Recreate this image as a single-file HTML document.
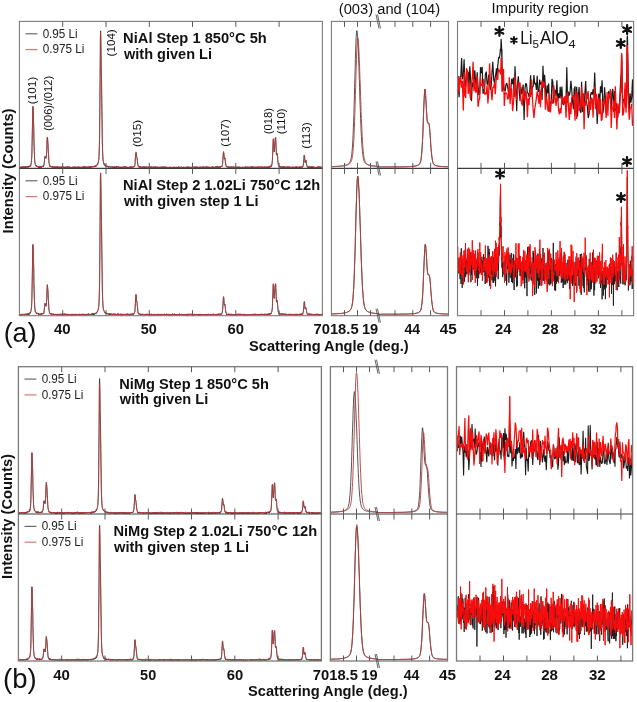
<!DOCTYPE html>
<html><head><meta charset="utf-8"><title>XRD figure</title>
<style>html,body{margin:0;padding:0;background:#fff;width:637px;height:702px;overflow:hidden}body{position:relative}</style>
</head><body>
<svg width="637" height="702" viewBox="0 0 637 702" style="position:absolute;left:0;top:0;will-change:transform"><rect width="637" height="702" fill="#fff"/><path d="M19.4 167.8L19.6 167.1L19.7 167.3L19.9 166.9L20.1 166.9L20.3 167.7L20.4 167.2L20.6 168.2L20.8 167.4L21.0 167.2L21.1 167.7L21.3 168.0L21.5 167.5L21.7 166.9L21.8 167.5L22.0 167.8L22.2 167.2L22.3 167.1L22.5 167.7L22.7 167.4L22.9 167.0L23.0 167.2L23.2 167.1L23.4 167.4L23.6 167.4L23.7 167.7L23.9 167.6L24.1 166.8L24.2 167.4L24.4 167.6L24.6 167.4L24.8 167.6L24.9 167.1L25.1 166.9L25.3 167.6L25.5 166.9L25.6 166.5L25.8 167.6L26.0 166.9L26.2 167.1L26.3 166.7L26.5 166.7L26.7 166.7L26.8 167.0L27.0 167.2L27.2 166.3L27.4 167.3L27.5 166.6L27.7 166.6L27.9 167.2L28.1 166.9L28.2 166.3L28.4 167.5L28.6 166.5L28.7 166.8L28.9 166.7L29.1 167.1L29.3 166.3L29.4 166.7L29.6 166.0L29.8 166.5L30.0 165.7L30.1 165.7L30.3 166.3L30.5 165.5L30.7 165.1L30.8 165.5L31.0 164.3L31.2 163.2L31.3 162.7L31.5 160.3L31.7 158.5L31.9 154.3L32.0 147.5L32.2 139.0L32.4 129.0L32.6 118.2L32.7 109.3L32.9 106.6L33.1 107.7L33.3 112.8L33.4 117.9L33.6 123.5L33.8 130.6L33.9 137.8L34.1 145.7L34.3 151.5L34.5 155.9L34.6 158.9L34.8 161.1L35.0 163.1L35.2 163.5L35.3 164.5L35.5 165.3L35.7 165.6L35.8 166.1L36.0 165.6L36.2 165.5L36.4 166.4L36.5 166.3L36.7 166.7L36.9 166.4L37.1 166.9L37.2 166.8L37.4 166.9L37.6 166.8L37.8 166.9L37.9 166.8L38.1 166.9L38.3 167.2L38.4 166.7L38.6 167.5L38.8 166.9L39.0 167.3L39.1 166.9L39.3 166.9L39.5 167.7L39.7 166.9L39.8 166.5L40.0 166.7L40.2 166.9L40.4 167.7L40.5 167.1L40.7 167.3L40.9 166.6L41.0 167.1L41.2 167.2L41.4 167.6L41.6 166.7L41.7 167.1L41.9 167.0L42.1 166.5L42.3 166.8L42.4 166.7L42.6 165.9L42.8 166.8L42.9 166.7L43.1 166.3L43.3 165.8L43.5 166.6L43.6 165.9L43.8 165.7L44.0 165.1L44.2 163.3L44.3 162.3L44.5 160.2L44.7 158.4L44.9 156.9L45.0 156.3L45.2 156.9L45.4 157.1L45.5 157.5L45.7 157.9L45.9 158.5L46.1 158.2L46.2 157.9L46.4 156.5L46.6 153.5L46.8 149.5L46.9 144.4L47.1 140.6L47.3 137.6L47.4 137.4L47.6 139.2L47.8 142.4L48.0 144.2L48.1 146.8L48.3 150.3L48.5 154.1L48.7 157.8L48.8 160.1L49.0 162.9L49.2 163.3L49.4 164.9L49.5 164.9L49.7 166.3L49.9 165.8L50.0 166.1L50.2 166.6L50.4 166.9L50.6 166.2L50.7 166.5L50.9 166.2L51.1 166.8L51.3 166.8L51.4 166.8L51.6 166.7L51.8 166.9L52.0 166.8L52.1 167.2L52.3 167.6L52.5 166.4L52.6 167.1L52.8 167.0L53.0 167.3L53.2 166.9L53.3 167.1L53.5 166.8L53.7 167.5L53.9 167.3L54.0 167.2L54.2 167.4L54.4 167.2L54.5 166.7L54.7 167.5L54.9 167.4L55.1 167.2L55.2 167.7L55.4 167.7L55.6 166.9L55.8 167.1L55.9 167.9L56.1 167.8L56.3 167.1L56.5 166.9L56.6 167.1L56.8 167.2L57.0 166.8L57.1 167.4L57.3 166.9L57.5 166.9L57.7 167.7L57.8 167.1L58.0 167.4L58.2 167.6L58.4 167.7L58.5 167.3L58.7 167.4L58.9 167.1L59.0 168.0L59.2 167.6L59.4 167.0L59.6 167.4L59.7 167.6L59.9 167.6L60.1 168.0L60.3 167.9L60.4 167.2L60.6 167.4L60.8 167.0L61.0 167.5L61.1 167.5L61.3 168.4L61.5 167.4L61.6 166.7L61.8 167.2L62.0 167.5L62.2 167.0L62.3 167.1L62.5 167.3L62.7 167.5L62.9 167.4L63.0 167.1L63.2 167.7L63.4 167.2L63.6 167.2L63.7 166.9L63.9 167.2L64.1 167.7L64.2 166.9L64.4 167.4L64.6 167.7L64.8 167.3L64.9 167.5L65.1 167.0L65.3 167.9L65.5 167.8L65.6 167.5L65.8 166.8L66.0 167.1L66.1 167.8L66.3 168.0L66.5 167.5L66.7 167.9L66.8 167.2L67.0 167.4L67.2 167.4L67.4 167.6L67.5 166.9L67.7 167.8L67.9 167.9L68.1 167.0L68.2 167.0L68.4 167.6L68.6 167.2L68.7 166.6L68.9 167.7L69.1 167.5L69.3 167.3L69.4 168.2L69.6 167.5L69.8 167.2L70.0 167.5L70.1 167.1L70.3 167.2L70.5 167.6L70.7 167.2L70.8 167.3L71.0 168.0L71.2 167.7L71.3 167.7L71.5 167.6L71.7 167.6L71.9 167.9L72.0 167.4L72.2 168.1L72.4 167.1L72.6 167.3L72.7 166.9L72.9 167.3L73.1 167.6L73.2 167.9L73.4 167.2L73.6 167.4L73.8 167.3L73.9 167.2L74.1 167.0L74.3 167.5L74.5 166.8L74.6 167.5L74.8 167.4L75.0 167.2L75.2 167.1L75.3 166.9L75.5 168.1L75.7 167.0L75.8 168.0L76.0 167.6L76.2 167.3L76.4 167.0L76.5 167.8L76.7 168.0L76.9 167.1L77.1 167.3L77.2 167.8L77.4 167.5L77.6 168.1L77.7 167.2L77.9 167.6L78.1 167.0L78.3 168.1L78.4 167.2L78.6 166.6L78.8 167.4L79.0 167.4L79.1 168.1L79.3 167.3L79.5 167.4L79.7 167.6L79.8 168.0L80.0 167.4L80.2 167.8L80.3 167.6L80.5 167.3L80.7 167.4L80.9 167.4L81.0 167.1L81.2 167.8L81.4 166.9L81.6 167.8L81.7 167.7L81.9 167.4L82.1 167.1L82.3 167.3L82.4 167.5L82.6 167.6L82.8 167.5L82.9 167.7L83.1 167.2L83.3 167.5L83.5 166.8L83.6 167.6L83.8 167.4L84.0 167.2L84.2 167.8L84.3 167.6L84.5 166.4L84.7 167.4L84.8 166.8L85.0 167.7L85.2 168.2L85.4 167.2L85.5 167.4L85.7 167.3L85.9 167.5L86.1 167.6L86.2 167.8L86.4 167.0L86.6 167.9L86.8 167.0L86.9 167.4L87.1 167.7L87.3 167.6L87.4 167.0L87.6 167.0L87.8 167.1L88.0 167.3L88.1 167.7L88.3 166.8L88.5 167.4L88.7 167.5L88.8 167.4L89.0 167.4L89.2 167.8L89.3 167.4L89.5 167.5L89.7 167.4L89.9 167.8L90.0 166.5L90.2 167.6L90.4 167.1L90.6 167.1L90.7 166.8L90.9 166.5L91.1 167.0L91.3 166.9L91.4 167.3L91.6 166.6L91.8 167.6L91.9 167.2L92.1 167.0L92.3 166.8L92.5 166.7L92.6 166.6L92.8 166.8L93.0 166.9L93.2 166.9L93.3 166.4L93.5 166.8L93.7 166.5L93.9 166.8L94.0 167.4L94.2 166.9L94.4 166.6L94.5 166.1L94.7 166.1L94.9 165.9L95.1 166.7L95.2 166.1L95.4 166.4L95.6 166.0L95.8 166.2L95.9 166.6L96.1 165.7L96.3 165.7L96.4 165.4L96.6 165.9L96.8 165.0L97.0 164.8L97.1 164.5L97.3 164.2L97.5 164.6L97.7 165.0L97.8 163.3L98.0 163.5L98.2 162.7L98.4 161.5L98.5 160.9L98.7 159.8L98.9 158.0L99.0 156.4L99.2 151.2L99.4 145.8L99.6 136.0L99.7 121.2L99.9 101.8L100.1 78.4L100.3 53.9L100.4 35.9L100.6 30.9L100.8 37.3L101.0 51.0L101.1 62.3L101.3 69.9L101.5 77.7L101.6 87.8L101.8 102.6L102.0 117.4L102.2 130.7L102.3 141.6L102.5 148.6L102.7 153.9L102.9 156.6L103.0 159.3L103.2 160.8L103.4 161.6L103.5 162.3L103.7 163.8L103.9 163.2L104.1 163.7L104.2 164.2L104.4 165.2L104.6 165.7L104.8 165.3L104.9 165.2L105.1 165.4L105.3 166.1L105.5 165.5L105.6 166.5L105.8 166.6L106.0 166.2L106.1 166.5L106.3 166.6L106.5 167.0L106.7 166.1L106.8 166.9L107.0 166.5L107.2 166.4L107.4 166.7L107.5 166.6L107.7 166.4L107.9 166.2L108.0 166.5L108.2 167.4L108.4 167.6L108.6 167.1L108.7 167.4L108.9 166.8L109.1 167.0L109.3 167.1L109.4 166.6L109.6 166.7L109.8 167.1L110.0 167.0L110.1 166.7L110.3 167.2L110.5 167.0L110.6 167.5L110.8 167.1L111.0 167.1L111.2 167.2L111.3 167.1L111.5 167.0L111.7 167.1L111.9 167.5L112.0 167.4L112.2 167.7L112.4 166.6L112.6 167.1L112.7 167.1L112.9 167.3L113.1 167.1L113.2 167.1L113.4 167.5L113.6 167.3L113.8 166.9L113.9 167.8L114.1 167.6L114.3 167.1L114.5 167.6L114.6 167.1L114.8 167.7L115.0 167.2L115.1 167.0L115.3 167.2L115.5 167.1L115.7 167.4L115.8 167.4L116.0 167.4L116.2 167.1L116.4 166.1L116.5 167.4L116.7 166.7L116.9 167.4L117.1 167.8L117.2 167.5L117.4 167.2L117.6 167.3L117.7 167.3L117.9 167.2L118.1 167.2L118.3 167.0L118.4 167.8L118.6 167.4L118.8 167.7L119.0 167.3L119.1 167.4L119.3 167.3L119.5 167.5L119.6 167.7L119.8 167.5L120.0 167.2L120.2 167.1L120.3 168.0L120.5 167.3L120.7 167.3L120.9 167.9L121.0 167.8L121.2 167.6L121.4 167.3L121.6 168.2L121.7 167.5L121.9 167.6L122.1 167.3L122.2 166.9L122.4 166.9L122.6 167.5L122.8 167.5L122.9 167.3L123.1 167.0L123.3 166.9L123.5 167.3L123.6 166.9L123.8 167.7L124.0 167.8L124.2 168.4L124.3 167.7L124.5 167.2L124.7 167.1L124.8 166.2L125.0 167.2L125.2 167.3L125.4 167.7L125.5 167.6L125.7 167.6L125.9 167.5L126.1 167.6L126.2 167.9L126.4 167.0L126.6 167.2L126.7 166.9L126.9 168.0L127.1 167.9L127.3 167.7L127.4 167.0L127.6 167.5L127.8 167.3L128.0 167.4L128.1 167.3L128.3 167.6L128.5 167.3L128.7 167.7L128.8 167.5L129.0 167.3L129.2 167.3L129.3 167.2L129.5 167.7L129.7 167.3L129.9 167.5L130.0 167.2L130.2 166.8L130.4 167.7L130.6 167.0L130.7 167.6L130.9 167.5L131.1 166.7L131.3 167.0L131.4 167.1L131.6 167.0L131.8 166.9L131.9 167.5L132.1 167.2L132.3 167.4L132.5 167.0L132.6 167.3L132.8 166.9L133.0 167.1L133.2 167.3L133.3 167.0L133.5 166.8L133.7 166.5L133.8 166.9L134.0 166.8L134.2 166.4L134.4 166.0L134.5 166.2L134.7 166.3L134.9 164.5L135.1 163.3L135.2 161.5L135.4 158.0L135.6 156.2L135.8 153.5L135.9 153.0L136.1 152.8L136.3 154.0L136.4 155.7L136.6 156.9L136.8 157.3L137.0 158.0L137.1 158.4L137.3 160.2L137.5 162.2L137.7 164.0L137.8 164.8L138.0 165.5L138.2 166.4L138.3 166.7L138.5 167.2L138.7 167.1L138.9 166.8L139.0 167.0L139.2 167.1L139.4 167.2L139.6 167.2L139.7 166.9L139.9 166.4L140.1 167.0L140.3 166.5L140.4 167.3L140.6 167.3L140.8 166.7L140.9 167.5L141.1 167.6L141.3 167.4L141.5 167.9L141.6 168.0L141.8 166.9L142.0 167.7L142.2 167.5L142.3 167.5L142.5 167.7L142.7 167.1L142.9 167.2L143.0 167.1L143.2 167.1L143.4 167.4L143.5 166.9L143.7 167.0L143.9 167.6L144.1 167.4L144.2 167.6L144.4 166.8L144.6 167.1L144.8 167.2L144.9 167.4L145.1 167.2L145.3 167.8L145.4 167.4L145.6 167.4L145.8 167.4L146.0 167.7L146.1 167.3L146.3 167.8L146.5 167.6L146.7 167.5L146.8 167.5L147.0 167.6L147.2 167.8L147.4 167.8L147.5 167.6L147.7 167.8L147.9 167.5L148.0 167.9L148.2 167.4L148.4 166.7L148.6 167.9L148.7 167.5L148.9 167.0L149.1 167.4L149.3 167.1L149.4 168.2L149.6 167.6L149.8 166.9L149.9 167.7L150.1 167.3L150.3 168.1L150.5 167.1L150.6 166.7L150.8 167.5L151.0 167.3L151.2 167.3L151.3 166.7L151.5 167.6L151.7 168.1L151.9 166.8L152.0 167.9L152.2 167.3L152.4 168.3L152.5 167.6L152.7 167.4L152.9 167.9L153.1 167.7L153.2 167.3L153.4 167.7L153.6 167.3L153.8 166.8L153.9 168.2L154.1 167.3L154.3 167.3L154.5 167.6L154.6 166.9L154.8 167.0L155.0 167.3L155.1 167.3L155.3 167.5L155.5 167.9L155.7 167.3L155.8 167.6L156.0 167.7L156.2 167.1L156.4 167.6L156.5 167.1L156.7 167.8L156.9 167.6L157.0 167.5L157.2 167.0L157.4 167.5L157.6 167.2L157.7 167.7L157.9 167.4L158.1 167.2L158.3 167.8L158.4 167.7L158.6 167.3L158.8 167.9L159.0 167.4L159.1 167.4L159.3 167.5L159.5 167.2L159.6 167.3L159.8 167.4L160.0 168.0L160.2 168.0L160.3 167.4L160.5 168.0L160.7 167.5L160.9 167.6L161.0 167.8L161.2 167.6L161.4 168.3L161.6 167.6L161.7 167.1L161.9 167.9L162.1 167.3L162.2 167.4L162.4 166.4L162.6 167.8L162.8 167.8L162.9 167.8L163.1 167.8L163.3 168.1L163.5 167.5L163.6 167.8L163.8 167.2L164.0 167.4L164.1 167.9L164.3 167.6L164.5 167.0L164.7 167.6L164.8 167.4L165.0 167.2L165.2 167.6L165.4 167.3L165.5 166.9L165.7 167.1L165.9 168.1L166.1 167.0L166.2 167.6L166.4 167.7L166.6 167.7L166.7 167.1L166.9 167.4L167.1 167.5L167.3 167.8L167.4 167.3L167.6 167.1L167.8 167.8L168.0 167.9L168.1 167.6L168.3 167.3L168.5 167.6L168.6 167.5L168.8 167.8L169.0 167.0L169.2 167.5L169.3 167.4L169.5 167.1L169.7 167.6L169.9 167.5L170.0 167.3L170.2 167.6L170.4 167.0L170.6 167.5L170.7 167.6L170.9 167.6L171.1 167.9L171.2 167.1L171.4 167.0L171.6 167.6L171.8 167.6L171.9 168.2L172.1 167.7L172.3 167.2L172.5 167.8L172.6 167.2L172.8 167.0L173.0 168.4L173.2 167.6L173.3 167.7L173.5 167.7L173.7 168.1L173.8 167.6L174.0 167.9L174.2 167.1L174.4 167.0L174.5 168.0L174.7 168.0L174.9 167.7L175.1 167.6L175.2 167.5L175.4 167.2L175.6 168.0L175.7 167.7L175.9 167.7L176.1 167.6L176.3 167.9L176.4 167.7L176.6 167.7L176.8 167.1L177.0 167.7L177.1 168.3L177.3 167.3L177.5 167.4L177.7 167.8L177.8 167.8L178.0 167.7L178.2 166.9L178.3 167.7L178.5 167.1L178.7 167.2L178.9 167.7L179.0 167.4L179.2 167.8L179.4 168.6L179.6 167.8L179.7 167.7L179.9 167.2L180.1 167.3L180.2 167.1L180.4 167.3L180.6 167.1L180.8 167.3L180.9 167.4L181.1 167.1L181.3 167.0L181.5 167.0L181.6 167.6L181.8 167.5L182.0 167.8L182.2 167.9L182.3 167.4L182.5 167.7L182.7 167.0L182.8 168.3L183.0 167.9L183.2 167.4L183.4 167.1L183.5 167.6L183.7 166.8L183.9 167.2L184.1 167.7L184.2 167.5L184.4 167.3L184.6 167.8L184.8 167.1L184.9 167.6L185.1 167.3L185.3 167.2L185.4 167.6L185.6 167.1L185.8 168.2L186.0 167.3L186.1 168.2L186.3 167.1L186.5 167.7L186.7 167.1L186.8 167.0L187.0 167.5L187.2 167.7L187.3 167.0L187.5 167.9L187.7 167.2L187.9 167.5L188.0 167.6L188.2 167.7L188.4 166.9L188.6 168.1L188.7 167.7L188.9 167.3L189.1 167.1L189.3 166.9L189.4 167.0L189.6 167.7L189.8 167.4L189.9 167.1L190.1 167.3L190.3 168.0L190.5 167.4L190.6 167.3L190.8 168.0L191.0 167.6L191.2 167.5L191.3 167.3L191.5 166.9L191.7 167.1L191.9 167.3L192.0 167.4L192.2 167.6L192.4 167.7L192.5 167.6L192.7 167.6L192.9 167.1L193.1 166.7L193.2 167.3L193.4 167.2L193.6 167.3L193.8 167.4L193.9 167.1L194.1 167.1L194.3 167.5L194.4 167.5L194.6 167.3L194.8 167.7L195.0 167.4L195.1 167.1L195.3 167.5L195.5 168.1L195.7 167.3L195.8 167.9L196.0 168.0L196.2 168.0L196.4 167.2L196.5 168.2L196.7 167.5L196.9 167.4L197.0 167.4L197.2 167.7L197.4 167.5L197.6 167.4L197.7 167.9L197.9 167.2L198.1 167.1L198.3 167.8L198.4 167.7L198.6 167.9L198.8 167.1L198.9 167.9L199.1 167.7L199.3 168.1L199.5 167.0L199.6 167.6L199.8 167.4L200.0 166.9L200.2 167.2L200.3 167.9L200.5 167.3L200.7 167.2L200.9 167.8L201.0 167.8L201.2 167.8L201.4 167.2L201.5 167.5L201.7 167.8L201.9 167.3L202.1 167.2L202.2 167.8L202.4 168.0L202.6 167.1L202.8 166.6L202.9 167.0L203.1 167.1L203.3 167.4L203.5 167.7L203.6 167.4L203.8 167.2L204.0 167.5L204.1 167.1L204.3 167.5L204.5 167.3L204.7 168.4L204.8 167.8L205.0 167.2L205.2 167.1L205.4 167.3L205.5 166.9L205.7 167.2L205.9 167.2L206.0 167.8L206.2 167.3L206.4 167.2L206.6 167.0L206.7 167.1L206.9 167.5L207.1 167.4L207.3 167.9L207.4 167.3L207.6 167.8L207.8 167.6L208.0 167.5L208.1 166.8L208.3 167.0L208.5 167.7L208.6 168.0L208.8 167.5L209.0 167.7L209.2 167.3L209.3 167.3L209.5 167.2L209.7 167.8L209.9 167.6L210.0 167.4L210.2 167.4L210.4 167.7L210.5 167.6L210.7 167.2L210.9 168.1L211.1 167.6L211.2 167.5L211.4 168.0L211.6 167.8L211.8 167.4L211.9 167.7L212.1 167.1L212.3 167.2L212.5 166.7L212.6 167.9L212.8 166.8L213.0 167.7L213.1 167.2L213.3 167.1L213.5 167.4L213.7 167.5L213.8 167.7L214.0 168.1L214.2 167.6L214.4 167.8L214.5 167.2L214.7 167.7L214.9 167.5L215.1 167.3L215.2 167.4L215.4 167.4L215.6 167.5L215.7 167.6L215.9 167.2L216.1 167.2L216.3 167.7L216.4 166.8L216.6 167.2L216.8 168.0L217.0 166.5L217.1 167.2L217.3 167.6L217.5 166.8L217.6 168.3L217.8 166.5L218.0 167.9L218.2 167.9L218.3 167.7L218.5 167.3L218.7 167.5L218.9 167.0L219.0 167.6L219.2 166.9L219.4 167.2L219.6 167.6L219.7 166.9L219.9 167.1L220.1 167.3L220.2 166.7L220.4 167.6L220.6 167.2L220.8 166.5L220.9 167.0L221.1 166.7L221.3 166.6L221.5 166.8L221.6 166.4L221.8 166.8L222.0 166.0L222.2 166.2L222.3 165.3L222.5 164.6L222.7 162.7L222.8 160.6L223.0 157.7L223.2 155.4L223.4 153.0L223.5 152.2L223.7 152.7L223.9 154.3L224.1 156.2L224.2 158.0L224.4 158.6L224.6 159.1L224.7 158.7L224.9 158.1L225.1 159.0L225.3 161.2L225.4 162.4L225.6 163.6L225.8 165.2L226.0 165.4L226.1 166.0L226.3 166.3L226.5 166.0L226.7 167.1L226.8 166.5L227.0 166.8L227.2 166.8L227.3 167.3L227.5 167.1L227.7 167.2L227.9 166.6L228.0 167.2L228.2 166.7L228.4 167.4L228.6 167.4L228.7 167.3L228.9 168.0L229.1 167.5L229.2 167.5L229.4 167.4L229.6 167.3L229.8 167.7L229.9 167.8L230.1 166.9L230.3 167.7L230.5 167.6L230.6 167.7L230.8 167.6L231.0 167.0L231.2 167.0L231.3 168.0L231.5 167.5L231.7 166.9L231.8 167.5L232.0 167.3L232.2 166.8L232.4 166.6L232.5 166.9L232.7 167.5L232.9 167.4L233.1 167.3L233.2 167.5L233.4 167.7L233.6 166.7L233.8 167.3L233.9 167.2L234.1 167.0L234.3 167.3L234.4 167.4L234.6 167.4L234.8 166.9L235.0 167.3L235.1 168.2L235.3 167.1L235.5 166.9L235.7 167.6L235.8 167.7L236.0 167.6L236.2 167.1L236.3 167.8L236.5 167.2L236.7 167.1L236.9 167.2L237.0 167.4L237.2 167.7L237.4 167.7L237.6 167.5L237.7 167.8L237.9 167.5L238.1 167.8L238.3 167.0L238.4 166.9L238.6 167.7L238.8 167.0L238.9 167.4L239.1 167.4L239.3 167.3L239.5 167.3L239.6 168.0L239.8 166.6L240.0 167.8L240.2 168.3L240.3 167.5L240.5 167.5L240.7 167.7L240.8 168.1L241.0 167.1L241.2 167.5L241.4 167.4L241.5 167.7L241.7 167.5L241.9 167.7L242.1 167.3L242.2 167.5L242.4 167.2L242.6 167.2L242.8 167.4L242.9 167.4L243.1 167.1L243.3 168.0L243.4 167.4L243.6 167.0L243.8 167.9L244.0 167.2L244.1 167.6L244.3 167.5L244.5 167.6L244.7 167.5L244.8 167.3L245.0 167.5L245.2 168.2L245.4 166.7L245.5 167.5L245.7 167.6L245.9 167.1L246.0 167.0L246.2 168.2L246.4 167.3L246.6 168.2L246.7 167.7L246.9 167.5L247.1 167.6L247.3 167.7L247.4 167.9L247.6 167.6L247.8 167.5L247.9 167.5L248.1 167.9L248.3 167.8L248.5 167.1L248.6 167.2L248.8 167.6L249.0 167.3L249.2 167.3L249.3 167.1L249.5 167.4L249.7 167.6L249.9 167.8L250.0 167.5L250.2 168.2L250.4 167.4L250.5 168.6L250.7 167.8L250.9 167.6L251.1 167.3L251.2 166.5L251.4 167.4L251.6 167.5L251.8 168.1L251.9 167.0L252.1 168.1L252.3 167.4L252.5 167.7L252.6 166.6L252.8 167.5L253.0 167.3L253.1 167.7L253.3 167.5L253.5 167.1L253.7 167.8L253.8 167.7L254.0 167.7L254.2 167.8L254.4 167.8L254.5 167.5L254.7 167.0L254.9 167.0L255.0 167.9L255.2 167.7L255.4 167.5L255.6 167.3L255.7 167.5L255.9 167.5L256.1 167.3L256.3 167.2L256.4 168.2L256.6 167.5L256.8 167.2L257.0 167.0L257.1 167.2L257.3 167.7L257.5 167.7L257.6 167.4L257.8 167.5L258.0 167.3L258.2 167.1L258.3 167.9L258.5 167.6L258.7 168.3L258.9 167.2L259.0 167.4L259.2 167.7L259.4 167.3L259.5 166.9L259.7 167.1L259.9 167.5L260.1 167.5L260.2 167.4L260.4 167.8L260.6 167.8L260.8 167.5L260.9 167.4L261.1 167.3L261.3 167.6L261.5 167.7L261.6 167.4L261.8 167.6L262.0 167.3L262.1 166.9L262.3 167.1L262.5 167.7L262.7 167.6L262.8 168.0L263.0 167.4L263.2 167.7L263.4 167.8L263.5 167.7L263.7 167.2L263.9 167.3L264.1 167.4L264.2 167.0L264.4 167.5L264.6 167.7L264.7 167.2L264.9 168.0L265.1 167.2L265.3 167.3L265.4 167.2L265.6 167.1L265.8 167.5L266.0 167.3L266.1 167.9L266.3 167.5L266.5 167.5L266.6 167.2L266.8 166.8L267.0 167.2L267.2 166.9L267.3 167.6L267.5 167.2L267.7 167.8L267.9 167.4L268.0 167.5L268.2 167.2L268.4 167.2L268.6 167.3L268.7 167.4L268.9 166.8L269.1 167.2L269.2 167.9L269.4 166.9L269.6 166.8L269.8 166.6L269.9 166.3L270.1 167.2L270.3 166.7L270.5 166.7L270.6 167.1L270.8 167.3L271.0 165.9L271.1 166.4L271.3 166.1L271.5 165.7L271.7 165.4L271.8 164.7L272.0 164.4L272.2 162.7L272.4 160.4L272.5 157.6L272.7 153.2L272.9 148.0L273.1 142.9L273.2 139.9L273.4 139.1L273.6 141.6L273.7 145.3L273.9 149.1L274.1 151.1L274.3 151.9L274.4 150.7L274.6 147.3L274.8 145.0L275.0 142.7L275.1 140.5L275.3 138.4L275.5 138.0L275.7 137.8L275.8 140.5L276.0 144.9L276.2 149.6L276.3 153.2L276.5 155.1L276.7 155.2L276.9 154.1L277.0 153.4L277.2 153.2L277.4 154.6L277.6 156.2L277.7 159.2L277.9 161.6L278.1 163.0L278.2 164.4L278.4 164.7L278.6 165.1L278.8 165.7L278.9 166.6L279.1 166.7L279.3 166.3L279.5 167.0L279.6 166.5L279.8 167.3L280.0 167.0L280.2 166.7L280.3 167.2L280.5 166.7L280.7 166.7L280.8 166.5L281.0 167.1L281.2 167.1L281.4 167.1L281.5 167.0L281.7 167.7L281.9 167.0L282.1 166.9L282.2 167.6L282.4 167.7L282.6 167.3L282.8 166.6L282.9 167.0L283.1 167.5L283.3 167.3L283.4 167.8L283.6 166.8L283.8 167.5L284.0 167.1L284.1 167.8L284.3 167.3L284.5 167.7L284.7 167.1L284.8 166.8L285.0 167.0L285.2 167.1L285.3 167.0L285.5 167.8L285.7 167.8L285.9 167.5L286.0 167.0L286.2 167.3L286.4 167.1L286.6 167.9L286.7 167.5L286.9 167.6L287.1 167.3L287.3 166.7L287.4 167.1L287.6 167.0L287.8 167.5L287.9 167.4L288.1 167.1L288.3 167.3L288.5 168.0L288.6 167.1L288.8 167.1L289.0 167.3L289.2 167.2L289.3 167.3L289.5 167.6L289.7 168.0L289.8 166.8L290.0 167.4L290.2 167.4L290.4 167.4L290.5 167.4L290.7 167.3L290.9 167.8L291.1 167.3L291.2 167.4L291.4 167.4L291.6 167.5L291.8 167.4L291.9 167.8L292.1 167.4L292.3 167.5L292.4 167.4L292.6 167.1L292.8 167.1L293.0 167.1L293.1 167.5L293.3 167.2L293.5 167.1L293.7 167.5L293.8 167.6L294.0 166.8L294.2 168.0L294.4 167.4L294.5 167.4L294.7 167.8L294.9 167.5L295.0 167.2L295.2 168.2L295.4 167.1L295.6 167.4L295.7 167.7L295.9 167.1L296.1 167.4L296.3 167.6L296.4 168.3L296.6 167.1L296.8 167.4L296.9 167.6L297.1 167.4L297.3 167.0L297.5 167.6L297.6 167.4L297.8 167.6L298.0 167.8L298.2 167.8L298.3 167.5L298.5 167.5L298.7 167.0L298.9 167.3L299.0 167.5L299.2 167.2L299.4 167.4L299.5 167.1L299.7 167.9L299.9 168.1L300.1 167.2L300.2 167.5L300.4 167.2L300.6 167.7L300.8 167.4L300.9 167.3L301.1 167.2L301.3 167.3L301.4 166.8L301.6 167.4L301.8 166.8L302.0 167.2L302.1 167.0L302.3 167.3L302.5 166.8L302.7 167.0L302.8 166.1L303.0 166.3L303.2 165.4L303.4 164.7L303.5 163.3L303.7 161.8L303.9 158.6L304.0 157.3L304.2 155.2L304.4 156.1L304.6 156.2L304.7 158.5L304.9 160.0L305.1 162.4L305.3 161.9L305.4 162.4L305.6 161.6L305.8 160.5L306.0 160.8L306.1 161.6L306.3 162.3L306.5 163.9L306.6 164.5L306.8 165.4L307.0 165.9L307.2 166.6L307.3 167.4L307.5 167.0L307.7 167.0L307.9 166.8L308.0 166.8L308.2 167.7L308.4 166.8L308.5 166.9L308.7 167.2L308.9 167.1L309.1 168.0L309.2 166.5L309.4 167.4L309.6 167.6L309.8 167.0L309.9 167.1L310.1 167.5L310.3 167.9L310.5 167.1L310.6 166.8L310.8 167.7L311.0 167.9L311.1 167.3L311.3 166.6L311.5 167.9L311.7 167.3L311.8 167.8L312.0 167.4L312.2 167.3L312.4 167.3L312.5 167.9L312.7 167.9L312.9 166.7L313.1 167.1L313.2 168.1L313.4 167.3L313.6 167.0L313.7 167.4L313.9 167.4L314.1 167.4L314.3 167.3L314.4 167.3L314.6 167.3L314.8 167.6L315.0 167.2L315.1 167.4L315.3 167.4L315.5 167.9L315.6 167.6L315.8 167.4L316.0 167.7L316.2 167.6L316.3 167.8L316.5 167.6L316.7 168.1L316.9 167.9L317.0 167.5L317.2 167.3L317.4 167.8L317.6 167.7L317.7 167.4L317.9 167.0L318.1 166.8L318.2 167.6L318.4 167.7L318.6 167.8L318.8 167.0L318.9 167.8L319.1 167.3L319.3 167.6L319.5 167.6L319.6 167.2L319.8 167.3L320.0 166.8L320.1 167.2L320.3 166.8L320.5 167.6L320.7 167.5L320.8 167.8L321.0 167.6L321.2 167.3L321.4 167.6L321.5 167.3L321.7 167.7L321.9 167.6L322.1 167.1L322.2 167.5L322.4 167.5" fill="none" stroke="#2a2a2a" stroke-width="0.8"/><path d="M19.4 167.1L19.6 167.2L19.7 167.0L19.9 166.8L20.1 166.9L20.3 166.7L20.4 167.1L20.6 167.6L20.8 166.9L21.0 166.9L21.1 167.3L21.3 167.2L21.5 167.1L21.7 166.7L21.8 167.1L22.0 167.3L22.2 166.6L22.3 166.9L22.5 166.4L22.7 166.6L22.9 166.4L23.0 167.0L23.2 166.6L23.4 167.1L23.6 167.1L23.7 166.9L23.9 166.1L24.1 166.8L24.2 167.0L24.4 167.0L24.6 166.4L24.8 166.8L24.9 166.6L25.1 166.7L25.3 167.3L25.5 166.6L25.6 166.9L25.8 167.2L26.0 166.7L26.2 166.8L26.3 166.9L26.5 166.9L26.7 166.4L26.8 166.8L27.0 167.3L27.2 166.2L27.4 167.0L27.5 166.7L27.7 166.4L27.9 167.3L28.1 166.9L28.2 166.1L28.4 166.5L28.6 166.7L28.7 166.3L28.9 166.6L29.1 166.2L29.3 166.4L29.4 166.6L29.6 165.7L29.8 165.9L30.0 165.5L30.1 165.6L30.3 164.9L30.5 164.9L30.7 164.7L30.8 164.7L31.0 164.3L31.2 162.7L31.3 161.8L31.5 160.7L31.7 157.1L31.9 153.4L32.0 147.4L32.2 139.4L32.4 128.9L32.6 117.7L32.7 109.3L32.9 106.1L33.1 108.7L33.3 112.5L33.4 117.6L33.6 123.4L33.8 130.1L33.9 137.8L34.1 144.8L34.3 151.3L34.5 155.7L34.6 159.5L34.8 161.5L35.0 162.6L35.2 163.8L35.3 164.1L35.5 165.0L35.7 164.9L35.8 165.4L36.0 165.0L36.2 165.7L36.4 165.2L36.5 165.2L36.7 165.9L36.9 165.8L37.1 166.2L37.2 167.0L37.4 166.0L37.6 166.1L37.8 166.5L37.9 166.6L38.1 166.4L38.3 166.5L38.4 166.8L38.6 166.8L38.8 166.2L39.0 166.6L39.1 166.6L39.3 166.3L39.5 166.8L39.7 166.4L39.8 167.0L40.0 166.7L40.2 166.7L40.4 166.5L40.5 166.6L40.7 166.0L40.9 166.3L41.0 166.8L41.2 165.9L41.4 166.9L41.6 166.0L41.7 166.9L41.9 166.3L42.1 166.8L42.3 166.5L42.4 165.9L42.6 166.8L42.8 166.8L42.9 166.2L43.1 166.0L43.3 165.9L43.5 165.5L43.6 165.9L43.8 164.8L44.0 164.3L44.2 162.9L44.3 161.5L44.5 159.5L44.7 158.5L44.9 156.6L45.0 156.3L45.2 156.2L45.4 156.5L45.5 157.1L45.7 157.5L45.9 158.0L46.1 158.1L46.2 157.6L46.4 155.7L46.6 153.1L46.8 149.8L46.9 144.1L47.1 139.3L47.3 137.0L47.4 137.4L47.6 138.4L47.8 141.3L48.0 143.6L48.1 145.9L48.3 150.2L48.5 153.6L48.7 157.1L48.8 159.6L49.0 162.1L49.2 163.2L49.4 164.3L49.5 164.6L49.7 164.9L49.9 166.1L50.0 165.7L50.2 166.1L50.4 166.1L50.6 166.1L50.7 166.2L50.9 166.6L51.1 166.4L51.3 166.5L51.4 166.6L51.6 167.1L51.8 166.9L52.0 166.9L52.1 166.6L52.3 166.3L52.5 167.1L52.6 167.2L52.8 166.8L53.0 167.1L53.2 167.2L53.3 167.2L53.5 167.2L53.7 166.8L53.9 167.5L54.0 166.5L54.2 167.3L54.4 167.1L54.5 167.3L54.7 167.6L54.9 167.5L55.1 166.6L55.2 166.4L55.4 167.3L55.6 166.7L55.8 167.0L55.9 167.3L56.1 166.5L56.3 166.3L56.5 167.1L56.6 167.1L56.8 167.0L57.0 167.1L57.1 166.8L57.3 166.5L57.5 167.0L57.7 166.7L57.8 166.5L58.0 167.3L58.2 167.1L58.4 167.2L58.5 166.7L58.7 166.9L58.9 166.7L59.0 166.8L59.2 167.2L59.4 166.8L59.6 167.2L59.7 167.2L59.9 167.8L60.1 166.6L60.3 167.4L60.4 167.1L60.6 167.1L60.8 166.6L61.0 166.9L61.1 167.4L61.3 167.1L61.5 167.1L61.6 167.0L61.8 167.5L62.0 167.1L62.2 166.3L62.3 166.9L62.5 166.4L62.7 166.0L62.9 166.9L63.0 167.6L63.2 167.1L63.4 166.7L63.6 166.8L63.7 167.5L63.9 167.2L64.1 167.1L64.2 167.1L64.4 167.1L64.6 167.4L64.8 167.3L64.9 167.2L65.1 166.8L65.3 167.3L65.5 166.9L65.6 167.5L65.8 166.7L66.0 167.1L66.1 167.1L66.3 166.7L66.5 167.7L66.7 167.6L66.8 167.0L67.0 167.4L67.2 167.3L67.4 166.2L67.5 167.2L67.7 167.1L67.9 167.2L68.1 166.8L68.2 167.0L68.4 167.1L68.6 167.6L68.7 167.3L68.9 167.1L69.1 167.7L69.3 166.9L69.4 167.0L69.6 166.5L69.8 167.7L70.0 167.5L70.1 167.5L70.3 167.4L70.5 167.2L70.7 167.2L70.8 167.0L71.0 167.1L71.2 167.2L71.3 167.7L71.5 167.3L71.7 167.1L71.9 166.9L72.0 166.9L72.2 167.7L72.4 167.3L72.6 167.2L72.7 167.0L72.9 166.7L73.1 167.1L73.2 167.4L73.4 167.0L73.6 167.1L73.8 167.1L73.9 167.2L74.1 166.6L74.3 167.0L74.5 166.8L74.6 167.4L74.8 166.9L75.0 167.3L75.2 167.7L75.3 167.0L75.5 166.9L75.7 167.2L75.8 167.1L76.0 166.8L76.2 167.3L76.4 167.8L76.5 167.0L76.7 167.1L76.9 166.8L77.1 167.2L77.2 166.7L77.4 166.7L77.6 167.6L77.7 166.8L77.9 167.5L78.1 167.7L78.3 167.2L78.4 167.3L78.6 167.8L78.8 167.0L79.0 166.9L79.1 166.6L79.3 167.1L79.5 167.6L79.7 167.4L79.8 166.8L80.0 166.8L80.2 166.9L80.3 167.2L80.5 167.0L80.7 167.2L80.9 167.2L81.0 167.0L81.2 167.1L81.4 167.2L81.6 167.1L81.7 167.3L81.9 167.7L82.1 167.3L82.3 167.1L82.4 166.5L82.6 167.2L82.8 166.4L82.9 166.6L83.1 167.4L83.3 167.3L83.5 167.0L83.6 166.5L83.8 166.9L84.0 166.8L84.2 167.3L84.3 167.9L84.5 167.1L84.7 166.8L84.8 166.6L85.0 167.0L85.2 167.0L85.4 166.6L85.5 167.1L85.7 166.6L85.9 167.4L86.1 167.4L86.2 167.4L86.4 166.9L86.6 167.2L86.8 167.0L86.9 166.9L87.1 166.9L87.3 166.6L87.4 166.5L87.6 167.3L87.8 166.9L88.0 167.1L88.1 167.3L88.3 166.4L88.5 166.7L88.7 167.0L88.8 167.1L89.0 166.8L89.2 167.3L89.3 167.0L89.5 166.5L89.7 166.6L89.9 167.2L90.0 167.1L90.2 166.2L90.4 167.4L90.6 167.1L90.7 167.3L90.9 166.7L91.1 166.7L91.3 166.4L91.4 167.7L91.6 166.7L91.8 167.3L91.9 166.5L92.1 166.8L92.3 166.1L92.5 166.6L92.6 167.0L92.8 166.2L93.0 167.0L93.2 166.7L93.3 166.2L93.5 166.4L93.7 166.4L93.9 166.5L94.0 166.3L94.2 166.1L94.4 166.3L94.5 166.0L94.7 165.8L94.9 166.2L95.1 166.5L95.2 165.6L95.4 166.1L95.6 165.7L95.8 165.5L95.9 166.1L96.1 165.5L96.3 166.1L96.4 165.2L96.6 165.4L96.8 165.0L97.0 164.7L97.1 164.9L97.3 164.4L97.5 164.4L97.7 163.8L97.8 163.1L98.0 162.9L98.2 162.4L98.4 162.0L98.5 160.5L98.7 159.6L98.9 157.4L99.0 155.9L99.2 151.5L99.4 145.1L99.6 136.0L99.7 122.1L99.9 101.9L100.1 78.7L100.3 54.9L100.4 37.0L100.6 32.5L100.8 39.4L101.0 51.6L101.1 63.0L101.3 70.5L101.5 78.5L101.6 88.8L101.8 102.9L102.0 117.5L102.2 131.8L102.3 141.3L102.5 148.9L102.7 153.8L102.9 157.1L103.0 159.2L103.2 161.3L103.4 161.2L103.5 161.8L103.7 162.6L103.9 163.0L104.1 164.1L104.2 164.5L104.4 164.1L104.6 164.2L104.8 164.8L104.9 165.6L105.1 164.3L105.3 165.6L105.5 165.2L105.6 166.1L105.8 165.4L106.0 165.8L106.1 165.5L106.3 165.7L106.5 166.6L106.7 166.5L106.8 166.1L107.0 166.0L107.2 165.7L107.4 166.3L107.5 166.4L107.7 166.4L107.9 166.5L108.0 166.1L108.2 166.5L108.4 166.6L108.6 167.1L108.7 167.3L108.9 166.6L109.1 166.4L109.3 166.7L109.4 166.5L109.6 166.5L109.8 166.7L110.0 166.4L110.1 167.0L110.3 166.8L110.5 166.9L110.6 166.8L110.8 166.6L111.0 166.5L111.2 166.8L111.3 166.7L111.5 167.0L111.7 166.9L111.9 166.4L112.0 166.9L112.2 166.5L112.4 166.7L112.6 166.8L112.7 166.2L112.9 167.0L113.1 167.0L113.2 166.9L113.4 166.8L113.6 166.8L113.8 166.6L113.9 166.9L114.1 166.8L114.3 167.0L114.5 166.6L114.6 167.1L114.8 167.1L115.0 167.0L115.1 166.9L115.3 167.2L115.5 166.4L115.7 167.2L115.8 167.1L116.0 167.1L116.2 167.2L116.4 166.8L116.5 167.0L116.7 167.3L116.9 167.2L117.1 167.1L117.2 166.5L117.4 167.3L117.6 167.5L117.7 167.4L117.9 167.2L118.1 166.5L118.3 167.4L118.4 167.0L118.6 166.2L118.8 167.2L119.0 166.6L119.1 166.6L119.3 166.9L119.5 167.5L119.6 167.0L119.8 167.2L120.0 167.7L120.2 167.6L120.3 167.1L120.5 167.0L120.7 166.7L120.9 166.9L121.0 167.2L121.2 167.2L121.4 167.1L121.6 167.4L121.7 166.8L121.9 167.1L122.1 167.4L122.2 167.3L122.4 167.5L122.6 167.2L122.8 167.0L122.9 167.2L123.1 166.8L123.3 166.5L123.5 167.3L123.6 167.1L123.8 167.2L124.0 166.5L124.2 167.0L124.3 166.9L124.5 166.8L124.7 166.3L124.8 167.0L125.0 167.4L125.2 167.2L125.4 166.9L125.5 167.1L125.7 167.4L125.9 166.1L126.1 167.1L126.2 167.3L126.4 167.3L126.6 167.7L126.7 167.5L126.9 167.2L127.1 167.2L127.3 167.4L127.4 166.9L127.6 167.1L127.8 167.4L128.0 167.8L128.1 167.0L128.3 167.1L128.5 167.2L128.7 167.6L128.8 167.1L129.0 167.6L129.2 166.7L129.3 167.0L129.5 167.0L129.7 167.3L129.9 167.4L130.0 166.5L130.2 166.7L130.4 167.2L130.6 166.8L130.7 166.5L130.9 167.4L131.1 167.2L131.3 167.2L131.4 166.8L131.6 167.3L131.8 166.9L131.9 167.3L132.1 166.6L132.3 166.6L132.5 167.0L132.6 166.6L132.8 167.1L133.0 166.9L133.2 166.4L133.3 166.7L133.5 166.5L133.7 166.9L133.8 166.3L134.0 166.2L134.2 166.7L134.4 166.8L134.5 166.4L134.7 165.2L134.9 164.3L135.1 163.5L135.2 161.0L135.4 158.3L135.6 155.9L135.8 153.6L135.9 151.9L136.1 152.0L136.3 153.5L136.4 155.7L136.6 156.3L136.8 157.1L137.0 157.8L137.1 158.8L137.3 159.9L137.5 161.8L137.7 162.7L137.8 164.1L138.0 164.7L138.2 166.0L138.3 166.0L138.5 166.0L138.7 166.3L138.9 166.5L139.0 166.9L139.2 166.1L139.4 166.4L139.6 166.7L139.7 167.7L139.9 167.2L140.1 166.9L140.3 167.2L140.4 167.7L140.6 166.9L140.8 166.9L140.9 167.4L141.1 167.2L141.3 167.3L141.5 166.9L141.6 167.7L141.8 167.6L142.0 167.3L142.2 167.3L142.3 166.4L142.5 167.3L142.7 167.0L142.9 167.2L143.0 167.3L143.2 167.0L143.4 166.5L143.5 167.2L143.7 166.8L143.9 167.0L144.1 166.9L144.2 167.0L144.4 166.3L144.6 167.5L144.8 167.2L144.9 167.5L145.1 167.8L145.3 167.1L145.4 166.5L145.6 166.8L145.8 166.7L146.0 167.0L146.1 167.2L146.3 166.4L146.5 167.3L146.7 166.6L146.8 167.3L147.0 167.1L147.2 167.0L147.4 167.1L147.5 167.0L147.7 166.9L147.9 166.6L148.0 167.1L148.2 167.8L148.4 167.8L148.6 167.6L148.7 167.4L148.9 166.9L149.1 167.7L149.3 167.1L149.4 167.1L149.6 167.1L149.8 167.2L149.9 167.0L150.1 167.1L150.3 166.8L150.5 167.0L150.6 168.0L150.8 167.1L151.0 167.1L151.2 167.4L151.3 167.4L151.5 166.8L151.7 167.1L151.9 167.5L152.0 167.3L152.2 167.2L152.4 167.7L152.5 166.9L152.7 167.2L152.9 167.0L153.1 167.7L153.2 166.5L153.4 166.9L153.6 167.0L153.8 167.4L153.9 167.4L154.1 167.7L154.3 166.6L154.5 167.4L154.6 167.1L154.8 166.9L155.0 167.4L155.1 166.9L155.3 166.4L155.5 167.0L155.7 166.7L155.8 166.9L156.0 167.3L156.2 167.3L156.4 167.7L156.5 167.1L156.7 166.6L156.9 166.9L157.0 166.9L157.2 166.8L157.4 167.3L157.6 167.0L157.7 166.5L157.9 167.4L158.1 167.1L158.3 167.3L158.4 167.2L158.6 167.4L158.8 167.2L159.0 167.6L159.1 167.3L159.3 167.3L159.5 167.3L159.6 166.7L159.8 167.1L160.0 167.1L160.2 167.3L160.3 166.7L160.5 167.8L160.7 167.2L160.9 166.8L161.0 166.6L161.2 167.1L161.4 167.1L161.6 166.9L161.7 167.2L161.9 167.0L162.1 167.4L162.2 166.9L162.4 167.2L162.6 167.5L162.8 168.1L162.9 166.8L163.1 167.0L163.3 166.9L163.5 167.5L163.6 166.8L163.8 167.0L164.0 167.2L164.1 166.8L164.3 166.8L164.5 167.0L164.7 166.4L164.8 166.7L165.0 167.0L165.2 167.2L165.4 167.1L165.5 166.6L165.7 167.0L165.9 167.5L166.1 167.4L166.2 167.2L166.4 166.9L166.6 167.4L166.7 167.0L166.9 166.8L167.1 166.9L167.3 167.7L167.4 167.3L167.6 167.6L167.8 167.0L168.0 167.5L168.1 167.0L168.3 167.1L168.5 168.1L168.6 167.5L168.8 167.0L169.0 167.2L169.2 167.3L169.3 167.6L169.5 167.0L169.7 166.6L169.9 167.1L170.0 167.2L170.2 167.2L170.4 167.6L170.6 167.3L170.7 167.5L170.9 166.8L171.1 167.5L171.2 167.9L171.4 167.5L171.6 167.3L171.8 167.2L171.9 167.8L172.1 166.9L172.3 167.1L172.5 167.3L172.6 167.4L172.8 167.0L173.0 167.3L173.2 167.1L173.3 167.2L173.5 167.1L173.7 166.8L173.8 167.2L174.0 167.5L174.2 166.8L174.4 167.1L174.5 167.4L174.7 166.8L174.9 167.3L175.1 166.8L175.2 167.6L175.4 168.0L175.6 167.9L175.7 167.1L175.9 167.4L176.1 167.2L176.3 167.2L176.4 167.7L176.6 166.7L176.8 167.6L177.0 167.2L177.1 167.7L177.3 167.3L177.5 167.0L177.7 167.3L177.8 167.4L178.0 167.2L178.2 167.4L178.3 167.0L178.5 166.4L178.7 167.5L178.9 167.4L179.0 167.2L179.2 167.2L179.4 167.6L179.6 167.0L179.7 166.9L179.9 167.1L180.1 167.6L180.2 166.7L180.4 167.6L180.6 167.0L180.8 166.8L180.9 167.6L181.1 167.2L181.3 166.7L181.5 167.1L181.6 167.5L181.8 167.6L182.0 167.0L182.2 167.3L182.3 167.4L182.5 167.0L182.7 167.3L182.8 167.2L183.0 167.0L183.2 167.0L183.4 167.2L183.5 167.2L183.7 167.0L183.9 167.0L184.1 167.6L184.2 167.3L184.4 167.5L184.6 167.6L184.8 167.4L184.9 168.0L185.1 166.9L185.3 167.5L185.4 167.1L185.6 167.8L185.8 167.8L186.0 166.5L186.1 166.8L186.3 167.4L186.5 167.5L186.7 167.4L186.8 167.2L187.0 167.3L187.2 167.4L187.3 167.2L187.5 167.5L187.7 166.4L187.9 167.4L188.0 166.8L188.2 167.5L188.4 167.1L188.6 166.9L188.7 167.3L188.9 166.9L189.1 166.9L189.3 166.6L189.4 167.2L189.6 167.4L189.8 167.5L189.9 167.1L190.1 167.6L190.3 167.2L190.5 167.2L190.6 167.4L190.8 167.6L191.0 167.1L191.2 167.1L191.3 167.1L191.5 167.2L191.7 166.9L191.9 167.5L192.0 167.0L192.2 167.3L192.4 166.9L192.5 167.3L192.7 167.3L192.9 167.0L193.1 167.9L193.2 167.3L193.4 167.8L193.6 167.5L193.8 167.0L193.9 167.1L194.1 167.3L194.3 167.2L194.4 167.2L194.6 167.1L194.8 166.6L195.0 167.1L195.1 166.4L195.3 167.3L195.5 166.9L195.7 166.9L195.8 167.1L196.0 167.3L196.2 166.7L196.4 166.6L196.5 166.8L196.7 166.5L196.9 166.8L197.0 167.7L197.2 166.8L197.4 167.4L197.6 166.7L197.7 167.3L197.9 167.1L198.1 167.2L198.3 167.4L198.4 167.8L198.6 167.3L198.8 167.2L198.9 166.8L199.1 167.4L199.3 167.1L199.5 167.5L199.6 167.2L199.8 167.8L200.0 166.5L200.2 167.1L200.3 167.5L200.5 167.1L200.7 166.9L200.9 167.1L201.0 166.7L201.2 167.2L201.4 168.0L201.5 167.6L201.7 166.8L201.9 166.9L202.1 167.0L202.2 167.5L202.4 166.9L202.6 166.9L202.8 167.5L202.9 167.5L203.1 167.1L203.3 166.8L203.5 166.6L203.6 166.9L203.8 166.4L204.0 167.4L204.1 167.0L204.3 167.3L204.5 167.8L204.7 167.6L204.8 166.8L205.0 167.5L205.2 167.6L205.4 166.9L205.5 166.8L205.7 167.1L205.9 166.6L206.0 167.7L206.2 166.3L206.4 166.8L206.6 167.1L206.7 167.1L206.9 167.2L207.1 167.3L207.3 167.1L207.4 167.6L207.6 166.4L207.8 167.2L208.0 166.9L208.1 167.2L208.3 167.3L208.5 166.9L208.6 166.9L208.8 167.5L209.0 167.3L209.2 166.9L209.3 167.9L209.5 168.0L209.7 166.7L209.9 167.3L210.0 168.0L210.2 167.4L210.4 167.2L210.5 167.1L210.7 167.0L210.9 167.1L211.1 167.0L211.2 167.4L211.4 167.0L211.6 167.0L211.8 166.7L211.9 167.1L212.1 166.8L212.3 167.1L212.5 167.5L212.6 167.3L212.8 167.3L213.0 167.3L213.1 167.2L213.3 167.1L213.5 167.0L213.7 167.4L213.8 166.8L214.0 167.6L214.2 167.2L214.4 166.9L214.5 167.0L214.7 166.9L214.9 167.2L215.1 166.9L215.2 167.5L215.4 166.9L215.6 166.3L215.7 166.9L215.9 166.4L216.1 167.1L216.3 167.5L216.4 167.3L216.6 166.6L216.8 166.8L217.0 167.7L217.1 167.2L217.3 167.1L217.5 167.5L217.6 167.9L217.8 167.5L218.0 167.1L218.2 167.2L218.3 167.3L218.5 166.8L218.7 166.7L218.9 167.0L219.0 166.7L219.2 167.0L219.4 167.0L219.6 167.8L219.7 166.7L219.9 166.9L220.1 166.8L220.2 167.0L220.4 167.2L220.6 166.6L220.8 166.5L220.9 166.1L221.1 166.3L221.3 166.8L221.5 166.5L221.6 166.0L221.8 166.1L222.0 166.0L222.2 165.8L222.3 164.8L222.5 163.9L222.7 161.9L222.8 160.1L223.0 158.4L223.2 154.1L223.4 152.3L223.5 151.3L223.7 151.8L223.9 153.6L224.1 156.0L224.2 157.6L224.4 158.3L224.6 157.7L224.7 158.0L224.9 157.8L225.1 158.8L225.3 160.5L225.4 162.2L225.6 163.7L225.8 164.3L226.0 165.6L226.1 166.2L226.3 166.5L226.5 166.8L226.7 166.4L226.8 166.5L227.0 167.0L227.2 166.2L227.3 166.9L227.5 166.6L227.7 166.7L227.9 166.3L228.0 166.6L228.2 166.9L228.4 167.3L228.6 167.3L228.7 167.0L228.9 166.9L229.1 166.7L229.2 167.2L229.4 167.0L229.6 167.3L229.8 167.7L229.9 167.1L230.1 166.5L230.3 166.8L230.5 166.6L230.6 166.7L230.8 167.6L231.0 167.2L231.2 166.6L231.3 167.3L231.5 167.6L231.7 167.0L231.8 166.9L232.0 167.0L232.2 167.2L232.4 167.4L232.5 167.5L232.7 167.6L232.9 167.5L233.1 167.6L233.2 167.4L233.4 166.6L233.6 167.1L233.8 167.3L233.9 167.0L234.1 167.5L234.3 167.0L234.4 166.8L234.6 167.7L234.8 167.4L235.0 167.2L235.1 167.5L235.3 167.5L235.5 167.3L235.7 166.3L235.8 166.9L236.0 167.0L236.2 166.8L236.3 167.2L236.5 167.6L236.7 167.0L236.9 166.8L237.0 167.9L237.2 167.0L237.4 166.7L237.6 167.2L237.7 167.3L237.9 166.9L238.1 167.4L238.3 167.0L238.4 166.8L238.6 167.2L238.8 167.4L238.9 166.9L239.1 167.3L239.3 167.1L239.5 168.2L239.6 166.9L239.8 167.7L240.0 167.2L240.2 167.1L240.3 167.4L240.5 167.5L240.7 167.6L240.8 167.3L241.0 167.0L241.2 167.0L241.4 167.3L241.5 167.4L241.7 167.7L241.9 167.3L242.1 167.5L242.2 167.7L242.4 167.2L242.6 166.7L242.8 166.8L242.9 166.7L243.1 167.7L243.3 166.9L243.4 167.6L243.6 167.4L243.8 167.8L244.0 167.5L244.1 167.1L244.3 167.1L244.5 167.2L244.7 167.2L244.8 167.0L245.0 167.2L245.2 167.7L245.4 166.6L245.5 167.3L245.7 166.9L245.9 167.2L246.0 167.5L246.2 167.2L246.4 167.4L246.6 166.6L246.7 167.6L246.9 167.0L247.1 167.4L247.3 167.2L247.4 166.3L247.6 166.9L247.8 167.2L247.9 167.7L248.1 167.3L248.3 167.3L248.5 166.7L248.6 167.7L248.8 167.8L249.0 167.2L249.2 167.1L249.3 166.6L249.5 167.5L249.7 168.1L249.9 167.4L250.0 167.6L250.2 167.4L250.4 166.8L250.5 167.6L250.7 166.7L250.9 167.1L251.1 167.3L251.2 167.5L251.4 167.3L251.6 167.3L251.8 166.9L251.9 166.7L252.1 167.2L252.3 166.9L252.5 166.7L252.6 166.7L252.8 167.0L253.0 166.5L253.1 166.7L253.3 166.6L253.5 167.2L253.7 167.3L253.8 167.9L254.0 166.6L254.2 166.9L254.4 167.5L254.5 167.1L254.7 167.0L254.9 167.8L255.0 167.0L255.2 166.8L255.4 166.7L255.6 167.3L255.7 167.3L255.9 166.7L256.1 166.8L256.3 167.3L256.4 167.4L256.6 166.9L256.8 167.4L257.0 167.3L257.1 166.5L257.3 167.0L257.5 167.3L257.6 166.9L257.8 166.4L258.0 167.0L258.2 167.4L258.3 167.7L258.5 166.4L258.7 168.1L258.9 166.7L259.0 167.5L259.2 167.6L259.4 167.5L259.5 167.2L259.7 166.7L259.9 167.3L260.1 166.9L260.2 166.2L260.4 168.1L260.6 167.4L260.8 167.8L260.9 166.8L261.1 167.6L261.3 167.7L261.5 167.7L261.6 167.1L261.8 166.7L262.0 167.0L262.1 166.3L262.3 166.5L262.5 167.1L262.7 166.8L262.8 167.0L263.0 167.1L263.2 167.8L263.4 167.5L263.5 167.1L263.7 167.5L263.9 166.8L264.1 167.0L264.2 167.4L264.4 166.6L264.6 167.0L264.7 166.6L264.9 167.1L265.1 167.6L265.3 166.8L265.4 167.1L265.6 166.7L265.8 166.6L266.0 166.6L266.1 167.5L266.3 167.8L266.5 167.2L266.6 166.7L266.8 167.2L267.0 166.8L267.2 167.2L267.3 167.0L267.5 167.0L267.7 167.1L267.9 166.7L268.0 166.7L268.2 166.2L268.4 166.7L268.6 166.3L268.7 166.7L268.9 166.4L269.1 166.8L269.2 166.8L269.4 166.2L269.6 166.3L269.8 166.2L269.9 166.8L270.1 167.0L270.3 166.7L270.5 166.2L270.6 166.7L270.8 165.5L271.0 166.5L271.1 165.5L271.3 164.6L271.5 166.2L271.7 165.5L271.8 164.0L272.0 163.6L272.2 162.1L272.4 160.1L272.5 156.3L272.7 152.4L272.9 147.7L273.1 142.5L273.2 139.4L273.4 138.6L273.6 142.1L273.7 145.1L273.9 149.1L274.1 150.5L274.3 151.2L274.4 150.8L274.6 147.4L274.8 144.9L275.0 142.1L275.1 139.8L275.3 138.3L275.5 137.1L275.7 137.6L275.8 140.9L276.0 145.2L276.2 149.1L276.3 152.3L276.5 154.5L276.7 154.8L276.9 154.6L277.0 154.3L277.2 153.5L277.4 154.4L277.6 156.5L277.7 158.6L277.9 160.7L278.1 162.4L278.2 163.8L278.4 164.6L278.6 165.5L278.8 165.5L278.9 165.8L279.1 165.6L279.3 166.7L279.5 166.4L279.6 167.0L279.8 166.7L280.0 167.0L280.2 166.5L280.3 166.9L280.5 167.6L280.7 166.3L280.8 167.1L281.0 167.3L281.2 166.9L281.4 167.1L281.5 167.3L281.7 166.6L281.9 167.0L282.1 166.6L282.2 166.7L282.4 166.7L282.6 166.9L282.8 167.0L282.9 167.1L283.1 166.5L283.3 167.7L283.4 167.4L283.6 167.3L283.8 166.9L284.0 167.0L284.1 167.2L284.3 167.2L284.5 166.4L284.7 167.3L284.8 168.1L285.0 166.4L285.2 167.4L285.3 167.2L285.5 167.0L285.7 167.6L285.9 166.6L286.0 167.1L286.2 167.6L286.4 167.0L286.6 166.9L286.7 167.1L286.9 166.9L287.1 167.6L287.3 166.8L287.4 167.4L287.6 166.6L287.8 167.3L287.9 167.1L288.1 166.2L288.3 167.1L288.5 166.7L288.6 166.9L288.8 167.7L289.0 166.7L289.2 166.7L289.3 167.6L289.5 167.2L289.7 167.7L289.8 167.2L290.0 166.8L290.2 167.1L290.4 167.6L290.5 167.5L290.7 167.1L290.9 167.1L291.1 167.1L291.2 166.9L291.4 167.8L291.6 167.1L291.8 166.7L291.9 167.0L292.1 167.4L292.3 167.4L292.4 167.1L292.6 166.9L292.8 167.1L293.0 166.5L293.1 166.7L293.3 167.4L293.5 167.0L293.7 167.3L293.8 167.6L294.0 167.4L294.2 167.1L294.4 167.9L294.5 167.4L294.7 167.0L294.9 167.4L295.0 167.3L295.2 166.8L295.4 167.2L295.6 167.1L295.7 166.4L295.9 167.1L296.1 167.0L296.3 167.0L296.4 166.5L296.6 167.0L296.8 167.1L296.9 167.2L297.1 166.7L297.3 167.3L297.5 166.7L297.6 167.0L297.8 167.6L298.0 166.9L298.2 166.9L298.3 167.5L298.5 167.0L298.7 167.0L298.9 167.2L299.0 167.5L299.2 166.3L299.4 166.8L299.5 166.7L299.7 166.7L299.9 166.7L300.1 166.7L300.2 167.1L300.4 166.7L300.6 167.0L300.8 167.1L300.9 166.7L301.1 167.0L301.3 167.5L301.4 167.0L301.6 166.6L301.8 166.8L302.0 166.4L302.1 166.8L302.3 166.9L302.5 166.2L302.7 166.3L302.8 166.5L303.0 165.6L303.2 165.3L303.4 163.9L303.5 162.7L303.7 161.0L303.9 159.8L304.0 156.7L304.2 155.2L304.4 155.1L304.6 156.6L304.7 158.7L304.9 160.4L305.1 162.3L305.3 162.2L305.4 162.5L305.6 161.6L305.8 161.1L306.0 160.1L306.1 161.0L306.3 162.1L306.5 163.2L306.6 163.5L306.8 165.4L307.0 165.6L307.2 166.0L307.3 166.3L307.5 166.5L307.7 166.8L307.9 166.3L308.0 166.5L308.2 167.0L308.4 166.9L308.5 166.8L308.7 166.7L308.9 166.7L309.1 167.0L309.2 167.4L309.4 166.6L309.6 167.6L309.8 167.3L309.9 166.9L310.1 167.3L310.3 166.6L310.5 166.5L310.6 166.6L310.8 166.9L311.0 167.0L311.1 166.9L311.3 167.1L311.5 166.4L311.7 167.3L311.8 166.6L312.0 166.9L312.2 167.0L312.4 166.7L312.5 166.7L312.7 166.8L312.9 167.1L313.1 167.3L313.2 167.3L313.4 166.8L313.6 166.9L313.7 166.8L313.9 167.3L314.1 166.4L314.3 167.6L314.4 167.0L314.6 166.9L314.8 167.3L315.0 167.5L315.1 167.3L315.3 167.5L315.5 167.2L315.6 167.6L315.8 167.6L316.0 167.1L316.2 167.7L316.3 167.2L316.5 167.2L316.7 166.8L316.9 167.1L317.0 167.4L317.2 166.7L317.4 167.4L317.6 167.3L317.7 167.3L317.9 166.4L318.1 167.1L318.2 167.4L318.4 166.9L318.6 167.2L318.8 166.3L318.9 167.4L319.1 166.9L319.3 167.5L319.5 166.5L319.6 167.4L319.8 167.1L320.0 167.5L320.1 166.9L320.3 167.0L320.5 168.0L320.7 166.9L320.8 166.9L321.0 167.1L321.2 166.8L321.4 167.6L321.5 167.8L321.7 166.9L321.9 166.6L322.1 167.6L322.2 167.6L322.4 167.5" fill="none" stroke="#b83a3a" stroke-width="0.9" stroke-opacity="0.85"/><path d="M331.4 166.6L331.4 166.6L331.5 166.6L331.8 166.6L332.0 166.6L332.3 166.6L332.5 166.6L332.8 166.6L333.1 166.6L333.3 166.6L333.6 166.5L333.8 166.5L334.1 166.5L334.4 166.5L334.6 166.5L334.9 166.5L335.1 166.5L335.4 166.5L335.7 166.5L335.9 166.4L336.2 166.4L336.4 166.4L336.7 166.4L337.0 166.4L337.2 166.4L337.5 166.3L337.7 166.3L338.0 166.3L338.3 166.3L338.5 166.3L338.8 166.3L339.0 166.2L339.3 166.2L339.6 166.2L339.8 166.2L340.1 166.1L340.3 166.1L340.6 166.1L340.9 166.0L341.1 166.0L341.4 166.0L341.6 166.0L341.9 165.9L342.2 165.9L342.4 165.8L342.7 165.8L342.9 165.8L343.2 165.7L343.5 165.7L343.7 165.6L344.0 165.6L344.2 165.5L344.5 165.4L344.8 165.4L345.0 165.3L345.3 165.2L345.5 165.1L345.8 165.1L346.1 165.0L346.3 164.9L346.6 164.8L346.8 164.7L347.1 164.5L347.4 164.4L347.6 164.3L347.9 164.1L348.1 163.9L348.4 163.8L348.7 163.6L348.9 163.3L349.2 163.1L349.4 162.8L349.7 162.4L350.0 162.0L350.2 161.4L350.5 160.8L350.7 160.0L351.0 159.0L351.3 157.7L351.5 156.2L351.8 154.2L352.0 151.7L352.3 148.7L352.6 145.0L352.8 140.6L353.1 135.4L353.3 129.3L353.6 122.4L353.9 114.7L354.1 106.2L354.4 97.0L354.6 87.4L354.9 77.6L355.2 67.8L355.4 58.4L355.7 49.9L355.9 42.5L356.2 36.8L356.5 32.8L356.7 30.8L357.0 30.6L357.2 32.1L357.5 34.9L357.8 38.9L358.0 43.9L358.3 49.8L358.5 56.3L358.8 63.5L359.1 71.3L359.3 79.4L359.6 87.6L359.8 95.9L360.1 103.9L360.4 111.5L360.6 118.6L360.9 125.2L361.1 131.1L361.4 136.4L361.7 141.0L361.9 145.0L362.2 148.4L362.4 151.3L362.7 153.7L363.0 155.7L363.2 157.3L363.5 158.7L363.7 159.8L364.0 160.6L364.3 161.3L364.5 161.9L364.8 162.4L365.0 162.8L365.3 163.1L365.6 163.4L365.8 163.6L366.1 163.8L366.3 164.0L366.6 164.2L366.9 164.3L367.1 164.5L367.4 164.6L367.6 164.7L367.9 164.8L368.2 164.9L368.4 165.0L368.7 165.1L368.9 165.2L369.2 165.3L369.5 165.3L369.7 165.4L370.0 165.5L370.2 165.5L370.5 165.6L370.8 165.6L371.0 165.7L371.3 165.7L371.5 165.8L371.8 165.8L372.1 165.9L372.3 165.9L372.6 165.9L372.8 166.0L373.1 166.0L373.4 166.0L373.6 166.1L373.9 166.1L374.1 166.1L374.4 166.1L374.7 166.2L374.9 166.2L375.2 166.2L375.4 166.2L375.7 166.3L376.0 166.3L376.2 166.3L376.5 166.3L376.7 166.3L377.0 166.4L377.3 166.4L377.5 166.4L377.8 166.4L378.0 166.4L378.3 166.4L378.6 166.4L378.8 166.5" fill="none" stroke="#2a2a2a" stroke-width="0.8"/><path d="M377.2 167.0L377.5 167.0L377.8 166.9L378.1 166.9L378.3 166.9L378.6 166.9L378.9 166.9L379.2 166.9L379.5 166.9L379.8 166.9L380.0 166.9L380.3 166.9L380.6 166.9L380.9 166.9L381.2 166.9L381.5 166.9L381.8 166.9L382.0 166.9L382.3 166.9L382.6 166.9L382.9 166.9L383.2 166.9L383.5 166.9L383.8 166.9L384.0 166.9L384.3 166.9L384.6 166.9L384.9 166.9L385.2 166.9L385.5 166.9L385.7 166.9L386.0 166.9L386.3 166.9L386.6 166.9L386.9 166.9L387.2 166.9L387.5 166.9L387.7 166.9L388.0 166.9L388.3 166.9L388.6 166.9L388.9 166.9L389.2 166.9L389.4 166.9L389.7 166.9L390.0 166.9L390.3 166.9L390.6 166.9L390.9 166.9L391.2 166.9L391.4 166.9L391.7 166.9L392.0 166.9L392.3 166.9L392.6 166.9L392.9 166.9L393.1 166.9L393.4 166.9L393.7 166.9L394.0 166.9L394.3 166.9L394.6 166.9L394.9 166.9L395.1 166.9L395.4 166.9L395.7 166.9L396.0 166.9L396.3 166.9L396.6 166.9L396.9 166.9L397.1 166.9L397.4 166.9L397.7 166.9L398.0 166.9L398.3 166.8L398.6 166.8L398.8 166.8L399.1 166.8L399.4 166.8L399.7 166.8L400.0 166.8L400.3 166.8L400.6 166.8L400.8 166.8L401.1 166.8L401.4 166.8L401.7 166.8L402.0 166.8L402.3 166.8L402.5 166.8L402.8 166.8L403.1 166.8L403.4 166.8L403.7 166.8L404.0 166.8L404.3 166.8L404.5 166.7L404.8 166.7L405.1 166.7L405.4 166.7L405.7 166.7L406.0 166.7L406.2 166.7L406.5 166.7L406.8 166.7L407.1 166.7L407.4 166.7L407.7 166.7L408.0 166.6L408.2 166.6L408.5 166.6L408.8 166.6L409.1 166.6L409.4 166.6L409.7 166.6L410.0 166.5L410.2 166.5L410.5 166.5L410.8 166.5L411.1 166.5L411.4 166.5L411.7 166.4L411.9 166.4L412.2 166.4L412.5 166.4L412.8 166.3L413.1 166.3L413.4 166.3L413.7 166.2L413.9 166.2L414.2 166.2L414.5 166.1L414.8 166.1L415.1 166.0L415.4 166.0L415.6 165.9L415.9 165.8L416.2 165.8L416.5 165.7L416.8 165.6L417.1 165.5L417.4 165.4L417.6 165.3L417.9 165.2L418.2 165.0L418.5 164.9L418.8 164.7L419.1 164.5L419.4 164.2L419.6 163.8L419.9 163.4L420.2 162.8L420.5 162.0L420.8 160.8L421.1 159.3L421.3 157.2L421.6 154.5L421.9 151.0L422.2 146.6L422.5 141.3L422.8 135.0L423.1 128.0L423.3 120.3L423.6 112.4L423.9 104.8L424.2 98.1L424.5 92.8L424.8 89.7L425.0 89.1L425.3 90.9L425.6 94.6L425.9 99.6L426.2 105.1L426.5 110.4L426.8 115.1L427.0 118.8L427.3 121.3L427.6 122.7L427.9 123.3L428.2 123.2L428.5 122.9L428.7 123.0L429.0 123.8L429.3 125.6L429.6 128.3L429.9 131.7L430.2 135.7L430.5 139.8L430.7 143.9L431.0 147.8L431.3 151.3L431.6 154.3L431.9 156.8L432.2 158.9L432.5 160.5L432.7 161.8L433.0 162.7L433.3 163.4L433.6 163.9L433.9 164.3L434.2 164.7L434.4 164.9L434.7 165.1L435.0 165.2L435.3 165.4L435.6 165.5L435.9 165.6L436.2 165.7L436.4 165.7L436.7 165.8L437.0 165.9L437.3 165.9L437.6 166.0L437.9 166.1L438.1 166.1L438.4 166.1L438.7 166.2L439.0 166.2L439.3 166.3L439.6 166.3L439.9 166.3L440.1 166.4L440.4 166.4L440.7 166.4L441.0 166.4L441.3 166.5L441.6 166.5L441.8 166.5L442.1 166.5L442.4 166.5L442.7 166.5L443.0 166.6L443.3 166.6L443.6 166.6L443.8 166.6L444.1 166.6L444.4 166.6L444.7 166.6L445.0 166.7L445.3 166.7L445.6 166.7L445.8 166.7L446.1 166.7L446.4 166.7L446.7 166.7L447.0 166.7L447.3 166.7L447.5 166.7L447.8 166.7L448.1 166.7L448.4 166.8" fill="none" stroke="#2a2a2a" stroke-width="0.8"/><path d="M331.4 166.7L331.4 166.7L331.5 166.7L331.8 166.7L332.0 166.6L332.3 166.6L332.5 166.6L332.8 166.6L333.1 166.6L333.3 166.6L333.6 166.6L333.8 166.6L334.1 166.6L334.4 166.6L334.6 166.6L334.9 166.6L335.1 166.5L335.4 166.5L335.7 166.5L335.9 166.5L336.2 166.5L336.4 166.5L336.7 166.5L337.0 166.5L337.2 166.4L337.5 166.4L337.7 166.4L338.0 166.4L338.3 166.4L338.5 166.4L338.8 166.4L339.0 166.3L339.3 166.3L339.6 166.3L339.8 166.3L340.1 166.3L340.3 166.2L340.6 166.2L340.9 166.2L341.1 166.2L341.4 166.1L341.6 166.1L341.9 166.1L342.2 166.1L342.4 166.0L342.7 166.0L342.9 166.0L343.2 165.9L343.5 165.9L343.7 165.8L344.0 165.8L344.2 165.8L344.5 165.7L344.8 165.7L345.0 165.6L345.3 165.5L345.5 165.5L345.8 165.4L346.1 165.3L346.3 165.3L346.6 165.2L346.8 165.1L347.1 165.0L347.4 164.9L347.6 164.8L347.9 164.7L348.1 164.6L348.4 164.5L348.7 164.3L348.9 164.2L349.2 164.0L349.4 163.8L349.7 163.6L350.0 163.4L350.2 163.1L350.5 162.8L350.7 162.4L351.0 162.0L351.3 161.4L351.5 160.7L351.8 159.8L352.0 158.8L352.3 157.4L352.6 155.7L352.8 153.5L353.1 150.9L353.3 147.7L353.6 143.8L353.9 139.2L354.1 133.8L354.4 127.6L354.6 120.6L354.9 112.8L355.2 104.4L355.4 95.5L355.7 86.2L355.9 76.9L356.2 67.9L356.5 59.4L356.7 52.0L357.0 45.9L357.2 41.5L357.5 38.9L357.8 38.0L358.0 38.8L358.3 41.0L358.5 44.3L358.8 48.7L359.1 53.9L359.3 59.8L359.6 66.4L359.8 73.5L360.1 81.0L360.4 88.8L360.6 96.6L360.9 104.3L361.1 111.7L361.4 118.6L361.7 125.0L361.9 130.9L362.2 136.1L362.4 140.7L362.7 144.7L363.0 148.2L363.2 151.1L363.5 153.6L363.7 155.6L364.0 157.3L364.3 158.6L364.5 159.8L364.8 160.7L365.0 161.4L365.3 162.0L365.6 162.4L365.8 162.8L366.1 163.2L366.3 163.5L366.6 163.7L366.9 163.9L367.1 164.1L367.4 164.3L367.6 164.4L367.9 164.5L368.2 164.7L368.4 164.8L368.7 164.9L368.9 165.0L369.2 165.1L369.5 165.2L369.7 165.2L370.0 165.3L370.2 165.4L370.5 165.5L370.8 165.5L371.0 165.6L371.3 165.6L371.5 165.7L371.8 165.7L372.1 165.8L372.3 165.8L372.6 165.9L372.8 165.9L373.1 165.9L373.4 166.0L373.6 166.0L373.9 166.0L374.1 166.1L374.4 166.1L374.7 166.1L374.9 166.2L375.2 166.2L375.4 166.2L375.7 166.2L376.0 166.3L376.2 166.3L376.5 166.3L376.7 166.3L377.0 166.3L377.3 166.3L377.5 166.4L377.8 166.4L378.0 166.4L378.3 166.4L378.6 166.4L378.8 166.4" fill="none" stroke="#b83a3a" stroke-width="0.9"/><path d="M377.2 167.0L377.5 167.0L377.8 166.9L378.1 166.9L378.3 166.9L378.6 166.9L378.9 166.9L379.2 166.9L379.5 166.9L379.8 166.9L380.0 166.9L380.3 166.9L380.6 166.9L380.9 166.9L381.2 166.9L381.5 166.9L381.8 166.9L382.0 166.9L382.3 166.9L382.6 166.9L382.9 166.9L383.2 166.9L383.5 166.9L383.8 166.9L384.0 166.9L384.3 166.9L384.6 166.9L384.9 166.9L385.2 166.9L385.5 166.9L385.7 166.9L386.0 166.9L386.3 166.9L386.6 166.9L386.9 166.9L387.2 166.9L387.5 166.9L387.7 166.9L388.0 166.9L388.3 166.9L388.6 166.9L388.9 166.9L389.2 166.9L389.4 166.9L389.7 166.9L390.0 166.9L390.3 166.9L390.6 166.9L390.9 166.9L391.2 166.9L391.4 166.9L391.7 166.9L392.0 166.9L392.3 166.9L392.6 166.9L392.9 166.9L393.1 166.9L393.4 166.9L393.7 166.9L394.0 166.9L394.3 166.9L394.6 166.9L394.9 166.9L395.1 166.9L395.4 166.9L395.7 166.9L396.0 166.9L396.3 166.9L396.6 166.9L396.9 166.9L397.1 166.9L397.4 166.9L397.7 166.9L398.0 166.9L398.3 166.8L398.6 166.8L398.8 166.8L399.1 166.8L399.4 166.8L399.7 166.8L400.0 166.8L400.3 166.8L400.6 166.8L400.8 166.8L401.1 166.8L401.4 166.8L401.7 166.8L402.0 166.8L402.3 166.8L402.5 166.8L402.8 166.8L403.1 166.8L403.4 166.8L403.7 166.8L404.0 166.8L404.3 166.8L404.5 166.7L404.8 166.7L405.1 166.7L405.4 166.7L405.7 166.7L406.0 166.7L406.2 166.7L406.5 166.7L406.8 166.7L407.1 166.7L407.4 166.7L407.7 166.7L408.0 166.6L408.2 166.6L408.5 166.6L408.8 166.6L409.1 166.6L409.4 166.6L409.7 166.6L410.0 166.5L410.2 166.5L410.5 166.5L410.8 166.5L411.1 166.5L411.4 166.5L411.7 166.4L411.9 166.4L412.2 166.4L412.5 166.4L412.8 166.3L413.1 166.3L413.4 166.3L413.7 166.2L413.9 166.2L414.2 166.2L414.5 166.1L414.8 166.1L415.1 166.0L415.4 166.0L415.6 165.9L415.9 165.8L416.2 165.8L416.5 165.7L416.8 165.6L417.1 165.5L417.4 165.4L417.6 165.3L417.9 165.2L418.2 165.0L418.5 164.9L418.8 164.7L419.1 164.5L419.4 164.2L419.6 163.8L419.9 163.4L420.2 162.8L420.5 162.0L420.8 160.8L421.1 159.3L421.3 157.2L421.6 154.5L421.9 151.0L422.2 146.6L422.5 141.3L422.8 135.0L423.1 128.0L423.3 120.3L423.6 112.4L423.9 104.8L424.2 98.1L424.5 92.8L424.8 89.7L425.0 89.1L425.3 90.9L425.6 94.6L425.9 99.6L426.2 105.1L426.5 110.4L426.8 115.1L427.0 118.8L427.3 121.3L427.6 122.7L427.9 123.3L428.2 123.2L428.5 122.9L428.7 123.0L429.0 123.8L429.3 125.6L429.6 128.3L429.9 131.7L430.2 135.7L430.5 139.8L430.7 143.9L431.0 147.8L431.3 151.3L431.6 154.3L431.9 156.8L432.2 158.9L432.5 160.5L432.7 161.8L433.0 162.7L433.3 163.4L433.6 163.9L433.9 164.3L434.2 164.7L434.4 164.9L434.7 165.1L435.0 165.2L435.3 165.4L435.6 165.5L435.9 165.6L436.2 165.7L436.4 165.7L436.7 165.8L437.0 165.9L437.3 165.9L437.6 166.0L437.9 166.1L438.1 166.1L438.4 166.1L438.7 166.2L439.0 166.2L439.3 166.3L439.6 166.3L439.9 166.3L440.1 166.4L440.4 166.4L440.7 166.4L441.0 166.4L441.3 166.5L441.6 166.5L441.8 166.5L442.1 166.5L442.4 166.5L442.7 166.5L443.0 166.6L443.3 166.6L443.6 166.6L443.8 166.6L444.1 166.6L444.4 166.6L444.7 166.6L445.0 166.7L445.3 166.7L445.6 166.7L445.8 166.7L446.1 166.7L446.4 166.7L446.7 166.7L447.0 166.7L447.3 166.7L447.5 166.7L447.8 166.7L448.1 166.7L448.4 166.8" fill="none" stroke="#b83a3a" stroke-width="0.9"/><path d="M457.5 76.9L458.3 89.0L459.1 97.3L460.0 76.6L460.8 76.9L461.6 58.0L462.4 79.3L463.3 76.3L464.1 59.2L464.9 83.8L465.7 86.9L466.5 73.8L467.4 77.5L468.2 71.7L469.0 89.0L469.8 66.3L470.6 78.5L471.5 101.2L472.3 82.3L473.1 86.6L473.9 80.6L474.8 70.4L475.6 81.9L476.4 86.4L477.2 72.2L478.0 85.9L478.9 95.1L479.7 93.4L480.5 67.0L481.3 73.1L482.2 66.8L483.0 93.8L483.8 89.2L484.6 90.2L485.4 74.5L486.3 71.6L487.1 84.1L487.9 84.4L488.7 74.9L489.6 84.8L490.4 89.8L491.2 85.6L492.0 72.8L492.8 61.8L493.7 79.8L494.5 82.9L495.3 76.7L496.1 71.8L496.4 68.2L496.9 77.1L497.8 64.8L498.0 64.0L498.6 57.5L499.2 57.2L499.4 58.3L500.2 52.0L500.4 48.8L500.5 50.9L500.9 47.6L501.1 38.9L501.2 40.5L501.5 45.5L501.9 59.7L501.9 49.6L502.0 60.7L502.7 91.2L503.5 84.2L504.3 90.2L505.2 91.1L506.0 84.6L506.8 83.1L507.6 86.7L508.5 92.5L509.3 90.6L510.1 91.1L510.9 88.0L511.7 78.9L512.6 84.1L513.4 77.5L514.2 97.1L515.0 66.2L515.8 85.2L516.7 111.3L517.5 84.2L518.3 76.4L519.1 87.7L520.0 100.9L520.8 86.5L521.6 94.3L522.4 89.3L523.2 84.7L524.1 120.1L524.9 89.4L525.7 83.4L526.5 84.0L527.4 92.8L528.2 93.2L529.0 97.0L529.8 90.8L530.6 75.2L531.5 94.9L532.3 86.6L533.1 86.9L533.9 75.1L534.7 84.3L535.6 82.9L536.4 89.9L537.2 75.8L538.0 91.0L538.9 91.8L539.7 79.5L540.5 84.5L541.3 82.3L542.1 100.1L543.0 65.8L543.8 87.8L544.6 74.7L545.4 87.1L546.3 100.0L547.1 85.4L547.9 93.2L548.7 83.4L549.5 111.4L550.4 101.2L551.2 103.5L552.0 79.0L552.8 81.4L553.7 103.3L554.5 90.7L555.3 90.2L556.1 96.2L556.9 80.4L557.8 100.8L558.6 93.4L559.4 98.1L560.2 86.7L561.0 98.6L561.9 86.6L562.7 103.3L563.5 105.1L564.3 103.0L565.2 99.2L566.0 100.5L566.8 67.2L567.6 102.7L568.4 91.7L569.3 95.5L570.1 91.8L570.9 80.9L571.7 89.5L572.6 101.6L573.4 109.3L574.2 89.0L575.0 86.3L575.8 110.0L576.7 86.7L577.5 116.4L578.3 96.3L579.1 87.0L579.9 105.8L580.8 113.0L581.6 81.8L582.4 111.9L583.2 93.6L584.1 111.4L584.9 92.8L585.7 81.0L586.5 101.9L587.3 106.2L588.2 118.0L589.0 114.4L589.8 104.2L590.6 95.0L591.5 92.3L592.3 94.6L593.1 89.4L593.9 95.0L594.7 72.5L595.6 99.8L596.4 97.8L597.2 123.9L598.0 105.9L598.8 93.6L599.7 104.2L600.5 86.4L601.3 92.7L602.1 80.2L603.0 113.3L603.8 105.0L604.6 87.4L605.4 98.7L606.2 108.9L607.1 104.4L607.9 103.4L608.7 91.1L609.5 93.4L610.4 100.8L611.2 109.2L612.0 91.8L612.8 88.9L613.6 111.7L614.5 91.0L615.3 111.2L616.1 102.9L616.9 109.2L617.8 117.8L618.6 107.1L619.4 107.5L620.2 88.7L621.0 75.1L621.0 85.3L621.4 67.5L621.6 53.3L621.9 68.2L621.9 61.7L622.3 83.7L622.7 104.7L623.5 99.5L624.3 99.5L625.1 89.4L626.0 108.1L626.8 66.8L626.8 80.2L627.1 39.4L627.4 35.6L627.6 41.3L627.6 50.2L627.9 60.6L628.4 91.1L629.3 112.1L630.1 93.4L630.9 102.6L631.7 97.5L632.5 79.4L633.4 105.8" fill="none" stroke="#1a1a1a" stroke-width="1.2" stroke-linejoin="bevel"/><path d="M457.5 91.3L458.3 76.0L459.1 92.9L460.0 79.3L460.8 77.4L461.6 87.6L462.4 80.8L463.3 110.6L464.1 72.3L464.9 95.3L465.7 97.9L466.5 68.3L467.4 70.9L468.2 94.0L469.0 83.6L469.8 92.4L470.6 100.0L471.5 85.0L472.3 78.2L473.1 61.7L473.9 91.1L474.8 79.9L475.6 92.4L476.4 91.7L477.2 75.6L478.0 106.8L478.9 100.5L479.7 98.2L480.5 78.0L481.3 85.9L482.2 84.6L483.0 86.0L483.8 79.0L484.6 94.6L485.4 92.6L486.3 94.1L487.1 85.4L487.9 103.4L488.7 92.5L489.6 63.2L490.4 84.2L491.2 90.0L492.0 100.1L492.8 87.3L493.7 87.4L494.5 82.5L495.3 94.3L496.1 80.8L496.4 78.4L496.9 75.0L497.8 80.0L498.0 73.0L498.6 68.7L499.2 72.5L499.4 70.4L500.2 72.1L500.4 71.4L500.5 74.6L500.9 66.1L501.1 57.7L501.2 58.6L501.5 58.3L501.9 91.6L501.9 80.1L502.0 91.7L502.7 83.0L503.5 68.7L504.3 106.0L505.2 92.5L506.0 93.4L506.8 93.0L507.6 99.2L508.5 98.3L509.3 77.3L510.1 104.2L510.9 88.3L511.7 89.0L512.6 111.1L513.4 103.2L514.2 90.8L515.0 75.7L515.8 96.0L516.7 99.9L517.5 93.9L518.3 82.3L519.1 87.0L520.0 82.5L520.8 97.3L521.6 103.4L522.4 105.6L523.2 88.2L524.1 97.9L524.9 101.3L525.7 90.7L526.5 94.5L527.4 117.3L528.2 98.2L529.0 105.1L529.8 92.0L530.6 96.9L531.5 79.5L532.3 96.5L533.1 108.7L533.9 117.9L534.7 109.0L535.6 104.0L536.4 97.8L537.2 91.4L538.0 95.9L538.9 103.7L539.7 89.8L540.5 107.1L541.3 88.1L542.1 80.2L543.0 88.0L543.8 81.6L544.6 84.6L545.4 109.8L546.3 96.6L547.1 100.9L547.9 110.4L548.7 111.5L549.5 93.9L550.4 112.4L551.2 103.1L552.0 99.4L552.8 103.8L553.7 85.3L554.5 91.8L555.3 98.7L556.1 106.0L556.9 96.2L557.8 98.8L558.6 109.9L559.4 114.4L560.2 108.1L561.0 113.2L561.9 96.6L562.7 97.7L563.5 104.0L564.3 97.9L565.2 96.0L566.0 117.7L566.8 99.2L567.6 91.7L568.4 106.3L569.3 119.9L570.1 102.5L570.9 114.1L571.7 97.5L572.6 97.1L573.4 95.2L574.2 100.8L575.0 120.7L575.8 90.9L576.7 118.9L577.5 92.6L578.3 100.4L579.1 111.2L579.9 109.3L580.8 105.9L581.6 86.7L582.4 106.9L583.2 93.2L584.1 129.2L584.9 101.5L585.7 105.6L586.5 92.4L587.3 99.2L588.2 91.1L589.0 114.0L589.8 101.6L590.6 110.0L591.5 97.6L592.3 99.6L593.1 117.6L593.9 95.1L594.7 86.9L595.6 109.1L596.4 93.7L597.2 100.8L598.0 114.4L598.8 97.2L599.7 114.3L600.5 98.8L601.3 120.7L602.1 119.1L603.0 101.2L603.8 103.9L604.6 97.8L605.4 108.3L606.2 117.9L607.1 92.0L607.9 115.8L608.7 93.4L609.5 98.2L610.4 89.0L611.2 128.0L612.0 107.6L612.8 109.6L613.6 100.5L614.5 118.0L615.3 86.3L616.1 107.7L616.9 129.5L617.8 103.5L618.6 107.3L619.4 113.3L620.2 96.4L621.0 87.0L621.0 93.0L621.4 64.0L621.6 53.8L621.9 59.8L621.9 64.6L622.3 87.4L622.7 115.6L623.5 113.5L624.3 104.6L625.1 82.5L626.0 112.6L626.8 93.5L626.8 76.0L627.1 48.5L627.4 45.2L627.6 62.5L627.6 53.1L627.9 80.6L628.4 105.3L629.3 119.7L630.1 108.3L630.9 108.0L631.7 103.8L632.5 125.8L633.4 120.4" fill="none" stroke="#fa0c0c" stroke-width="1.3" stroke-linejoin="bevel"/><path d="M19.4 315.3L19.6 314.8L19.7 315.0L19.9 315.2L20.1 314.6L20.3 315.3L20.4 315.3L20.6 314.9L20.8 315.3L21.0 315.0L21.1 314.4L21.3 315.1L21.5 314.8L21.7 314.8L21.8 314.7L22.0 315.1L22.2 314.8L22.3 314.4L22.5 314.8L22.7 314.9L22.9 314.4L23.0 314.5L23.2 314.5L23.4 314.4L23.6 314.7L23.7 314.9L23.9 315.2L24.1 315.0L24.2 314.9L24.4 315.0L24.6 315.0L24.8 314.4L24.9 314.8L25.1 314.6L25.3 314.5L25.5 314.3L25.6 314.3L25.8 314.4L26.0 314.0L26.2 314.6L26.3 314.4L26.5 314.4L26.7 314.5L26.8 314.6L27.0 314.1L27.2 314.3L27.4 313.7L27.5 313.5L27.7 313.5L27.9 314.7L28.1 313.5L28.2 314.2L28.4 314.5L28.6 313.8L28.7 314.5L28.9 314.5L29.1 314.1L29.3 314.5L29.4 313.7L29.6 313.1L29.8 313.4L30.0 312.9L30.1 312.4L30.3 312.2L30.5 313.2L30.7 311.8L30.8 311.6L31.0 310.7L31.2 310.2L31.3 308.9L31.5 306.9L31.7 303.6L31.9 298.7L32.0 291.8L32.2 282.5L32.4 271.3L32.6 258.6L32.7 249.1L32.9 244.9L33.1 247.0L33.3 251.8L33.4 258.0L33.6 263.7L33.8 272.2L33.9 281.8L34.1 289.7L34.3 296.9L34.5 301.7L34.6 305.0L34.8 307.8L35.0 309.5L35.2 311.1L35.3 312.0L35.5 311.6L35.7 312.1L35.8 312.5L36.0 312.7L36.2 312.6L36.4 313.2L36.5 313.5L36.7 313.6L36.9 313.1L37.1 313.6L37.2 313.1L37.4 314.1L37.6 313.5L37.8 313.8L37.9 313.8L38.1 313.8L38.3 313.7L38.4 313.5L38.6 314.7L38.8 314.2L39.0 314.3L39.1 314.9L39.3 314.2L39.5 314.4L39.7 314.2L39.8 314.7L40.0 314.4L40.2 314.4L40.4 314.2L40.5 314.4L40.7 314.7L40.9 313.5L41.0 314.2L41.2 314.1L41.4 314.1L41.6 313.5L41.7 314.4L41.9 313.9L42.1 314.0L42.3 313.9L42.4 313.5L42.6 313.8L42.8 313.3L42.9 313.5L43.1 313.6L43.3 313.6L43.5 313.4L43.6 313.0L43.8 313.4L44.0 312.0L44.2 310.4L44.3 309.1L44.5 307.4L44.7 305.7L44.9 304.0L45.0 303.3L45.2 304.4L45.4 304.4L45.5 304.8L45.7 305.2L45.9 305.7L46.1 306.4L46.2 305.7L46.4 304.5L46.6 300.3L46.8 297.5L46.9 293.0L47.1 288.8L47.3 285.5L47.4 284.9L47.6 287.6L47.8 289.6L48.0 291.5L48.1 294.6L48.3 298.5L48.5 302.1L48.7 305.2L48.8 307.3L49.0 310.6L49.2 310.7L49.4 312.0L49.5 312.1L49.7 313.5L49.9 313.4L50.0 313.8L50.2 313.7L50.4 313.8L50.6 313.9L50.7 313.3L50.9 314.4L51.1 314.4L51.3 314.0L51.4 314.2L51.6 314.4L51.8 314.9L52.0 314.5L52.1 314.4L52.3 314.2L52.5 313.9L52.6 314.2L52.8 314.5L53.0 314.4L53.2 314.5L53.3 314.8L53.5 314.7L53.7 314.6L53.9 314.8L54.0 314.6L54.2 314.6L54.4 314.7L54.5 314.0L54.7 315.0L54.9 314.2L55.1 314.9L55.2 314.6L55.4 315.0L55.6 314.6L55.8 314.3L55.9 315.0L56.1 314.7L56.3 314.7L56.5 314.7L56.6 315.0L56.8 315.0L57.0 314.8L57.1 314.1L57.3 314.5L57.5 314.7L57.7 315.3L57.8 314.8L58.0 314.7L58.2 315.1L58.4 314.7L58.5 314.7L58.7 314.8L58.9 314.2L59.0 315.0L59.2 314.9L59.4 314.6L59.6 314.3L59.7 314.8L59.9 315.2L60.1 314.5L60.3 314.3L60.4 314.9L60.6 314.2L60.8 313.9L61.0 314.6L61.1 314.5L61.3 314.6L61.5 314.5L61.6 314.8L61.8 314.7L62.0 314.5L62.2 314.6L62.3 315.0L62.5 315.1L62.7 315.1L62.9 315.0L63.0 313.6L63.2 314.4L63.4 314.6L63.6 314.8L63.7 314.2L63.9 315.2L64.1 314.9L64.2 314.5L64.4 314.8L64.6 314.6L64.8 314.5L64.9 314.9L65.1 314.6L65.3 314.3L65.5 314.5L65.6 314.7L65.8 314.4L66.0 315.2L66.1 314.4L66.3 315.4L66.5 315.1L66.7 314.4L66.8 314.8L67.0 315.2L67.2 314.7L67.4 314.3L67.5 314.8L67.7 315.4L67.9 314.2L68.1 314.9L68.2 314.8L68.4 314.7L68.6 314.6L68.7 314.6L68.9 315.1L69.1 315.0L69.3 314.4L69.4 315.3L69.6 314.3L69.8 315.0L70.0 314.8L70.1 315.2L70.3 314.9L70.5 315.1L70.7 314.7L70.8 315.1L71.0 314.9L71.2 315.5L71.3 314.5L71.5 315.2L71.7 314.9L71.9 314.8L72.0 314.6L72.2 314.9L72.4 314.2L72.6 314.3L72.7 315.0L72.9 314.2L73.1 315.3L73.2 314.7L73.4 314.8L73.6 314.8L73.8 314.9L73.9 314.7L74.1 314.6L74.3 314.7L74.5 315.1L74.6 315.1L74.8 315.2L75.0 314.9L75.2 314.7L75.3 314.2L75.5 315.0L75.7 315.0L75.8 314.6L76.0 315.0L76.2 315.2L76.4 314.8L76.5 315.1L76.7 314.9L76.9 314.1L77.1 314.6L77.2 314.6L77.4 314.9L77.6 314.4L77.7 314.6L77.9 314.4L78.1 314.7L78.3 314.8L78.4 315.1L78.6 315.0L78.8 314.8L79.0 314.8L79.1 314.8L79.3 314.8L79.5 315.3L79.7 313.9L79.8 314.7L80.0 314.8L80.2 315.1L80.3 314.3L80.5 314.8L80.7 315.0L80.9 314.6L81.0 314.1L81.2 314.6L81.4 314.3L81.6 314.9L81.7 314.4L81.9 315.3L82.1 314.8L82.3 314.4L82.4 314.5L82.6 314.3L82.8 314.8L82.9 315.2L83.1 314.6L83.3 315.0L83.5 314.4L83.6 314.8L83.8 315.5L84.0 314.2L84.2 315.1L84.3 315.1L84.5 314.0L84.7 314.2L84.8 314.3L85.0 315.0L85.2 314.5L85.4 314.6L85.5 314.9L85.7 314.7L85.9 314.7L86.1 314.5L86.2 315.0L86.4 314.4L86.6 315.2L86.8 314.5L86.9 314.4L87.1 314.9L87.3 314.8L87.4 313.9L87.6 314.7L87.8 314.1L88.0 314.3L88.1 314.9L88.3 314.3L88.5 314.7L88.7 314.4L88.8 315.2L89.0 314.5L89.2 314.1L89.3 314.2L89.5 314.2L89.7 314.6L89.9 314.5L90.0 314.8L90.2 314.6L90.4 314.5L90.6 314.6L90.7 314.4L90.9 314.6L91.1 314.7L91.3 314.7L91.4 314.2L91.6 313.8L91.8 314.1L91.9 314.5L92.1 313.5L92.3 314.2L92.5 314.5L92.6 314.1L92.8 313.9L93.0 314.9L93.2 314.7L93.3 314.1L93.5 314.6L93.7 314.6L93.9 313.7L94.0 315.0L94.2 313.7L94.4 313.9L94.5 313.5L94.7 313.9L94.9 313.4L95.1 313.7L95.2 314.1L95.4 313.7L95.6 313.4L95.8 314.0L95.9 313.0L96.1 313.6L96.3 313.0L96.4 313.0L96.6 312.8L96.8 312.7L97.0 312.4L97.1 311.9L97.3 311.7L97.5 311.8L97.7 311.2L97.8 310.5L98.0 310.1L98.2 309.5L98.4 309.0L98.5 308.2L98.7 306.9L98.9 305.0L99.0 302.7L99.2 298.2L99.4 291.2L99.6 282.0L99.7 266.4L99.9 246.4L100.1 221.7L100.3 197.2L100.4 177.8L100.6 173.1L100.8 180.5L101.0 193.1L101.1 204.4L101.3 213.5L101.5 221.5L101.6 233.0L101.8 248.3L102.0 263.3L102.2 277.0L102.3 287.6L102.5 295.5L102.7 300.6L102.9 303.8L103.0 307.1L103.2 307.2L103.4 309.0L103.5 309.8L103.7 310.4L103.9 310.5L104.1 311.2L104.2 311.5L104.4 311.6L104.6 312.2L104.8 312.3L104.9 312.4L105.1 313.0L105.3 312.6L105.5 313.3L105.6 313.0L105.8 313.5L106.0 313.5L106.1 313.6L106.3 313.3L106.5 313.4L106.7 313.4L106.8 313.9L107.0 314.1L107.2 314.3L107.4 313.8L107.5 314.0L107.7 313.5L107.9 313.3L108.0 313.8L108.2 313.9L108.4 313.6L108.6 313.6L108.7 314.4L108.9 314.0L109.1 313.7L109.3 315.1L109.4 314.4L109.6 314.2L109.8 314.6L110.0 314.1L110.1 314.9L110.3 313.8L110.5 313.9L110.6 314.4L110.8 314.2L111.0 314.9L111.2 313.9L111.3 314.2L111.5 314.5L111.7 314.7L111.9 314.8L112.0 314.6L112.2 315.3L112.4 314.3L112.6 314.6L112.7 314.8L112.9 314.4L113.1 314.4L113.2 314.4L113.4 314.3L113.6 314.2L113.8 314.4L113.9 314.0L114.1 314.7L114.3 314.0L114.5 315.3L114.6 315.2L114.8 315.0L115.0 314.5L115.1 314.4L115.3 315.0L115.5 314.7L115.7 314.8L115.8 314.4L116.0 315.0L116.2 314.3L116.4 314.7L116.5 314.0L116.7 314.4L116.9 314.8L117.1 314.5L117.2 314.5L117.4 314.9L117.6 314.6L117.7 315.1L117.9 313.8L118.1 314.8L118.3 314.8L118.4 314.1L118.6 314.2L118.8 315.0L119.0 314.3L119.1 314.4L119.3 314.9L119.5 314.5L119.6 314.8L119.8 314.4L120.0 314.8L120.2 315.0L120.3 314.8L120.5 313.9L120.7 314.9L120.9 314.7L121.0 314.4L121.2 315.2L121.4 314.1L121.6 315.3L121.7 314.5L121.9 315.2L122.1 314.7L122.2 314.2L122.4 314.7L122.6 314.8L122.8 314.9L122.9 315.0L123.1 314.4L123.3 314.8L123.5 314.9L123.6 314.6L123.8 314.4L124.0 314.3L124.2 314.9L124.3 315.0L124.5 314.4L124.7 314.2L124.8 315.1L125.0 314.1L125.2 314.7L125.4 314.4L125.5 314.1L125.7 314.7L125.9 314.6L126.1 315.2L126.2 315.5L126.4 314.6L126.6 315.0L126.7 315.0L126.9 314.5L127.1 314.4L127.3 315.2L127.4 314.5L127.6 314.7L127.8 314.6L128.0 314.6L128.1 314.4L128.3 314.9L128.5 315.1L128.7 314.5L128.8 314.2L129.0 314.7L129.2 314.1L129.3 314.4L129.5 315.1L129.7 315.4L129.9 314.7L130.0 314.2L130.2 314.9L130.4 313.8L130.6 314.3L130.7 315.1L130.9 314.8L131.1 314.1L131.3 314.0L131.4 314.8L131.6 314.5L131.8 314.3L131.9 314.6L132.1 314.2L132.3 313.7L132.5 314.7L132.6 314.1L132.8 314.0L133.0 313.8L133.2 314.3L133.3 313.9L133.5 314.3L133.7 313.9L133.8 314.2L134.0 313.6L134.2 313.3L134.4 312.5L134.5 312.4L134.7 312.3L134.9 311.9L135.1 308.6L135.2 306.2L135.4 303.4L135.6 299.9L135.8 296.2L135.9 294.8L136.1 294.7L136.3 297.0L136.4 299.5L136.6 301.2L136.8 301.3L137.0 302.0L137.1 303.5L137.3 305.6L137.5 307.5L137.7 309.0L137.8 310.9L138.0 312.3L138.2 312.5L138.3 312.8L138.5 313.7L138.7 313.9L138.9 314.3L139.0 314.1L139.2 313.9L139.4 314.0L139.6 313.9L139.7 314.0L139.9 314.2L140.1 314.2L140.3 314.8L140.4 314.0L140.6 314.5L140.8 314.3L140.9 315.0L141.1 314.6L141.3 314.4L141.5 314.8L141.6 314.6L141.8 314.4L142.0 315.1L142.2 314.9L142.3 315.2L142.5 315.0L142.7 314.9L142.9 314.7L143.0 314.3L143.2 314.9L143.4 314.7L143.5 314.9L143.7 314.7L143.9 314.4L144.1 314.3L144.2 314.9L144.4 315.1L144.6 314.6L144.8 314.8L144.9 315.2L145.1 314.4L145.3 314.6L145.4 314.3L145.6 315.1L145.8 314.8L146.0 314.5L146.1 314.1L146.3 314.7L146.5 315.1L146.7 314.6L146.8 314.6L147.0 314.9L147.2 314.3L147.4 314.7L147.5 314.9L147.7 314.5L147.9 314.4L148.0 314.8L148.2 314.7L148.4 314.6L148.6 314.8L148.7 314.8L148.9 314.4L149.1 314.5L149.3 314.9L149.4 315.1L149.6 315.2L149.8 314.4L149.9 315.1L150.1 315.0L150.3 314.7L150.5 314.9L150.6 315.0L150.8 315.4L151.0 314.4L151.2 315.0L151.3 314.7L151.5 314.7L151.7 315.1L151.9 315.0L152.0 314.4L152.2 314.7L152.4 314.8L152.5 314.3L152.7 315.1L152.9 314.7L153.1 314.8L153.2 314.9L153.4 315.4L153.6 314.8L153.8 314.6L153.9 315.4L154.1 314.6L154.3 314.6L154.5 314.3L154.6 315.1L154.8 314.9L155.0 314.9L155.1 314.8L155.3 314.7L155.5 314.5L155.7 314.5L155.8 314.9L156.0 314.8L156.2 315.3L156.4 314.5L156.5 314.6L156.7 314.4L156.9 315.2L157.0 314.3L157.2 315.0L157.4 315.3L157.6 314.7L157.7 315.0L157.9 314.0L158.1 314.6L158.3 314.2L158.4 314.8L158.6 314.8L158.8 314.5L159.0 315.1L159.1 314.9L159.3 314.6L159.5 314.6L159.6 314.3L159.8 314.7L160.0 315.5L160.2 314.5L160.3 314.9L160.5 314.6L160.7 315.0L160.9 314.9L161.0 314.7L161.2 314.2L161.4 314.6L161.6 315.2L161.7 314.7L161.9 315.0L162.1 314.6L162.2 314.1L162.4 314.9L162.6 314.9L162.8 314.6L162.9 314.6L163.1 314.9L163.3 314.6L163.5 314.9L163.6 314.7L163.8 314.0L164.0 314.7L164.1 314.6L164.3 314.5L164.5 314.9L164.7 314.6L164.8 315.0L165.0 315.2L165.2 314.8L165.4 314.2L165.5 314.5L165.7 315.1L165.9 314.7L166.1 314.5L166.2 314.7L166.4 314.9L166.6 314.9L166.7 315.0L166.9 314.5L167.1 314.7L167.3 314.7L167.4 314.8L167.6 314.1L167.8 314.7L168.0 314.3L168.1 315.3L168.3 315.3L168.5 315.4L168.6 315.1L168.8 314.6L169.0 315.1L169.2 314.7L169.3 315.0L169.5 314.5L169.7 314.6L169.9 314.9L170.0 315.4L170.2 314.8L170.4 315.6L170.6 315.7L170.7 314.3L170.9 314.8L171.1 314.4L171.2 314.7L171.4 314.6L171.6 314.8L171.8 315.1L171.9 315.1L172.1 314.9L172.3 314.8L172.5 314.8L172.6 314.8L172.8 315.0L173.0 314.8L173.2 315.0L173.3 314.3L173.5 315.1L173.7 315.4L173.8 314.8L174.0 314.3L174.2 315.2L174.4 314.7L174.5 313.7L174.7 314.7L174.9 315.0L175.1 314.9L175.2 315.2L175.4 315.0L175.6 314.8L175.7 314.1L175.9 314.4L176.1 314.8L176.3 315.0L176.4 314.4L176.6 314.6L176.8 314.9L177.0 314.1L177.1 314.1L177.3 314.7L177.5 314.9L177.7 314.6L177.8 314.0L178.0 314.8L178.2 314.3L178.3 315.0L178.5 314.7L178.7 314.9L178.9 315.0L179.0 314.6L179.2 315.1L179.4 315.2L179.6 314.9L179.7 315.2L179.9 314.6L180.1 315.1L180.2 314.9L180.4 314.4L180.6 314.8L180.8 314.6L180.9 314.6L181.1 314.8L181.3 315.2L181.5 314.7L181.6 314.8L181.8 314.3L182.0 314.8L182.2 315.2L182.3 315.1L182.5 314.9L182.7 314.6L182.8 314.4L183.0 314.7L183.2 314.3L183.4 314.4L183.5 315.1L183.7 314.5L183.9 315.4L184.1 314.3L184.2 314.9L184.4 314.4L184.6 314.8L184.8 314.4L184.9 314.8L185.1 314.7L185.3 314.6L185.4 315.0L185.6 315.3L185.8 314.6L186.0 315.1L186.1 314.8L186.3 314.8L186.5 315.5L186.7 314.0L186.8 314.5L187.0 314.2L187.2 314.7L187.3 314.7L187.5 316.1L187.7 314.9L187.9 315.4L188.0 315.2L188.2 314.6L188.4 314.9L188.6 315.4L188.7 314.8L188.9 314.9L189.1 315.0L189.3 314.3L189.4 314.5L189.6 314.9L189.8 315.0L189.9 314.5L190.1 314.7L190.3 314.7L190.5 314.7L190.6 315.0L190.8 314.8L191.0 314.8L191.2 314.3L191.3 314.4L191.5 314.9L191.7 314.2L191.9 314.9L192.0 314.6L192.2 314.5L192.4 315.0L192.5 314.5L192.7 314.5L192.9 314.5L193.1 314.8L193.2 315.7L193.4 314.0L193.6 314.8L193.8 314.7L193.9 315.1L194.1 314.7L194.3 313.9L194.4 315.2L194.6 314.4L194.8 314.8L195.0 314.3L195.1 314.4L195.3 314.6L195.5 315.1L195.7 315.1L195.8 314.6L196.0 315.0L196.2 314.6L196.4 314.8L196.5 314.8L196.7 315.0L196.9 314.6L197.0 314.7L197.2 314.9L197.4 314.8L197.6 314.5L197.7 315.4L197.9 314.6L198.1 315.0L198.3 314.8L198.4 315.2L198.6 314.0L198.8 315.5L198.9 314.7L199.1 314.3L199.3 314.8L199.5 315.6L199.6 314.9L199.8 314.3L200.0 314.6L200.2 315.2L200.3 314.3L200.5 314.7L200.7 314.7L200.9 315.5L201.0 314.7L201.2 315.2L201.4 314.5L201.5 314.5L201.7 315.1L201.9 315.0L202.1 314.2L202.2 315.0L202.4 315.0L202.6 314.6L202.8 314.8L202.9 314.9L203.1 314.6L203.3 314.6L203.5 314.5L203.6 314.7L203.8 314.3L204.0 314.8L204.1 314.2L204.3 314.8L204.5 314.7L204.7 314.4L204.8 315.1L205.0 315.4L205.2 315.2L205.4 314.3L205.5 315.2L205.7 314.8L205.9 314.7L206.0 314.6L206.2 314.8L206.4 315.2L206.6 315.0L206.7 314.6L206.9 314.5L207.1 314.6L207.3 315.0L207.4 315.4L207.6 314.4L207.8 314.8L208.0 314.6L208.1 314.5L208.3 314.9L208.5 315.0L208.6 314.3L208.8 314.4L209.0 315.2L209.2 314.9L209.3 314.9L209.5 314.6L209.7 314.6L209.9 314.9L210.0 314.6L210.2 314.4L210.4 314.8L210.5 315.1L210.7 314.4L210.9 315.1L211.1 315.0L211.2 314.5L211.4 314.8L211.6 314.7L211.8 315.0L211.9 315.0L212.1 314.3L212.3 314.3L212.5 315.1L212.6 314.8L212.8 314.9L213.0 314.9L213.1 315.3L213.3 314.3L213.5 315.1L213.7 314.5L213.8 315.0L214.0 315.2L214.2 314.3L214.4 314.9L214.5 314.6L214.7 314.6L214.9 314.7L215.1 314.4L215.2 314.4L215.4 314.9L215.6 315.0L215.7 314.5L215.9 314.2L216.1 315.5L216.3 315.1L216.4 314.8L216.6 314.3L216.8 314.5L217.0 314.8L217.1 314.3L217.3 315.2L217.5 314.7L217.6 314.8L217.8 314.3L218.0 314.3L218.2 314.4L218.3 314.7L218.5 314.5L218.7 314.5L218.9 314.7L219.0 314.7L219.2 315.1L219.4 314.5L219.6 314.2L219.7 314.5L219.9 315.0L220.1 314.3L220.2 314.4L220.4 314.3L220.6 314.5L220.8 314.4L220.9 314.0L221.1 314.1L221.3 314.4L221.5 314.4L221.6 314.2L221.8 314.0L222.0 313.3L222.2 312.8L222.3 312.6L222.5 310.8L222.7 309.6L222.8 306.6L223.0 304.1L223.2 300.7L223.4 297.7L223.5 297.0L223.7 297.3L223.9 299.7L224.1 302.1L224.2 303.7L224.4 305.3L224.6 304.6L224.7 304.6L224.9 304.1L225.1 305.4L225.3 307.1L225.4 308.8L225.6 310.3L225.8 311.8L226.0 313.2L226.1 313.2L226.3 313.5L226.5 313.7L226.7 314.9L226.8 314.7L227.0 314.4L227.2 314.5L227.3 314.1L227.5 314.3L227.7 314.5L227.9 314.5L228.0 314.2L228.2 314.2L228.4 314.7L228.6 314.6L228.7 313.8L228.9 314.6L229.1 315.0L229.2 314.4L229.4 314.7L229.6 314.1L229.8 314.9L229.9 314.3L230.1 314.2L230.3 314.5L230.5 315.5L230.6 314.5L230.8 314.2L231.0 314.8L231.2 314.8L231.3 315.3L231.5 314.3L231.7 314.1L231.8 314.6L232.0 314.8L232.2 314.8L232.4 315.1L232.5 314.2L232.7 314.4L232.9 314.7L233.1 315.0L233.2 314.9L233.4 314.6L233.6 314.4L233.8 315.0L233.9 315.1L234.1 315.7L234.3 314.7L234.4 315.3L234.6 314.3L234.8 314.5L235.0 314.5L235.1 314.6L235.3 314.4L235.5 314.6L235.7 314.7L235.8 314.6L236.0 315.0L236.2 314.7L236.3 314.7L236.5 315.3L236.7 314.9L236.9 314.8L237.0 314.7L237.2 314.8L237.4 314.9L237.6 314.5L237.7 315.1L237.9 315.3L238.1 315.1L238.3 314.6L238.4 314.2L238.6 314.6L238.8 314.8L238.9 315.0L239.1 314.7L239.3 314.7L239.5 315.3L239.6 314.5L239.8 315.1L240.0 315.1L240.2 314.3L240.3 314.9L240.5 314.6L240.7 314.4L240.8 314.1L241.0 314.2L241.2 314.9L241.4 314.6L241.5 314.9L241.7 314.4L241.9 314.6L242.1 314.7L242.2 314.2L242.4 314.2L242.6 314.9L242.8 314.8L242.9 314.4L243.1 314.7L243.3 315.0L243.4 315.4L243.6 314.5L243.8 315.0L244.0 315.5L244.1 314.8L244.3 315.3L244.5 313.9L244.7 315.3L244.8 314.8L245.0 314.1L245.2 315.0L245.4 315.1L245.5 315.2L245.7 315.2L245.9 314.7L246.0 314.5L246.2 314.6L246.4 314.7L246.6 314.9L246.7 314.6L246.9 314.8L247.1 315.1L247.3 314.9L247.4 315.5L247.6 315.5L247.8 314.4L247.9 314.6L248.1 314.3L248.3 314.4L248.5 314.9L248.6 314.4L248.8 314.4L249.0 314.7L249.2 315.0L249.3 314.6L249.5 314.6L249.7 315.1L249.9 314.9L250.0 314.9L250.2 315.1L250.4 314.4L250.5 314.8L250.7 314.5L250.9 315.1L251.1 315.0L251.2 314.4L251.4 315.2L251.6 314.4L251.8 315.2L251.9 314.8L252.1 314.5L252.3 314.4L252.5 314.6L252.6 314.7L252.8 314.5L253.0 314.9L253.1 314.3L253.3 314.7L253.5 314.7L253.7 314.1L253.8 314.9L254.0 314.3L254.2 313.9L254.4 314.5L254.5 314.7L254.7 315.1L254.9 314.6L255.0 315.3L255.2 315.2L255.4 315.1L255.6 315.2L255.7 314.9L255.9 314.5L256.1 315.0L256.3 315.1L256.4 314.8L256.6 314.7L256.8 314.2L257.0 315.0L257.1 314.9L257.3 314.3L257.5 314.8L257.6 315.0L257.8 314.7L258.0 315.0L258.2 315.0L258.3 314.2L258.5 314.6L258.7 314.9L258.9 315.0L259.0 315.2L259.2 314.1L259.4 314.7L259.5 315.0L259.7 315.1L259.9 315.3L260.1 314.4L260.2 314.6L260.4 314.3L260.6 315.0L260.8 314.3L260.9 315.1L261.1 315.0L261.3 314.9L261.5 313.9L261.6 314.5L261.8 315.0L262.0 314.2L262.1 314.6L262.3 314.7L262.5 315.0L262.7 314.8L262.8 314.8L263.0 314.5L263.2 314.7L263.4 314.6L263.5 314.9L263.7 314.6L263.9 315.0L264.1 314.1L264.2 315.1L264.4 314.6L264.6 315.0L264.7 314.7L264.9 314.9L265.1 315.1L265.3 314.4L265.4 314.6L265.6 314.5L265.8 314.7L266.0 314.0L266.1 314.5L266.3 314.5L266.5 314.3L266.6 314.5L266.8 314.0L267.0 315.0L267.2 314.7L267.3 315.2L267.5 314.2L267.7 314.1L267.9 314.6L268.0 313.9L268.2 314.5L268.4 314.2L268.6 314.3L268.7 314.4L268.9 314.3L269.1 314.9L269.2 314.5L269.4 313.8L269.6 314.5L269.8 313.6L269.9 314.1L270.1 313.6L270.3 313.6L270.5 314.3L270.6 313.5L270.8 313.4L271.0 313.3L271.1 313.2L271.3 313.6L271.5 312.4L271.7 312.0L271.8 312.0L272.0 310.3L272.2 309.3L272.4 307.5L272.5 303.7L272.7 299.0L272.9 293.5L273.1 288.0L273.2 284.4L273.4 284.3L273.6 287.5L273.7 291.8L273.9 295.2L274.1 297.5L274.3 298.5L274.4 296.3L274.6 294.1L274.8 291.1L275.0 288.3L275.1 286.5L275.3 285.4L275.5 283.7L275.7 284.6L275.8 287.7L276.0 292.4L276.2 296.2L276.3 300.4L276.5 301.8L276.7 302.2L276.9 301.6L277.0 300.6L277.2 300.4L277.4 302.3L277.6 304.1L277.7 306.4L277.9 308.9L278.1 310.0L278.2 311.7L278.4 312.3L278.6 312.5L278.8 313.4L278.9 312.9L279.1 313.8L279.3 313.4L279.5 314.0L279.6 314.4L279.8 314.2L280.0 313.9L280.2 314.1L280.3 314.0L280.5 313.8L280.7 313.9L280.8 314.3L281.0 314.5L281.2 313.7L281.4 314.3L281.5 314.6L281.7 314.5L281.9 314.1L282.1 314.8L282.2 314.0L282.4 314.7L282.6 315.0L282.8 313.8L282.9 314.6L283.1 314.6L283.3 314.6L283.4 314.3L283.6 314.4L283.8 314.1L284.0 314.6L284.1 314.8L284.3 314.4L284.5 314.3L284.7 314.4L284.8 314.6L285.0 314.6L285.2 314.6L285.3 314.6L285.5 314.2L285.7 313.7L285.9 314.8L286.0 315.1L286.2 314.2L286.4 314.4L286.6 314.7L286.7 315.0L286.9 314.9L287.1 315.1L287.3 314.6L287.4 314.8L287.6 314.8L287.8 314.5L287.9 315.1L288.1 314.9L288.3 315.0L288.5 314.5L288.6 315.0L288.8 314.3L289.0 314.8L289.2 313.8L289.3 314.3L289.5 314.9L289.7 314.5L289.8 314.7L290.0 314.1L290.2 315.2L290.4 314.9L290.5 314.7L290.7 314.8L290.9 314.8L291.1 315.2L291.2 314.8L291.4 314.2L291.6 314.6L291.8 315.1L291.9 314.9L292.1 314.5L292.3 314.9L292.4 314.7L292.6 314.9L292.8 314.1L293.0 314.4L293.1 314.9L293.3 314.6L293.5 314.8L293.7 315.4L293.8 314.6L294.0 314.8L294.2 314.5L294.4 314.5L294.5 314.7L294.7 314.2L294.9 314.0L295.0 315.2L295.2 314.7L295.4 315.1L295.6 314.7L295.7 314.7L295.9 314.9L296.1 314.9L296.3 314.3L296.4 315.1L296.6 314.3L296.8 314.7L296.9 315.6L297.1 314.7L297.3 315.2L297.5 314.6L297.6 314.9L297.8 314.7L298.0 314.8L298.2 314.4L298.3 314.3L298.5 314.8L298.7 314.1L298.9 314.3L299.0 314.9L299.2 314.4L299.4 314.3L299.5 314.2L299.7 314.7L299.9 314.5L300.1 314.6L300.2 314.5L300.4 315.2L300.6 314.4L300.8 313.9L300.9 314.5L301.1 314.5L301.3 314.5L301.4 313.9L301.6 314.8L301.8 314.3L302.0 314.3L302.1 313.7L302.3 314.3L302.5 314.0L302.7 314.3L302.8 313.5L303.0 312.8L303.2 312.7L303.4 311.3L303.5 310.3L303.7 307.9L303.9 305.9L304.0 303.5L304.2 302.0L304.4 301.7L304.6 303.0L304.7 305.3L304.9 307.1L305.1 308.7L305.3 309.1L305.4 308.4L305.6 308.6L305.8 308.4L306.0 307.8L306.1 308.3L306.3 309.4L306.5 310.3L306.6 311.2L306.8 312.8L307.0 313.5L307.2 313.8L307.3 314.0L307.5 314.2L307.7 314.2L307.9 314.4L308.0 314.3L308.2 314.5L308.4 314.1L308.5 314.2L308.7 314.7L308.9 314.4L309.1 313.7L309.2 314.6L309.4 313.8L309.6 315.2L309.8 314.8L309.9 314.8L310.1 314.4L310.3 314.2L310.5 314.6L310.6 314.7L310.8 314.4L311.0 314.7L311.1 314.9L311.3 314.9L311.5 314.3L311.7 313.9L311.8 314.7L312.0 314.5L312.2 314.8L312.4 315.2L312.5 315.2L312.7 314.8L312.9 315.1L313.1 315.3L313.2 314.7L313.4 314.8L313.6 315.0L313.7 314.7L313.9 314.5L314.1 314.5L314.3 314.7L314.4 314.5L314.6 315.0L314.8 314.6L315.0 315.2L315.1 315.1L315.3 314.3L315.5 315.1L315.6 314.6L315.8 315.2L316.0 314.9L316.2 314.7L316.3 315.0L316.5 314.6L316.7 314.8L316.9 314.9L317.0 314.7L317.2 314.9L317.4 314.4L317.6 314.9L317.7 314.3L317.9 315.0L318.1 314.9L318.2 315.0L318.4 314.6L318.6 315.8L318.8 314.7L318.9 314.8L319.1 314.5L319.3 315.2L319.5 314.6L319.6 315.1L319.8 314.4L320.0 314.9L320.1 314.6L320.3 315.1L320.5 314.7L320.7 314.5L320.8 314.9L321.0 314.4L321.2 314.4L321.4 315.0L321.5 314.1L321.7 315.0L321.9 314.6L322.1 314.5L322.2 314.8L322.4 315.0" fill="none" stroke="#2a2a2a" stroke-width="0.8"/><path d="M19.4 314.4L19.6 313.9L19.7 314.1L19.9 314.6L20.1 314.1L20.3 314.7L20.4 314.5L20.6 314.5L20.8 314.6L21.0 314.5L21.1 314.1L21.3 314.2L21.5 315.2L21.7 313.9L21.8 314.2L22.0 314.7L22.2 314.3L22.3 314.1L22.5 313.9L22.7 314.5L22.9 314.7L23.0 314.8L23.2 314.3L23.4 314.7L23.6 313.9L23.7 314.3L23.9 314.0L24.1 314.3L24.2 314.5L24.4 314.6L24.6 313.9L24.8 314.7L24.9 314.1L25.1 313.9L25.3 314.1L25.5 313.7L25.6 314.2L25.8 314.3L26.0 314.1L26.2 314.3L26.3 314.0L26.5 314.1L26.7 313.6L26.8 314.1L27.0 313.7L27.2 313.8L27.4 313.9L27.5 314.0L27.7 313.3L27.9 313.3L28.1 313.7L28.2 313.9L28.4 313.8L28.6 314.0L28.7 314.0L28.9 313.7L29.1 313.4L29.3 313.0L29.4 312.9L29.6 312.9L29.8 313.1L30.0 312.9L30.1 312.6L30.3 312.3L30.5 312.3L30.7 311.8L30.8 311.4L31.0 310.8L31.2 309.7L31.3 308.3L31.5 306.9L31.7 303.9L31.9 298.8L32.0 291.6L32.2 282.9L32.4 270.0L32.6 257.8L32.7 248.3L32.9 244.0L33.1 246.8L33.3 252.6L33.4 258.1L33.6 264.4L33.8 272.2L33.9 280.9L34.1 289.6L34.3 296.2L34.5 301.3L34.6 305.2L34.8 308.0L35.0 309.4L35.2 310.6L35.3 310.3L35.5 312.0L35.7 312.7L35.8 312.7L36.0 312.4L36.2 312.4L36.4 313.0L36.5 312.7L36.7 313.4L36.9 313.1L37.1 313.7L37.2 313.9L37.4 312.8L37.6 313.7L37.8 313.4L37.9 313.2L38.1 313.5L38.3 313.7L38.4 314.1L38.6 313.3L38.8 314.2L39.0 314.6L39.1 314.1L39.3 314.1L39.5 313.9L39.7 313.5L39.8 314.1L40.0 314.1L40.2 314.2L40.4 314.8L40.5 314.2L40.7 314.1L40.9 314.5L41.0 313.5L41.2 313.5L41.4 313.8L41.6 313.7L41.7 314.1L41.9 313.7L42.1 314.4L42.3 314.3L42.4 314.0L42.6 313.5L42.8 313.8L42.9 313.8L43.1 313.1L43.3 313.4L43.5 313.3L43.6 312.9L43.8 312.9L44.0 312.0L44.2 310.2L44.3 309.1L44.5 307.0L44.7 305.6L44.9 303.6L45.0 303.6L45.2 303.6L45.4 304.4L45.5 304.5L45.7 304.5L45.9 306.0L46.1 305.6L46.2 305.7L46.4 303.9L46.6 301.3L46.8 297.7L46.9 292.4L47.1 288.3L47.3 284.6L47.4 285.5L47.6 287.0L47.8 289.5L48.0 291.9L48.1 294.6L48.3 298.4L48.5 300.7L48.7 304.7L48.8 307.1L49.0 309.8L49.2 310.6L49.4 311.9L49.5 312.2L49.7 312.9L49.9 313.3L50.0 313.0L50.2 313.4L50.4 313.0L50.6 313.7L50.7 314.0L50.9 313.5L51.1 314.2L51.3 313.1L51.4 313.3L51.6 313.5L51.8 313.8L52.0 314.0L52.1 314.0L52.3 314.1L52.5 314.4L52.6 314.0L52.8 313.7L53.0 313.7L53.2 314.9L53.3 313.4L53.5 314.2L53.7 314.7L53.9 314.4L54.0 314.0L54.2 314.3L54.4 314.6L54.5 314.7L54.7 314.0L54.9 314.6L55.1 314.4L55.2 314.7L55.4 314.8L55.6 314.2L55.8 313.8L55.9 314.5L56.1 315.0L56.3 314.6L56.5 314.4L56.6 315.2L56.8 314.0L57.0 314.7L57.1 314.2L57.3 314.4L57.5 314.4L57.7 314.9L57.8 314.0L58.0 314.2L58.2 313.8L58.4 314.6L58.5 314.2L58.7 314.5L58.9 314.0L59.0 314.3L59.2 314.8L59.4 314.3L59.6 314.6L59.7 314.6L59.9 314.3L60.1 313.9L60.3 314.7L60.4 314.5L60.6 314.7L60.8 313.7L61.0 313.8L61.1 313.7L61.3 314.1L61.5 314.8L61.6 314.6L61.8 314.4L62.0 314.5L62.2 314.7L62.3 314.3L62.5 314.6L62.7 314.5L62.9 313.7L63.0 314.3L63.2 314.9L63.4 314.3L63.6 314.4L63.7 314.2L63.9 314.3L64.1 314.8L64.2 314.3L64.4 314.1L64.6 313.3L64.8 314.2L64.9 313.7L65.1 313.8L65.3 314.7L65.5 314.7L65.6 313.8L65.8 314.7L66.0 314.6L66.1 314.2L66.3 314.7L66.5 313.9L66.7 314.0L66.8 313.9L67.0 314.0L67.2 314.7L67.4 314.0L67.5 314.0L67.7 314.1L67.9 314.5L68.1 314.3L68.2 314.7L68.4 314.2L68.6 314.0L68.7 314.3L68.9 314.4L69.1 314.1L69.3 314.5L69.4 315.1L69.6 314.2L69.8 314.4L70.0 314.9L70.1 314.2L70.3 314.1L70.5 314.0L70.7 314.6L70.8 314.6L71.0 314.4L71.2 314.4L71.3 314.9L71.5 314.7L71.7 313.9L71.9 314.4L72.0 314.5L72.2 314.7L72.4 314.3L72.6 314.2L72.7 314.3L72.9 313.8L73.1 314.4L73.2 314.2L73.4 314.6L73.6 314.1L73.8 314.3L73.9 314.1L74.1 314.0L74.3 314.7L74.5 314.3L74.6 314.6L74.8 314.0L75.0 314.4L75.2 313.8L75.3 314.2L75.5 314.2L75.7 314.6L75.8 314.5L76.0 314.3L76.2 314.7L76.4 314.5L76.5 314.6L76.7 314.7L76.9 314.4L77.1 314.3L77.2 314.5L77.4 314.3L77.6 314.5L77.7 314.8L77.9 314.7L78.1 314.3L78.3 313.9L78.4 314.4L78.6 314.3L78.8 314.8L79.0 314.3L79.1 314.3L79.3 314.6L79.5 314.2L79.7 314.3L79.8 315.0L80.0 314.9L80.2 314.6L80.3 314.5L80.5 314.0L80.7 314.6L80.9 314.4L81.0 314.5L81.2 314.2L81.4 314.4L81.6 314.3L81.7 314.5L81.9 314.9L82.1 314.5L82.3 313.8L82.4 314.0L82.6 313.8L82.8 314.1L82.9 314.6L83.1 314.5L83.3 314.1L83.5 314.4L83.6 314.1L83.8 313.9L84.0 313.9L84.2 314.0L84.3 314.8L84.5 313.9L84.7 314.8L84.8 314.8L85.0 314.3L85.2 314.3L85.4 314.1L85.5 314.3L85.7 314.5L85.9 314.3L86.1 314.7L86.2 314.7L86.4 314.4L86.6 314.4L86.8 314.3L86.9 314.4L87.1 313.9L87.3 314.4L87.4 314.3L87.6 314.0L87.8 315.0L88.0 313.9L88.1 313.9L88.3 314.3L88.5 313.6L88.7 314.0L88.8 313.7L89.0 313.9L89.2 314.2L89.3 314.3L89.5 314.6L89.7 314.5L89.9 314.6L90.0 314.4L90.2 314.0L90.4 314.5L90.6 314.0L90.7 313.9L90.9 314.6L91.1 314.4L91.3 314.2L91.4 314.3L91.6 314.4L91.8 313.6L91.9 314.0L92.1 313.6L92.3 314.0L92.5 313.7L92.6 314.4L92.8 314.1L93.0 313.6L93.2 313.9L93.3 313.4L93.5 313.8L93.7 314.0L93.9 313.8L94.0 313.0L94.2 313.6L94.4 313.8L94.5 313.7L94.7 313.9L94.9 313.0L95.1 313.6L95.2 313.1L95.4 313.3L95.6 313.3L95.8 313.3L95.9 312.8L96.1 313.0L96.3 312.4L96.4 312.1L96.6 312.7L96.8 312.3L97.0 311.5L97.1 311.6L97.3 311.6L97.5 311.8L97.7 311.3L97.8 310.8L98.0 309.4L98.2 309.4L98.4 308.9L98.5 307.9L98.7 306.7L98.9 304.8L99.0 302.9L99.2 298.8L99.4 291.8L99.6 281.3L99.7 267.4L99.9 246.2L100.1 222.2L100.3 197.3L100.4 177.6L100.6 172.7L100.8 180.2L101.0 193.4L101.1 204.7L101.3 213.7L101.5 221.2L101.6 232.4L101.8 247.7L102.0 262.7L102.2 276.4L102.3 288.1L102.5 294.8L102.7 300.2L102.9 303.8L103.0 305.7L103.2 306.8L103.4 308.9L103.5 309.1L103.7 309.8L103.9 310.4L104.1 310.6L104.2 310.9L104.4 311.7L104.6 312.7L104.8 312.4L104.9 312.6L105.1 312.0L105.3 312.6L105.5 312.4L105.6 313.2L105.8 312.9L106.0 313.1L106.1 313.2L106.3 313.1L106.5 312.8L106.7 313.6L106.8 313.0L107.0 313.1L107.2 313.5L107.4 313.4L107.5 313.8L107.7 314.1L107.9 313.8L108.0 313.9L108.2 313.8L108.4 314.1L108.6 313.2L108.7 314.0L108.9 313.6L109.1 313.5L109.3 314.0L109.4 313.9L109.6 314.2L109.8 314.4L110.0 313.2L110.1 314.0L110.3 314.8L110.5 314.4L110.6 314.6L110.8 314.1L111.0 313.6L111.2 313.7L111.3 314.4L111.5 314.5L111.7 313.9L111.9 314.1L112.0 314.3L112.2 313.6L112.4 314.1L112.6 314.8L112.7 315.0L112.9 314.2L113.1 314.9L113.2 314.1L113.4 314.0L113.6 313.5L113.8 314.6L113.9 314.1L114.1 315.1L114.3 314.4L114.5 314.3L114.6 313.6L114.8 314.8L115.0 314.2L115.1 314.2L115.3 313.5L115.5 314.6L115.7 314.6L115.8 314.1L116.0 314.3L116.2 314.4L116.4 314.7L116.5 314.4L116.7 314.9L116.9 314.2L117.1 314.1L117.2 314.2L117.4 313.4L117.6 314.1L117.7 314.7L117.9 314.4L118.1 314.1L118.3 314.5L118.4 313.6L118.6 314.2L118.8 314.5L119.0 314.6L119.1 314.1L119.3 314.7L119.5 315.0L119.6 314.2L119.8 314.6L120.0 313.8L120.2 313.7L120.3 314.6L120.5 314.4L120.7 314.4L120.9 314.2L121.0 314.3L121.2 314.7L121.4 315.0L121.6 314.3L121.7 313.8L121.9 314.8L122.1 314.6L122.2 314.6L122.4 314.4L122.6 315.2L122.8 314.4L122.9 314.6L123.1 313.7L123.3 314.2L123.5 314.1L123.6 314.4L123.8 314.5L124.0 314.1L124.2 315.0L124.3 314.0L124.5 314.2L124.7 314.5L124.8 313.9L125.0 314.6L125.2 314.6L125.4 314.3L125.5 315.0L125.7 314.4L125.9 314.5L126.1 314.0L126.2 313.8L126.4 314.2L126.6 314.3L126.7 314.2L126.9 314.6L127.1 313.5L127.3 314.0L127.4 313.7L127.6 314.8L127.8 314.2L128.0 314.2L128.1 314.0L128.3 314.7L128.5 314.2L128.7 314.4L128.8 313.6L129.0 314.7L129.2 314.5L129.3 314.5L129.5 314.8L129.7 314.3L129.9 314.3L130.0 314.6L130.2 314.4L130.4 314.2L130.6 314.3L130.7 314.1L130.9 314.5L131.1 314.6L131.3 314.2L131.4 314.9L131.6 313.7L131.8 314.1L131.9 314.8L132.1 314.0L132.3 313.6L132.5 314.6L132.6 314.2L132.8 313.6L133.0 314.2L133.2 313.6L133.3 313.4L133.5 313.7L133.7 313.5L133.8 313.2L134.0 313.3L134.2 312.9L134.4 312.9L134.5 312.5L134.7 312.0L134.9 310.4L135.1 308.3L135.2 305.8L135.4 302.9L135.6 299.9L135.8 296.5L135.9 294.3L136.1 295.3L136.3 296.4L136.4 299.2L136.6 300.2L136.8 301.4L137.0 302.0L137.1 302.9L137.3 305.0L137.5 306.6L137.7 308.9L137.8 310.9L138.0 313.1L138.2 312.7L138.3 313.0L138.5 312.9L138.7 313.8L138.9 313.0L139.0 313.5L139.2 313.9L139.4 313.5L139.6 314.5L139.7 314.4L139.9 313.9L140.1 313.9L140.3 313.7L140.4 313.7L140.6 314.3L140.8 314.4L140.9 314.3L141.1 314.3L141.3 314.1L141.5 314.4L141.6 313.8L141.8 314.3L142.0 314.8L142.2 314.8L142.3 314.2L142.5 314.2L142.7 314.8L142.9 315.0L143.0 313.8L143.2 314.2L143.4 314.4L143.5 314.8L143.7 314.1L143.9 314.6L144.1 314.3L144.2 315.2L144.4 314.5L144.6 314.3L144.8 314.3L144.9 314.8L145.1 314.6L145.3 314.0L145.4 314.5L145.6 313.9L145.8 314.1L146.0 314.0L146.1 313.9L146.3 314.2L146.5 314.1L146.7 314.6L146.8 314.7L147.0 314.3L147.2 314.0L147.4 314.7L147.5 313.7L147.7 313.7L147.9 314.7L148.0 314.7L148.2 314.8L148.4 314.4L148.6 314.0L148.7 314.3L148.9 314.6L149.1 314.2L149.3 314.2L149.4 313.9L149.6 314.0L149.8 314.7L149.9 314.6L150.1 314.0L150.3 314.1L150.5 314.2L150.6 314.6L150.8 314.0L151.0 314.4L151.2 313.7L151.3 314.0L151.5 314.6L151.7 314.8L151.9 314.0L152.0 314.2L152.2 314.7L152.4 314.3L152.5 314.3L152.7 314.6L152.9 314.5L153.1 314.8L153.2 314.7L153.4 314.2L153.6 314.4L153.8 314.4L153.9 314.0L154.1 314.1L154.3 314.8L154.5 313.9L154.6 314.8L154.8 314.6L155.0 314.4L155.1 314.6L155.3 314.6L155.5 314.9L155.7 314.3L155.8 314.4L156.0 314.4L156.2 315.1L156.4 314.8L156.5 314.1L156.7 314.3L156.9 314.2L157.0 314.5L157.2 314.5L157.4 315.3L157.6 313.8L157.7 314.8L157.9 314.6L158.1 314.2L158.3 314.4L158.4 314.3L158.6 314.5L158.8 314.8L159.0 313.9L159.1 314.9L159.3 314.3L159.5 315.0L159.6 314.6L159.8 314.9L160.0 314.7L160.2 314.8L160.3 314.5L160.5 314.2L160.7 314.7L160.9 314.7L161.0 315.2L161.2 313.8L161.4 314.4L161.6 314.8L161.7 314.0L161.9 314.4L162.1 315.2L162.2 315.0L162.4 314.2L162.6 315.0L162.8 314.9L162.9 314.7L163.1 314.6L163.3 314.6L163.5 314.2L163.6 314.3L163.8 314.7L164.0 314.5L164.1 315.1L164.3 314.4L164.5 313.6L164.7 314.4L164.8 314.6L165.0 314.6L165.2 314.5L165.4 314.2L165.5 315.0L165.7 314.2L165.9 314.7L166.1 314.4L166.2 314.1L166.4 315.0L166.6 313.6L166.7 314.2L166.9 314.6L167.1 314.3L167.3 314.7L167.4 314.4L167.6 314.3L167.8 315.2L168.0 314.4L168.1 314.4L168.3 314.1L168.5 314.2L168.6 314.7L168.8 314.7L169.0 314.5L169.2 314.2L169.3 314.7L169.5 313.9L169.7 314.4L169.9 314.4L170.0 314.2L170.2 314.5L170.4 314.2L170.6 314.2L170.7 315.1L170.9 314.7L171.1 314.9L171.2 314.5L171.4 314.8L171.6 314.8L171.8 314.9L171.9 315.3L172.1 314.4L172.3 314.6L172.5 314.5L172.6 313.3L172.8 314.0L173.0 314.5L173.2 314.7L173.3 314.3L173.5 314.9L173.7 314.9L173.8 314.3L174.0 315.0L174.2 315.1L174.4 314.6L174.5 314.1L174.7 315.0L174.9 314.4L175.1 314.4L175.2 314.5L175.4 314.3L175.6 314.9L175.7 314.8L175.9 314.9L176.1 314.7L176.3 314.2L176.4 314.4L176.6 314.8L176.8 314.3L177.0 315.5L177.1 314.4L177.3 314.3L177.5 314.9L177.7 314.7L177.8 314.5L178.0 314.4L178.2 314.6L178.3 314.8L178.5 314.8L178.7 314.4L178.9 314.6L179.0 314.8L179.2 314.8L179.4 313.4L179.6 314.2L179.7 314.2L179.9 314.4L180.1 314.5L180.2 314.8L180.4 314.7L180.6 314.4L180.8 314.5L180.9 315.1L181.1 314.3L181.3 314.6L181.5 315.0L181.6 314.6L181.8 313.8L182.0 314.6L182.2 314.4L182.3 314.4L182.5 314.9L182.7 314.7L182.8 314.4L183.0 314.8L183.2 314.6L183.4 314.5L183.5 314.6L183.7 314.6L183.9 314.4L184.1 314.3L184.2 314.5L184.4 314.2L184.6 314.0L184.8 314.9L184.9 314.4L185.1 314.5L185.3 314.4L185.4 314.5L185.6 314.5L185.8 314.5L186.0 314.2L186.1 314.8L186.3 314.2L186.5 314.8L186.7 313.8L186.8 314.1L187.0 314.8L187.2 314.4L187.3 314.3L187.5 314.6L187.7 314.1L187.9 314.5L188.0 313.7L188.2 314.3L188.4 314.3L188.6 314.7L188.7 314.8L188.9 314.2L189.1 315.0L189.3 314.3L189.4 313.8L189.6 313.7L189.8 315.0L189.9 314.5L190.1 314.3L190.3 314.2L190.5 314.1L190.6 315.0L190.8 314.5L191.0 315.1L191.2 314.4L191.3 313.7L191.5 314.8L191.7 314.4L191.9 314.4L192.0 315.0L192.2 314.4L192.4 314.9L192.5 314.5L192.7 314.2L192.9 314.7L193.1 314.3L193.2 314.9L193.4 314.8L193.6 314.5L193.8 314.7L193.9 314.7L194.1 314.4L194.3 314.8L194.4 314.4L194.6 314.7L194.8 314.2L195.0 314.5L195.1 314.6L195.3 314.2L195.5 314.3L195.7 314.3L195.8 314.7L196.0 314.2L196.2 314.6L196.4 315.0L196.5 314.6L196.7 313.9L196.9 314.5L197.0 314.9L197.2 314.4L197.4 314.9L197.6 314.7L197.7 314.6L197.9 314.4L198.1 314.3L198.3 314.4L198.4 314.5L198.6 314.7L198.8 314.6L198.9 314.4L199.1 314.5L199.3 314.6L199.5 313.9L199.6 314.2L199.8 314.2L200.0 314.4L200.2 314.4L200.3 314.4L200.5 314.2L200.7 314.7L200.9 314.6L201.0 313.9L201.2 314.5L201.4 314.1L201.5 315.1L201.7 314.3L201.9 314.3L202.1 314.5L202.2 314.4L202.4 314.5L202.6 315.0L202.8 314.6L202.9 314.8L203.1 314.9L203.3 314.1L203.5 315.1L203.6 314.7L203.8 314.8L204.0 314.2L204.1 314.8L204.3 314.6L204.5 314.3L204.7 315.3L204.8 314.7L205.0 314.4L205.2 314.6L205.4 314.8L205.5 314.9L205.7 314.7L205.9 314.9L206.0 315.0L206.2 314.1L206.4 314.3L206.6 314.2L206.7 314.5L206.9 315.0L207.1 314.7L207.3 314.1L207.4 314.4L207.6 314.8L207.8 314.3L208.0 314.4L208.1 314.6L208.3 313.8L208.5 314.8L208.6 314.6L208.8 314.7L209.0 314.1L209.2 314.2L209.3 314.3L209.5 314.6L209.7 314.5L209.9 314.5L210.0 315.1L210.2 314.9L210.4 314.2L210.5 314.2L210.7 315.1L210.9 314.4L211.1 315.0L211.2 315.0L211.4 314.3L211.6 314.4L211.8 314.5L211.9 314.2L212.1 314.1L212.3 314.3L212.5 314.8L212.6 314.3L212.8 314.4L213.0 314.3L213.1 314.0L213.3 315.0L213.5 313.6L213.7 314.2L213.8 314.6L214.0 314.0L214.2 314.7L214.4 314.9L214.5 314.1L214.7 314.5L214.9 314.1L215.1 314.6L215.2 314.5L215.4 314.5L215.6 314.9L215.7 314.6L215.9 314.9L216.1 314.6L216.3 314.0L216.4 314.5L216.6 314.6L216.8 313.9L217.0 314.9L217.1 314.4L217.3 314.5L217.5 314.1L217.6 314.4L217.8 314.5L218.0 314.2L218.2 314.4L218.3 313.6L218.5 314.8L218.7 313.9L218.9 313.5L219.0 314.0L219.2 314.0L219.4 314.5L219.6 313.9L219.7 314.3L219.9 313.9L220.1 314.9L220.2 314.3L220.4 314.8L220.6 313.7L220.8 314.2L220.9 313.6L221.1 314.1L221.3 314.0L221.5 313.1L221.6 313.2L221.8 313.0L222.0 312.6L222.2 312.4L222.3 311.7L222.5 310.4L222.7 309.3L222.8 307.1L223.0 303.5L223.2 300.5L223.4 297.8L223.5 296.4L223.7 297.1L223.9 299.8L224.1 302.2L224.2 303.9L224.4 304.4L224.6 305.2L224.7 304.8L224.9 304.2L225.1 305.2L225.3 307.3L225.4 308.4L225.6 310.4L225.8 311.5L226.0 312.1L226.1 312.8L226.3 312.7L226.5 313.3L226.7 313.0L226.8 314.6L227.0 314.4L227.2 314.4L227.3 314.1L227.5 314.4L227.7 314.6L227.9 314.5L228.0 314.5L228.2 313.9L228.4 314.4L228.6 314.1L228.7 313.9L228.9 313.9L229.1 314.5L229.2 314.7L229.4 313.8L229.6 314.9L229.8 314.9L229.9 314.2L230.1 314.2L230.3 314.3L230.5 314.7L230.6 314.2L230.8 314.0L231.0 314.5L231.2 313.7L231.3 314.4L231.5 314.8L231.7 314.5L231.8 314.7L232.0 314.6L232.2 314.7L232.4 314.5L232.5 314.1L232.7 314.3L232.9 314.4L233.1 314.9L233.2 315.0L233.4 314.6L233.6 314.2L233.8 314.2L233.9 314.4L234.1 314.9L234.3 314.6L234.4 314.4L234.6 314.2L234.8 314.8L235.0 314.5L235.1 314.4L235.3 314.5L235.5 315.0L235.7 314.4L235.8 315.0L236.0 314.9L236.2 314.5L236.3 314.8L236.5 314.4L236.7 314.2L236.9 314.4L237.0 314.1L237.2 314.6L237.4 314.5L237.6 314.7L237.7 314.7L237.9 313.4L238.1 314.6L238.3 313.8L238.4 314.5L238.6 314.2L238.8 314.5L238.9 314.9L239.1 313.9L239.3 314.5L239.5 314.4L239.6 313.8L239.8 314.7L240.0 314.5L240.2 314.3L240.3 314.2L240.5 315.6L240.7 314.3L240.8 313.8L241.0 314.1L241.2 314.3L241.4 314.3L241.5 314.4L241.7 314.1L241.9 314.7L242.1 314.3L242.2 314.0L242.4 314.2L242.6 314.3L242.8 314.8L242.9 314.6L243.1 314.4L243.3 314.5L243.4 314.5L243.6 315.2L243.8 314.3L244.0 314.6L244.1 314.7L244.3 314.1L244.5 314.5L244.7 314.5L244.8 314.3L245.0 314.7L245.2 314.8L245.4 314.9L245.5 314.4L245.7 314.5L245.9 315.3L246.0 314.1L246.2 314.5L246.4 314.8L246.6 314.5L246.7 314.7L246.9 314.5L247.1 314.7L247.3 314.9L247.4 314.4L247.6 314.5L247.8 314.4L247.9 314.3L248.1 314.5L248.3 314.1L248.5 314.7L248.6 315.1L248.8 315.1L249.0 314.9L249.2 314.1L249.3 315.0L249.5 314.2L249.7 314.4L249.9 315.1L250.0 314.1L250.2 314.8L250.4 314.6L250.5 314.4L250.7 314.2L250.9 314.6L251.1 314.3L251.2 314.8L251.4 314.9L251.6 314.0L251.8 314.3L251.9 314.4L252.1 314.0L252.3 314.1L252.5 314.5L252.6 314.4L252.8 313.9L253.0 314.3L253.1 314.6L253.3 314.0L253.5 314.1L253.7 315.0L253.8 314.9L254.0 313.9L254.2 314.0L254.4 314.6L254.5 314.0L254.7 314.4L254.9 314.3L255.0 314.7L255.2 313.6L255.4 313.7L255.6 314.0L255.7 314.8L255.9 314.4L256.1 313.9L256.3 314.6L256.4 314.7L256.6 314.4L256.8 314.3L257.0 314.6L257.1 314.9L257.3 314.5L257.5 314.6L257.6 314.4L257.8 314.3L258.0 314.1L258.2 314.5L258.3 314.3L258.5 314.4L258.7 314.8L258.9 314.6L259.0 314.7L259.2 313.9L259.4 314.6L259.5 314.2L259.7 314.1L259.9 314.1L260.1 314.8L260.2 314.7L260.4 314.2L260.6 314.0L260.8 314.4L260.9 314.3L261.1 315.0L261.3 313.9L261.5 313.8L261.6 314.3L261.8 314.4L262.0 314.5L262.1 314.7L262.3 315.1L262.5 314.3L262.7 314.2L262.8 313.8L263.0 314.5L263.2 314.7L263.4 314.3L263.5 314.8L263.7 314.4L263.9 314.9L264.1 314.5L264.2 314.0L264.4 314.1L264.6 313.8L264.7 313.7L264.9 314.4L265.1 314.6L265.3 315.0L265.4 314.3L265.6 314.2L265.8 313.9L266.0 314.6L266.1 314.4L266.3 314.1L266.5 314.5L266.6 314.5L266.8 313.6L267.0 314.5L267.2 314.3L267.3 314.1L267.5 314.1L267.7 314.8L267.9 314.7L268.0 314.8L268.2 313.7L268.4 313.9L268.6 314.4L268.7 313.6L268.9 313.8L269.1 313.4L269.2 314.6L269.4 314.3L269.6 314.0L269.8 313.9L269.9 313.6L270.1 313.6L270.3 313.8L270.5 313.3L270.6 313.9L270.8 313.1L271.0 312.9L271.1 313.4L271.3 312.7L271.5 312.7L271.7 311.9L271.8 310.7L272.0 310.8L272.2 308.7L272.4 307.2L272.5 302.9L272.7 298.3L272.9 293.6L273.1 288.2L273.2 284.3L273.4 283.5L273.6 287.1L273.7 290.7L273.9 294.9L274.1 297.2L274.3 297.8L274.4 296.9L274.6 293.7L274.8 291.1L275.0 288.6L275.1 285.9L275.3 284.6L275.5 283.9L275.7 284.4L275.8 287.7L276.0 291.4L276.2 296.7L276.3 300.0L276.5 301.6L276.7 301.6L276.9 301.5L277.0 300.4L277.2 300.7L277.4 301.6L277.6 304.0L277.7 306.0L277.9 308.8L278.1 309.2L278.2 310.9L278.4 312.2L278.6 312.0L278.8 313.2L278.9 312.7L279.1 313.3L279.3 313.1L279.5 313.4L279.6 313.7L279.8 313.7L280.0 313.7L280.2 314.6L280.3 313.9L280.5 313.6L280.7 314.3L280.8 314.3L281.0 314.5L281.2 314.7L281.4 313.8L281.5 314.5L281.7 314.5L281.9 314.2L282.1 314.3L282.2 313.1L282.4 314.0L282.6 314.8L282.8 313.6L282.9 314.1L283.1 314.4L283.3 314.5L283.4 314.8L283.6 313.7L283.8 314.3L284.0 314.6L284.1 313.9L284.3 314.3L284.5 315.0L284.7 314.8L284.8 314.5L285.0 313.4L285.2 314.3L285.3 314.5L285.5 314.2L285.7 314.3L285.9 315.4L286.0 314.3L286.2 314.0L286.4 314.5L286.6 314.3L286.7 314.3L286.9 314.4L287.1 314.7L287.3 314.5L287.4 314.0L287.6 314.3L287.8 314.6L287.9 314.2L288.1 314.8L288.3 314.7L288.5 314.1L288.6 314.5L288.8 315.1L289.0 315.0L289.2 314.4L289.3 314.7L289.5 314.2L289.7 313.9L289.8 314.6L290.0 314.5L290.2 314.6L290.4 314.4L290.5 314.5L290.7 314.2L290.9 314.6L291.1 314.7L291.2 314.4L291.4 314.7L291.6 313.8L291.8 314.2L291.9 314.9L292.1 315.0L292.3 314.5L292.4 314.4L292.6 314.0L292.8 314.6L293.0 314.7L293.1 313.9L293.3 314.6L293.5 314.6L293.7 314.6L293.8 314.0L294.0 314.6L294.2 313.9L294.4 314.9L294.5 314.5L294.7 314.0L294.9 314.9L295.0 314.8L295.2 314.2L295.4 315.2L295.6 314.1L295.7 314.5L295.9 314.8L296.1 313.6L296.3 314.8L296.4 314.4L296.6 314.4L296.8 314.0L296.9 314.5L297.1 314.0L297.3 314.1L297.5 314.2L297.6 314.0L297.8 314.9L298.0 313.9L298.2 314.1L298.3 314.3L298.5 314.4L298.7 314.7L298.9 314.7L299.0 314.3L299.2 314.2L299.4 314.4L299.5 314.6L299.7 314.6L299.9 314.1L300.1 313.6L300.2 315.1L300.4 314.6L300.6 314.4L300.8 314.4L300.9 314.1L301.1 313.9L301.3 314.1L301.4 314.1L301.6 313.9L301.8 313.6L302.0 313.9L302.1 314.1L302.3 313.7L302.5 313.8L302.7 312.9L302.8 313.3L303.0 312.9L303.2 311.9L303.4 310.8L303.5 310.1L303.7 307.7L303.9 305.8L304.0 303.2L304.2 302.0L304.4 301.5L304.6 302.5L304.7 305.0L304.9 306.9L305.1 308.6L305.3 308.8L305.4 308.7L305.6 308.6L305.8 308.1L306.0 307.7L306.1 308.2L306.3 309.1L306.5 310.5L306.6 311.7L306.8 312.4L307.0 312.9L307.2 313.4L307.3 314.5L307.5 313.8L307.7 313.8L307.9 313.9L308.0 314.1L308.2 314.2L308.4 313.8L308.5 313.5L308.7 314.3L308.9 313.7L309.1 314.4L309.2 314.3L309.4 314.7L309.6 314.9L309.8 314.5L309.9 314.1L310.1 313.9L310.3 314.1L310.5 314.4L310.6 313.7L310.8 314.4L311.0 314.4L311.1 314.6L311.3 314.3L311.5 314.4L311.7 314.2L311.8 314.3L312.0 313.8L312.2 314.5L312.4 315.0L312.5 314.5L312.7 314.6L312.9 314.1L313.1 314.9L313.2 314.2L313.4 314.7L313.6 314.5L313.7 314.1L313.9 314.8L314.1 314.5L314.3 314.5L314.4 314.6L314.6 314.4L314.8 314.3L315.0 314.6L315.1 314.3L315.3 314.5L315.5 314.2L315.6 313.9L315.8 314.2L316.0 314.3L316.2 314.5L316.3 314.9L316.5 313.9L316.7 314.5L316.9 313.7L317.0 314.1L317.2 314.3L317.4 313.7L317.6 313.8L317.7 314.5L317.9 314.5L318.1 314.4L318.2 314.2L318.4 315.2L318.6 314.4L318.8 314.2L318.9 315.1L319.1 314.7L319.3 314.3L319.5 314.9L319.6 314.5L319.8 314.7L320.0 314.6L320.1 314.1L320.3 314.8L320.5 314.5L320.7 314.1L320.8 314.2L321.0 314.8L321.2 314.3L321.4 314.5L321.5 314.7L321.7 314.5L321.9 313.9L322.1 314.7L322.2 314.8L322.4 314.8" fill="none" stroke="#b83a3a" stroke-width="0.9" stroke-opacity="0.85"/><path d="M331.4 313.9L331.4 313.9L331.5 313.9L331.8 313.9L332.0 313.9L332.3 313.9L332.5 313.9L332.8 313.9L333.1 313.9L333.3 313.9L333.6 313.9L333.8 313.9L334.1 313.9L334.4 313.8L334.6 313.8L334.9 313.8L335.1 313.8L335.4 313.8L335.7 313.8L335.9 313.8L336.2 313.8L336.4 313.8L336.7 313.7L337.0 313.7L337.2 313.7L337.5 313.7L337.7 313.7L338.0 313.7L338.3 313.6L338.5 313.6L338.8 313.6L339.0 313.6L339.3 313.6L339.6 313.6L339.8 313.5L340.1 313.5L340.3 313.5L340.6 313.5L340.9 313.4L341.1 313.4L341.4 313.4L341.6 313.4L341.9 313.3L342.2 313.3L342.4 313.3L342.7 313.2L342.9 313.2L343.2 313.1L343.5 313.1L343.7 313.1L344.0 313.0L344.2 313.0L344.5 312.9L344.8 312.9L345.0 312.8L345.3 312.7L345.5 312.7L345.8 312.6L346.1 312.5L346.3 312.5L346.6 312.4L346.8 312.3L347.1 312.2L347.4 312.1L347.6 312.0L347.9 311.9L348.1 311.7L348.4 311.6L348.7 311.4L348.9 311.3L349.2 311.1L349.4 310.9L349.7 310.7L350.0 310.4L350.2 310.1L350.5 309.8L350.7 309.4L351.0 308.9L351.3 308.3L351.5 307.6L351.8 306.6L352.0 305.5L352.3 304.0L352.6 302.2L352.8 299.9L353.1 297.1L353.3 293.6L353.6 289.5L353.9 284.5L354.1 278.7L354.4 272.1L354.6 264.6L354.9 256.3L355.2 247.3L355.4 237.8L355.7 227.9L355.9 217.9L356.2 208.2L356.5 199.2L356.7 191.3L357.0 184.8L357.2 180.0L357.5 177.2L357.8 176.3L358.0 177.1L358.3 179.5L358.5 183.1L358.8 187.8L359.1 193.3L359.3 199.6L359.6 206.7L359.8 214.3L360.1 222.3L360.4 230.7L360.6 239.0L360.9 247.2L361.1 255.1L361.4 262.5L361.7 269.4L361.9 275.6L362.2 281.2L362.4 286.2L362.7 290.5L363.0 294.2L363.2 297.3L363.5 299.9L363.7 302.1L364.0 303.9L364.3 305.4L364.5 306.6L364.8 307.5L365.0 308.3L365.3 308.9L365.6 309.4L365.8 309.9L366.1 310.2L366.3 310.5L366.6 310.8L366.9 311.0L367.1 311.2L367.4 311.4L367.6 311.5L367.9 311.7L368.2 311.8L368.4 311.9L368.7 312.0L368.9 312.1L369.2 312.2L369.5 312.3L369.7 312.4L370.0 312.5L370.2 312.6L370.5 312.6L370.8 312.7L371.0 312.8L371.3 312.8L371.5 312.9L371.8 312.9L372.1 313.0L372.3 313.0L372.6 313.1L372.8 313.1L373.1 313.2L373.4 313.2L373.6 313.2L373.9 313.3L374.1 313.3L374.4 313.3L374.7 313.4L374.9 313.4L375.2 313.4L375.4 313.5L375.7 313.5L376.0 313.5L376.2 313.5L376.5 313.5L376.7 313.6L377.0 313.6L377.3 313.6L377.5 313.6L377.8 313.6L378.0 313.7L378.3 313.7L378.6 313.7L378.8 313.7" fill="none" stroke="#2a2a2a" stroke-width="0.8"/><path d="M377.2 314.3L377.5 314.3L377.8 314.3L378.1 314.3L378.3 314.3L378.6 314.3L378.9 314.3L379.2 314.3L379.5 314.3L379.8 314.3L380.0 314.3L380.3 314.3L380.6 314.2L380.9 314.2L381.2 314.2L381.5 314.2L381.8 314.2L382.0 314.2L382.3 314.2L382.6 314.2L382.9 314.2L383.2 314.2L383.5 314.2L383.8 314.2L384.0 314.2L384.3 314.2L384.6 314.2L384.9 314.2L385.2 314.2L385.5 314.2L385.7 314.2L386.0 314.2L386.3 314.2L386.6 314.2L386.9 314.2L387.2 314.2L387.5 314.2L387.7 314.2L388.0 314.2L388.3 314.2L388.6 314.2L388.9 314.2L389.2 314.2L389.4 314.2L389.7 314.2L390.0 314.2L390.3 314.2L390.6 314.2L390.9 314.2L391.2 314.2L391.4 314.2L391.7 314.2L392.0 314.2L392.3 314.2L392.6 314.2L392.9 314.2L393.1 314.2L393.4 314.2L393.7 314.2L394.0 314.2L394.3 314.2L394.6 314.2L394.9 314.2L395.1 314.2L395.4 314.2L395.7 314.2L396.0 314.2L396.3 314.2L396.6 314.2L396.9 314.2L397.1 314.2L397.4 314.2L397.7 314.2L398.0 314.2L398.3 314.2L398.6 314.2L398.8 314.2L399.1 314.2L399.4 314.2L399.7 314.2L400.0 314.1L400.3 314.1L400.6 314.1L400.8 314.1L401.1 314.1L401.4 314.1L401.7 314.1L402.0 314.1L402.3 314.1L402.5 314.1L402.8 314.1L403.1 314.1L403.4 314.1L403.7 314.1L404.0 314.1L404.3 314.1L404.5 314.1L404.8 314.1L405.1 314.1L405.4 314.1L405.7 314.1L406.0 314.0L406.2 314.0L406.5 314.0L406.8 314.0L407.1 314.0L407.4 314.0L407.7 314.0L408.0 314.0L408.2 314.0L408.5 314.0L408.8 314.0L409.1 313.9L409.4 313.9L409.7 313.9L410.0 313.9L410.2 313.9L410.5 313.9L410.8 313.9L411.1 313.8L411.4 313.8L411.7 313.8L411.9 313.8L412.2 313.8L412.5 313.8L412.8 313.7L413.1 313.7L413.4 313.7L413.7 313.6L413.9 313.6L414.2 313.6L414.5 313.5L414.8 313.5L415.1 313.5L415.4 313.4L415.6 313.4L415.9 313.3L416.2 313.3L416.5 313.2L416.8 313.1L417.1 313.1L417.4 313.0L417.6 312.9L417.9 312.8L418.2 312.7L418.5 312.6L418.8 312.4L419.1 312.3L419.4 312.1L419.6 311.8L419.9 311.5L420.2 311.2L420.5 310.7L420.8 310.0L421.1 309.1L421.3 307.8L421.6 306.1L421.9 303.8L422.2 300.8L422.5 297.1L422.8 292.5L423.1 287.1L423.3 280.9L423.6 274.1L423.9 267.1L424.2 260.2L424.5 253.8L424.8 248.7L425.0 245.4L425.3 244.3L425.6 245.4L425.9 248.4L426.2 252.6L426.5 257.5L426.8 262.4L427.0 266.8L427.3 270.3L427.6 272.8L427.9 274.4L428.2 275.0L428.5 275.0L428.7 274.8L429.0 274.8L429.3 275.3L429.6 276.6L429.9 278.9L430.2 281.8L430.5 285.3L430.7 289.0L431.0 292.7L431.3 296.2L431.6 299.4L431.9 302.2L432.2 304.6L432.5 306.6L432.7 308.1L433.0 309.3L433.3 310.3L433.6 310.9L433.9 311.5L434.2 311.8L434.4 312.1L434.7 312.4L435.0 312.5L435.3 312.7L435.6 312.8L435.9 312.9L436.2 313.0L436.4 313.1L436.7 313.2L437.0 313.2L437.3 313.3L437.6 313.3L437.9 313.4L438.1 313.4L438.4 313.5L438.7 313.5L439.0 313.6L439.3 313.6L439.6 313.6L439.9 313.7L440.1 313.7L440.4 313.7L440.7 313.7L441.0 313.8L441.3 313.8L441.6 313.8L441.8 313.8L442.1 313.8L442.4 313.9L442.7 313.9L443.0 313.9L443.3 313.9L443.6 313.9L443.8 313.9L444.1 313.9L444.4 314.0L444.7 314.0L445.0 314.0L445.3 314.0L445.6 314.0L445.8 314.0L446.1 314.0L446.4 314.0L446.7 314.0L447.0 314.0L447.3 314.0L447.5 314.1L447.8 314.1L448.1 314.1L448.4 314.1" fill="none" stroke="#2a2a2a" stroke-width="0.8"/><path d="M331.4 313.9L331.4 313.9L331.5 313.9L331.8 313.9L332.0 313.9L332.3 313.9L332.5 313.9L332.8 313.9L333.1 313.9L333.3 313.9L333.6 313.9L333.8 313.9L334.1 313.9L334.4 313.8L334.6 313.8L334.9 313.8L335.1 313.8L335.4 313.8L335.7 313.8L335.9 313.8L336.2 313.8L336.4 313.8L336.7 313.7L337.0 313.7L337.2 313.7L337.5 313.7L337.7 313.7L338.0 313.7L338.3 313.6L338.5 313.6L338.8 313.6L339.0 313.6L339.3 313.6L339.6 313.6L339.8 313.5L340.1 313.5L340.3 313.5L340.6 313.5L340.9 313.4L341.1 313.4L341.4 313.4L341.6 313.4L341.9 313.3L342.2 313.3L342.4 313.3L342.7 313.2L342.9 313.2L343.2 313.1L343.5 313.1L343.7 313.1L344.0 313.0L344.2 313.0L344.5 312.9L344.8 312.9L345.0 312.8L345.3 312.7L345.5 312.7L345.8 312.6L346.1 312.5L346.3 312.5L346.6 312.4L346.8 312.3L347.1 312.2L347.4 312.1L347.6 312.0L347.9 311.9L348.1 311.7L348.4 311.6L348.7 311.4L348.9 311.3L349.2 311.1L349.4 310.9L349.7 310.7L350.0 310.4L350.2 310.1L350.5 309.8L350.7 309.4L351.0 308.9L351.3 308.3L351.5 307.6L351.8 306.6L352.0 305.5L352.3 304.0L352.6 302.2L352.8 299.9L353.1 297.1L353.3 293.6L353.6 289.5L353.9 284.5L354.1 278.7L354.4 272.1L354.6 264.6L354.9 256.3L355.2 247.3L355.4 237.8L355.7 227.9L355.9 217.9L356.2 208.2L356.5 199.2L356.7 191.3L357.0 184.8L357.2 180.0L357.5 177.2L357.8 176.3L358.0 177.1L358.3 179.5L358.5 183.1L358.8 187.8L359.1 193.3L359.3 199.6L359.6 206.7L359.8 214.3L360.1 222.3L360.4 230.7L360.6 239.0L360.9 247.2L361.1 255.1L361.4 262.5L361.7 269.4L361.9 275.6L362.2 281.2L362.4 286.2L362.7 290.5L363.0 294.2L363.2 297.3L363.5 299.9L363.7 302.1L364.0 303.9L364.3 305.4L364.5 306.6L364.8 307.5L365.0 308.3L365.3 308.9L365.6 309.4L365.8 309.9L366.1 310.2L366.3 310.5L366.6 310.8L366.9 311.0L367.1 311.2L367.4 311.4L367.6 311.5L367.9 311.7L368.2 311.8L368.4 311.9L368.7 312.0L368.9 312.1L369.2 312.2L369.5 312.3L369.7 312.4L370.0 312.5L370.2 312.6L370.5 312.6L370.8 312.7L371.0 312.8L371.3 312.8L371.5 312.9L371.8 312.9L372.1 313.0L372.3 313.0L372.6 313.1L372.8 313.1L373.1 313.2L373.4 313.2L373.6 313.2L373.9 313.3L374.1 313.3L374.4 313.3L374.7 313.4L374.9 313.4L375.2 313.4L375.4 313.5L375.7 313.5L376.0 313.5L376.2 313.5L376.5 313.5L376.7 313.6L377.0 313.6L377.3 313.6L377.5 313.6L377.8 313.6L378.0 313.7L378.3 313.7L378.6 313.7L378.8 313.7" fill="none" stroke="#b83a3a" stroke-width="0.9"/><path d="M377.2 314.3L377.5 314.3L377.8 314.3L378.1 314.3L378.3 314.3L378.6 314.3L378.9 314.3L379.2 314.3L379.5 314.3L379.8 314.3L380.0 314.3L380.3 314.3L380.6 314.2L380.9 314.2L381.2 314.2L381.5 314.2L381.8 314.2L382.0 314.2L382.3 314.2L382.6 314.2L382.9 314.2L383.2 314.2L383.5 314.2L383.8 314.2L384.0 314.2L384.3 314.2L384.6 314.2L384.9 314.2L385.2 314.2L385.5 314.2L385.7 314.2L386.0 314.2L386.3 314.2L386.6 314.2L386.9 314.2L387.2 314.2L387.5 314.2L387.7 314.2L388.0 314.2L388.3 314.2L388.6 314.2L388.9 314.2L389.2 314.2L389.4 314.2L389.7 314.2L390.0 314.2L390.3 314.2L390.6 314.2L390.9 314.2L391.2 314.2L391.4 314.2L391.7 314.2L392.0 314.2L392.3 314.2L392.6 314.2L392.9 314.2L393.1 314.2L393.4 314.2L393.7 314.2L394.0 314.2L394.3 314.2L394.6 314.2L394.9 314.2L395.1 314.2L395.4 314.2L395.7 314.2L396.0 314.2L396.3 314.2L396.6 314.2L396.9 314.2L397.1 314.2L397.4 314.2L397.7 314.2L398.0 314.2L398.3 314.2L398.6 314.2L398.8 314.2L399.1 314.2L399.4 314.2L399.7 314.2L400.0 314.1L400.3 314.1L400.6 314.1L400.8 314.1L401.1 314.1L401.4 314.1L401.7 314.1L402.0 314.1L402.3 314.1L402.5 314.1L402.8 314.1L403.1 314.1L403.4 314.1L403.7 314.1L404.0 314.1L404.3 314.1L404.5 314.1L404.8 314.1L405.1 314.1L405.4 314.1L405.7 314.1L406.0 314.0L406.2 314.0L406.5 314.0L406.8 314.0L407.1 314.0L407.4 314.0L407.7 314.0L408.0 314.0L408.2 314.0L408.5 314.0L408.8 314.0L409.1 313.9L409.4 313.9L409.7 313.9L410.0 313.9L410.2 313.9L410.5 313.9L410.8 313.9L411.1 313.8L411.4 313.8L411.7 313.8L411.9 313.8L412.2 313.8L412.5 313.8L412.8 313.7L413.1 313.7L413.4 313.7L413.7 313.6L413.9 313.6L414.2 313.6L414.5 313.5L414.8 313.5L415.1 313.5L415.4 313.4L415.6 313.4L415.9 313.3L416.2 313.3L416.5 313.2L416.8 313.1L417.1 313.1L417.4 313.0L417.6 312.9L417.9 312.8L418.2 312.7L418.5 312.6L418.8 312.4L419.1 312.3L419.4 312.1L419.6 311.8L419.9 311.5L420.2 311.2L420.5 310.7L420.8 310.0L421.1 309.1L421.3 307.8L421.6 306.1L421.9 303.8L422.2 300.8L422.5 297.1L422.8 292.5L423.1 287.1L423.3 280.9L423.6 274.1L423.9 267.1L424.2 260.2L424.5 253.8L424.8 248.7L425.0 245.4L425.3 244.3L425.6 245.4L425.9 248.4L426.2 252.6L426.5 257.5L426.8 262.4L427.0 266.8L427.3 270.3L427.6 272.8L427.9 274.4L428.2 275.0L428.5 275.0L428.7 274.8L429.0 274.8L429.3 275.3L429.6 276.6L429.9 278.9L430.2 281.8L430.5 285.3L430.7 289.0L431.0 292.7L431.3 296.2L431.6 299.4L431.9 302.2L432.2 304.6L432.5 306.6L432.7 308.1L433.0 309.3L433.3 310.3L433.6 310.9L433.9 311.5L434.2 311.8L434.4 312.1L434.7 312.4L435.0 312.5L435.3 312.7L435.6 312.8L435.9 312.9L436.2 313.0L436.4 313.1L436.7 313.2L437.0 313.2L437.3 313.3L437.6 313.3L437.9 313.4L438.1 313.4L438.4 313.5L438.7 313.5L439.0 313.6L439.3 313.6L439.6 313.6L439.9 313.7L440.1 313.7L440.4 313.7L440.7 313.7L441.0 313.8L441.3 313.8L441.6 313.8L441.8 313.8L442.1 313.8L442.4 313.9L442.7 313.9L443.0 313.9L443.3 313.9L443.6 313.9L443.8 313.9L444.1 313.9L444.4 314.0L444.7 314.0L445.0 314.0L445.3 314.0L445.6 314.0L445.8 314.0L446.1 314.0L446.4 314.0L446.7 314.0L447.0 314.0L447.3 314.0L447.5 314.1L447.8 314.1L448.1 314.1L448.4 314.1" fill="none" stroke="#b83a3a" stroke-width="0.9"/><path d="M457.5 261.2L457.7 264.9L458.0 273.7L458.2 273.3L458.4 266.1L458.7 259.7L458.9 258.1L459.1 261.3L459.4 272.8L459.6 271.9L459.8 269.4L460.1 279.2L460.3 264.0L460.6 263.3L460.8 263.3L461.0 284.0L461.3 248.3L461.5 269.4L461.7 270.9L462.0 267.4L462.2 287.9L462.4 277.4L462.7 273.9L462.9 258.9L463.1 271.4L463.4 263.7L463.6 267.4L463.8 268.8L464.1 262.7L464.3 272.7L464.5 281.7L464.8 276.4L465.0 269.1L465.2 249.8L465.5 276.9L465.7 276.8L466.0 265.5L466.2 263.0L466.4 273.1L466.7 260.0L466.9 274.4L467.1 257.6L467.4 259.1L467.6 267.5L467.8 254.3L468.1 267.4L468.3 272.1L468.5 255.7L468.8 275.7L469.0 262.4L469.2 272.4L469.5 269.4L469.7 263.4L469.9 262.8L470.2 252.3L470.4 261.3L470.6 260.7L470.9 282.2L471.1 276.7L471.4 255.4L471.6 274.7L471.8 269.6L472.1 264.2L472.3 271.8L472.5 274.7L472.8 262.6L473.0 265.2L473.2 269.2L473.5 258.9L473.7 269.4L473.9 267.0L474.2 261.7L474.4 260.3L474.6 270.5L474.9 275.6L475.1 270.8L475.3 260.2L475.6 274.5L475.8 269.4L476.0 273.1L476.3 278.2L476.5 259.9L476.8 266.7L477.0 262.6L477.2 260.2L477.5 285.8L477.7 276.3L477.9 252.3L478.2 271.8L478.4 263.0L478.6 278.2L478.9 268.8L479.1 266.5L479.3 269.3L479.6 271.5L479.8 268.3L480.0 266.1L480.3 266.9L480.5 272.6L480.7 258.1L481.0 268.1L481.2 267.1L481.4 263.8L481.7 274.7L481.9 256.7L482.2 264.9L482.4 260.6L482.6 273.0L482.9 264.0L483.1 268.6L483.3 271.6L483.6 254.1L483.8 272.2L484.0 261.6L484.3 266.0L484.5 267.3L484.7 275.4L485.0 274.8L485.2 284.0L485.4 269.9L485.7 264.1L485.9 263.9L486.1 274.1L486.4 282.6L486.6 271.4L486.8 263.2L487.1 270.8L487.3 270.6L487.6 268.7L487.8 261.8L488.0 245.9L488.3 263.6L488.5 277.7L488.7 270.3L489.0 248.8L489.2 268.4L489.4 252.0L489.7 286.1L489.9 270.1L490.1 257.7L490.4 275.5L490.6 261.5L490.8 273.4L491.1 268.6L491.3 257.9L491.5 274.3L491.8 256.5L492.0 280.3L492.3 268.9L492.5 259.2L492.7 252.2L493.0 282.6L493.2 281.2L493.4 257.1L493.7 282.8L493.9 269.7L494.1 266.2L494.4 267.3L494.6 265.7L494.8 280.7L495.1 269.3L495.3 251.5L495.5 286.3L495.8 275.4L496.0 257.8L496.2 264.1L496.5 259.0L496.7 267.1L496.9 269.7L497.2 267.8L497.4 259.6L497.7 256.9L497.9 270.1L498.1 260.3L498.2 279.2L498.4 252.7L498.6 263.2L498.8 255.2L499.1 248.0L499.3 255.3L499.3 249.6L499.5 242.7L499.8 237.5L500.0 227.2L500.0 222.4L500.0 225.9L500.2 204.2L500.3 200.0L500.5 192.6L500.5 193.1L500.7 205.4L500.7 206.7L500.7 216.8L500.9 237.6L501.0 226.3L501.2 243.8L501.4 251.5L501.6 253.9L501.8 246.1L501.9 267.6L502.1 262.6L502.3 264.3L502.6 277.1L502.8 260.5L503.1 265.7L503.3 269.2L503.5 263.3L503.8 266.5L504.0 274.5L504.2 267.8L504.5 280.0L504.7 261.5L504.9 270.2L505.2 255.7L505.4 267.5L505.6 262.4L505.9 280.9L506.1 275.4L506.3 273.4L506.6 285.4L506.8 281.8L507.0 275.4L507.3 262.9L507.5 256.2L507.7 268.9L508.0 266.0L508.2 263.4L508.5 266.6L508.7 254.5L508.9 282.6L509.2 259.1L509.4 263.3L509.6 274.5L509.9 254.8L510.1 277.7L510.3 277.8L510.6 266.7L510.8 259.8L511.0 265.3L511.3 253.0L511.5 282.0L511.7 270.1L512.0 263.0L512.2 261.5L512.4 274.8L512.7 283.1L512.9 258.2L513.1 264.5L513.4 253.9L513.6 275.8L513.9 271.1L514.1 290.0L514.3 268.7L514.6 265.9L514.8 263.4L515.0 277.5L515.3 255.2L515.5 276.6L515.7 272.1L516.0 265.3L516.2 261.8L516.4 279.4L516.7 286.7L516.9 265.9L517.1 274.7L517.4 285.7L517.6 264.4L517.8 267.7L518.1 259.0L518.3 268.7L518.5 269.3L518.8 266.3L519.0 263.4L519.3 255.8L519.5 258.0L519.7 261.3L520.0 275.9L520.2 265.5L520.4 262.5L520.7 276.1L520.9 275.3L521.1 263.4L521.4 264.5L521.6 276.2L521.8 273.5L522.1 262.7L522.3 272.4L522.5 270.0L522.8 280.3L523.0 262.5L523.2 278.3L523.5 274.2L523.7 261.2L523.9 279.9L524.2 278.6L524.4 258.4L524.7 288.3L524.9 260.0L525.1 262.1L525.4 267.5L525.6 277.4L525.8 275.7L526.1 269.6L526.3 282.9L526.5 274.2L526.8 283.2L527.0 296.1L527.2 272.3L527.5 247.1L527.7 266.4L527.9 260.8L528.2 271.4L528.4 271.5L528.6 259.4L528.9 260.1L529.1 268.2L529.3 268.8L529.6 246.9L529.8 279.5L530.1 271.0L530.3 270.6L530.5 273.4L530.8 261.3L531.0 270.3L531.2 280.2L531.5 280.6L531.7 275.0L531.9 268.2L532.2 263.3L532.4 282.9L532.6 275.6L532.9 266.9L533.1 250.9L533.3 262.8L533.6 253.1L533.8 282.4L534.0 272.6L534.3 264.0L534.5 268.4L534.7 294.9L535.0 282.2L535.2 258.5L535.5 269.7L535.7 259.6L535.9 255.0L536.2 272.6L536.4 293.4L536.6 285.5L536.9 271.4L537.1 267.6L537.3 272.9L537.6 280.7L537.8 257.5L538.0 253.7L538.3 288.6L538.5 273.7L538.7 286.1L539.0 273.4L539.2 284.9L539.4 265.5L539.7 275.8L539.9 285.7L540.1 280.8L540.4 266.9L540.6 279.6L540.9 265.0L541.1 257.9L541.3 276.2L541.6 284.4L541.8 279.3L542.0 259.5L542.3 279.5L542.5 277.7L542.7 267.0L543.0 248.0L543.2 280.9L543.4 279.7L543.7 276.1L543.9 255.1L544.1 257.4L544.4 281.0L544.6 279.0L544.8 276.1L545.1 269.1L545.3 275.2L545.5 266.4L545.8 268.6L546.0 263.3L546.3 274.0L546.5 267.6L546.7 280.5L547.0 278.4L547.2 263.9L547.4 288.9L547.7 261.0L547.9 275.9L548.1 281.9L548.4 283.7L548.6 250.8L548.8 281.1L549.1 283.2L549.3 285.3L549.5 250.6L549.8 265.3L550.0 270.8L550.2 267.5L550.5 284.4L550.7 265.3L551.0 283.4L551.2 277.1L551.4 258.0L551.7 262.4L551.9 267.4L552.1 272.7L552.4 281.3L552.6 270.1L552.8 280.5L553.1 256.9L553.3 242.9L553.5 268.7L553.8 276.3L554.0 268.5L554.2 262.3L554.5 276.0L554.7 290.3L554.9 271.0L555.2 265.1L555.4 264.0L555.6 290.7L555.9 271.6L556.1 277.8L556.4 283.6L556.6 282.3L556.8 263.3L557.1 281.2L557.3 280.1L557.5 276.7L557.8 281.7L558.0 266.8L558.2 271.4L558.5 267.2L558.7 279.4L558.9 266.0L559.2 275.9L559.4 261.8L559.6 271.1L559.9 268.8L560.1 271.1L560.3 273.5L560.6 270.5L560.8 270.2L561.0 252.6L561.3 282.8L561.5 266.4L561.8 270.0L562.0 264.5L562.2 281.8L562.5 263.8L562.7 277.2L562.9 283.6L563.2 288.0L563.4 283.7L563.6 278.3L563.9 261.1L564.1 284.7L564.3 283.7L564.6 280.4L564.8 280.1L565.0 273.2L565.3 267.6L565.5 282.8L565.7 284.6L566.0 262.7L566.2 281.3L566.4 275.0L566.7 281.0L566.9 275.3L567.2 283.2L567.4 282.4L567.6 281.1L567.9 259.7L568.1 280.5L568.3 273.2L568.6 262.1L568.8 279.5L569.0 259.9L569.3 281.3L569.5 288.9L569.7 268.1L570.0 281.6L570.2 277.2L570.4 279.1L570.7 260.2L570.9 278.7L571.1 274.2L571.4 280.0L571.6 273.1L571.8 283.4L572.1 275.6L572.3 279.5L572.6 286.0L572.8 274.8L573.0 282.5L573.3 275.3L573.5 278.1L573.7 268.2L574.0 280.5L574.2 284.7L574.4 272.5L574.7 280.7L574.9 277.3L575.1 262.9L575.4 276.6L575.6 285.7L575.8 268.8L576.1 256.6L576.3 275.3L576.5 267.3L576.8 291.2L577.0 273.0L577.2 273.4L577.5 267.5L577.7 275.8L578.0 268.2L578.2 265.0L578.4 272.9L578.7 265.9L578.9 285.8L579.1 262.6L579.4 272.9L579.6 267.1L579.8 260.7L580.1 289.1L580.3 254.0L580.5 287.2L580.8 260.4L581.0 274.5L581.2 294.8L581.5 253.8L581.7 260.9L581.9 285.9L582.2 275.3L582.4 268.6L582.6 273.4L582.9 264.7L583.1 274.9L583.4 287.7L583.6 270.2L583.8 275.1L584.1 285.0L584.3 292.3L584.5 268.3L584.8 276.6L585.0 268.6L585.2 267.9L585.5 270.1L585.7 268.0L585.9 257.8L586.2 255.4L586.4 267.1L586.6 275.2L586.9 285.2L587.1 269.0L587.3 272.4L587.6 280.1L587.8 280.9L588.0 272.9L588.3 273.5L588.5 291.4L588.8 270.9L589.0 269.5L589.2 258.9L589.5 278.1L589.7 271.6L589.9 291.9L590.2 271.0L590.4 281.7L590.6 282.8L590.9 289.5L591.1 262.0L591.3 288.7L591.6 274.3L591.8 273.2L592.0 271.3L592.3 270.5L592.5 271.0L592.7 252.5L593.0 279.0L593.2 274.8L593.4 265.4L593.7 273.7L593.9 295.6L594.2 277.8L594.4 270.7L594.6 290.2L594.9 266.9L595.1 272.9L595.3 269.2L595.6 272.2L595.8 281.2L596.0 279.8L596.3 267.6L596.5 273.2L596.7 275.2L597.0 270.6L597.2 274.1L597.4 267.8L597.7 267.6L597.9 274.9L598.1 264.9L598.4 278.4L598.6 272.7L598.8 266.0L599.1 268.8L599.3 270.1L599.6 273.1L599.8 275.6L600.0 272.6L600.3 266.5L600.5 287.8L600.7 283.0L601.0 275.6L601.2 283.4L601.4 277.6L601.7 272.2L601.9 275.4L602.1 299.3L602.4 283.8L602.6 284.3L602.8 271.0L603.1 280.2L603.3 295.5L603.5 278.7L603.8 284.6L604.0 286.3L604.2 280.7L604.5 289.3L604.7 276.9L605.0 279.4L605.2 269.0L605.4 299.1L605.7 277.6L605.9 275.8L606.1 287.6L606.4 270.4L606.6 274.8L606.8 267.7L607.1 275.1L607.3 271.3L607.5 279.9L607.8 273.7L608.0 269.4L608.2 272.2L608.5 273.8L608.7 270.2L608.9 283.6L609.2 281.1L609.4 276.3L609.7 264.0L609.9 279.7L610.1 263.2L610.4 276.7L610.6 275.4L610.8 269.6L611.1 267.4L611.3 268.7L611.5 293.9L611.8 272.6L612.0 273.2L612.2 283.9L612.5 278.9L612.7 284.8L612.9 263.8L613.2 265.1L613.4 305.7L613.6 274.7L613.9 272.5L614.1 276.6L614.3 284.2L614.6 264.2L614.8 277.7L615.1 274.9L615.3 281.3L615.5 276.7L615.8 270.3L616.0 267.2L616.2 252.8L616.5 284.1L616.7 261.6L616.9 271.4L617.2 290.3L617.4 271.2L617.6 280.6L617.9 273.0L618.1 281.3L618.3 275.1L618.6 270.1L618.8 287.0L619.0 272.1L619.3 262.1L619.5 271.1L619.7 278.6L620.0 262.9L620.2 279.3L620.5 277.0L620.7 283.6L620.9 247.3L620.9 256.7L621.2 222.0L621.2 225.9L621.4 217.3L621.4 217.7L621.6 227.4L621.6 229.8L621.9 245.8L621.9 248.9L622.1 267.0L622.3 275.0L622.6 277.9L622.8 282.1L623.0 284.4L623.3 257.5L623.5 269.3L623.7 272.8L624.0 268.4L624.2 283.9L624.4 281.1L624.7 273.2L624.9 275.1L625.1 285.3L625.4 270.2L625.6 269.9L625.9 280.1L626.1 274.6L626.3 279.7L626.6 260.8L626.8 245.2L626.8 231.3L627.0 197.3L627.1 197.6L627.3 176.9L627.3 181.1L627.5 201.9L627.5 202.4L627.7 234.1L627.8 248.2L628.0 257.2L628.2 275.9L628.4 290.5L628.7 278.7L628.9 281.7L629.1 278.3L629.4 276.5L629.6 277.1L629.8 275.4L630.1 284.9L630.3 260.5L630.5 272.9L630.8 281.4L631.0 267.8L631.3 274.6L631.5 269.3L631.7 279.7L632.0 283.6L632.2 289.0L632.4 280.4L632.7 269.4L632.9 278.2L633.1 281.1L633.4 288.8L633.6 256.5" fill="none" stroke="#1a1a1a" stroke-width="0.9" stroke-linejoin="bevel"/><path d="M457.5 266.6L457.7 246.7L458.0 269.8L458.2 267.3L458.4 267.8L458.7 271.3L458.9 266.8L459.1 257.4L459.4 266.5L459.6 274.2L459.8 262.3L460.1 263.6L460.3 252.4L460.6 273.9L460.8 258.8L461.0 256.7L461.3 259.4L461.5 255.6L461.7 261.2L462.0 275.0L462.2 270.7L462.4 276.4L462.7 277.0L462.9 255.4L463.1 267.9L463.4 277.1L463.6 284.4L463.8 250.7L464.1 250.6L464.3 267.8L464.5 260.5L464.8 254.6L465.0 267.1L465.2 256.5L465.5 243.0L465.7 263.4L466.0 264.8L466.2 269.4L466.4 272.2L466.7 265.3L466.9 261.5L467.1 257.6L467.4 248.8L467.6 259.7L467.8 272.8L468.1 269.6L468.3 282.3L468.5 262.4L468.8 247.6L469.0 271.3L469.2 273.2L469.5 253.2L469.7 249.2L469.9 265.2L470.2 270.3L470.4 253.7L470.6 260.8L470.9 256.8L471.1 253.1L471.4 251.9L471.6 265.1L471.8 260.5L472.1 257.8L472.3 240.2L472.5 279.8L472.8 255.4L473.0 262.7L473.2 253.6L473.5 267.4L473.7 250.3L473.9 264.8L474.2 262.3L474.4 272.3L474.6 254.0L474.9 258.1L475.1 261.9L475.3 283.0L475.6 250.6L475.8 266.7L476.0 258.1L476.3 266.9L476.5 270.0L476.8 265.3L477.0 266.4L477.2 266.6L477.5 258.8L477.7 262.1L477.9 249.1L478.2 260.9L478.4 257.1L478.6 261.8L478.9 270.8L479.1 267.6L479.3 268.4L479.6 274.2L479.8 242.5L480.0 268.1L480.3 264.0L480.5 263.3L480.7 252.3L481.0 269.2L481.2 274.6L481.4 273.5L481.7 263.4L481.9 270.0L482.2 272.6L482.4 280.8L482.6 275.4L482.9 265.5L483.1 265.1L483.3 265.8L483.6 266.3L483.8 259.8L484.0 271.3L484.3 258.0L484.5 257.0L484.7 267.5L485.0 259.1L485.2 262.1L485.4 245.5L485.7 271.5L485.9 264.3L486.1 263.2L486.4 268.6L486.6 266.3L486.8 258.0L487.1 282.6L487.3 260.3L487.6 273.2L487.8 281.0L488.0 258.8L488.3 265.2L488.5 257.0L488.7 273.9L489.0 261.4L489.2 254.4L489.4 276.3L489.7 272.7L489.9 256.4L490.1 275.1L490.4 266.2L490.6 289.0L490.8 279.9L491.1 259.4L491.3 261.9L491.5 256.4L491.8 265.6L492.0 264.8L492.3 271.0L492.5 265.1L492.7 251.0L493.0 256.9L493.2 277.1L493.4 274.7L493.7 262.7L493.9 262.9L494.1 262.6L494.4 264.3L494.6 248.8L494.8 272.0L495.1 257.9L495.3 265.1L495.5 240.7L495.8 265.6L496.0 275.5L496.2 242.8L496.5 276.6L496.7 266.8L496.9 255.3L497.2 247.0L497.4 271.0L497.7 261.8L497.9 263.4L498.1 254.1L498.2 248.7L498.4 261.8L498.6 244.7L498.8 255.7L499.1 237.3L499.3 239.8L499.3 237.3L499.5 242.7L499.8 228.7L500.0 217.5L500.0 218.1L500.0 217.5L500.2 199.4L500.3 196.3L500.5 183.8L500.5 183.9L500.7 188.6L500.7 195.2L500.7 200.5L500.9 222.2L501.0 217.4L501.2 233.2L501.4 241.3L501.6 261.2L501.8 257.5L501.9 252.2L502.1 254.8L502.3 261.5L502.6 253.9L502.8 258.8L503.1 246.3L503.3 268.6L503.5 271.7L503.8 266.6L504.0 267.9L504.2 267.1L504.5 282.5L504.7 266.0L504.9 252.2L505.2 254.8L505.4 270.9L505.6 274.3L505.9 271.6L506.1 272.3L506.3 266.5L506.6 251.3L506.8 258.4L507.0 248.5L507.3 261.5L507.5 252.6L507.7 265.9L508.0 263.6L508.2 247.4L508.5 271.8L508.7 272.1L508.9 252.6L509.2 266.6L509.4 271.8L509.6 262.7L509.9 273.1L510.1 267.1L510.3 275.2L510.6 267.1L510.8 263.9L511.0 270.1L511.3 272.6L511.5 267.7L511.7 261.4L512.0 258.3L512.2 262.1L512.4 260.3L512.7 267.4L512.9 267.1L513.1 264.8L513.4 265.6L513.6 267.2L513.9 279.9L514.1 276.6L514.3 260.4L514.6 269.5L514.8 262.7L515.0 264.8L515.3 263.5L515.5 260.0L515.7 253.3L516.0 243.2L516.2 267.6L516.4 276.6L516.7 257.5L516.9 270.4L517.1 262.3L517.4 268.4L517.6 258.4L517.8 263.7L518.1 264.8L518.3 244.1L518.5 267.8L518.8 264.6L519.0 243.2L519.3 271.8L519.5 265.6L519.7 267.8L520.0 269.2L520.2 262.1L520.4 256.1L520.7 261.9L520.9 262.1L521.1 286.3L521.4 282.9L521.6 261.5L521.8 262.2L522.1 269.0L522.3 271.2L522.5 259.7L522.8 256.9L523.0 283.8L523.2 275.8L523.5 251.8L523.7 249.9L523.9 258.5L524.2 268.1L524.4 271.2L524.7 263.0L524.9 251.3L525.1 268.2L525.4 271.7L525.6 266.2L525.8 261.6L526.1 271.5L526.3 265.7L526.5 255.9L526.8 267.1L527.0 254.3L527.2 275.1L527.5 270.6L527.7 257.1L527.9 268.2L528.2 277.8L528.4 246.5L528.6 265.0L528.9 281.5L529.1 252.0L529.3 264.8L529.6 253.2L529.8 265.8L530.1 244.2L530.3 251.4L530.5 261.4L530.8 267.7L531.0 269.9L531.2 270.4L531.5 277.1L531.7 272.9L531.9 273.3L532.2 257.4L532.4 265.1L532.6 296.1L532.9 287.6L533.1 274.2L533.3 273.4L533.6 275.8L533.8 262.8L534.0 284.8L534.3 263.1L534.5 265.9L534.7 286.9L535.0 247.3L535.2 270.0L535.5 250.6L535.7 260.6L535.9 265.8L536.2 263.4L536.4 268.3L536.6 259.6L536.9 265.8L537.1 255.7L537.3 263.2L537.6 253.8L537.8 272.9L538.0 254.7L538.3 273.3L538.5 263.0L538.7 264.0L539.0 277.9L539.2 267.9L539.4 249.1L539.7 271.6L539.9 239.7L540.1 269.4L540.4 263.2L540.6 253.8L540.9 267.7L541.1 264.1L541.3 285.8L541.6 262.9L541.8 285.2L542.0 280.0L542.3 261.3L542.5 259.4L542.7 279.5L543.0 265.8L543.2 268.6L543.4 264.7L543.7 255.7L543.9 263.6L544.1 258.1L544.4 252.7L544.6 264.4L544.8 284.0L545.1 282.4L545.3 266.6L545.5 268.5L545.8 272.0L546.0 280.0L546.3 270.2L546.5 262.7L546.7 263.6L547.0 278.0L547.2 291.9L547.4 261.4L547.7 247.9L547.9 275.0L548.1 266.6L548.4 268.7L548.6 279.0L548.8 268.0L549.1 254.9L549.3 248.8L549.5 267.0L549.8 256.5L550.0 270.2L550.2 255.4L550.5 264.1L550.7 253.6L551.0 264.1L551.2 263.3L551.4 273.1L551.7 280.2L551.9 265.8L552.1 259.4L552.4 286.1L552.6 271.0L552.8 273.4L553.1 273.4L553.3 281.4L553.5 277.2L553.8 274.1L554.0 274.9L554.2 259.5L554.5 261.9L554.7 266.7L554.9 268.6L555.2 267.9L555.4 270.7L555.6 268.0L555.9 263.7L556.1 252.4L556.4 275.7L556.6 273.4L556.8 259.5L557.1 272.5L557.3 271.6L557.5 268.5L557.8 250.4L558.0 256.5L558.2 262.2L558.5 283.2L558.7 259.8L558.9 264.6L559.2 257.4L559.4 263.3L559.6 271.2L559.9 248.3L560.1 241.1L560.3 274.3L560.6 268.3L560.8 262.3L561.0 277.2L561.3 277.3L561.5 248.2L561.8 266.5L562.0 278.6L562.2 261.7L562.5 265.1L562.7 277.2L562.9 265.6L563.2 256.8L563.4 261.6L563.6 255.6L563.9 273.4L564.1 251.8L564.3 277.7L564.6 252.6L564.8 268.7L565.0 254.3L565.3 265.2L565.5 278.0L565.7 278.9L566.0 280.7L566.2 267.5L566.4 269.3L566.7 270.5L566.9 274.2L567.2 264.6L567.4 278.8L567.6 271.5L567.9 279.2L568.1 272.9L568.3 274.8L568.6 261.5L568.8 264.5L569.0 256.2L569.3 265.6L569.5 266.8L569.7 276.4L570.0 256.5L570.2 299.2L570.4 267.4L570.7 280.5L570.9 278.4L571.1 244.6L571.4 266.1L571.6 282.6L571.8 245.5L572.1 275.9L572.3 259.9L572.6 264.2L572.8 270.8L573.0 250.9L573.3 270.5L573.5 262.5L573.7 261.6L574.0 275.3L574.2 302.0L574.4 272.0L574.7 274.0L574.9 268.2L575.1 261.9L575.4 271.2L575.6 283.2L575.8 270.6L576.1 277.2L576.3 266.6L576.5 292.7L576.8 253.1L577.0 274.4L577.2 274.0L577.5 271.4L577.7 258.2L578.0 258.0L578.2 266.6L578.4 269.8L578.7 257.4L578.9 258.8L579.1 274.2L579.4 278.7L579.6 263.6L579.8 262.3L580.1 262.0L580.3 292.5L580.5 273.6L580.8 268.3L581.0 278.5L581.2 290.8L581.5 280.1L581.7 255.4L581.9 268.2L582.2 265.2L582.4 265.8L582.6 257.5L582.9 265.3L583.1 258.7L583.4 272.3L583.6 269.5L583.8 255.6L584.1 252.9L584.3 264.5L584.5 275.3L584.8 273.8L585.0 268.5L585.2 237.7L585.5 264.4L585.7 262.1L585.9 266.0L586.2 257.6L586.4 265.1L586.6 262.9L586.9 295.1L587.1 275.9L587.3 267.4L587.6 268.8L587.8 268.1L588.0 271.1L588.3 265.4L588.5 269.1L588.8 279.1L589.0 277.2L589.2 272.3L589.5 282.0L589.7 271.5L589.9 260.0L590.2 252.7L590.4 262.8L590.6 268.8L590.9 273.2L591.1 279.7L591.3 264.0L591.6 261.8L591.8 276.8L592.0 280.7L592.3 264.9L592.5 272.7L592.7 282.6L593.0 272.6L593.2 269.0L593.4 249.7L593.7 282.2L593.9 275.7L594.2 270.8L594.4 265.2L594.6 257.7L594.9 268.7L595.1 268.6L595.3 280.1L595.6 258.1L595.8 283.4L596.0 270.0L596.3 281.0L596.5 260.5L596.7 273.0L597.0 281.4L597.2 270.8L597.4 255.7L597.7 266.6L597.9 274.9L598.1 256.5L598.4 256.0L598.6 272.0L598.8 260.8L599.1 276.3L599.3 258.6L599.6 252.4L599.8 262.5L600.0 284.1L600.3 261.7L600.5 269.8L600.7 272.3L601.0 260.9L601.2 280.3L601.4 271.6L601.7 274.2L601.9 254.0L602.1 253.3L602.4 243.8L602.6 268.2L602.8 267.8L603.1 276.9L603.3 284.2L603.5 267.7L603.8 267.5L604.0 274.4L604.2 284.7L604.5 262.3L604.7 276.1L605.0 267.8L605.2 267.0L605.4 277.9L605.7 262.7L605.9 260.0L606.1 276.5L606.4 270.0L606.6 267.7L606.8 269.0L607.1 275.0L607.3 266.7L607.5 277.6L607.8 274.2L608.0 284.4L608.2 282.3L608.5 278.5L608.7 268.4L608.9 271.5L609.2 264.7L609.4 297.5L609.7 268.3L609.9 275.7L610.1 283.3L610.4 257.4L610.6 262.6L610.8 266.7L611.1 261.0L611.3 258.4L611.5 265.5L611.8 282.8L612.0 277.4L612.2 270.8L612.5 270.8L612.7 254.7L612.9 277.1L613.2 274.6L613.4 260.2L613.6 272.5L613.9 268.7L614.1 265.6L614.3 261.2L614.6 264.1L614.8 261.6L615.1 274.9L615.3 274.0L615.5 273.6L615.8 268.8L616.0 266.7L616.2 290.0L616.5 252.8L616.7 281.9L616.9 273.9L617.2 271.2L617.4 265.6L617.6 268.4L617.9 259.1L618.1 257.2L618.3 269.2L618.6 254.5L618.8 278.0L619.0 280.5L619.3 237.0L619.5 254.7L619.7 271.6L620.0 270.4L620.2 268.4L620.5 269.1L620.7 266.0L620.9 254.5L620.9 260.7L621.2 223.0L621.2 224.0L621.4 206.8L621.4 208.9L621.6 214.6L621.6 230.1L621.9 265.5L621.9 251.6L622.1 246.6L622.3 263.9L622.6 267.6L622.8 270.2L623.0 279.3L623.3 278.3L623.5 244.3L623.7 282.6L624.0 265.0L624.2 264.4L624.4 283.2L624.7 267.1L624.9 256.4L625.1 256.5L625.4 269.3L625.6 276.7L625.9 281.4L626.1 263.8L626.3 257.3L626.6 267.2L626.8 227.8L626.8 241.8L627.0 194.3L627.1 189.6L627.3 170.2L627.3 170.9L627.5 186.5L627.5 189.6L627.7 227.8L627.8 226.2L628.0 254.8L628.2 262.7L628.4 263.2L628.7 265.6L628.9 266.3L629.1 285.7L629.4 269.6L629.6 264.4L629.8 267.5L630.1 276.8L630.3 268.7L630.5 269.4L630.8 268.5L631.0 272.6L631.3 274.8L631.5 275.4L631.7 255.7L632.0 261.1L632.2 246.3L632.4 279.0L632.7 281.9L632.9 283.8L633.1 272.8L633.4 282.4L633.6 271.2" fill="none" stroke="#fa0c0c" stroke-width="1.0" stroke-linejoin="bevel"/><rect x="19.4" y="21.4" width="303.0" height="294.3" fill="none" stroke="#7a7a7a" stroke-width="1.1"/><line x1="19.4" y1="168.4" x2="322.4" y2="168.4" stroke="#3c3c3c" stroke-width="1.2"/><rect x="331.4" y="21.4" width="117.10000000000002" height="294.3" fill="none" stroke="#7a7a7a" stroke-width="1.1"/><line x1="331.4" y1="168.4" x2="448.5" y2="168.4" stroke="#3c3c3c" stroke-width="1.2"/><rect x="457.5" y="21.4" width="176.10000000000002" height="294.3" fill="none" stroke="#7a7a7a" stroke-width="1.1"/><line x1="457.5" y1="168.4" x2="633.6" y2="168.4" stroke="#3c3c3c" stroke-width="1.2"/><path d="M62.7 21.4v5.5 M62.7 168.4v-5.5 M62.7 168.4v5.5 M62.7 315.7v-5.5 M106.0 21.4v5.5 M106.0 168.4v-5.5 M106.0 168.4v5.5 M106.0 315.7v-5.5 M149.3 21.4v5.5 M149.3 168.4v-5.5 M149.3 168.4v5.5 M149.3 315.7v-5.5 M192.5 21.4v5.5 M192.5 168.4v-5.5 M192.5 168.4v5.5 M192.5 315.7v-5.5 M235.8 21.4v5.5 M235.8 168.4v-5.5 M235.8 168.4v5.5 M235.8 315.7v-5.5 M279.1 21.4v5.5 M279.1 168.4v-5.5 M279.1 168.4v5.5 M279.1 315.7v-5.5 M344.5 21.4v5.5 M344.5 168.4v-5.5 M344.5 168.4v5.5 M344.5 315.7v-5.5 M357.5 21.4v5.5 M357.5 168.4v-5.5 M357.5 168.4v5.5 M357.5 315.7v-5.5 M370.5 21.4v5.5 M370.5 168.4v-5.5 M370.5 168.4v5.5 M370.5 315.7v-5.5 M395.0 21.4v5.5 M395.0 168.4v-5.5 M395.0 168.4v5.5 M395.0 315.7v-5.5 M412.8 21.4v5.5 M412.8 168.4v-5.5 M412.8 168.4v5.5 M412.8 315.7v-5.5 M430.6 21.4v5.5 M430.6 168.4v-5.5 M430.6 168.4v5.5 M430.6 315.7v-5.5 M481.0 21.4v5.5 M481.0 168.4v-5.5 M481.0 168.4v5.5 M481.0 315.7v-5.5 M504.5 21.4v5.5 M504.5 168.4v-5.5 M504.5 168.4v5.5 M504.5 315.7v-5.5 M527.9 21.4v5.5 M527.9 168.4v-5.5 M527.9 168.4v5.5 M527.9 315.7v-5.5 M551.4 21.4v5.5 M551.4 168.4v-5.5 M551.4 168.4v5.5 M551.4 315.7v-5.5 M574.9 21.4v5.5 M574.9 168.4v-5.5 M574.9 168.4v5.5 M574.9 315.7v-5.5 M598.4 21.4v5.5 M598.4 168.4v-5.5 M598.4 168.4v5.5 M598.4 315.7v-5.5 M621.9 21.4v5.5 M621.9 168.4v-5.5 M621.9 168.4v5.5 M621.9 315.7v-5.5" stroke="#5a5a5a" stroke-width="1"/><path d="M376.0 14.4L379.0 28.4M377.5 14.4L380.5 28.4" stroke="#555" stroke-width="0.9" fill="none"/><path d="M376.0 161.4L379.0 175.4M377.5 161.4L380.5 175.4" stroke="#555" stroke-width="0.9" fill="none"/><path d="M376.0 308.7L379.0 322.7M377.5 308.7L380.5 322.7" stroke="#555" stroke-width="0.9" fill="none"/><path d="M18.4 513.0L18.6 512.9L18.7 512.7L18.9 512.8L19.1 513.3L19.3 513.5L19.4 512.8L19.6 513.2L19.8 513.2L20.0 513.4L20.1 513.1L20.3 513.1L20.5 513.3L20.7 512.6L20.8 513.0L21.0 512.4L21.2 512.3L21.3 512.7L21.5 512.4L21.7 513.1L21.9 513.3L22.0 512.8L22.2 512.9L22.4 512.9L22.6 512.8L22.7 513.0L22.9 513.0L23.1 512.8L23.2 512.6L23.4 512.7L23.6 513.2L23.8 512.7L23.9 513.4L24.1 512.8L24.3 513.3L24.5 512.4L24.6 512.6L24.8 513.0L25.0 513.0L25.2 512.7L25.3 513.5L25.5 512.8L25.7 512.8L25.8 512.5L26.0 513.3L26.2 513.0L26.4 512.8L26.5 512.0L26.7 512.7L26.9 512.4L27.1 512.7L27.2 512.8L27.4 512.2L27.6 512.5L27.7 512.6L27.9 512.3L28.1 512.1L28.3 511.7L28.4 511.8L28.6 511.5L28.8 512.1L29.0 511.7L29.1 511.0L29.3 511.3L29.5 510.6L29.7 509.5L29.8 510.7L30.0 510.2L30.2 508.6L30.3 507.9L30.5 506.6L30.7 503.7L30.9 499.4L31.0 493.5L31.2 485.2L31.4 475.0L31.6 464.7L31.7 456.2L31.9 452.8L32.1 455.0L32.3 458.9L32.4 464.9L32.6 469.3L32.8 476.7L32.9 484.4L33.1 491.6L33.3 497.5L33.5 502.4L33.6 504.7L33.8 507.2L34.0 508.7L34.2 509.3L34.3 509.9L34.5 511.0L34.7 510.6L34.8 511.0L35.0 511.3L35.2 511.5L35.4 511.7L35.5 511.7L35.7 512.1L35.9 512.1L36.1 512.3L36.2 512.6L36.4 511.9L36.6 512.9L36.8 512.2L36.9 512.6L37.1 512.5L37.3 512.3L37.4 511.8L37.6 513.1L37.8 512.2L38.0 512.3L38.1 512.9L38.3 512.6L38.5 513.2L38.7 513.2L38.8 512.8L39.0 512.7L39.2 512.9L39.4 512.1L39.5 512.6L39.7 512.6L39.9 512.4L40.0 512.6L40.2 512.0L40.4 512.8L40.6 513.0L40.7 512.0L40.9 512.5L41.1 513.0L41.3 512.5L41.4 512.0L41.6 511.9L41.8 512.5L41.9 512.7L42.1 511.6L42.3 511.9L42.5 511.4L42.6 511.2L42.8 510.9L43.0 509.9L43.2 508.5L43.3 507.9L43.5 505.2L43.7 503.1L43.9 502.0L44.0 500.9L44.2 501.0L44.4 502.1L44.5 502.0L44.7 503.1L44.9 503.7L45.1 503.8L45.2 503.2L45.4 501.8L45.6 498.5L45.8 495.0L45.9 490.2L46.1 485.8L46.3 482.8L46.4 482.6L46.6 484.5L46.8 487.2L47.0 489.7L47.1 492.8L47.3 495.8L47.5 499.4L47.7 502.9L47.8 505.6L48.0 507.7L48.2 508.5L48.4 509.7L48.5 510.4L48.7 511.4L48.9 511.5L49.0 511.8L49.2 512.3L49.4 511.7L49.6 512.5L49.7 512.4L49.9 512.1L50.1 512.9L50.3 512.0L50.4 512.1L50.6 512.5L50.8 512.7L51.0 512.6L51.1 511.9L51.3 512.6L51.5 512.7L51.6 513.6L51.8 513.2L52.0 512.8L52.2 512.4L52.3 512.9L52.5 512.4L52.7 512.9L52.9 513.0L53.0 512.7L53.2 512.9L53.4 512.8L53.5 512.7L53.7 513.4L53.9 513.1L54.1 512.8L54.2 512.6L54.4 513.0L54.6 513.1L54.8 513.2L54.9 513.4L55.1 513.1L55.3 512.6L55.5 513.7L55.6 513.4L55.8 513.2L56.0 513.4L56.1 512.5L56.3 512.8L56.5 512.8L56.7 513.4L56.8 512.6L57.0 512.9L57.2 513.5L57.4 513.2L57.5 512.9L57.7 513.6L57.9 512.5L58.0 513.2L58.2 512.9L58.4 513.2L58.6 512.9L58.7 512.7L58.9 513.1L59.1 512.6L59.3 513.2L59.4 512.9L59.6 513.3L59.8 512.9L60.0 512.8L60.1 513.2L60.3 513.4L60.5 512.3L60.6 513.1L60.8 513.2L61.0 512.5L61.2 512.7L61.3 513.2L61.5 512.7L61.7 512.8L61.9 513.6L62.0 512.7L62.2 512.7L62.4 512.2L62.6 512.6L62.7 512.6L62.9 513.6L63.1 513.4L63.2 512.6L63.4 513.7L63.6 513.3L63.8 513.0L63.9 513.3L64.1 513.2L64.3 512.8L64.5 512.4L64.6 512.7L64.8 513.0L65.0 512.9L65.1 512.8L65.3 513.4L65.5 512.7L65.7 513.3L65.8 512.9L66.0 513.1L66.2 512.6L66.4 513.0L66.5 512.8L66.7 512.4L66.9 513.0L67.1 513.0L67.2 513.3L67.4 513.1L67.6 512.7L67.7 512.8L67.9 512.2L68.1 512.7L68.3 513.5L68.4 513.6L68.6 513.3L68.8 513.1L69.0 513.2L69.1 513.2L69.3 512.4L69.5 512.7L69.7 513.4L69.8 513.4L70.0 513.1L70.2 512.9L70.3 512.9L70.5 512.8L70.7 512.7L70.9 512.4L71.0 513.1L71.2 512.9L71.4 513.0L71.6 513.6L71.7 513.2L71.9 512.8L72.1 513.2L72.2 512.5L72.4 513.4L72.6 513.1L72.8 513.0L72.9 513.2L73.1 513.5L73.3 512.9L73.5 512.7L73.6 513.8L73.8 513.0L74.0 513.5L74.2 512.8L74.3 513.2L74.5 512.8L74.7 513.2L74.8 512.9L75.0 512.8L75.2 513.6L75.4 513.1L75.5 512.3L75.7 512.9L75.9 512.7L76.1 512.6L76.2 512.8L76.4 512.9L76.6 513.0L76.7 512.7L76.9 512.4L77.1 512.8L77.3 513.3L77.4 512.5L77.6 513.2L77.8 513.2L78.0 512.9L78.1 513.1L78.3 512.8L78.5 512.9L78.7 512.7L78.8 513.2L79.0 513.5L79.2 512.8L79.3 513.4L79.5 512.3L79.7 512.7L79.9 512.6L80.0 513.6L80.2 512.8L80.4 513.3L80.6 512.3L80.7 513.0L80.9 513.2L81.1 513.0L81.3 512.0L81.4 513.0L81.6 513.3L81.8 513.4L81.9 513.1L82.1 512.4L82.3 512.9L82.5 513.3L82.6 512.7L82.8 513.2L83.0 512.8L83.2 513.0L83.3 513.2L83.5 512.7L83.7 514.0L83.8 513.0L84.0 513.1L84.2 512.7L84.4 513.0L84.5 512.8L84.7 512.4L84.9 512.4L85.1 513.0L85.2 512.9L85.4 512.0L85.6 512.2L85.8 512.8L85.9 512.9L86.1 513.1L86.3 512.5L86.4 513.1L86.6 512.8L86.8 512.7L87.0 512.8L87.1 513.2L87.3 513.1L87.5 513.2L87.7 512.6L87.8 512.8L88.0 512.4L88.2 512.6L88.3 512.7L88.5 512.7L88.7 513.1L88.9 513.0L89.0 513.1L89.2 512.8L89.4 513.2L89.6 512.8L89.7 513.1L89.9 512.9L90.1 513.0L90.3 512.7L90.4 512.3L90.6 512.2L90.8 513.4L90.9 512.8L91.1 512.8L91.3 512.6L91.5 512.4L91.6 513.6L91.8 512.2L92.0 512.5L92.2 512.5L92.3 512.1L92.5 512.0L92.7 512.2L92.9 512.3L93.0 512.2L93.2 512.6L93.4 511.9L93.5 512.4L93.7 512.7L93.9 512.5L94.1 511.7L94.2 511.0L94.4 512.2L94.6 512.0L94.8 511.6L94.9 512.1L95.1 511.4L95.3 511.5L95.4 511.0L95.6 511.3L95.8 510.9L96.0 510.7L96.1 511.0L96.3 510.4L96.5 509.6L96.7 510.0L96.8 509.6L97.0 508.6L97.2 508.2L97.4 507.6L97.5 506.6L97.7 505.6L97.9 504.2L98.0 501.4L98.2 498.5L98.4 491.3L98.6 481.7L98.7 468.3L98.9 449.2L99.1 425.0L99.3 401.0L99.4 382.9L99.6 378.6L99.8 385.6L100.0 397.5L100.1 408.8L100.3 417.1L100.5 424.5L100.6 435.8L100.8 449.6L101.0 464.2L101.2 477.0L101.3 487.5L101.5 495.1L101.7 500.0L101.9 503.3L102.0 505.2L102.2 506.8L102.4 507.9L102.5 508.2L102.7 508.4L102.9 509.9L103.1 509.9L103.2 509.9L103.4 510.5L103.6 510.5L103.8 510.2L103.9 511.0L104.1 510.7L104.3 511.4L104.5 511.4L104.6 512.0L104.8 511.7L105.0 511.9L105.1 511.8L105.3 511.8L105.5 511.5L105.7 512.4L105.8 512.2L106.0 512.0L106.2 512.3L106.4 512.1L106.5 512.1L106.7 512.5L106.9 512.8L107.0 512.3L107.2 512.0L107.4 512.3L107.6 513.2L107.7 512.3L107.9 513.0L108.1 512.5L108.3 512.9L108.4 512.6L108.6 512.1L108.8 512.5L109.0 513.4L109.1 512.7L109.3 512.9L109.5 512.6L109.6 512.7L109.8 512.9L110.0 512.9L110.2 513.5L110.3 512.8L110.5 512.7L110.7 512.6L110.9 512.4L111.0 512.3L111.2 513.1L111.4 512.2L111.6 513.3L111.7 513.1L111.9 512.8L112.1 512.5L112.2 512.9L112.4 512.9L112.6 513.3L112.8 512.6L112.9 512.8L113.1 512.9L113.3 512.8L113.5 512.7L113.6 512.3L113.8 512.3L114.0 512.7L114.1 512.8L114.3 513.3L114.5 513.7L114.7 513.5L114.8 513.1L115.0 513.6L115.2 512.9L115.4 512.8L115.5 513.8L115.7 512.6L115.9 512.8L116.1 512.9L116.2 513.5L116.4 512.8L116.6 513.2L116.7 512.8L116.9 512.5L117.1 513.1L117.3 513.0L117.4 512.6L117.6 512.7L117.8 512.7L118.0 513.3L118.1 513.1L118.3 513.1L118.5 513.2L118.6 512.8L118.8 513.2L119.0 512.8L119.2 512.5L119.3 512.7L119.5 513.1L119.7 513.0L119.9 513.4L120.0 512.4L120.2 512.9L120.4 513.1L120.6 512.7L120.7 513.1L120.9 512.9L121.1 512.6L121.2 513.4L121.4 512.5L121.6 513.4L121.8 512.9L121.9 512.7L122.1 512.7L122.3 512.7L122.5 512.7L122.6 513.1L122.8 512.4L123.0 513.4L123.2 513.3L123.3 513.5L123.5 512.7L123.7 512.2L123.8 512.8L124.0 512.9L124.2 513.1L124.4 512.8L124.5 513.0L124.7 513.1L124.9 512.5L125.1 513.6L125.2 512.6L125.4 513.1L125.6 513.4L125.7 512.7L125.9 513.0L126.1 513.6L126.3 512.9L126.4 513.4L126.6 513.1L126.8 513.1L127.0 513.2L127.1 512.9L127.3 512.9L127.5 513.3L127.7 513.1L127.8 513.1L128.0 512.6L128.2 513.0L128.3 513.4L128.5 513.3L128.7 513.1L128.9 512.8L129.0 512.7L129.2 513.1L129.4 513.4L129.6 512.9L129.7 513.4L129.9 512.8L130.1 513.3L130.3 512.5L130.4 512.9L130.6 512.5L130.8 513.1L130.9 513.0L131.1 512.5L131.3 512.5L131.5 512.6L131.6 512.2L131.8 512.4L132.0 512.3L132.2 512.9L132.3 513.0L132.5 512.3L132.7 512.3L132.8 512.3L133.0 512.0L133.2 511.9L133.4 512.0L133.5 511.4L133.7 510.6L133.9 509.4L134.1 508.5L134.2 505.5L134.4 502.8L134.6 499.2L134.8 496.4L134.9 495.2L135.1 495.4L135.3 497.4L135.4 499.1L135.6 499.9L135.8 500.3L136.0 502.0L136.1 502.6L136.3 505.0L136.5 506.4L136.7 507.9L136.8 509.7L137.0 510.5L137.2 511.3L137.3 511.4L137.5 512.2L137.7 512.6L137.9 512.1L138.0 513.1L138.2 512.3L138.4 512.7L138.6 512.1L138.7 512.0L138.9 513.4L139.1 513.2L139.3 513.2L139.4 512.2L139.6 512.9L139.8 513.0L139.9 512.9L140.1 513.0L140.3 512.6L140.5 512.9L140.6 512.5L140.8 512.8L141.0 513.1L141.2 512.7L141.3 512.9L141.5 512.8L141.7 513.0L141.9 513.3L142.0 513.1L142.2 513.1L142.4 512.5L142.5 512.9L142.7 513.3L142.9 512.7L143.1 512.9L143.2 512.7L143.4 513.5L143.6 512.9L143.8 512.8L143.9 513.2L144.1 513.4L144.3 513.2L144.4 513.4L144.6 513.1L144.8 513.0L145.0 512.9L145.1 512.9L145.3 512.8L145.5 513.2L145.7 513.0L145.8 513.1L146.0 513.3L146.2 513.0L146.4 512.6L146.5 512.8L146.7 512.7L146.9 512.4L147.0 513.1L147.2 512.6L147.4 512.6L147.6 512.7L147.7 513.4L147.9 512.9L148.1 513.4L148.3 513.0L148.4 512.9L148.6 513.3L148.8 513.3L148.9 513.1L149.1 512.7L149.3 512.9L149.5 512.6L149.6 513.0L149.8 513.1L150.0 513.6L150.2 513.6L150.3 513.3L150.5 513.4L150.7 513.1L150.9 514.0L151.0 513.6L151.2 514.0L151.4 513.2L151.5 513.2L151.7 513.4L151.9 513.1L152.1 513.2L152.2 512.7L152.4 513.4L152.6 513.1L152.8 513.4L152.9 513.0L153.1 512.4L153.3 513.2L153.5 513.5L153.6 512.6L153.8 512.7L154.0 513.0L154.1 513.0L154.3 512.5L154.5 513.7L154.7 513.4L154.8 512.9L155.0 512.4L155.2 513.2L155.4 513.8L155.5 513.4L155.7 513.5L155.9 512.7L156.0 513.2L156.2 512.6L156.4 513.8L156.6 513.3L156.7 512.3L156.9 512.4L157.1 513.2L157.3 513.1L157.4 513.0L157.6 513.3L157.8 513.8L158.0 513.2L158.1 512.4L158.3 513.0L158.5 512.6L158.6 512.8L158.8 513.2L159.0 513.0L159.2 512.7L159.3 513.1L159.5 512.8L159.7 513.3L159.9 513.0L160.0 513.2L160.2 513.0L160.4 513.3L160.6 513.0L160.7 513.1L160.9 512.9L161.1 513.1L161.2 512.5L161.4 514.0L161.6 512.8L161.8 513.1L161.9 512.9L162.1 512.9L162.3 513.2L162.5 512.9L162.6 512.9L162.8 512.6L163.0 512.8L163.1 512.7L163.3 513.7L163.5 512.6L163.7 512.7L163.8 513.1L164.0 513.6L164.2 512.5L164.4 512.5L164.5 513.1L164.7 513.2L164.9 512.6L165.1 512.4L165.2 512.7L165.4 513.3L165.6 513.1L165.7 513.3L165.9 513.0L166.1 513.1L166.3 513.3L166.4 513.0L166.6 513.2L166.8 512.8L167.0 512.9L167.1 513.2L167.3 513.0L167.5 512.8L167.6 513.3L167.8 513.3L168.0 513.1L168.2 512.8L168.3 513.4L168.5 514.0L168.7 512.8L168.9 512.5L169.0 512.8L169.2 512.8L169.4 512.6L169.6 512.7L169.7 513.4L169.9 513.4L170.1 513.6L170.2 513.3L170.4 512.9L170.6 513.5L170.8 512.9L170.9 513.0L171.1 512.7L171.3 513.5L171.5 513.4L171.6 512.9L171.8 513.0L172.0 513.1L172.2 513.1L172.3 513.4L172.5 513.1L172.7 513.2L172.8 512.6L173.0 513.0L173.2 512.4L173.4 513.7L173.5 513.6L173.7 513.3L173.9 513.5L174.1 513.8L174.2 513.4L174.4 512.5L174.6 513.0L174.7 512.3L174.9 512.8L175.1 512.6L175.3 513.1L175.4 513.2L175.6 512.8L175.8 513.0L176.0 513.2L176.1 513.0L176.3 513.0L176.5 512.2L176.7 512.9L176.8 513.4L177.0 513.2L177.2 512.6L177.3 513.0L177.5 513.2L177.7 512.7L177.9 513.3L178.0 512.8L178.2 513.0L178.4 513.0L178.6 513.9L178.7 513.0L178.9 512.9L179.1 513.3L179.2 512.9L179.4 513.1L179.6 512.3L179.8 513.2L179.9 513.1L180.1 512.6L180.3 513.5L180.5 513.0L180.6 513.0L180.8 512.6L181.0 512.5L181.2 512.9L181.3 512.5L181.5 513.2L181.7 513.4L181.8 512.9L182.0 512.5L182.2 512.9L182.4 512.7L182.5 513.1L182.7 513.1L182.9 512.9L183.1 513.1L183.2 513.4L183.4 513.7L183.6 512.9L183.8 513.3L183.9 513.0L184.1 512.7L184.3 513.5L184.4 513.2L184.6 513.1L184.8 513.2L185.0 513.0L185.1 512.7L185.3 513.7L185.5 513.4L185.7 513.2L185.8 513.4L186.0 513.5L186.2 513.0L186.3 513.3L186.5 513.0L186.7 513.3L186.9 513.0L187.0 513.9L187.2 512.9L187.4 513.3L187.6 513.2L187.7 513.0L187.9 513.4L188.1 513.0L188.3 512.9L188.4 513.1L188.6 512.8L188.8 513.5L188.9 513.3L189.1 513.4L189.3 512.6L189.5 513.2L189.6 512.8L189.8 513.1L190.0 513.5L190.2 513.2L190.3 513.0L190.5 513.5L190.7 513.4L190.9 513.7L191.0 512.4L191.2 513.2L191.4 512.9L191.5 512.8L191.7 513.1L191.9 512.7L192.1 512.3L192.2 512.8L192.4 513.0L192.6 513.7L192.8 512.8L192.9 512.7L193.1 512.4L193.3 512.9L193.4 513.0L193.6 513.1L193.8 512.6L194.0 512.8L194.1 512.3L194.3 513.1L194.5 512.5L194.7 512.1L194.8 513.5L195.0 513.2L195.2 513.2L195.4 513.2L195.5 512.7L195.7 513.4L195.9 512.7L196.0 513.7L196.2 513.2L196.4 512.4L196.6 513.4L196.7 513.8L196.9 513.0L197.1 513.4L197.3 513.0L197.4 512.9L197.6 512.2L197.8 513.5L197.9 512.9L198.1 513.2L198.3 512.7L198.5 512.8L198.6 513.5L198.8 512.9L199.0 512.9L199.2 512.6L199.3 513.1L199.5 513.3L199.7 512.9L199.9 513.0L200.0 512.6L200.2 513.6L200.4 512.9L200.5 513.0L200.7 513.7L200.9 513.0L201.1 512.5L201.2 512.7L201.4 512.9L201.6 513.7L201.8 513.1L201.9 513.0L202.1 513.4L202.3 513.5L202.5 512.8L202.6 513.6L202.8 513.4L203.0 513.2L203.1 512.2L203.3 513.1L203.5 513.6L203.7 513.0L203.8 513.9L204.0 513.1L204.2 512.7L204.4 513.3L204.5 513.2L204.7 513.4L204.9 513.0L205.0 513.5L205.2 512.9L205.4 513.1L205.6 512.6L205.7 512.8L205.9 513.1L206.1 512.8L206.3 512.9L206.4 513.0L206.6 513.2L206.8 513.3L207.0 513.3L207.1 513.4L207.3 513.1L207.5 512.9L207.6 512.5L207.8 512.9L208.0 512.8L208.2 512.4L208.3 513.6L208.5 512.4L208.7 513.2L208.9 513.3L209.0 513.0L209.2 514.0L209.4 513.1L209.5 512.8L209.7 513.7L209.9 512.8L210.1 512.6L210.2 512.7L210.4 512.8L210.6 513.1L210.8 513.2L210.9 512.5L211.1 513.2L211.3 513.8L211.5 512.8L211.6 513.0L211.8 513.3L212.0 513.5L212.1 512.8L212.3 512.7L212.5 512.7L212.7 513.4L212.8 513.4L213.0 512.3L213.2 512.3L213.4 512.6L213.5 512.5L213.7 513.2L213.9 513.1L214.1 513.7L214.2 513.3L214.4 513.1L214.6 513.4L214.7 512.7L214.9 512.5L215.1 513.0L215.3 513.4L215.4 512.4L215.6 513.3L215.8 513.3L216.0 512.8L216.1 513.1L216.3 512.9L216.5 513.0L216.6 513.3L216.8 512.7L217.0 513.3L217.2 513.3L217.3 513.3L217.5 512.2L217.7 512.3L217.9 513.2L218.0 512.7L218.2 512.7L218.4 512.6L218.6 512.4L218.7 512.8L218.9 512.6L219.1 512.6L219.2 513.0L219.4 512.3L219.6 513.1L219.8 511.9L219.9 513.5L220.1 512.1L220.3 512.7L220.5 512.7L220.6 512.3L220.8 512.4L221.0 511.9L221.2 511.0L221.3 511.1L221.5 510.5L221.7 508.6L221.8 506.2L222.0 504.1L222.2 501.7L222.4 499.3L222.5 498.5L222.7 499.0L222.9 500.8L223.1 501.9L223.2 504.9L223.4 504.8L223.6 505.1L223.7 504.4L223.9 504.5L224.1 505.4L224.3 507.3L224.4 508.8L224.6 509.8L224.8 511.3L225.0 511.2L225.1 512.0L225.3 511.9L225.5 512.7L225.7 512.4L225.8 512.9L226.0 513.2L226.2 511.9L226.3 513.5L226.5 512.9L226.7 512.7L226.9 512.1L227.0 512.7L227.2 512.0L227.4 512.9L227.6 512.8L227.7 513.6L227.9 512.8L228.1 513.3L228.2 513.4L228.4 513.7L228.6 512.9L228.8 513.2L228.9 512.4L229.1 512.6L229.3 512.9L229.5 513.0L229.6 512.6L229.8 512.9L230.0 513.3L230.2 512.8L230.3 513.0L230.5 512.7L230.7 513.5L230.8 513.7L231.0 513.1L231.2 513.0L231.4 513.6L231.5 513.2L231.7 512.8L231.9 512.6L232.1 512.8L232.2 513.8L232.4 512.8L232.6 514.1L232.8 513.0L232.9 513.0L233.1 513.5L233.3 513.0L233.4 513.2L233.6 512.7L233.8 512.6L234.0 512.8L234.1 513.1L234.3 512.8L234.5 512.4L234.7 513.2L234.8 513.0L235.0 513.0L235.2 512.8L235.3 512.3L235.5 513.6L235.7 512.9L235.9 513.3L236.0 513.6L236.2 513.5L236.4 513.1L236.6 513.1L236.7 513.2L236.9 513.4L237.1 513.3L237.3 512.9L237.4 513.2L237.6 513.2L237.8 513.3L237.9 513.1L238.1 513.6L238.3 513.1L238.5 513.4L238.6 513.1L238.8 512.9L239.0 512.7L239.2 513.0L239.3 513.3L239.5 513.5L239.7 513.0L239.8 512.9L240.0 512.9L240.2 513.5L240.4 513.1L240.5 512.9L240.7 513.3L240.9 512.6L241.1 513.1L241.2 513.1L241.4 513.0L241.6 512.7L241.8 513.4L241.9 513.7L242.1 512.6L242.3 513.1L242.4 513.3L242.6 513.9L242.8 512.9L243.0 512.7L243.1 513.1L243.3 513.8L243.5 513.1L243.7 513.2L243.8 513.7L244.0 512.3L244.2 512.3L244.4 513.4L244.5 513.3L244.7 512.6L244.9 513.3L245.0 513.1L245.2 513.1L245.4 512.8L245.6 512.9L245.7 512.8L245.9 513.1L246.1 513.0L246.3 513.7L246.4 513.3L246.6 512.5L246.8 513.2L246.9 513.6L247.1 513.2L247.3 513.5L247.5 513.1L247.6 513.3L247.8 512.7L248.0 513.4L248.2 512.6L248.3 513.5L248.5 512.5L248.7 512.3L248.9 513.3L249.0 513.0L249.2 513.1L249.4 513.2L249.5 513.1L249.7 512.7L249.9 513.1L250.1 513.2L250.2 513.2L250.4 513.8L250.6 512.8L250.8 513.1L250.9 513.3L251.1 512.9L251.3 512.6L251.5 512.9L251.6 513.4L251.8 513.0L252.0 513.3L252.1 512.8L252.3 513.2L252.5 512.8L252.7 512.8L252.8 513.1L253.0 513.1L253.2 513.6L253.4 512.5L253.5 513.2L253.7 513.6L253.9 513.5L254.0 512.9L254.2 512.8L254.4 512.9L254.6 513.2L254.7 513.1L254.9 513.2L255.1 513.3L255.3 512.7L255.4 512.6L255.6 512.6L255.8 512.6L256.0 513.0L256.1 513.2L256.3 514.0L256.5 513.2L256.6 513.1L256.8 513.6L257.0 512.8L257.2 513.2L257.3 513.4L257.5 513.3L257.7 513.2L257.9 512.9L258.0 512.6L258.2 513.0L258.4 512.8L258.5 513.3L258.7 513.0L258.9 513.2L259.1 512.5L259.2 513.4L259.4 512.7L259.6 512.5L259.8 512.5L259.9 512.8L260.1 513.4L260.3 513.3L260.5 512.6L260.6 513.0L260.8 513.0L261.0 512.4L261.1 512.7L261.3 512.3L261.5 512.7L261.7 512.0L261.8 512.7L262.0 512.7L262.2 512.7L262.4 512.7L262.5 513.4L262.7 512.9L262.9 513.1L263.1 513.2L263.2 513.3L263.4 513.2L263.6 512.8L263.7 512.6L263.9 512.7L264.1 512.8L264.3 512.9L264.4 512.9L264.6 513.3L264.8 512.9L265.0 513.6L265.1 513.3L265.3 512.7L265.5 513.2L265.6 511.8L265.8 513.4L266.0 513.0L266.2 513.0L266.3 512.2L266.5 513.7L266.7 512.7L266.9 512.7L267.0 513.2L267.2 512.7L267.4 512.4L267.6 512.9L267.7 512.3L267.9 512.9L268.1 512.7L268.2 513.0L268.4 512.1L268.6 513.0L268.8 512.6L268.9 513.1L269.1 512.1L269.3 512.9L269.5 512.4L269.6 512.4L269.8 511.7L270.0 512.0L270.1 511.9L270.3 511.2L270.5 510.8L270.7 510.6L270.8 510.8L271.0 509.5L271.2 508.4L271.4 506.0L271.5 502.8L271.7 498.6L271.9 493.3L272.1 488.8L272.2 484.9L272.4 484.6L272.6 486.7L272.7 491.3L272.9 494.6L273.1 496.9L273.3 497.9L273.4 495.8L273.6 493.5L273.8 490.8L274.0 488.5L274.1 485.9L274.3 484.4L274.5 483.2L274.7 483.2L274.8 485.7L275.0 490.2L275.2 495.4L275.3 498.5L275.5 499.8L275.7 500.5L275.9 500.0L276.0 499.1L276.2 499.1L276.4 501.1L276.6 502.1L276.7 504.9L276.9 506.7L277.1 508.4L277.2 509.5L277.4 510.6L277.6 511.0L277.8 511.6L277.9 511.8L278.1 511.6L278.3 512.7L278.5 511.7L278.6 512.4L278.8 513.1L279.0 512.1L279.2 512.9L279.3 513.0L279.5 512.7L279.7 511.9L279.8 513.1L280.0 512.7L280.2 512.5L280.4 513.2L280.5 512.5L280.7 513.1L280.9 512.6L281.1 513.0L281.2 512.4L281.4 512.7L281.6 512.5L281.8 512.6L281.9 512.9L282.1 512.8L282.3 512.9L282.4 513.3L282.6 512.9L282.8 512.2L283.0 512.8L283.1 512.9L283.3 513.3L283.5 513.3L283.7 513.3L283.8 512.9L284.0 513.2L284.2 512.4L284.3 513.4L284.5 513.1L284.7 513.1L284.9 512.8L285.0 513.0L285.2 512.7L285.4 513.2L285.6 512.5L285.7 513.3L285.9 513.2L286.1 513.7L286.3 513.0L286.4 513.0L286.6 513.1L286.8 513.0L286.9 513.0L287.1 512.6L287.3 512.6L287.5 512.8L287.6 512.9L287.8 512.6L288.0 512.6L288.2 512.9L288.3 513.3L288.5 512.9L288.7 513.3L288.8 513.4L289.0 513.3L289.2 512.9L289.4 512.9L289.5 512.4L289.7 512.8L289.9 513.2L290.1 512.6L290.2 513.5L290.4 513.5L290.6 512.9L290.8 513.4L290.9 512.5L291.1 512.7L291.3 512.9L291.4 513.0L291.6 513.0L291.8 512.7L292.0 513.7L292.1 513.1L292.3 513.1L292.5 513.3L292.7 513.1L292.8 512.9L293.0 512.8L293.2 512.4L293.4 513.6L293.5 512.7L293.7 512.4L293.9 512.7L294.0 512.5L294.2 513.7L294.4 513.2L294.6 513.5L294.7 513.5L294.9 513.2L295.1 513.2L295.3 512.8L295.4 513.0L295.6 512.8L295.8 513.0L295.9 512.8L296.1 513.5L296.3 513.3L296.5 513.0L296.6 512.4L296.8 513.2L297.0 513.3L297.2 513.0L297.3 512.5L297.5 513.1L297.7 513.4L297.9 512.3L298.0 513.2L298.2 512.3L298.4 513.0L298.5 513.6L298.7 513.0L298.9 513.1L299.1 512.8L299.2 512.9L299.4 513.7L299.6 513.4L299.8 512.8L299.9 512.7L300.1 512.8L300.3 513.6L300.4 512.9L300.6 513.1L300.8 512.6L301.0 512.2L301.1 513.1L301.3 512.5L301.5 512.1L301.7 512.0L301.8 511.8L302.0 511.5L302.2 510.6L302.4 510.6L302.5 509.0L302.7 507.4L302.9 504.8L303.0 502.9L303.2 501.4L303.4 501.7L303.6 502.8L303.7 504.5L303.9 506.0L304.1 507.0L304.3 507.7L304.4 507.7L304.6 507.2L304.8 506.3L305.0 507.1L305.1 507.1L305.3 507.3L305.5 508.7L305.6 509.7L305.8 511.1L306.0 512.0L306.2 511.7L306.3 512.5L306.5 512.4L306.7 513.0L306.9 513.1L307.0 512.8L307.2 513.0L307.4 512.8L307.5 512.7L307.7 512.4L307.9 513.0L308.1 512.9L308.2 512.8L308.4 512.9L308.6 512.9L308.8 512.6L308.9 512.8L309.1 513.4L309.3 512.9L309.5 513.5L309.6 512.6L309.8 512.5L310.0 513.0L310.1 513.3L310.3 512.8L310.5 513.2L310.7 513.3L310.8 513.4L311.0 513.0L311.2 513.0L311.4 512.4L311.5 513.0L311.7 513.1L311.9 513.5L312.1 512.6L312.2 512.7L312.4 512.7L312.6 513.4L312.7 512.2L312.9 512.7L313.1 513.8L313.3 513.3L313.4 512.6L313.6 513.0L313.8 513.4L314.0 513.3L314.1 513.0L314.3 512.8L314.5 513.4L314.6 513.1L314.8 513.3L315.0 513.2L315.2 512.9L315.3 513.6L315.5 512.9L315.7 513.2L315.9 512.8L316.0 513.0L316.2 513.0L316.4 512.8L316.6 513.2L316.7 513.5L316.9 513.7L317.1 513.6L317.2 513.0L317.4 513.6L317.6 513.2L317.8 513.7L317.9 512.6L318.1 513.6L318.3 512.9L318.5 513.5L318.6 512.9L318.8 513.4L319.0 513.0L319.1 512.4L319.3 512.7L319.5 513.0L319.7 513.1L319.8 512.3L320.0 512.7L320.2 512.8L320.4 513.0L320.5 513.2L320.7 512.8L320.9 512.5L321.1 513.2L321.2 513.0L321.4 513.4" fill="none" stroke="#2a2a2a" stroke-width="0.8"/><path d="M18.4 512.7L18.6 512.2L18.7 512.4L18.9 512.5L19.1 513.0L19.3 513.3L19.4 512.5L19.6 512.8L19.8 512.8L20.0 512.4L20.1 512.1L20.3 512.4L20.5 512.2L20.7 512.6L20.8 512.6L21.0 512.6L21.2 512.6L21.3 512.8L21.5 512.3L21.7 512.9L21.9 512.0L22.0 512.7L22.2 512.8L22.4 512.3L22.6 512.1L22.7 512.8L22.9 512.4L23.1 512.9L23.2 512.9L23.4 512.6L23.6 512.6L23.8 512.9L23.9 512.7L24.1 512.2L24.3 512.6L24.5 512.7L24.6 512.6L24.8 512.6L25.0 512.4L25.2 512.4L25.3 512.1L25.5 511.9L25.7 512.8L25.8 512.2L26.0 512.5L26.2 511.8L26.4 512.4L26.5 512.0L26.7 513.3L26.9 511.9L27.1 511.9L27.2 512.5L27.4 512.5L27.6 511.3L27.7 512.1L27.9 512.2L28.1 511.4L28.3 512.0L28.4 511.5L28.6 511.2L28.8 511.3L29.0 511.2L29.1 510.7L29.3 511.7L29.5 510.5L29.7 510.1L29.8 510.3L30.0 509.5L30.2 509.3L30.3 507.7L30.5 506.3L30.7 503.6L30.9 499.5L31.0 493.2L31.2 485.0L31.4 475.4L31.6 464.0L31.7 455.7L31.9 452.6L32.1 454.9L32.3 459.3L32.4 464.4L32.6 469.1L32.8 476.5L32.9 483.9L33.1 491.0L33.3 497.2L33.5 500.9L33.6 504.9L33.8 507.0L34.0 507.8L34.2 509.2L34.3 510.3L34.5 510.1L34.7 510.8L34.8 510.8L35.0 510.8L35.2 510.9L35.4 511.2L35.5 512.0L35.7 511.9L35.9 511.5L36.1 512.1L36.2 511.8L36.4 511.7L36.6 512.1L36.8 511.7L36.9 511.5L37.1 512.5L37.3 511.5L37.4 512.3L37.6 511.6L37.8 512.2L38.0 512.1L38.1 512.1L38.3 511.5L38.5 512.2L38.7 512.2L38.8 512.0L39.0 512.2L39.2 512.6L39.4 512.0L39.5 512.4L39.7 511.9L39.9 512.4L40.0 512.5L40.2 513.1L40.4 512.5L40.6 512.3L40.7 512.7L40.9 511.8L41.1 512.5L41.3 511.9L41.4 511.8L41.6 512.3L41.8 512.0L41.9 512.3L42.1 511.2L42.3 511.6L42.5 511.1L42.6 510.9L42.8 509.8L43.0 510.0L43.2 508.5L43.3 506.5L43.5 504.5L43.7 502.6L43.9 501.7L44.0 500.5L44.2 500.7L44.4 501.6L44.5 502.0L44.7 502.6L44.9 503.3L45.1 503.4L45.2 503.3L45.4 501.1L45.6 498.8L45.8 494.6L45.9 489.8L46.1 485.2L46.3 482.2L46.4 482.3L46.6 484.8L46.8 486.7L47.0 488.9L47.1 492.3L47.3 495.8L47.5 499.1L47.7 502.7L47.8 505.1L48.0 507.4L48.2 509.3L48.4 510.2L48.5 510.6L48.7 510.8L48.9 510.7L49.0 511.5L49.2 511.8L49.4 512.1L49.6 512.5L49.7 512.1L49.9 512.3L50.1 511.7L50.3 512.6L50.4 512.5L50.6 512.7L50.8 512.5L51.0 512.5L51.1 512.9L51.3 512.1L51.5 512.6L51.6 512.8L51.8 512.2L52.0 512.1L52.2 512.6L52.3 512.5L52.5 512.7L52.7 512.7L52.9 512.3L53.0 512.7L53.2 512.9L53.4 512.4L53.5 512.5L53.7 512.2L53.9 512.9L54.1 513.3L54.2 512.1L54.4 512.9L54.6 512.9L54.8 512.4L54.9 512.5L55.1 512.3L55.3 512.4L55.5 512.7L55.6 512.9L55.8 512.7L56.0 513.0L56.1 512.7L56.3 512.3L56.5 513.2L56.7 513.1L56.8 512.4L57.0 513.3L57.2 512.8L57.4 512.7L57.5 513.3L57.7 511.8L57.9 512.1L58.0 512.9L58.2 512.6L58.4 512.4L58.6 513.2L58.7 512.9L58.9 512.3L59.1 512.5L59.3 513.0L59.4 513.3L59.6 512.0L59.8 512.8L60.0 512.6L60.1 512.1L60.3 512.7L60.5 512.2L60.6 512.5L60.8 513.3L61.0 512.9L61.2 513.0L61.3 512.9L61.5 512.9L61.7 513.1L61.9 512.3L62.0 512.6L62.2 513.0L62.4 512.5L62.6 512.6L62.7 513.1L62.9 513.3L63.1 512.5L63.2 512.5L63.4 512.9L63.6 512.8L63.8 512.5L63.9 512.9L64.1 512.9L64.3 512.8L64.5 513.7L64.6 513.2L64.8 513.0L65.0 513.1L65.1 513.8L65.3 513.1L65.5 512.5L65.7 512.9L65.8 512.8L66.0 512.6L66.2 512.8L66.4 512.8L66.5 512.7L66.7 512.6L66.9 513.0L67.1 512.2L67.2 513.0L67.4 512.8L67.6 512.8L67.7 511.9L67.9 513.3L68.1 512.2L68.3 512.5L68.4 513.0L68.6 512.5L68.8 512.6L69.0 512.0L69.1 512.6L69.3 512.8L69.5 513.0L69.7 512.7L69.8 512.8L70.0 512.9L70.2 512.5L70.3 512.5L70.5 513.4L70.7 512.5L70.9 513.2L71.0 512.8L71.2 513.3L71.4 512.5L71.6 512.9L71.7 512.9L71.9 512.7L72.1 512.9L72.2 512.5L72.4 512.7L72.6 512.6L72.8 513.0L72.9 512.7L73.1 512.3L73.3 512.6L73.5 512.7L73.6 512.4L73.8 513.2L74.0 512.9L74.2 513.0L74.3 512.5L74.5 512.6L74.7 513.1L74.8 512.3L75.0 512.9L75.2 512.8L75.4 512.6L75.5 512.8L75.7 512.4L75.9 512.8L76.1 512.3L76.2 512.3L76.4 513.2L76.6 512.5L76.7 512.0L76.9 513.1L77.1 512.5L77.3 511.5L77.4 512.7L77.6 513.1L77.8 512.9L78.0 513.3L78.1 512.7L78.3 512.9L78.5 512.4L78.7 512.8L78.8 513.3L79.0 512.9L79.2 512.8L79.3 512.0L79.5 512.6L79.7 512.3L79.9 513.0L80.0 512.5L80.2 512.8L80.4 512.4L80.6 513.4L80.7 512.3L80.9 512.8L81.1 513.6L81.3 512.8L81.4 512.4L81.6 512.9L81.8 513.0L81.9 513.0L82.1 512.0L82.3 512.8L82.5 512.0L82.6 513.3L82.8 512.7L83.0 512.5L83.2 512.9L83.3 512.9L83.5 512.3L83.7 513.2L83.8 512.6L84.0 512.1L84.2 513.2L84.4 513.2L84.5 513.1L84.7 512.9L84.9 512.4L85.1 513.0L85.2 513.3L85.4 512.9L85.6 513.2L85.8 512.4L85.9 513.0L86.1 513.0L86.3 512.1L86.4 512.1L86.6 512.4L86.8 512.6L87.0 512.8L87.1 512.5L87.3 512.6L87.5 512.6L87.7 512.6L87.8 512.8L88.0 512.7L88.2 512.6L88.3 512.7L88.5 512.4L88.7 512.8L88.9 512.4L89.0 513.1L89.2 512.5L89.4 512.6L89.6 512.2L89.7 512.4L89.9 512.5L90.1 512.5L90.3 512.2L90.4 512.0L90.6 512.4L90.8 512.5L90.9 512.6L91.1 512.8L91.3 512.3L91.5 511.7L91.6 512.3L91.8 511.7L92.0 511.8L92.2 512.6L92.3 512.4L92.5 512.0L92.7 512.0L92.9 512.1L93.0 511.5L93.2 512.2L93.4 511.9L93.5 512.6L93.7 511.6L93.9 512.3L94.1 511.6L94.2 512.1L94.4 511.4L94.6 511.9L94.8 511.4L94.9 511.2L95.1 511.3L95.3 511.4L95.4 511.3L95.6 511.5L95.8 511.1L96.0 509.7L96.1 510.3L96.3 509.5L96.5 509.8L96.7 509.8L96.8 508.8L97.0 508.4L97.2 508.3L97.4 507.5L97.5 507.3L97.7 505.7L97.9 504.3L98.0 502.4L98.2 498.0L98.4 492.3L98.6 482.7L98.7 469.5L98.9 451.3L99.1 429.1L99.3 405.8L99.4 388.5L99.6 383.7L99.8 390.4L100.0 402.7L100.1 413.5L100.3 419.8L100.5 427.1L100.6 438.7L100.8 451.2L101.0 466.0L101.2 477.9L101.3 488.4L101.5 495.5L101.7 500.1L101.9 503.4L102.0 505.2L102.2 506.7L102.4 508.1L102.5 508.6L102.7 508.5L102.9 508.9L103.1 509.5L103.2 509.9L103.4 510.2L103.6 510.2L103.8 510.9L103.9 510.9L104.1 511.1L104.3 511.2L104.5 511.5L104.6 511.0L104.8 512.0L105.0 511.7L105.1 511.8L105.3 511.9L105.5 512.2L105.7 512.1L105.8 512.0L106.0 511.9L106.2 511.4L106.4 512.1L106.5 512.0L106.7 512.0L106.9 513.0L107.0 511.5L107.2 512.2L107.4 512.7L107.6 512.6L107.7 512.7L107.9 511.9L108.1 512.0L108.3 512.6L108.4 512.3L108.6 513.0L108.8 512.5L109.0 512.5L109.1 512.6L109.3 512.4L109.5 512.5L109.6 512.2L109.8 512.5L110.0 512.3L110.2 512.6L110.3 512.0L110.5 512.0L110.7 512.7L110.9 512.6L111.0 512.2L111.2 512.5L111.4 512.2L111.6 513.3L111.7 512.0L111.9 513.2L112.1 512.3L112.2 512.8L112.4 512.5L112.6 512.5L112.8 513.0L112.9 512.9L113.1 512.5L113.3 512.3L113.5 513.4L113.6 513.1L113.8 512.7L114.0 512.6L114.1 512.8L114.3 512.7L114.5 513.1L114.7 512.3L114.8 512.7L115.0 512.4L115.2 513.1L115.4 513.3L115.5 512.7L115.7 512.9L115.9 513.2L116.1 512.6L116.2 512.4L116.4 513.1L116.6 512.9L116.7 512.6L116.9 513.2L117.1 512.8L117.3 512.1L117.4 512.8L117.6 512.7L117.8 513.4L118.0 512.7L118.1 512.6L118.3 512.9L118.5 512.8L118.6 512.2L118.8 512.8L119.0 512.6L119.2 513.2L119.3 513.6L119.5 512.3L119.7 512.4L119.9 512.4L120.0 512.5L120.2 512.5L120.4 512.8L120.6 513.1L120.7 512.3L120.9 512.2L121.1 512.1L121.2 513.1L121.4 513.2L121.6 512.2L121.8 512.2L121.9 512.8L122.1 513.1L122.3 513.1L122.5 512.8L122.6 513.0L122.8 512.9L123.0 512.5L123.2 513.4L123.3 512.7L123.5 512.3L123.7 512.6L123.8 512.2L124.0 512.7L124.2 513.1L124.4 512.3L124.5 513.1L124.7 513.5L124.9 512.9L125.1 512.3L125.2 512.4L125.4 512.6L125.6 512.3L125.7 512.3L125.9 512.6L126.1 512.7L126.3 512.9L126.4 512.3L126.6 513.4L126.8 513.1L127.0 513.0L127.1 512.5L127.3 513.3L127.5 512.6L127.7 513.3L127.8 513.1L128.0 512.4L128.2 512.5L128.3 513.3L128.5 513.0L128.7 512.6L128.9 512.8L129.0 512.7L129.2 512.4L129.4 512.6L129.6 512.4L129.7 512.5L129.9 512.8L130.1 512.3L130.3 512.9L130.4 512.6L130.6 512.9L130.8 512.9L130.9 513.0L131.1 512.8L131.3 512.8L131.5 512.4L131.6 512.6L131.8 512.1L132.0 512.3L132.2 512.6L132.3 512.2L132.5 512.3L132.7 511.7L132.8 512.5L133.0 511.7L133.2 511.8L133.4 511.4L133.5 511.3L133.7 510.2L133.9 509.0L134.1 507.0L134.2 505.3L134.4 502.1L134.6 499.4L134.8 496.9L134.9 494.1L135.1 494.8L135.3 497.1L135.4 499.2L135.6 500.2L135.8 500.9L136.0 501.6L136.1 502.7L136.3 504.8L136.5 506.3L136.7 507.4L136.8 509.1L137.0 510.4L137.2 510.7L137.3 511.3L137.5 511.5L137.7 511.7L137.9 512.3L138.0 512.0L138.2 511.9L138.4 512.1L138.6 512.4L138.7 513.1L138.9 512.5L139.1 513.0L139.3 512.7L139.4 511.8L139.6 512.7L139.8 512.3L139.9 512.1L140.1 512.2L140.3 513.3L140.5 512.1L140.6 512.4L140.8 513.1L141.0 512.9L141.2 512.1L141.3 512.6L141.5 512.5L141.7 512.6L141.9 513.0L142.0 512.5L142.2 512.6L142.4 513.2L142.5 512.1L142.7 512.6L142.9 512.9L143.1 512.3L143.2 512.5L143.4 512.3L143.6 512.8L143.8 512.5L143.9 513.0L144.1 513.1L144.3 512.8L144.4 512.6L144.6 512.9L144.8 512.8L145.0 512.3L145.1 513.1L145.3 512.8L145.5 513.0L145.7 512.3L145.8 513.1L146.0 513.5L146.2 513.0L146.4 512.3L146.5 512.8L146.7 512.8L146.9 512.9L147.0 512.7L147.2 513.0L147.4 512.6L147.6 512.9L147.7 512.5L147.9 512.8L148.1 513.1L148.3 512.6L148.4 513.0L148.6 512.5L148.8 512.7L148.9 512.7L149.1 513.2L149.3 512.5L149.5 513.2L149.6 512.3L149.8 512.7L150.0 513.1L150.2 513.0L150.3 512.4L150.5 512.4L150.7 513.1L150.9 512.3L151.0 513.0L151.2 512.6L151.4 512.8L151.5 513.6L151.7 513.3L151.9 513.1L152.1 512.3L152.2 512.9L152.4 512.8L152.6 512.8L152.8 513.3L152.9 512.2L153.1 512.9L153.3 512.8L153.5 512.5L153.6 513.4L153.8 512.4L154.0 512.8L154.1 512.8L154.3 512.0L154.5 512.3L154.7 512.5L154.8 513.1L155.0 513.1L155.2 513.0L155.4 512.9L155.5 512.0L155.7 512.9L155.9 512.6L156.0 513.2L156.2 513.3L156.4 513.6L156.6 513.1L156.7 513.1L156.9 512.4L157.1 512.8L157.3 512.4L157.4 513.1L157.6 512.4L157.8 512.7L158.0 512.5L158.1 512.6L158.3 513.0L158.5 512.6L158.6 512.9L158.8 512.5L159.0 513.3L159.2 512.6L159.3 513.2L159.5 513.6L159.7 511.9L159.9 512.5L160.0 512.7L160.2 513.2L160.4 512.6L160.6 512.9L160.7 512.5L160.9 513.0L161.1 512.4L161.2 513.1L161.4 511.7L161.6 512.1L161.8 513.5L161.9 512.9L162.1 512.5L162.3 513.6L162.5 513.2L162.6 513.2L162.8 512.7L163.0 513.0L163.1 513.0L163.3 512.2L163.5 513.0L163.7 512.7L163.8 513.3L164.0 513.3L164.2 512.6L164.4 512.6L164.5 512.9L164.7 513.0L164.9 512.7L165.1 512.8L165.2 513.0L165.4 513.0L165.6 513.2L165.7 512.9L165.9 512.5L166.1 512.2L166.3 513.1L166.4 512.7L166.6 512.7L166.8 512.7L167.0 512.2L167.1 512.7L167.3 511.9L167.5 512.7L167.6 512.5L167.8 513.5L168.0 513.0L168.2 512.7L168.3 512.9L168.5 513.1L168.7 512.5L168.9 512.7L169.0 512.7L169.2 513.7L169.4 512.8L169.6 512.1L169.7 513.1L169.9 513.7L170.1 512.5L170.2 514.1L170.4 512.8L170.6 513.2L170.8 512.6L170.9 512.7L171.1 512.4L171.3 512.4L171.5 512.0L171.6 513.2L171.8 512.4L172.0 512.9L172.2 512.9L172.3 512.6L172.5 512.8L172.7 512.8L172.8 512.6L173.0 512.8L173.2 512.8L173.4 512.4L173.5 512.3L173.7 512.5L173.9 512.9L174.1 513.3L174.2 513.3L174.4 512.9L174.6 513.1L174.7 512.9L174.9 513.2L175.1 512.9L175.3 512.9L175.4 512.7L175.6 512.8L175.8 513.5L176.0 512.4L176.1 512.8L176.3 512.6L176.5 513.2L176.7 513.5L176.8 512.7L177.0 511.8L177.2 513.0L177.3 513.0L177.5 512.2L177.7 512.7L177.9 512.8L178.0 512.0L178.2 513.1L178.4 513.0L178.6 512.9L178.7 512.4L178.9 512.5L179.1 512.6L179.2 513.0L179.4 512.5L179.6 513.3L179.8 512.9L179.9 512.0L180.1 513.4L180.3 512.9L180.5 512.6L180.6 512.8L180.8 512.1L181.0 512.9L181.2 511.9L181.3 512.4L181.5 513.3L181.7 513.3L181.8 512.7L182.0 512.5L182.2 513.1L182.4 512.8L182.5 512.9L182.7 513.0L182.9 512.4L183.1 513.1L183.2 512.0L183.4 513.3L183.6 512.2L183.8 512.6L183.9 512.6L184.1 513.1L184.3 513.1L184.4 512.9L184.6 513.0L184.8 513.0L185.0 512.8L185.1 512.1L185.3 512.0L185.5 512.0L185.7 512.8L185.8 512.7L186.0 512.8L186.2 512.9L186.3 512.7L186.5 512.4L186.7 512.3L186.9 512.1L187.0 513.2L187.2 513.1L187.4 512.3L187.6 512.7L187.7 513.0L187.9 513.4L188.1 512.6L188.3 512.9L188.4 513.2L188.6 512.2L188.8 512.5L188.9 512.8L189.1 512.5L189.3 513.6L189.5 513.1L189.6 512.9L189.8 512.4L190.0 513.1L190.2 513.0L190.3 512.6L190.5 512.6L190.7 512.3L190.9 512.8L191.0 513.1L191.2 513.2L191.4 513.0L191.5 513.1L191.7 512.6L191.9 512.6L192.1 513.2L192.2 513.0L192.4 512.5L192.6 513.0L192.8 513.1L192.9 513.1L193.1 512.8L193.3 512.6L193.4 512.9L193.6 513.4L193.8 512.9L194.0 512.6L194.1 512.9L194.3 512.3L194.5 512.9L194.7 512.7L194.8 513.1L195.0 512.8L195.2 513.2L195.4 513.6L195.5 512.7L195.7 512.5L195.9 513.0L196.0 512.8L196.2 512.8L196.4 512.6L196.6 513.0L196.7 512.8L196.9 512.0L197.1 512.7L197.3 512.9L197.4 513.2L197.6 512.6L197.8 512.5L197.9 513.2L198.1 512.6L198.3 512.8L198.5 513.0L198.6 513.1L198.8 512.8L199.0 512.4L199.2 513.2L199.3 512.6L199.5 512.6L199.7 513.5L199.9 513.1L200.0 512.4L200.2 512.6L200.4 512.7L200.5 512.5L200.7 512.1L200.9 513.1L201.1 513.1L201.2 512.9L201.4 512.6L201.6 512.9L201.8 513.0L201.9 512.4L202.1 512.7L202.3 512.6L202.5 513.0L202.6 512.9L202.8 512.3L203.0 512.6L203.1 513.4L203.3 512.4L203.5 512.8L203.7 512.6L203.8 513.2L204.0 512.8L204.2 512.6L204.4 512.4L204.5 512.7L204.7 513.1L204.9 513.0L205.0 512.3L205.2 513.4L205.4 512.7L205.6 512.4L205.7 512.8L205.9 512.6L206.1 512.6L206.3 512.6L206.4 512.8L206.6 512.6L206.8 512.2L207.0 513.0L207.1 512.6L207.3 513.2L207.5 513.0L207.6 513.0L207.8 512.8L208.0 513.2L208.2 512.7L208.3 512.4L208.5 512.9L208.7 511.8L208.9 512.6L209.0 512.9L209.2 512.6L209.4 513.2L209.5 513.0L209.7 512.8L209.9 512.6L210.1 513.2L210.2 512.5L210.4 512.6L210.6 513.0L210.8 513.0L210.9 513.5L211.1 512.7L211.3 512.1L211.5 513.0L211.6 513.2L211.8 512.7L212.0 513.3L212.1 513.4L212.3 512.5L212.5 512.6L212.7 512.3L212.8 513.0L213.0 513.0L213.2 513.0L213.4 512.3L213.5 512.5L213.7 512.2L213.9 512.2L214.1 512.3L214.2 512.2L214.4 512.7L214.6 512.9L214.7 513.0L214.9 512.7L215.1 512.5L215.3 512.7L215.4 512.9L215.6 512.6L215.8 512.7L216.0 512.6L216.1 512.5L216.3 512.7L216.5 512.3L216.6 513.1L216.8 512.1L217.0 512.8L217.2 512.2L217.3 513.2L217.5 513.0L217.7 512.4L217.9 512.5L218.0 512.2L218.2 512.6L218.4 512.7L218.6 513.5L218.7 512.1L218.9 513.0L219.1 512.3L219.2 512.6L219.4 512.8L219.6 512.6L219.8 512.5L219.9 512.3L220.1 512.3L220.3 512.3L220.5 512.6L220.6 511.5L220.8 511.7L221.0 511.2L221.2 510.9L221.3 510.4L221.5 510.2L221.7 509.2L221.8 507.0L222.0 503.6L222.2 501.3L222.4 498.5L222.5 498.0L222.7 498.9L222.9 500.5L223.1 502.6L223.2 503.7L223.4 503.8L223.6 503.8L223.7 504.2L223.9 504.5L224.1 505.6L224.3 506.3L224.4 508.0L224.6 509.3L224.8 510.6L225.0 511.0L225.1 511.1L225.3 512.2L225.5 512.1L225.7 512.3L225.8 511.8L226.0 512.3L226.2 511.7L226.3 511.7L226.5 512.4L226.7 512.3L226.9 512.7L227.0 513.1L227.2 512.5L227.4 513.2L227.6 512.4L227.7 512.9L227.9 512.2L228.1 512.7L228.2 512.5L228.4 512.6L228.6 512.9L228.8 512.0L228.9 512.7L229.1 512.4L229.3 512.7L229.5 512.8L229.6 512.6L229.8 512.6L230.0 512.3L230.2 512.9L230.3 512.5L230.5 512.9L230.7 512.2L230.8 513.2L231.0 512.4L231.2 513.1L231.4 512.6L231.5 512.9L231.7 512.7L231.9 513.0L232.1 512.7L232.2 513.2L232.4 513.0L232.6 513.0L232.8 513.3L232.9 512.5L233.1 513.2L233.3 512.8L233.4 512.2L233.6 512.9L233.8 512.7L234.0 513.4L234.1 512.6L234.3 512.8L234.5 512.8L234.7 512.1L234.8 512.9L235.0 512.4L235.2 513.3L235.3 513.4L235.5 512.8L235.7 512.2L235.9 512.8L236.0 512.8L236.2 513.0L236.4 512.7L236.6 512.3L236.7 512.7L236.9 512.4L237.1 513.4L237.3 512.5L237.4 512.5L237.6 512.8L237.8 512.3L237.9 512.6L238.1 512.7L238.3 512.6L238.5 512.7L238.6 513.2L238.8 512.9L239.0 512.3L239.2 512.6L239.3 513.0L239.5 512.5L239.7 512.8L239.8 512.8L240.0 513.0L240.2 512.7L240.4 512.7L240.5 512.5L240.7 512.9L240.9 512.4L241.1 513.4L241.2 512.8L241.4 512.7L241.6 513.1L241.8 512.7L241.9 512.8L242.1 512.8L242.3 512.5L242.4 512.4L242.6 512.5L242.8 513.2L243.0 512.5L243.1 512.6L243.3 512.6L243.5 513.0L243.7 513.5L243.8 512.4L244.0 513.0L244.2 512.8L244.4 512.7L244.5 513.0L244.7 512.3L244.9 513.1L245.0 512.9L245.2 512.4L245.4 513.3L245.6 513.1L245.7 513.2L245.9 512.2L246.1 512.7L246.3 512.6L246.4 513.0L246.6 513.3L246.8 512.1L246.9 512.8L247.1 512.7L247.3 513.1L247.5 512.8L247.6 512.3L247.8 512.7L248.0 512.4L248.2 512.5L248.3 512.8L248.5 512.6L248.7 512.9L248.9 512.2L249.0 513.6L249.2 513.2L249.4 513.0L249.5 512.3L249.7 512.0L249.9 512.5L250.1 512.7L250.2 513.6L250.4 513.2L250.6 512.6L250.8 513.2L250.9 513.2L251.1 512.8L251.3 513.2L251.5 512.9L251.6 512.5L251.8 512.3L252.0 512.7L252.1 513.1L252.3 512.3L252.5 512.2L252.7 513.0L252.8 511.8L253.0 513.4L253.2 512.6L253.4 513.0L253.5 513.4L253.7 512.2L253.9 512.4L254.0 513.6L254.2 512.7L254.4 512.7L254.6 512.8L254.7 513.1L254.9 513.2L255.1 512.8L255.3 512.6L255.4 512.7L255.6 512.9L255.8 513.2L256.0 512.8L256.1 513.4L256.3 512.4L256.5 512.9L256.6 513.4L256.8 513.2L257.0 512.9L257.2 512.4L257.3 512.5L257.5 512.7L257.7 512.9L257.9 512.6L258.0 512.2L258.2 512.5L258.4 512.9L258.5 513.0L258.7 512.2L258.9 512.6L259.1 512.1L259.2 512.5L259.4 514.0L259.6 512.7L259.8 512.6L259.9 512.5L260.1 512.3L260.3 512.1L260.5 512.7L260.6 512.6L260.8 513.2L261.0 512.1L261.1 512.9L261.3 513.2L261.5 512.0L261.7 512.9L261.8 512.1L262.0 512.9L262.2 513.2L262.4 512.7L262.5 512.8L262.7 512.4L262.9 512.8L263.1 513.1L263.2 512.6L263.4 512.6L263.6 512.8L263.7 512.9L263.9 512.1L264.1 512.7L264.3 512.4L264.4 512.8L264.6 513.0L264.8 512.7L265.0 513.1L265.1 512.2L265.3 512.4L265.5 512.2L265.6 512.6L265.8 512.6L266.0 512.5L266.2 512.1L266.3 512.5L266.5 512.4L266.7 512.7L266.9 512.4L267.0 512.9L267.2 512.5L267.4 511.8L267.6 512.3L267.7 511.9L267.9 512.7L268.1 512.8L268.2 512.3L268.4 512.4L268.6 511.7L268.8 511.4L268.9 511.9L269.1 511.9L269.3 511.4L269.5 511.9L269.6 511.9L269.8 511.9L270.0 512.1L270.1 511.7L270.3 511.0L270.5 510.9L270.7 510.7L270.8 509.6L271.0 509.6L271.2 508.1L271.4 505.5L271.5 502.2L271.7 499.6L271.9 493.4L272.1 488.4L272.2 485.2L272.4 484.5L272.6 487.0L272.7 491.2L272.9 494.2L273.1 497.0L273.3 496.6L273.4 496.0L273.6 493.5L273.8 489.8L274.0 488.4L274.1 485.3L274.3 484.4L274.5 482.6L274.7 483.4L274.8 486.0L275.0 491.4L275.2 495.3L275.3 498.8L275.5 500.3L275.7 500.7L275.9 499.9L276.0 498.9L276.2 499.0L276.4 500.1L276.6 502.1L276.7 504.0L276.9 506.6L277.1 508.6L277.2 509.4L277.4 510.5L277.6 510.8L277.8 510.9L277.9 511.1L278.1 511.4L278.3 511.7L278.5 511.8L278.6 512.4L278.8 511.7L279.0 511.4L279.2 512.4L279.3 512.1L279.5 512.2L279.7 513.2L279.8 512.9L280.0 512.6L280.2 512.7L280.4 512.5L280.5 512.8L280.7 512.2L280.9 512.2L281.1 512.3L281.2 513.1L281.4 513.1L281.6 512.3L281.8 513.0L281.9 512.5L282.1 513.0L282.3 512.5L282.4 512.9L282.6 512.6L282.8 512.5L283.0 512.6L283.1 512.7L283.3 512.4L283.5 512.1L283.7 513.3L283.8 512.5L284.0 512.0L284.2 511.8L284.3 511.7L284.5 512.5L284.7 513.2L284.9 512.1L285.0 512.6L285.2 512.0L285.4 513.1L285.6 512.8L285.7 512.8L285.9 513.2L286.1 513.3L286.3 513.1L286.4 512.5L286.6 512.2L286.8 512.3L286.9 512.1L287.1 513.4L287.3 512.7L287.5 512.8L287.6 512.8L287.8 513.5L288.0 512.5L288.2 513.2L288.3 512.8L288.5 512.7L288.7 512.0L288.8 513.1L289.0 512.5L289.2 512.6L289.4 512.8L289.5 512.8L289.7 513.1L289.9 512.5L290.1 512.8L290.2 512.8L290.4 512.8L290.6 513.0L290.8 512.7L290.9 513.2L291.1 512.5L291.3 512.2L291.4 512.7L291.6 513.2L291.8 512.6L292.0 512.5L292.1 512.6L292.3 512.8L292.5 512.7L292.7 512.9L292.8 512.1L293.0 513.3L293.2 513.0L293.4 512.4L293.5 513.2L293.7 512.9L293.9 513.3L294.0 512.3L294.2 513.3L294.4 512.8L294.6 512.0L294.7 513.0L294.9 512.6L295.1 512.4L295.3 512.7L295.4 512.0L295.6 512.9L295.8 512.7L295.9 512.6L296.1 513.2L296.3 512.7L296.5 512.5L296.6 512.4L296.8 512.7L297.0 513.1L297.2 512.5L297.3 512.3L297.5 513.0L297.7 512.7L297.9 512.7L298.0 513.4L298.2 512.2L298.4 512.8L298.5 512.0L298.7 512.6L298.9 512.9L299.1 513.0L299.2 512.2L299.4 512.9L299.6 512.9L299.8 512.5L299.9 513.5L300.1 512.5L300.3 512.2L300.4 512.6L300.6 511.8L300.8 513.0L301.0 512.7L301.1 512.2L301.3 512.4L301.5 512.3L301.7 512.7L301.8 511.5L302.0 510.9L302.2 510.1L302.4 509.8L302.5 508.0L302.7 506.7L302.9 504.8L303.0 502.3L303.2 500.7L303.4 501.4L303.6 502.2L303.7 504.2L303.9 506.2L304.1 506.7L304.3 507.4L304.4 508.5L304.6 507.0L304.8 506.1L305.0 506.2L305.1 506.5L305.3 507.2L305.5 508.7L305.6 509.9L305.8 510.7L306.0 511.6L306.2 511.1L306.3 511.5L306.5 512.5L306.7 512.1L306.9 512.8L307.0 512.5L307.2 512.0L307.4 512.7L307.5 512.2L307.7 512.7L307.9 513.0L308.1 513.4L308.2 512.6L308.4 512.9L308.6 512.8L308.8 512.9L308.9 511.7L309.1 512.5L309.3 512.8L309.5 512.9L309.6 512.4L309.8 513.0L310.0 513.1L310.1 512.7L310.3 512.6L310.5 512.6L310.7 512.8L310.8 513.2L311.0 513.3L311.2 512.6L311.4 512.4L311.5 512.5L311.7 513.1L311.9 512.8L312.1 512.9L312.2 512.9L312.4 512.9L312.6 512.7L312.7 512.4L312.9 512.5L313.1 512.8L313.3 512.9L313.4 512.6L313.6 512.6L313.8 513.3L314.0 512.6L314.1 512.9L314.3 512.7L314.5 512.5L314.6 512.2L314.8 512.6L315.0 512.5L315.2 513.1L315.3 512.4L315.5 512.6L315.7 513.0L315.9 512.7L316.0 513.0L316.2 513.1L316.4 512.2L316.6 512.6L316.7 512.4L316.9 513.3L317.1 512.7L317.2 513.0L317.4 513.4L317.6 512.7L317.8 512.8L317.9 512.9L318.1 512.7L318.3 513.2L318.5 513.1L318.6 513.1L318.8 512.8L319.0 512.7L319.1 512.7L319.3 512.7L319.5 512.2L319.7 512.9L319.8 513.1L320.0 512.8L320.2 512.6L320.4 512.8L320.5 512.9L320.7 512.9L320.9 513.4L321.1 512.5L321.2 512.9L321.4 513.0" fill="none" stroke="#b83a3a" stroke-width="0.9" stroke-opacity="0.85"/><path d="M330.4 512.2L330.4 512.2L330.5 512.2L330.8 512.2L331.0 512.2L331.3 512.2L331.5 512.2L331.8 512.2L332.1 512.2L332.3 512.2L332.6 512.1L332.8 512.1L333.1 512.1L333.4 512.1L333.6 512.1L333.9 512.1L334.1 512.1L334.4 512.1L334.7 512.0L334.9 512.0L335.2 512.0L335.4 512.0L335.7 512.0L336.0 512.0L336.2 511.9L336.5 511.9L336.7 511.9L337.0 511.9L337.3 511.9L337.5 511.8L337.8 511.8L338.0 511.8L338.3 511.8L338.6 511.7L338.8 511.7L339.1 511.7L339.3 511.7L339.6 511.6L339.9 511.6L340.1 511.5L340.4 511.5L340.6 511.5L340.9 511.4L341.2 511.4L341.4 511.3L341.7 511.3L341.9 511.2L342.2 511.2L342.5 511.1L342.7 511.1L343.0 511.0L343.2 510.9L343.5 510.8L343.8 510.7L344.0 510.7L344.3 510.6L344.5 510.5L344.8 510.3L345.1 510.2L345.3 510.1L345.6 510.0L345.8 509.8L346.1 509.6L346.4 509.4L346.6 509.2L346.9 508.9L347.1 508.7L347.4 508.3L347.7 507.9L347.9 507.4L348.2 506.7L348.4 505.9L348.7 504.9L349.0 503.6L349.2 502.0L349.5 500.0L349.7 497.5L350.0 494.5L350.3 490.8L350.5 486.5L350.8 481.4L351.0 475.6L351.3 469.1L351.6 461.8L351.8 453.9L352.1 445.5L352.3 436.8L352.6 428.1L352.9 419.6L353.1 411.7L353.4 404.7L353.6 399.0L353.9 394.9L354.2 392.4L354.4 391.6L354.7 392.3L354.9 394.4L355.2 397.6L355.5 401.7L355.7 406.5L356.0 412.1L356.2 418.3L356.5 425.0L356.8 432.1L357.0 439.4L357.3 446.7L357.5 453.9L357.8 460.8L358.1 467.3L358.3 473.3L358.6 478.8L358.8 483.7L359.1 488.0L359.4 491.8L359.6 495.0L359.9 497.7L360.1 500.0L360.4 501.9L360.7 503.5L360.9 504.8L361.2 505.8L361.4 506.7L361.7 507.3L362.0 507.9L362.2 508.3L362.5 508.7L362.7 509.0L363.0 509.3L363.3 509.5L363.5 509.7L363.8 509.9L364.0 510.0L364.3 510.2L364.6 510.3L364.8 510.4L365.1 510.5L365.3 510.6L365.6 510.7L365.9 510.8L366.1 510.9L366.4 511.0L366.6 511.0L366.9 511.1L367.2 511.2L367.4 511.2L367.7 511.3L367.9 511.3L368.2 511.4L368.5 511.4L368.7 511.5L369.0 511.5L369.2 511.5L369.5 511.6L369.8 511.6L370.0 511.6L370.3 511.7L370.5 511.7L370.8 511.7L371.1 511.8L371.3 511.8L371.6 511.8L371.8 511.8L372.1 511.9L372.4 511.9L372.6 511.9L372.9 511.9L373.1 511.9L373.4 512.0L373.7 512.0L373.9 512.0L374.2 512.0L374.4 512.0L374.7 512.0L375.0 512.1L375.2 512.1L375.5 512.1L375.7 512.1L376.0 512.1L376.3 512.1L376.5 512.1L376.8 512.1L377.0 512.1L377.3 512.2L377.6 512.2L377.8 512.2" fill="none" stroke="#2a2a2a" stroke-width="0.8"/><path d="M376.2 512.5L376.5 512.5L376.8 512.5L377.1 512.5L377.3 512.5L377.6 512.5L377.9 512.5L378.2 512.5L378.5 512.5L378.8 512.5L379.0 512.5L379.3 512.5L379.6 512.5L379.9 512.5L380.2 512.5L380.5 512.5L380.8 512.5L381.0 512.5L381.3 512.5L381.6 512.5L381.9 512.5L382.2 512.5L382.5 512.5L382.8 512.5L383.0 512.5L383.3 512.5L383.6 512.5L383.9 512.5L384.2 512.5L384.5 512.5L384.7 512.5L385.0 512.5L385.3 512.5L385.6 512.5L385.9 512.5L386.2 512.5L386.5 512.5L386.7 512.5L387.0 512.5L387.3 512.5L387.6 512.5L387.9 512.5L388.2 512.5L388.4 512.5L388.7 512.5L389.0 512.5L389.3 512.5L389.6 512.5L389.9 512.5L390.2 512.5L390.4 512.5L390.7 512.5L391.0 512.5L391.3 512.5L391.6 512.5L391.9 512.5L392.1 512.5L392.4 512.5L392.7 512.5L393.0 512.5L393.3 512.5L393.6 512.5L393.9 512.5L394.1 512.5L394.4 512.5L394.7 512.4L395.0 512.4L395.3 512.4L395.6 512.4L395.9 512.4L396.1 512.4L396.4 512.4L396.7 512.4L397.0 512.4L397.3 512.4L397.6 512.4L397.8 512.4L398.1 512.4L398.4 512.4L398.7 512.4L399.0 512.4L399.3 512.4L399.6 512.4L399.8 512.4L400.1 512.4L400.4 512.4L400.7 512.4L401.0 512.4L401.3 512.3L401.5 512.3L401.8 512.3L402.1 512.3L402.4 512.3L402.7 512.3L403.0 512.3L403.3 512.3L403.5 512.3L403.8 512.3L404.1 512.3L404.4 512.3L404.7 512.2L405.0 512.2L405.2 512.2L405.5 512.2L405.8 512.2L406.1 512.2L406.4 512.2L406.7 512.2L407.0 512.1L407.2 512.1L407.5 512.1L407.8 512.1L408.1 512.1L408.4 512.0L408.7 512.0L409.0 512.0L409.2 512.0L409.5 512.0L409.8 511.9L410.1 511.9L410.4 511.9L410.7 511.8L410.9 511.8L411.2 511.8L411.5 511.7L411.8 511.7L412.1 511.6L412.4 511.6L412.7 511.5L412.9 511.5L413.2 511.4L413.5 511.3L413.8 511.3L414.1 511.2L414.4 511.1L414.6 511.0L414.9 510.9L415.2 510.8L415.5 510.6L415.8 510.5L416.1 510.3L416.4 510.1L416.6 509.8L416.9 509.5L417.2 509.2L417.5 508.7L417.8 508.0L418.1 507.1L418.4 505.9L418.6 504.2L418.9 502.0L419.2 499.0L419.5 495.2L419.8 490.4L420.1 484.6L420.3 477.8L420.6 470.1L420.9 461.7L421.2 453.1L421.5 444.8L421.8 437.5L422.1 431.8L422.3 428.4L422.6 427.7L422.9 429.6L423.2 433.7L423.5 439.1L423.8 445.1L424.0 450.9L424.3 456.0L424.6 460.0L424.9 462.8L425.2 464.3L425.5 464.9L425.8 464.8L426.0 464.6L426.3 464.7L426.6 465.6L426.9 467.5L427.2 470.4L427.5 474.2L427.7 478.5L428.0 483.1L428.3 487.5L428.6 491.7L428.9 495.5L429.2 498.8L429.5 501.5L429.7 503.8L430.0 505.5L430.3 506.9L430.6 507.9L430.9 508.7L431.2 509.3L431.5 509.7L431.7 510.0L432.0 510.3L432.3 510.5L432.6 510.7L432.9 510.8L433.2 510.9L433.4 511.1L433.7 511.1L434.0 511.2L434.3 511.3L434.6 511.4L434.9 511.5L435.2 511.5L435.4 511.6L435.7 511.6L436.0 511.7L436.3 511.7L436.6 511.8L436.9 511.8L437.1 511.8L437.4 511.9L437.7 511.9L438.0 511.9L438.3 512.0L438.6 512.0L438.9 512.0L439.1 512.0L439.4 512.0L439.7 512.1L440.0 512.1L440.3 512.1L440.6 512.1L440.8 512.1L441.1 512.2L441.4 512.2L441.7 512.2L442.0 512.2L442.3 512.2L442.6 512.2L442.8 512.2L443.1 512.2L443.4 512.3L443.7 512.3L444.0 512.3L444.3 512.3L444.6 512.3L444.8 512.3L445.1 512.3L445.4 512.3L445.7 512.3L446.0 512.3L446.3 512.3L446.5 512.3L446.8 512.4L447.1 512.4L447.4 512.4" fill="none" stroke="#2a2a2a" stroke-width="0.8"/><path d="M330.4 512.2L330.4 512.2L330.5 512.2L330.8 512.2L331.0 512.2L331.3 512.2L331.5 512.2L331.8 512.2L332.1 512.2L332.3 512.2L332.6 512.2L332.8 512.1L333.1 512.1L333.4 512.1L333.6 512.1L333.9 512.1L334.1 512.1L334.4 512.1L334.7 512.1L334.9 512.1L335.2 512.0L335.4 512.0L335.7 512.0L336.0 512.0L336.2 512.0L336.5 512.0L336.7 512.0L337.0 511.9L337.3 511.9L337.5 511.9L337.8 511.9L338.0 511.9L338.3 511.8L338.6 511.8L338.8 511.8L339.1 511.8L339.3 511.7L339.6 511.7L339.9 511.7L340.1 511.7L340.4 511.6L340.6 511.6L340.9 511.6L341.2 511.5L341.4 511.5L341.7 511.5L341.9 511.4L342.2 511.4L342.5 511.3L342.7 511.3L343.0 511.2L343.2 511.2L343.5 511.1L343.8 511.1L344.0 511.0L344.3 511.0L344.5 510.9L344.8 510.8L345.1 510.7L345.3 510.6L345.6 510.6L345.8 510.5L346.1 510.4L346.4 510.2L346.6 510.1L346.9 510.0L347.1 509.9L347.4 509.7L347.7 509.5L347.9 509.4L348.2 509.2L348.4 508.9L348.7 508.7L349.0 508.4L349.2 508.0L349.5 507.6L349.7 507.1L350.0 506.5L350.3 505.8L350.5 504.8L350.8 503.7L351.0 502.2L351.3 500.3L351.6 498.0L351.8 495.1L352.1 491.6L352.3 487.4L352.6 482.4L352.9 476.5L353.1 469.8L353.4 462.2L353.6 453.8L353.9 444.7L354.2 435.0L354.4 424.9L354.7 414.8L354.9 405.0L355.2 395.8L355.5 387.8L355.7 381.2L356.0 376.4L356.2 373.5L356.5 372.6L356.8 373.4L357.0 375.8L357.3 379.5L357.5 384.2L357.8 389.9L358.1 396.3L358.3 403.4L358.6 411.1L358.8 419.3L359.1 427.8L359.4 436.3L359.6 444.6L359.9 452.6L360.1 460.1L360.4 467.1L360.7 473.4L360.9 479.1L361.2 484.1L361.4 488.4L361.7 492.2L362.0 495.3L362.2 498.0L362.5 500.2L362.7 502.1L363.0 503.5L363.3 504.7L363.5 505.7L363.8 506.5L364.0 507.1L364.3 507.7L364.6 508.1L364.8 508.5L365.1 508.8L365.3 509.0L365.6 509.2L365.9 509.4L366.1 509.6L366.4 509.8L366.6 509.9L366.9 510.1L367.2 510.2L367.4 510.3L367.7 510.4L367.9 510.5L368.2 510.6L368.5 510.7L368.7 510.8L369.0 510.9L369.2 510.9L369.5 511.0L369.8 511.1L370.0 511.1L370.3 511.2L370.5 511.2L370.8 511.3L371.1 511.3L371.3 511.4L371.6 511.4L371.8 511.5L372.1 511.5L372.4 511.5L372.6 511.6L372.9 511.6L373.1 511.6L373.4 511.7L373.7 511.7L373.9 511.7L374.2 511.7L374.4 511.8L374.7 511.8L375.0 511.8L375.2 511.8L375.5 511.9L375.7 511.9L376.0 511.9L376.3 511.9L376.5 511.9L376.8 511.9L377.0 512.0L377.3 512.0L377.6 512.0L377.8 512.0" fill="none" stroke="#b83a3a" stroke-width="0.9"/><path d="M376.2 512.5L376.5 512.5L376.8 512.5L377.1 512.5L377.3 512.5L377.6 512.5L377.9 512.5L378.2 512.5L378.5 512.5L378.8 512.5L379.0 512.5L379.3 512.5L379.6 512.5L379.9 512.5L380.2 512.5L380.5 512.5L380.8 512.5L381.0 512.5L381.3 512.5L381.6 512.5L381.9 512.5L382.2 512.5L382.5 512.5L382.8 512.5L383.0 512.5L383.3 512.5L383.6 512.5L383.9 512.5L384.2 512.5L384.5 512.5L384.7 512.5L385.0 512.5L385.3 512.5L385.6 512.5L385.9 512.5L386.2 512.5L386.5 512.5L386.7 512.5L387.0 512.5L387.3 512.5L387.6 512.5L387.9 512.5L388.2 512.5L388.4 512.5L388.7 512.5L389.0 512.5L389.3 512.5L389.6 512.5L389.9 512.5L390.2 512.5L390.4 512.5L390.7 512.5L391.0 512.5L391.3 512.5L391.6 512.5L391.9 512.5L392.1 512.5L392.4 512.5L392.7 512.5L393.0 512.5L393.3 512.5L393.6 512.5L393.9 512.5L394.1 512.5L394.4 512.5L394.7 512.5L395.0 512.5L395.3 512.5L395.6 512.5L395.9 512.5L396.1 512.5L396.4 512.4L396.7 512.4L397.0 512.4L397.3 512.4L397.6 512.4L397.8 512.4L398.1 512.4L398.4 512.4L398.7 512.4L399.0 512.4L399.3 512.4L399.6 512.4L399.8 512.4L400.1 512.4L400.4 512.4L400.7 512.4L401.0 512.4L401.3 512.4L401.5 512.4L401.8 512.4L402.1 512.4L402.4 512.4L402.7 512.4L403.0 512.3L403.3 512.3L403.5 512.3L403.8 512.3L404.1 512.3L404.4 512.3L404.7 512.3L405.0 512.3L405.2 512.3L405.5 512.3L405.8 512.3L406.1 512.3L406.4 512.2L406.7 512.2L407.0 512.2L407.2 512.2L407.5 512.2L407.8 512.2L408.1 512.2L408.4 512.1L408.7 512.1L409.0 512.1L409.2 512.1L409.5 512.1L409.8 512.1L410.1 512.0L410.4 512.0L410.7 512.0L410.9 512.0L411.2 511.9L411.5 511.9L411.8 511.9L412.1 511.8L412.4 511.8L412.7 511.8L412.9 511.7L413.2 511.7L413.5 511.6L413.8 511.6L414.1 511.5L414.4 511.5L414.6 511.4L414.9 511.3L415.2 511.2L415.5 511.2L415.8 511.1L416.1 510.9L416.4 510.8L416.6 510.7L416.9 510.5L417.2 510.4L417.5 510.2L417.8 509.9L418.1 509.6L418.4 509.3L418.6 508.8L418.9 508.1L419.2 507.2L419.5 505.9L419.8 504.2L420.1 502.0L420.3 499.0L420.6 495.2L420.9 490.4L421.2 484.7L421.5 478.1L421.8 470.6L422.1 462.7L422.3 454.6L422.6 447.0L422.9 440.4L423.2 435.5L423.5 432.9L423.8 432.9L424.0 435.3L424.3 439.5L424.6 444.8L424.9 450.5L425.2 455.8L425.5 460.4L425.8 463.9L426.0 466.2L426.3 467.4L426.6 467.7L426.9 467.6L427.2 467.4L427.5 467.6L427.7 468.7L428.0 470.7L428.3 473.7L428.6 477.4L428.9 481.6L429.2 485.8L429.5 490.0L429.7 493.8L430.0 497.3L430.3 500.3L430.6 502.7L430.9 504.7L431.2 506.3L431.5 507.5L431.7 508.4L432.0 509.1L432.3 509.6L432.6 510.0L432.9 510.3L433.2 510.5L433.4 510.7L433.7 510.8L434.0 511.0L434.3 511.1L434.6 511.2L434.9 511.3L435.2 511.3L435.4 511.4L435.7 511.5L436.0 511.5L436.3 511.6L436.6 511.6L436.9 511.7L437.1 511.7L437.4 511.8L437.7 511.8L438.0 511.9L438.3 511.9L438.6 511.9L438.9 511.9L439.1 512.0L439.4 512.0L439.7 512.0L440.0 512.0L440.3 512.1L440.6 512.1L440.8 512.1L441.1 512.1L441.4 512.1L441.7 512.2L442.0 512.2L442.3 512.2L442.6 512.2L442.8 512.2L443.1 512.2L443.4 512.2L443.7 512.2L444.0 512.3L444.3 512.3L444.6 512.3L444.8 512.3L445.1 512.3L445.4 512.3L445.7 512.3L446.0 512.3L446.3 512.3L446.5 512.3L446.8 512.3L447.1 512.3L447.4 512.4" fill="none" stroke="#b83a3a" stroke-width="0.9"/><path d="M456.5 439.7L457.1 451.5L457.8 436.1L458.4 447.8L459.1 446.1L459.7 449.8L460.4 435.9L461.0 444.1L461.7 436.8L462.3 443.8L463.0 451.7L463.6 475.6L464.2 445.9L464.9 452.8L465.5 446.8L466.2 457.1L466.8 450.4L467.5 456.3L468.1 449.4L468.8 470.1L469.4 459.8L470.1 428.9L470.7 449.1L471.4 446.9L472.0 424.0L472.6 437.5L473.3 441.6L473.9 438.9L474.6 447.7L475.2 428.4L475.9 454.0L476.5 454.3L477.2 450.1L477.8 443.3L478.5 446.7L479.1 442.0L479.7 458.3L480.4 451.9L481.0 466.9L481.7 443.2L482.3 461.5L483.0 441.2L483.6 445.3L484.3 436.6L484.9 452.4L485.6 446.6L486.2 453.5L486.8 462.3L487.5 446.8L488.1 451.2L488.8 456.5L489.4 446.9L490.1 442.0L490.7 451.2L491.4 452.7L492.0 455.5L492.7 456.1L493.3 441.1L494.0 452.3L494.6 460.2L495.2 443.3L495.9 451.6L496.5 441.8L497.2 449.7L497.8 465.5L498.5 449.9L499.1 438.5L499.8 451.7L500.4 450.5L501.1 459.5L501.7 434.6L502.3 439.2L503.0 447.7L503.6 432.9L504.3 460.0L504.9 428.3L505.6 440.3L506.2 433.9L506.9 442.1L507.5 456.7L508.2 454.5L508.8 457.1L509.3 448.9L509.4 425.2L509.5 438.1L509.7 431.2L509.9 434.3L510.1 439.2L510.1 438.0L510.7 453.2L511.4 440.7L512.0 466.4L512.7 455.1L513.3 461.0L514.0 456.9L514.6 458.3L515.3 449.0L515.9 469.1L516.6 438.9L517.2 454.2L517.8 449.6L518.5 447.4L519.1 452.9L519.8 442.2L520.4 458.5L521.1 457.7L521.7 450.9L522.4 457.3L523.0 439.6L523.7 431.9L524.3 444.3L524.9 447.8L525.6 475.2L526.2 447.9L526.9 460.6L527.5 458.8L528.2 471.5L528.8 451.6L529.5 457.0L530.1 448.6L530.8 441.9L531.4 440.5L532.0 442.8L532.7 465.0L533.3 453.6L534.0 449.3L534.6 451.0L535.3 445.2L535.9 450.6L536.6 450.6L537.2 457.6L537.9 460.2L538.5 434.8L539.1 453.5L539.8 465.0L540.4 441.1L541.1 448.8L541.7 453.1L542.4 462.5L543.0 457.5L543.7 449.3L544.3 456.6L545.0 462.0L545.6 455.6L546.3 470.3L546.9 456.0L547.5 441.3L548.2 444.0L548.8 450.6L549.5 449.9L550.1 458.2L550.8 455.6L551.4 469.3L552.1 460.3L552.7 467.1L553.4 444.6L554.0 448.0L554.6 459.2L555.3 453.3L555.9 458.7L556.6 455.0L557.2 446.3L557.9 469.7L558.5 464.1L559.2 437.2L559.8 446.6L560.5 453.0L561.1 459.7L561.7 452.2L562.4 439.3L563.0 461.3L563.7 451.0L564.3 465.1L565.0 456.2L565.6 463.2L566.3 461.6L566.9 462.1L567.6 448.3L568.2 463.7L568.9 455.5L569.5 441.0L570.1 449.6L570.8 450.2L571.4 458.4L572.1 460.6L572.7 442.6L573.4 461.1L574.0 453.2L574.7 443.4L575.3 462.3L576.0 446.4L576.6 442.2L577.2 461.7L577.9 463.2L578.5 447.6L579.2 464.8L579.8 464.3L580.5 449.2L581.1 474.4L581.8 453.9L582.4 456.8L583.1 430.7L583.7 461.0L584.3 448.5L585.0 459.1L585.6 437.7L586.3 466.4L586.9 469.4L587.6 473.8L588.2 425.5L588.9 460.9L589.5 458.5L590.2 425.0L590.8 447.9L591.5 454.4L592.1 469.5L592.7 447.0L593.4 457.4L594.0 454.9L594.7 459.1L595.3 451.6L596.0 464.5L596.6 465.3L597.3 442.1L597.9 466.9L598.6 448.3L599.2 453.1L599.8 467.1L600.5 456.9L601.1 461.7L601.8 463.9L602.4 462.1L603.1 450.7L603.7 446.7L604.4 463.0L605.0 463.8L605.7 459.8L606.3 454.4L606.9 464.9L607.6 456.1L608.2 442.7L608.9 459.2L609.5 461.4L610.2 464.1L610.8 447.4L611.5 448.7L612.1 459.4L612.8 451.3L613.4 454.5L614.1 463.3L614.7 455.1L615.0 466.7L615.3 449.2L616.0 449.3L616.0 445.7L616.6 441.1L616.8 436.9L617.3 438.8L617.5 447.0L617.9 441.0L618.5 445.4L618.6 452.6L619.2 457.4L619.9 441.6L620.5 459.0L621.2 453.8L621.8 456.9L622.4 459.2L623.1 455.7L623.7 468.4L624.4 462.7L625.0 456.1L625.7 458.8L626.3 468.5L627.0 466.1L627.6 470.9L628.3 457.0L628.9 459.9L629.5 478.6L630.2 458.3L630.8 475.4L631.5 467.2L632.1 454.6" fill="none" stroke="#1a1a1a" stroke-width="1.1" stroke-linejoin="bevel"/><path d="M456.5 429.1L457.1 449.3L457.8 436.1L458.4 436.1L459.1 426.0L459.7 455.0L460.4 444.3L461.0 443.6L461.7 447.3L462.3 445.9L463.0 444.4L463.6 448.7L464.2 440.9L464.9 418.0L465.5 451.0L466.2 448.0L466.8 444.0L467.5 459.6L468.1 430.0L468.8 415.2L469.4 458.8L470.1 448.2L470.7 427.8L471.4 440.1L472.0 450.3L472.6 432.2L473.3 449.8L473.9 465.4L474.6 458.2L475.2 444.1L475.9 447.7L476.5 435.1L477.2 445.9L477.8 441.3L478.5 434.8L479.1 431.4L479.7 463.9L480.4 445.7L481.0 434.7L481.7 440.7L482.3 459.7L483.0 461.1L483.6 438.9L484.3 447.0L484.9 454.0L485.6 441.7L486.2 433.6L486.8 435.6L487.5 445.4L488.1 437.7L488.8 432.5L489.4 443.1L490.1 454.8L490.7 452.3L491.4 443.3L492.0 464.6L492.7 437.9L493.3 445.0L494.0 432.2L494.6 453.5L495.2 444.6L495.9 429.2L496.5 437.7L497.2 463.8L497.8 453.2L498.5 447.2L499.1 454.7L499.8 430.3L500.4 438.0L501.1 433.1L501.7 438.1L502.3 442.5L503.0 451.6L503.6 456.4L504.3 456.1L504.9 473.1L505.6 441.5L506.2 446.2L506.9 451.4L507.5 437.9L508.2 442.7L508.8 447.2L509.3 419.8L509.4 415.2L509.5 412.8L509.7 396.4L509.9 396.2L510.1 428.1L510.1 418.4L510.7 446.2L511.4 441.5L512.0 449.5L512.7 458.0L513.3 455.0L514.0 443.4L514.6 435.5L515.3 422.5L515.9 425.6L516.6 439.3L517.2 448.2L517.8 440.6L518.5 441.4L519.1 431.5L519.8 431.0L520.4 430.3L521.1 453.6L521.7 427.8L522.4 454.2L523.0 438.5L523.7 452.8L524.3 449.9L524.9 455.0L525.6 459.3L526.2 439.8L526.9 437.9L527.5 443.2L528.2 439.9L528.8 454.2L529.5 446.5L530.1 447.7L530.8 451.8L531.4 443.0L532.0 458.7L532.7 429.5L533.3 450.1L534.0 452.8L534.6 440.2L535.3 441.0L535.9 456.9L536.6 444.8L537.2 428.9L537.9 434.6L538.5 458.1L539.1 439.4L539.8 461.2L540.4 461.8L541.1 446.3L541.7 453.7L542.4 440.1L543.0 444.4L543.7 441.5L544.3 454.3L545.0 435.8L545.6 447.3L546.3 449.1L546.9 453.8L547.5 427.6L548.2 430.9L548.8 440.0L549.5 446.6L550.1 450.2L550.8 450.8L551.4 469.0L552.1 455.5L552.7 454.9L553.4 444.2L554.0 456.9L554.6 456.0L555.3 455.9L555.9 448.1L556.6 455.5L557.2 464.5L557.9 441.4L558.5 427.9L559.2 457.6L559.8 456.8L560.5 447.2L561.1 445.2L561.7 477.0L562.4 445.1L563.0 437.6L563.7 445.0L564.3 454.8L565.0 443.8L565.6 446.0L566.3 453.0L566.9 445.7L567.6 451.3L568.2 449.7L568.9 439.6L569.5 450.9L570.1 438.7L570.8 459.5L571.4 441.0L572.1 448.0L572.7 432.3L573.4 446.0L574.0 438.1L574.7 465.3L575.3 449.4L576.0 455.8L576.6 433.3L577.2 438.4L577.9 449.1L578.5 437.3L579.2 462.2L579.8 446.9L580.5 452.4L581.1 454.0L581.8 449.5L582.4 458.7L583.1 444.4L583.7 454.8L584.3 463.0L585.0 453.3L585.6 452.5L586.3 448.0L586.9 451.9L587.6 458.1L588.2 449.0L588.9 434.9L589.5 453.2L590.2 450.1L590.8 456.3L591.5 452.1L592.1 467.3L592.7 439.9L593.4 442.2L594.0 458.3L594.7 441.7L595.3 455.1L596.0 451.8L596.6 432.6L597.3 458.6L597.9 465.6L598.6 454.2L599.2 438.4L599.8 460.0L600.5 442.0L601.1 451.1L601.8 456.4L602.4 444.7L603.1 435.7L603.7 451.0L604.4 452.0L605.0 444.0L605.7 444.8L606.3 459.7L606.9 451.6L607.6 447.9L608.2 446.6L608.9 454.1L609.5 453.3L610.2 450.6L610.8 438.6L611.5 448.4L612.1 445.6L612.8 452.0L613.4 461.7L614.1 457.7L614.7 450.6L615.0 442.7L615.3 435.0L616.0 431.0L616.0 426.8L616.6 423.4L616.8 422.5L617.3 426.6L617.5 428.8L617.9 448.4L618.5 447.1L618.6 439.0L619.2 455.2L619.9 445.7L620.5 461.5L621.2 459.9L621.8 480.9L622.4 442.4L623.1 452.5L623.7 452.2L624.4 456.4L625.0 460.6L625.7 444.3L626.3 446.8L627.0 456.9L627.6 463.4L628.3 443.2L628.9 439.1L629.5 465.3L630.2 462.5L630.8 464.9L631.5 445.0L632.1 452.5" fill="none" stroke="#fa0c0c" stroke-width="1.2" stroke-linejoin="bevel"/><path d="M18.4 660.0L18.6 660.1L18.7 659.9L18.9 659.7L19.1 659.5L19.3 659.9L19.4 659.7L19.6 659.8L19.8 659.6L20.0 660.4L20.1 660.1L20.3 660.6L20.5 659.8L20.7 660.0L20.8 659.9L21.0 659.9L21.2 659.8L21.3 659.9L21.5 659.2L21.7 659.8L21.9 660.2L22.0 659.2L22.2 659.8L22.4 660.1L22.6 660.3L22.7 659.9L22.9 660.0L23.1 660.5L23.2 660.3L23.4 659.7L23.6 659.6L23.8 660.2L23.9 659.9L24.1 659.6L24.3 659.7L24.5 659.9L24.6 659.7L24.8 659.7L25.0 659.7L25.2 659.2L25.3 660.3L25.5 660.1L25.7 660.2L25.8 659.6L26.0 659.7L26.2 659.8L26.4 659.8L26.5 658.9L26.7 659.6L26.9 659.1L27.1 659.4L27.2 659.1L27.4 659.9L27.6 659.4L27.7 659.2L27.9 659.6L28.1 659.0L28.3 658.6L28.4 658.7L28.6 658.5L28.8 658.5L29.0 658.6L29.1 658.1L29.3 657.8L29.5 657.9L29.7 657.3L29.8 657.1L30.0 656.2L30.2 654.8L30.3 653.6L30.5 651.5L30.7 649.3L30.9 644.0L31.0 636.3L31.2 626.0L31.4 614.1L31.6 601.0L31.7 591.0L31.9 586.8L32.1 589.1L32.3 595.4L32.4 600.6L32.6 607.6L32.8 616.3L32.9 624.4L33.1 634.0L33.3 641.1L33.5 646.5L33.6 650.5L33.8 652.6L34.0 653.9L34.2 656.4L34.3 656.4L34.5 657.3L34.7 657.8L34.8 657.9L35.0 658.2L35.2 658.5L35.4 659.0L35.5 658.7L35.7 659.1L35.9 658.7L36.1 658.8L36.2 659.0L36.4 659.2L36.6 659.3L36.8 659.9L36.9 659.5L37.1 659.3L37.3 660.0L37.4 659.5L37.6 659.5L37.8 659.6L38.0 659.3L38.1 659.1L38.3 659.5L38.5 659.4L38.7 659.2L38.8 659.6L39.0 659.5L39.2 659.4L39.4 658.9L39.5 659.5L39.7 660.2L39.9 659.9L40.0 659.9L40.2 659.5L40.4 659.9L40.6 659.3L40.7 659.3L40.9 659.7L41.1 659.0L41.3 659.4L41.4 659.5L41.6 659.9L41.8 659.0L41.9 659.3L42.1 658.9L42.3 658.8L42.5 657.8L42.6 658.1L42.8 658.4L43.0 657.5L43.2 656.3L43.3 655.6L43.5 653.2L43.7 650.8L43.9 649.7L44.0 649.1L44.2 649.9L44.4 649.6L44.5 650.7L44.7 651.4L44.9 651.3L45.1 652.0L45.2 651.2L45.4 651.0L45.6 648.2L45.8 645.9L45.9 642.9L46.1 638.9L46.3 636.7L46.4 636.8L46.6 639.0L46.8 640.4L47.0 642.4L47.1 644.0L47.3 646.6L47.5 649.3L47.7 652.2L47.8 654.1L48.0 656.3L48.2 657.3L48.4 657.8L48.5 658.1L48.7 657.6L48.9 658.7L49.0 659.1L49.2 659.4L49.4 658.2L49.6 658.5L49.7 659.5L49.9 659.1L50.1 659.4L50.3 659.4L50.4 659.8L50.6 659.0L50.8 659.5L51.0 660.0L51.1 659.8L51.3 659.5L51.5 659.9L51.6 659.9L51.8 659.5L52.0 660.1L52.2 660.1L52.3 659.8L52.5 660.2L52.7 659.5L52.9 660.1L53.0 659.8L53.2 659.6L53.4 659.7L53.5 660.3L53.7 659.7L53.9 659.8L54.1 659.7L54.2 659.7L54.4 660.3L54.6 660.7L54.8 660.4L54.9 660.1L55.1 660.2L55.3 659.8L55.5 659.8L55.6 659.6L55.8 660.5L56.0 659.9L56.1 659.7L56.3 659.8L56.5 660.0L56.7 659.8L56.8 660.0L57.0 660.0L57.2 660.5L57.4 659.6L57.5 660.1L57.7 659.8L57.9 659.9L58.0 660.6L58.2 660.2L58.4 659.9L58.6 660.2L58.7 660.0L58.9 660.4L59.1 659.8L59.3 660.2L59.4 659.9L59.6 660.0L59.8 660.0L60.0 659.8L60.1 660.1L60.3 660.4L60.5 659.8L60.6 659.9L60.8 660.2L61.0 659.8L61.2 660.3L61.3 660.3L61.5 659.2L61.7 659.8L61.9 659.7L62.0 660.3L62.2 660.4L62.4 659.6L62.6 659.8L62.7 660.0L62.9 659.9L63.1 660.3L63.2 660.4L63.4 660.2L63.6 660.4L63.8 660.4L63.9 660.0L64.1 659.9L64.3 659.8L64.5 660.3L64.6 660.3L64.8 660.4L65.0 659.9L65.1 659.9L65.3 660.1L65.5 660.5L65.7 660.2L65.8 660.1L66.0 659.8L66.2 660.2L66.4 660.2L66.5 659.7L66.7 660.6L66.9 659.7L67.1 660.4L67.2 660.0L67.4 660.1L67.6 659.8L67.7 659.8L67.9 660.3L68.1 660.0L68.3 659.9L68.4 660.3L68.6 660.3L68.8 660.1L69.0 660.1L69.1 660.6L69.3 660.0L69.5 660.2L69.7 660.2L69.8 659.6L70.0 659.4L70.2 660.1L70.3 660.3L70.5 660.1L70.7 659.9L70.9 659.8L71.0 660.3L71.2 659.9L71.4 659.5L71.6 660.3L71.7 660.1L71.9 660.2L72.1 660.4L72.2 660.5L72.4 660.2L72.6 660.0L72.8 659.3L72.9 660.1L73.1 660.0L73.3 660.5L73.5 660.5L73.6 660.2L73.8 660.5L74.0 660.0L74.2 660.0L74.3 659.7L74.5 659.9L74.7 660.1L74.8 660.4L75.0 659.8L75.2 660.3L75.4 660.8L75.5 659.6L75.7 659.9L75.9 660.0L76.1 660.4L76.2 660.7L76.4 660.4L76.6 660.0L76.7 659.7L76.9 660.0L77.1 660.0L77.3 660.1L77.4 659.7L77.6 660.5L77.8 659.8L78.0 660.3L78.1 660.1L78.3 659.6L78.5 660.0L78.7 660.0L78.8 659.9L79.0 660.3L79.2 659.8L79.3 660.9L79.5 660.4L79.7 659.7L79.9 659.1L80.0 660.4L80.2 660.1L80.4 660.0L80.6 659.7L80.7 659.5L80.9 659.4L81.1 660.9L81.3 660.5L81.4 659.8L81.6 660.6L81.8 659.3L81.9 660.2L82.1 660.2L82.3 659.7L82.5 659.8L82.6 659.6L82.8 660.0L83.0 660.4L83.2 660.3L83.3 660.1L83.5 660.3L83.7 659.3L83.8 660.7L84.0 659.9L84.2 659.5L84.4 659.8L84.5 659.7L84.7 660.0L84.9 660.0L85.1 659.1L85.2 660.4L85.4 660.5L85.6 659.6L85.8 660.4L85.9 660.4L86.1 660.3L86.3 660.5L86.4 659.4L86.6 660.1L86.8 659.5L87.0 660.7L87.1 659.5L87.3 659.4L87.5 660.3L87.7 660.1L87.8 659.9L88.0 659.9L88.2 660.1L88.3 660.4L88.5 659.6L88.7 659.6L88.9 659.6L89.0 659.8L89.2 659.8L89.4 659.3L89.6 659.9L89.7 659.3L89.9 659.6L90.1 659.7L90.3 659.6L90.4 660.2L90.6 660.3L90.8 660.1L90.9 660.2L91.1 659.5L91.3 660.1L91.5 659.6L91.6 659.7L91.8 659.7L92.0 659.1L92.2 659.3L92.3 659.4L92.5 659.6L92.7 659.4L92.9 659.1L93.0 659.0L93.2 659.3L93.4 658.9L93.5 658.8L93.7 659.2L93.9 659.2L94.1 658.8L94.2 658.4L94.4 659.0L94.6 659.2L94.8 658.6L94.9 658.6L95.1 657.8L95.3 658.8L95.4 658.0L95.6 658.4L95.8 657.8L96.0 657.8L96.1 657.6L96.3 656.7L96.5 658.0L96.7 656.2L96.8 656.4L97.0 655.6L97.2 655.2L97.4 655.1L97.5 653.1L97.7 652.5L97.9 651.1L98.0 648.6L98.2 644.9L98.4 638.3L98.6 628.3L98.7 614.2L98.9 595.2L99.1 572.3L99.3 548.1L99.4 530.8L99.6 525.3L99.8 532.6L100.0 544.8L100.1 555.1L100.3 563.8L100.5 570.8L100.6 581.9L100.8 597.0L101.0 610.6L101.2 624.1L101.3 634.4L101.5 641.8L101.7 646.7L101.9 649.8L102.0 652.8L102.2 652.8L102.4 654.1L102.5 655.8L102.7 656.0L102.9 656.1L103.1 656.4L103.2 657.0L103.4 658.3L103.6 657.8L103.8 657.5L103.9 658.1L104.1 658.0L104.3 658.9L104.5 658.6L104.6 659.0L104.8 658.8L105.0 659.5L105.1 659.0L105.3 659.1L105.5 658.7L105.7 658.9L105.8 659.3L106.0 659.0L106.2 660.1L106.4 659.3L106.5 659.1L106.7 659.7L106.9 659.2L107.0 659.6L107.2 659.4L107.4 659.2L107.6 660.0L107.7 659.6L107.9 660.0L108.1 659.5L108.3 659.1L108.4 659.2L108.6 659.5L108.8 659.6L109.0 659.7L109.1 659.9L109.3 659.3L109.5 659.8L109.6 659.3L109.8 659.5L110.0 660.7L110.2 660.2L110.3 659.7L110.5 660.4L110.7 660.3L110.9 660.1L111.0 660.3L111.2 659.7L111.4 659.8L111.6 659.5L111.7 660.1L111.9 659.4L112.1 659.7L112.2 660.0L112.4 659.7L112.6 660.0L112.8 660.5L112.9 659.5L113.1 660.4L113.3 659.7L113.5 659.6L113.6 660.0L113.8 660.3L114.0 659.7L114.1 659.7L114.3 659.8L114.5 659.7L114.7 660.0L114.8 659.7L115.0 659.8L115.2 660.1L115.4 659.8L115.5 660.3L115.7 659.7L115.9 659.7L116.1 660.7L116.2 660.5L116.4 660.0L116.6 660.3L116.7 660.1L116.9 659.8L117.1 660.2L117.3 660.1L117.4 660.4L117.6 659.3L117.8 660.3L118.0 660.0L118.1 659.7L118.3 659.8L118.5 659.8L118.6 659.5L118.8 659.8L119.0 660.3L119.2 659.5L119.3 659.9L119.5 659.2L119.7 659.8L119.9 660.1L120.0 660.0L120.2 660.0L120.4 659.6L120.6 660.2L120.7 659.7L120.9 660.3L121.1 660.1L121.2 659.9L121.4 660.5L121.6 659.9L121.8 660.4L121.9 660.0L122.1 660.0L122.3 660.3L122.5 660.2L122.6 660.0L122.8 660.0L123.0 660.1L123.2 660.0L123.3 659.9L123.5 659.6L123.7 659.1L123.8 660.0L124.0 659.9L124.2 660.4L124.4 660.2L124.5 660.4L124.7 660.6L124.9 660.0L125.1 659.7L125.2 660.3L125.4 659.8L125.6 659.9L125.7 660.5L125.9 660.2L126.1 660.4L126.3 659.5L126.4 660.0L126.6 660.4L126.8 659.5L127.0 660.0L127.1 660.1L127.3 659.2L127.5 660.5L127.7 659.7L127.8 659.9L128.0 660.5L128.2 659.3L128.3 660.1L128.5 659.8L128.7 660.0L128.9 659.6L129.0 660.4L129.2 659.5L129.4 660.0L129.6 660.1L129.7 659.9L129.9 659.8L130.1 659.8L130.3 660.2L130.4 660.0L130.6 659.8L130.8 659.4L130.9 659.8L131.1 660.0L131.3 659.7L131.5 660.2L131.6 659.0L131.8 660.5L132.0 659.5L132.2 659.1L132.3 658.9L132.5 659.7L132.7 659.5L132.8 659.1L133.0 659.0L133.2 658.9L133.4 658.4L133.5 658.5L133.7 657.6L133.9 656.1L134.1 653.8L134.2 652.4L134.4 648.5L134.6 644.7L134.8 642.3L134.9 640.3L135.1 639.9L135.3 641.9L135.4 644.3L135.6 645.5L135.8 646.7L136.0 648.3L136.1 649.7L136.3 650.5L136.5 652.9L136.7 654.9L136.8 656.1L137.0 656.7L137.2 658.4L137.3 658.5L137.5 659.0L137.7 659.3L137.9 659.0L138.0 659.9L138.2 659.5L138.4 659.6L138.6 659.4L138.7 659.9L138.9 660.0L139.1 659.5L139.3 659.9L139.4 659.6L139.6 659.4L139.8 659.7L139.9 660.1L140.1 660.0L140.3 660.2L140.5 659.6L140.6 659.8L140.8 659.9L141.0 660.1L141.2 659.9L141.3 659.6L141.5 659.4L141.7 660.4L141.9 660.3L142.0 659.7L142.2 660.5L142.4 660.0L142.5 660.1L142.7 660.4L142.9 659.8L143.1 659.7L143.2 659.4L143.4 660.1L143.6 660.2L143.8 660.3L143.9 660.2L144.1 660.1L144.3 660.4L144.4 659.7L144.6 660.2L144.8 660.2L145.0 660.0L145.1 660.6L145.3 660.2L145.5 660.5L145.7 660.4L145.8 660.0L146.0 660.7L146.2 660.4L146.4 660.1L146.5 660.0L146.7 659.7L146.9 660.0L147.0 660.0L147.2 660.1L147.4 659.9L147.6 660.3L147.7 660.0L147.9 659.5L148.1 659.9L148.3 659.7L148.4 659.6L148.6 660.0L148.8 660.4L148.9 659.7L149.1 659.4L149.3 660.0L149.5 661.1L149.6 659.9L149.8 660.2L150.0 659.9L150.2 660.4L150.3 660.6L150.5 660.0L150.7 660.5L150.9 659.7L151.0 660.1L151.2 659.6L151.4 660.1L151.5 659.9L151.7 660.2L151.9 659.7L152.1 660.2L152.2 660.1L152.4 659.9L152.6 659.8L152.8 659.7L152.9 659.9L153.1 660.2L153.3 660.0L153.5 660.1L153.6 660.5L153.8 660.0L154.0 660.2L154.1 660.4L154.3 660.3L154.5 660.2L154.7 660.1L154.8 660.8L155.0 660.1L155.2 659.9L155.4 660.3L155.5 660.7L155.7 660.6L155.9 660.1L156.0 660.4L156.2 660.3L156.4 660.1L156.6 660.3L156.7 660.3L156.9 660.1L157.1 660.7L157.3 660.0L157.4 660.6L157.6 660.8L157.8 660.8L158.0 660.2L158.1 660.0L158.3 659.5L158.5 660.1L158.6 660.9L158.8 659.5L159.0 659.5L159.2 660.4L159.3 660.3L159.5 659.4L159.7 660.1L159.9 660.2L160.0 659.6L160.2 660.4L160.4 659.6L160.6 660.5L160.7 660.2L160.9 659.8L161.1 659.5L161.2 660.0L161.4 660.1L161.6 660.0L161.8 659.9L161.9 660.0L162.1 660.4L162.3 659.8L162.5 660.0L162.6 660.3L162.8 660.1L163.0 660.4L163.1 660.6L163.3 660.0L163.5 660.2L163.7 659.1L163.8 660.0L164.0 660.3L164.2 659.7L164.4 660.6L164.5 659.4L164.7 660.6L164.9 659.9L165.1 659.7L165.2 659.9L165.4 660.0L165.6 659.7L165.7 659.6L165.9 659.9L166.1 660.4L166.3 660.2L166.4 660.6L166.6 659.9L166.8 660.0L167.0 660.0L167.1 660.1L167.3 660.3L167.5 660.7L167.6 660.3L167.8 660.1L168.0 660.6L168.2 659.8L168.3 659.6L168.5 660.3L168.7 660.1L168.9 660.1L169.0 660.4L169.2 660.0L169.4 660.1L169.6 660.2L169.7 660.3L169.9 660.4L170.1 660.1L170.2 660.2L170.4 659.2L170.6 660.5L170.8 659.5L170.9 660.1L171.1 661.0L171.3 660.0L171.5 659.5L171.6 660.7L171.8 659.9L172.0 660.0L172.2 660.0L172.3 660.3L172.5 660.4L172.7 660.0L172.8 660.5L173.0 659.8L173.2 660.3L173.4 659.9L173.5 660.3L173.7 659.9L173.9 659.9L174.1 660.6L174.2 659.7L174.4 659.7L174.6 660.3L174.7 660.0L174.9 659.9L175.1 660.0L175.3 660.8L175.4 659.7L175.6 660.0L175.8 660.1L176.0 659.8L176.1 660.1L176.3 660.3L176.5 659.8L176.7 660.5L176.8 659.7L177.0 660.0L177.2 660.2L177.3 661.2L177.5 659.5L177.7 660.2L177.9 661.0L178.0 659.9L178.2 660.5L178.4 660.2L178.6 659.6L178.7 660.2L178.9 659.8L179.1 660.1L179.2 659.6L179.4 660.3L179.6 659.2L179.8 660.0L179.9 660.5L180.1 660.3L180.3 660.0L180.5 660.0L180.6 659.9L180.8 661.0L181.0 660.1L181.2 660.1L181.3 659.8L181.5 659.9L181.7 660.3L181.8 659.9L182.0 659.8L182.2 659.9L182.4 660.0L182.5 660.1L182.7 659.9L182.9 660.0L183.1 659.8L183.2 660.5L183.4 660.1L183.6 660.0L183.8 660.2L183.9 660.1L184.1 659.5L184.3 660.0L184.4 660.7L184.6 660.3L184.8 660.5L185.0 659.9L185.1 659.6L185.3 659.8L185.5 660.6L185.7 659.7L185.8 659.8L186.0 660.5L186.2 660.0L186.3 660.0L186.5 660.2L186.7 660.1L186.9 660.0L187.0 660.2L187.2 659.8L187.4 660.1L187.6 660.3L187.7 659.7L187.9 660.0L188.1 659.7L188.3 660.3L188.4 660.3L188.6 660.4L188.8 660.4L188.9 660.4L189.1 660.3L189.3 659.8L189.5 660.4L189.6 659.8L189.8 660.9L190.0 660.2L190.2 660.3L190.3 659.7L190.5 660.5L190.7 660.5L190.9 659.5L191.0 659.9L191.2 659.9L191.4 659.9L191.5 660.6L191.7 660.8L191.9 659.7L192.1 660.5L192.2 660.0L192.4 660.6L192.6 659.2L192.8 659.9L192.9 660.5L193.1 659.8L193.3 660.5L193.4 659.9L193.6 660.5L193.8 660.3L194.0 659.9L194.1 659.8L194.3 660.0L194.5 660.5L194.7 660.1L194.8 659.9L195.0 661.2L195.2 659.5L195.4 660.0L195.5 660.3L195.7 659.7L195.9 660.1L196.0 659.9L196.2 659.6L196.4 660.2L196.6 659.7L196.7 659.8L196.9 660.5L197.1 659.7L197.3 660.3L197.4 660.5L197.6 660.4L197.8 660.2L197.9 660.0L198.1 659.6L198.3 660.1L198.5 660.2L198.6 659.9L198.8 659.7L199.0 660.4L199.2 659.7L199.3 660.2L199.5 659.9L199.7 659.5L199.9 660.6L200.0 660.3L200.2 660.3L200.4 659.6L200.5 660.0L200.7 660.2L200.9 659.8L201.1 660.7L201.2 659.4L201.4 660.3L201.6 659.4L201.8 659.5L201.9 659.6L202.1 660.3L202.3 659.8L202.5 659.8L202.6 659.8L202.8 659.6L203.0 659.8L203.1 659.7L203.3 660.0L203.5 659.9L203.7 659.2L203.8 659.8L204.0 660.5L204.2 659.9L204.4 660.0L204.5 659.8L204.7 659.8L204.9 660.0L205.0 659.6L205.2 660.0L205.4 659.5L205.6 660.2L205.7 659.5L205.9 660.3L206.1 660.4L206.3 659.5L206.4 660.3L206.6 659.9L206.8 660.5L207.0 659.9L207.1 659.9L207.3 659.9L207.5 660.5L207.6 659.4L207.8 660.3L208.0 660.1L208.2 659.9L208.3 660.0L208.5 660.4L208.7 660.3L208.9 660.6L209.0 659.8L209.2 659.4L209.4 659.8L209.5 660.0L209.7 659.9L209.9 660.5L210.1 660.8L210.2 660.2L210.4 659.4L210.6 660.4L210.8 659.8L210.9 660.0L211.1 660.3L211.3 660.1L211.5 660.0L211.6 660.1L211.8 660.3L212.0 660.2L212.1 660.7L212.3 659.0L212.5 659.7L212.7 659.8L212.8 660.3L213.0 660.1L213.2 660.3L213.4 659.5L213.5 659.9L213.7 660.2L213.9 660.0L214.1 659.9L214.2 660.1L214.4 660.6L214.6 659.2L214.7 660.5L214.9 660.1L215.1 659.7L215.3 660.2L215.4 660.0L215.6 660.4L215.8 659.7L216.0 660.3L216.1 659.6L216.3 660.1L216.5 660.2L216.6 659.9L216.8 660.1L217.0 659.7L217.2 660.3L217.3 659.7L217.5 659.6L217.7 659.8L217.9 659.8L218.0 659.6L218.2 660.1L218.4 659.8L218.6 660.0L218.7 659.2L218.9 659.3L219.1 659.6L219.2 659.3L219.4 659.6L219.6 659.8L219.8 659.9L219.9 660.0L220.1 659.7L220.3 659.1L220.5 659.4L220.6 658.9L220.8 659.1L221.0 658.2L221.2 658.6L221.3 657.6L221.5 656.2L221.7 654.1L221.8 652.2L222.0 648.8L222.2 645.6L222.4 642.2L222.5 640.9L222.7 642.1L222.9 644.8L223.1 646.3L223.2 648.6L223.4 649.7L223.6 649.5L223.7 649.0L223.9 650.0L224.1 650.0L224.3 652.1L224.4 653.7L224.6 655.5L224.8 656.1L225.0 658.1L225.1 658.3L225.3 658.5L225.5 659.6L225.7 659.1L225.8 659.1L226.0 659.1L226.2 659.9L226.3 659.6L226.5 659.5L226.7 659.2L226.9 659.4L227.0 659.8L227.2 659.7L227.4 659.1L227.6 659.5L227.7 659.9L227.9 660.8L228.1 659.6L228.2 659.1L228.4 660.1L228.6 659.7L228.8 659.4L228.9 660.1L229.1 659.8L229.3 659.6L229.5 659.5L229.6 659.9L229.8 660.0L230.0 659.3L230.2 660.3L230.3 659.5L230.5 660.5L230.7 660.1L230.8 659.9L231.0 660.1L231.2 659.8L231.4 660.0L231.5 660.6L231.7 659.8L231.9 660.3L232.1 659.7L232.2 660.0L232.4 660.3L232.6 659.6L232.8 660.1L232.9 659.2L233.1 659.6L233.3 659.9L233.4 660.3L233.6 660.3L233.8 659.7L234.0 660.0L234.1 660.1L234.3 659.5L234.5 660.2L234.7 660.5L234.8 660.5L235.0 659.8L235.2 659.9L235.3 659.7L235.5 659.8L235.7 659.9L235.9 660.3L236.0 660.1L236.2 659.7L236.4 660.3L236.6 660.3L236.7 659.8L236.9 659.9L237.1 660.0L237.3 659.5L237.4 660.1L237.6 660.3L237.8 660.7L237.9 660.1L238.1 659.9L238.3 660.0L238.5 660.2L238.6 660.3L238.8 659.7L239.0 660.1L239.2 660.3L239.3 659.3L239.5 660.5L239.7 660.0L239.8 660.3L240.0 660.0L240.2 659.9L240.4 660.0L240.5 660.1L240.7 660.3L240.9 659.9L241.1 659.6L241.2 659.8L241.4 659.7L241.6 660.3L241.8 659.7L241.9 660.6L242.1 660.1L242.3 660.0L242.4 660.5L242.6 659.9L242.8 659.9L243.0 660.3L243.1 660.3L243.3 659.7L243.5 660.9L243.7 660.2L243.8 659.6L244.0 660.0L244.2 660.4L244.4 660.1L244.5 660.3L244.7 660.9L244.9 660.4L245.0 660.7L245.2 660.3L245.4 659.8L245.6 660.6L245.7 659.8L245.9 660.4L246.1 660.3L246.3 659.7L246.4 659.8L246.6 660.0L246.8 660.2L246.9 660.5L247.1 660.1L247.3 660.7L247.5 660.4L247.6 659.8L247.8 659.8L248.0 660.1L248.2 659.9L248.3 660.0L248.5 660.3L248.7 660.1L248.9 660.4L249.0 659.8L249.2 659.7L249.4 659.6L249.5 659.4L249.7 659.9L249.9 660.1L250.1 660.0L250.2 660.1L250.4 660.8L250.6 659.7L250.8 660.0L250.9 659.9L251.1 659.7L251.3 660.5L251.5 660.0L251.6 660.5L251.8 659.7L252.0 660.7L252.1 660.8L252.3 659.7L252.5 660.0L252.7 660.0L252.8 660.2L253.0 659.6L253.2 660.2L253.4 660.3L253.5 659.8L253.7 659.3L253.9 659.8L254.0 659.9L254.2 660.3L254.4 659.8L254.6 659.6L254.7 660.3L254.9 660.2L255.1 660.3L255.3 660.1L255.4 660.4L255.6 660.2L255.8 659.4L256.0 660.1L256.1 660.3L256.3 660.1L256.5 660.5L256.6 659.9L256.8 660.3L257.0 659.6L257.2 660.0L257.3 659.8L257.5 659.7L257.7 659.6L257.9 660.1L258.0 660.2L258.2 659.8L258.4 659.6L258.5 659.7L258.7 660.3L258.9 659.6L259.1 660.4L259.2 659.4L259.4 660.1L259.6 660.3L259.8 660.4L259.9 659.9L260.1 659.7L260.3 659.5L260.5 660.3L260.6 660.0L260.8 659.8L261.0 659.9L261.1 660.1L261.3 660.0L261.5 660.4L261.7 659.2L261.8 660.3L262.0 659.8L262.2 660.0L262.4 659.9L262.5 659.9L262.7 660.2L262.9 660.0L263.1 659.5L263.2 659.9L263.4 659.9L263.6 660.1L263.7 660.0L263.9 659.9L264.1 660.3L264.3 659.6L264.4 660.7L264.6 659.7L264.8 659.5L265.0 660.2L265.1 660.3L265.3 660.3L265.5 660.4L265.6 660.0L265.8 659.9L266.0 660.0L266.2 659.8L266.3 659.6L266.5 660.4L266.7 660.4L266.9 659.8L267.0 659.7L267.2 659.6L267.4 659.1L267.6 659.5L267.7 659.5L267.9 659.6L268.1 659.3L268.2 658.9L268.4 659.8L268.6 660.1L268.8 658.7L268.9 659.3L269.1 659.6L269.3 658.8L269.5 658.7L269.6 659.1L269.8 658.9L270.0 658.6L270.1 659.2L270.3 659.0L270.5 658.4L270.7 657.8L270.8 657.1L271.0 656.6L271.2 654.8L271.4 653.2L271.5 649.9L271.7 644.8L271.9 640.1L272.1 635.1L272.2 631.1L272.4 630.2L272.6 633.3L272.7 637.4L272.9 641.4L273.1 643.7L273.3 644.0L273.4 643.1L273.6 640.8L273.8 637.2L274.0 634.4L274.1 633.3L274.3 631.7L274.5 631.0L274.7 631.2L274.8 634.4L275.0 638.3L275.2 643.2L275.3 646.6L275.5 647.4L275.7 647.3L275.9 647.4L276.0 646.6L276.2 646.7L276.4 647.8L276.6 650.0L276.7 653.1L276.9 654.0L277.1 655.7L277.2 657.1L277.4 657.1L277.6 658.5L277.8 658.4L277.9 658.3L278.1 658.7L278.3 659.3L278.5 659.5L278.6 659.7L278.8 659.5L279.0 659.2L279.2 659.7L279.3 659.5L279.5 660.4L279.7 658.9L279.8 660.2L280.0 660.0L280.2 659.9L280.4 659.7L280.5 659.6L280.7 659.4L280.9 659.3L281.1 660.5L281.2 660.2L281.4 660.1L281.6 660.0L281.8 659.2L281.9 659.8L282.1 659.9L282.3 660.3L282.4 659.6L282.6 660.0L282.8 659.9L283.0 660.0L283.1 659.7L283.3 660.1L283.5 660.0L283.7 659.3L283.8 660.4L284.0 660.8L284.2 659.7L284.3 660.4L284.5 659.7L284.7 659.8L284.9 660.6L285.0 660.1L285.2 660.5L285.4 660.1L285.6 660.4L285.7 660.0L285.9 660.5L286.1 660.7L286.3 660.3L286.4 659.8L286.6 659.9L286.8 659.7L286.9 660.3L287.1 660.2L287.3 659.8L287.5 660.4L287.6 659.9L287.8 660.7L288.0 660.3L288.2 660.6L288.3 659.8L288.5 659.7L288.7 659.4L288.8 660.3L289.0 659.7L289.2 660.5L289.4 660.1L289.5 660.3L289.7 659.6L289.9 659.9L290.1 660.1L290.2 660.3L290.4 659.6L290.6 660.2L290.8 659.8L290.9 660.4L291.1 660.0L291.3 660.0L291.4 660.2L291.6 660.5L291.8 660.0L292.0 660.5L292.1 659.7L292.3 660.2L292.5 659.7L292.7 660.2L292.8 659.8L293.0 660.1L293.2 660.3L293.4 659.7L293.5 659.5L293.7 660.0L293.9 660.3L294.0 660.2L294.2 659.8L294.4 660.4L294.6 660.0L294.7 660.3L294.9 659.8L295.1 660.2L295.3 660.5L295.4 659.8L295.6 660.0L295.8 660.3L295.9 660.2L296.1 660.2L296.3 660.0L296.5 659.5L296.6 660.0L296.8 659.6L297.0 660.1L297.2 659.2L297.3 660.5L297.5 660.7L297.7 660.2L297.9 659.7L298.0 659.9L298.2 660.3L298.4 660.2L298.5 659.7L298.7 660.4L298.9 660.2L299.1 660.1L299.2 659.8L299.4 659.9L299.6 659.7L299.8 660.0L299.9 659.6L300.1 660.3L300.3 659.8L300.4 659.9L300.6 659.9L300.8 659.8L301.0 659.2L301.1 660.0L301.3 659.5L301.5 659.2L301.7 658.9L301.8 658.8L302.0 658.4L302.2 658.0L302.4 656.7L302.5 655.6L302.7 653.7L302.9 651.0L303.0 649.7L303.2 647.3L303.4 647.4L303.6 648.7L303.7 650.7L303.9 652.9L304.1 654.5L304.3 654.6L304.4 654.2L304.6 654.1L304.8 652.5L305.0 653.1L305.1 653.5L305.3 654.7L305.5 655.3L305.6 656.8L305.8 657.5L306.0 658.4L306.2 659.2L306.3 659.2L306.5 659.2L306.7 660.0L306.9 659.6L307.0 659.0L307.2 659.4L307.4 659.9L307.5 660.0L307.7 659.9L307.9 660.0L308.1 659.6L308.2 659.9L308.4 659.5L308.6 659.7L308.8 659.6L308.9 659.7L309.1 659.9L309.3 659.9L309.5 659.7L309.6 660.4L309.8 659.8L310.0 660.5L310.1 660.4L310.3 659.6L310.5 660.3L310.7 659.5L310.8 660.5L311.0 660.1L311.2 659.7L311.4 659.3L311.5 659.9L311.7 659.6L311.9 660.4L312.1 659.6L312.2 660.0L312.4 660.2L312.6 660.1L312.7 660.1L312.9 660.0L313.1 660.3L313.3 659.7L313.4 660.2L313.6 659.6L313.8 660.1L314.0 659.7L314.1 660.0L314.3 660.3L314.5 660.5L314.6 659.4L314.8 659.8L315.0 659.7L315.2 660.5L315.3 659.8L315.5 660.3L315.7 659.9L315.9 659.6L316.0 660.1L316.2 659.7L316.4 660.3L316.6 660.4L316.7 660.5L316.9 659.7L317.1 660.6L317.2 660.4L317.4 659.5L317.6 660.8L317.8 660.7L317.9 659.7L318.1 660.2L318.3 659.6L318.5 660.0L318.6 660.1L318.8 660.3L319.0 659.8L319.1 660.1L319.3 659.8L319.5 660.2L319.7 660.3L319.8 660.1L320.0 660.5L320.2 660.3L320.4 660.2L320.5 660.5L320.7 659.6L320.9 660.1L321.1 659.5L321.2 660.1L321.4 659.9" fill="none" stroke="#2a2a2a" stroke-width="0.8"/><path d="M18.4 659.8L18.6 659.8L18.7 659.6L18.9 659.7L19.1 660.0L19.3 659.5L19.4 659.5L19.6 659.5L19.8 659.5L20.0 659.7L20.1 659.6L20.3 659.5L20.5 660.1L20.7 659.7L20.8 659.5L21.0 660.1L21.2 659.4L21.3 659.6L21.5 659.6L21.7 659.4L21.9 659.5L22.0 659.6L22.2 659.1L22.4 659.5L22.6 659.7L22.7 659.7L22.9 659.7L23.1 660.3L23.2 659.8L23.4 659.5L23.6 659.5L23.8 659.5L23.9 659.7L24.1 659.4L24.3 660.0L24.5 659.1L24.6 659.7L24.8 659.6L25.0 659.0L25.2 659.6L25.3 659.6L25.5 659.2L25.7 660.1L25.8 659.6L26.0 659.2L26.2 659.1L26.4 659.0L26.5 659.3L26.7 659.2L26.9 658.7L27.1 658.7L27.2 658.8L27.4 658.8L27.6 658.8L27.7 658.6L27.9 659.0L28.1 659.0L28.3 658.6L28.4 657.7L28.6 658.3L28.8 658.4L29.0 658.0L29.1 657.9L29.3 657.6L29.5 656.7L29.7 656.0L29.8 656.6L30.0 655.6L30.2 655.1L30.3 653.6L30.5 651.7L30.7 649.0L30.9 643.1L31.0 636.1L31.2 625.6L31.4 613.7L31.6 600.9L31.7 590.8L31.9 586.8L32.1 588.7L32.3 594.6L32.4 600.9L32.6 607.6L32.8 616.2L32.9 624.9L33.1 633.1L33.3 640.6L33.5 646.3L33.6 650.5L33.8 652.3L34.0 654.7L34.2 655.7L34.3 655.9L34.5 656.9L34.7 656.9L34.8 657.4L35.0 657.6L35.2 658.0L35.4 657.7L35.5 658.4L35.7 657.7L35.9 658.4L36.1 658.4L36.2 659.2L36.4 658.9L36.6 658.7L36.8 658.6L36.9 659.0L37.1 658.8L37.3 659.8L37.4 658.1L37.6 659.1L37.8 658.3L38.0 659.5L38.1 658.9L38.3 659.7L38.5 659.0L38.7 659.6L38.8 659.3L39.0 659.6L39.2 659.3L39.4 658.3L39.5 659.0L39.7 658.7L39.9 659.6L40.0 659.4L40.2 659.2L40.4 659.4L40.6 659.3L40.7 659.0L40.9 659.8L41.1 659.2L41.3 659.0L41.4 658.6L41.6 658.8L41.8 659.0L41.9 658.8L42.1 658.6L42.3 658.6L42.5 658.1L42.6 658.2L42.8 657.2L43.0 656.7L43.2 655.7L43.3 654.7L43.5 652.9L43.7 650.9L43.9 649.0L44.0 648.7L44.2 649.3L44.4 650.1L44.5 649.7L44.7 650.6L44.9 651.3L45.1 651.8L45.2 651.6L45.4 650.9L45.6 648.2L45.8 646.2L45.9 641.6L46.1 638.5L46.3 636.5L46.4 636.8L46.6 638.3L46.8 640.2L47.0 642.2L47.1 643.8L47.3 646.7L47.5 649.8L47.7 651.7L47.8 653.6L48.0 655.3L48.2 657.3L48.4 657.9L48.5 657.9L48.7 658.4L48.9 658.7L49.0 659.1L49.2 658.2L49.4 658.8L49.6 658.9L49.7 659.2L49.9 659.2L50.1 659.1L50.3 659.4L50.4 658.4L50.6 660.4L50.8 659.6L51.0 659.7L51.1 659.2L51.3 659.6L51.5 660.1L51.6 660.1L51.8 659.5L52.0 659.1L52.2 659.6L52.3 659.4L52.5 659.8L52.7 659.1L52.9 659.5L53.0 659.7L53.2 659.4L53.4 659.9L53.5 659.2L53.7 659.2L53.9 659.5L54.1 659.9L54.2 659.5L54.4 659.4L54.6 659.9L54.8 659.7L54.9 659.5L55.1 659.7L55.3 659.6L55.5 659.9L55.6 659.7L55.8 659.4L56.0 659.5L56.1 659.5L56.3 659.8L56.5 659.8L56.7 659.4L56.8 659.6L57.0 659.8L57.2 660.1L57.4 659.8L57.5 660.3L57.7 659.7L57.9 659.9L58.0 659.6L58.2 659.4L58.4 659.7L58.6 659.9L58.7 659.8L58.9 659.8L59.1 659.6L59.3 659.4L59.4 659.6L59.6 659.9L59.8 660.0L60.0 658.6L60.1 659.9L60.3 660.1L60.5 660.1L60.6 659.8L60.8 659.9L61.0 659.6L61.2 659.7L61.3 659.9L61.5 659.3L61.7 659.5L61.9 659.8L62.0 659.3L62.2 659.7L62.4 659.2L62.6 659.8L62.7 659.7L62.9 659.5L63.1 659.4L63.2 659.6L63.4 659.0L63.6 659.6L63.8 659.8L63.9 660.1L64.1 659.6L64.3 659.7L64.5 660.2L64.6 660.3L64.8 659.6L65.0 660.1L65.1 660.1L65.3 659.9L65.5 659.4L65.7 659.4L65.8 659.9L66.0 660.5L66.2 659.7L66.4 660.3L66.5 660.4L66.7 659.3L66.9 659.5L67.1 660.2L67.2 660.1L67.4 659.9L67.6 659.7L67.7 659.9L67.9 659.5L68.1 660.6L68.3 659.3L68.4 659.1L68.6 659.8L68.8 660.2L69.0 659.6L69.1 659.7L69.3 659.4L69.5 659.7L69.7 659.4L69.8 659.4L70.0 659.2L70.2 659.5L70.3 660.4L70.5 659.7L70.7 659.8L70.9 660.5L71.0 659.5L71.2 659.4L71.4 659.9L71.6 659.3L71.7 659.8L71.9 660.1L72.1 659.4L72.2 659.6L72.4 660.3L72.6 659.4L72.8 659.5L72.9 659.8L73.1 659.6L73.3 659.4L73.5 660.3L73.6 659.5L73.8 659.8L74.0 659.6L74.2 659.6L74.3 659.3L74.5 660.0L74.7 659.6L74.8 660.1L75.0 659.3L75.2 659.6L75.4 659.9L75.5 659.8L75.7 659.5L75.9 659.7L76.1 659.3L76.2 659.7L76.4 658.8L76.6 659.8L76.7 660.2L76.9 660.0L77.1 660.0L77.3 659.6L77.4 659.9L77.6 659.6L77.8 659.7L78.0 659.7L78.1 658.6L78.3 660.0L78.5 659.9L78.7 660.0L78.8 659.4L79.0 659.9L79.2 659.9L79.3 658.9L79.5 659.1L79.7 659.7L79.9 659.5L80.0 659.7L80.2 659.5L80.4 660.2L80.6 659.0L80.7 659.2L80.9 659.4L81.1 659.2L81.3 659.5L81.4 659.7L81.6 659.2L81.8 659.8L81.9 660.1L82.1 660.0L82.3 660.3L82.5 660.1L82.6 659.7L82.8 660.3L83.0 659.9L83.2 660.3L83.3 659.6L83.5 658.9L83.7 659.3L83.8 659.7L84.0 659.8L84.2 659.6L84.4 660.0L84.5 659.3L84.7 659.4L84.9 660.0L85.1 659.6L85.2 659.7L85.4 660.1L85.6 660.0L85.8 659.3L85.9 659.7L86.1 659.0L86.3 659.6L86.4 659.7L86.6 659.0L86.8 660.1L87.0 660.3L87.1 659.7L87.3 659.9L87.5 660.1L87.7 659.5L87.8 659.9L88.0 659.7L88.2 659.0L88.3 659.2L88.5 659.3L88.7 659.9L88.9 659.5L89.0 659.8L89.2 659.3L89.4 659.1L89.6 660.2L89.7 660.4L89.9 659.6L90.1 659.4L90.3 659.8L90.4 659.0L90.6 659.3L90.8 658.9L90.9 659.5L91.1 659.4L91.3 659.2L91.5 659.1L91.6 658.8L91.8 659.0L92.0 659.7L92.2 659.1L92.3 659.6L92.5 658.9L92.7 659.1L92.9 658.9L93.0 659.0L93.2 659.3L93.4 658.3L93.5 659.2L93.7 659.1L93.9 658.8L94.1 658.8L94.2 658.6L94.4 658.9L94.6 658.6L94.8 658.2L94.9 658.4L95.1 658.6L95.3 658.3L95.4 658.1L95.6 658.0L95.8 657.6L96.0 657.4L96.1 656.7L96.3 657.0L96.5 657.1L96.7 656.3L96.8 655.7L97.0 655.9L97.2 655.0L97.4 654.3L97.5 653.6L97.7 652.5L97.9 650.6L98.0 648.0L98.2 645.0L98.4 638.3L98.6 628.4L98.7 614.4L98.9 595.4L99.1 571.2L99.3 548.2L99.4 529.9L99.6 525.6L99.8 532.5L100.0 544.4L100.1 555.8L100.3 563.7L100.5 570.8L100.6 581.8L100.8 595.8L101.0 611.0L101.2 623.3L101.3 633.9L101.5 640.7L101.7 646.6L101.9 648.9L102.0 651.4L102.2 653.3L102.4 654.1L102.5 654.8L102.7 655.2L102.9 655.9L103.1 655.9L103.2 656.9L103.4 657.3L103.6 657.6L103.8 657.5L103.9 658.1L104.1 658.1L104.3 658.4L104.5 658.3L104.6 658.3L104.8 658.1L105.0 657.6L105.1 658.8L105.3 658.6L105.5 659.4L105.7 658.1L105.8 659.1L106.0 658.6L106.2 658.9L106.4 658.7L106.5 659.1L106.7 659.1L106.9 659.4L107.0 659.2L107.2 659.3L107.4 659.6L107.6 659.4L107.7 659.2L107.9 659.7L108.1 659.3L108.3 659.4L108.4 659.2L108.6 659.1L108.8 658.4L109.0 659.6L109.1 659.0L109.3 659.7L109.5 660.0L109.6 659.0L109.8 659.7L110.0 659.4L110.2 659.6L110.3 659.1L110.5 659.5L110.7 659.6L110.9 660.0L111.0 660.2L111.2 659.6L111.4 659.4L111.6 660.3L111.7 659.5L111.9 659.5L112.1 659.6L112.2 659.7L112.4 659.8L112.6 659.4L112.8 659.6L112.9 660.2L113.1 660.1L113.3 659.8L113.5 659.7L113.6 659.5L113.8 660.0L114.0 659.4L114.1 659.7L114.3 659.5L114.5 659.4L114.7 659.6L114.8 659.6L115.0 659.4L115.2 659.6L115.4 659.7L115.5 659.5L115.7 659.4L115.9 659.6L116.1 659.9L116.2 660.0L116.4 659.7L116.6 659.6L116.7 659.7L116.9 660.3L117.1 660.0L117.3 659.4L117.4 659.7L117.6 659.5L117.8 659.6L118.0 659.1L118.1 659.7L118.3 659.2L118.5 659.5L118.6 660.2L118.8 660.0L119.0 659.4L119.2 659.3L119.3 659.4L119.5 659.1L119.7 659.4L119.9 659.6L120.0 659.3L120.2 659.9L120.4 659.7L120.6 659.5L120.7 660.3L120.9 659.9L121.1 659.7L121.2 660.3L121.4 660.1L121.6 659.5L121.8 659.8L121.9 659.6L122.1 659.2L122.3 660.3L122.5 660.2L122.6 659.3L122.8 659.9L123.0 659.2L123.2 660.1L123.3 659.7L123.5 659.6L123.7 660.1L123.8 659.7L124.0 659.6L124.2 660.0L124.4 659.6L124.5 660.0L124.7 659.7L124.9 660.0L125.1 659.9L125.2 660.0L125.4 659.4L125.6 660.3L125.7 659.6L125.9 660.3L126.1 659.5L126.3 659.6L126.4 659.6L126.6 660.1L126.8 659.5L127.0 659.8L127.1 659.2L127.3 659.5L127.5 659.8L127.7 659.6L127.8 659.0L128.0 659.8L128.2 659.3L128.3 660.3L128.5 659.6L128.7 660.4L128.9 659.9L129.0 659.8L129.2 659.5L129.4 659.6L129.6 659.8L129.7 658.9L129.9 659.9L130.1 659.2L130.3 659.5L130.4 658.6L130.6 659.7L130.8 659.8L130.9 659.6L131.1 659.6L131.3 659.3L131.5 659.5L131.6 659.8L131.8 659.2L132.0 659.5L132.2 659.5L132.3 659.1L132.5 659.2L132.7 659.1L132.8 658.7L133.0 659.6L133.2 658.4L133.4 658.8L133.5 658.2L133.7 656.4L133.9 656.0L134.1 654.5L134.2 651.9L134.4 648.0L134.6 644.8L134.8 641.1L134.9 639.5L135.1 640.2L135.3 642.2L135.4 644.7L135.6 645.7L135.8 646.8L136.0 646.7L136.1 648.0L136.3 650.1L136.5 652.9L136.7 653.8L136.8 655.3L137.0 656.9L137.2 658.2L137.3 657.7L137.5 658.5L137.7 658.3L137.9 659.4L138.0 659.3L138.2 659.2L138.4 659.2L138.6 659.2L138.7 659.4L138.9 659.2L139.1 659.1L139.3 659.1L139.4 659.5L139.6 659.2L139.8 659.8L139.9 658.8L140.1 659.8L140.3 659.8L140.5 660.0L140.6 659.5L140.8 659.1L141.0 659.3L141.2 660.0L141.3 659.5L141.5 659.5L141.7 659.5L141.9 659.6L142.0 659.6L142.2 659.1L142.4 659.5L142.5 660.0L142.7 660.2L142.9 659.7L143.1 659.5L143.2 660.2L143.4 659.6L143.6 659.3L143.8 659.7L143.9 660.0L144.1 660.2L144.3 659.6L144.4 659.9L144.6 659.6L144.8 660.1L145.0 659.8L145.1 659.8L145.3 659.4L145.5 659.6L145.7 659.6L145.8 658.5L146.0 660.0L146.2 659.7L146.4 659.7L146.5 659.6L146.7 659.8L146.9 659.8L147.0 659.3L147.2 659.8L147.4 659.8L147.6 659.8L147.7 659.2L147.9 659.7L148.1 659.3L148.3 659.9L148.4 660.2L148.6 660.1L148.8 659.6L148.9 659.6L149.1 659.6L149.3 659.9L149.5 659.5L149.6 659.6L149.8 658.9L150.0 659.5L150.2 659.5L150.3 659.6L150.5 660.2L150.7 659.3L150.9 659.3L151.0 660.0L151.2 659.4L151.4 659.7L151.5 659.8L151.7 659.8L151.9 659.5L152.1 660.1L152.2 660.3L152.4 659.4L152.6 659.7L152.8 660.1L152.9 659.7L153.1 659.4L153.3 659.6L153.5 660.1L153.6 659.4L153.8 659.9L154.0 659.9L154.1 659.6L154.3 660.0L154.5 660.0L154.7 660.1L154.8 660.1L155.0 659.3L155.2 660.1L155.4 660.0L155.5 660.1L155.7 659.5L155.9 660.1L156.0 659.9L156.2 659.4L156.4 660.2L156.6 659.5L156.7 659.4L156.9 659.9L157.1 659.6L157.3 659.9L157.4 659.7L157.6 659.9L157.8 660.1L158.0 659.8L158.1 660.1L158.3 660.1L158.5 659.5L158.6 660.1L158.8 660.0L159.0 659.8L159.2 660.2L159.3 660.3L159.5 660.0L159.7 659.3L159.9 659.9L160.0 659.7L160.2 659.7L160.4 659.9L160.6 659.7L160.7 660.3L160.9 659.9L161.1 659.8L161.2 660.0L161.4 660.1L161.6 660.2L161.8 660.0L161.9 659.8L162.1 659.8L162.3 659.1L162.5 659.3L162.6 660.1L162.8 659.7L163.0 660.4L163.1 660.4L163.3 659.4L163.5 659.9L163.7 660.8L163.8 659.5L164.0 659.9L164.2 659.7L164.4 659.7L164.5 659.7L164.7 659.8L164.9 660.0L165.1 659.5L165.2 660.0L165.4 659.5L165.6 660.0L165.7 659.9L165.9 659.5L166.1 659.8L166.3 659.5L166.4 659.5L166.6 660.2L166.8 659.2L167.0 660.0L167.1 660.0L167.3 659.6L167.5 660.2L167.6 660.1L167.8 659.3L168.0 660.0L168.2 659.9L168.3 659.5L168.5 660.0L168.7 660.0L168.9 659.5L169.0 659.1L169.2 659.9L169.4 659.5L169.6 659.2L169.7 659.7L169.9 659.0L170.1 659.7L170.2 660.3L170.4 658.8L170.6 659.9L170.8 659.5L170.9 659.7L171.1 659.5L171.3 660.0L171.5 659.8L171.6 659.5L171.8 659.3L172.0 659.6L172.2 660.2L172.3 659.4L172.5 659.9L172.7 659.9L172.8 659.1L173.0 660.2L173.2 659.8L173.4 660.6L173.5 660.4L173.7 659.7L173.9 659.7L174.1 659.4L174.2 659.3L174.4 660.1L174.6 659.7L174.7 659.7L174.9 659.7L175.1 660.0L175.3 660.1L175.4 659.8L175.6 659.7L175.8 659.8L176.0 660.5L176.1 659.1L176.3 659.4L176.5 660.0L176.7 659.8L176.8 660.2L177.0 660.2L177.2 660.5L177.3 659.5L177.5 660.0L177.7 659.7L177.9 660.1L178.0 659.9L178.2 660.1L178.4 659.5L178.6 659.9L178.7 659.6L178.9 659.7L179.1 659.6L179.2 659.4L179.4 660.2L179.6 659.9L179.8 660.2L179.9 659.5L180.1 659.1L180.3 659.6L180.5 659.7L180.6 660.1L180.8 660.2L181.0 660.2L181.2 660.3L181.3 660.0L181.5 659.8L181.7 659.5L181.8 660.0L182.0 659.6L182.2 659.5L182.4 660.0L182.5 659.9L182.7 660.1L182.9 659.5L183.1 660.2L183.2 659.9L183.4 659.7L183.6 659.5L183.8 659.4L183.9 659.3L184.1 660.3L184.3 659.3L184.4 660.0L184.6 659.7L184.8 659.6L185.0 659.6L185.1 659.8L185.3 660.1L185.5 660.0L185.7 659.8L185.8 659.3L186.0 659.2L186.2 660.4L186.3 659.4L186.5 659.3L186.7 660.2L186.9 659.3L187.0 660.1L187.2 660.1L187.4 659.9L187.6 660.1L187.7 659.3L187.9 659.4L188.1 659.7L188.3 659.8L188.4 659.8L188.6 660.0L188.8 659.5L188.9 659.1L189.1 659.9L189.3 659.7L189.5 660.1L189.6 660.5L189.8 659.8L190.0 660.0L190.2 659.5L190.3 660.1L190.5 659.9L190.7 659.9L190.9 660.1L191.0 659.4L191.2 660.0L191.4 660.0L191.5 660.3L191.7 659.2L191.9 659.8L192.1 660.5L192.2 659.7L192.4 659.6L192.6 660.4L192.8 660.7L192.9 659.8L193.1 659.5L193.3 659.6L193.4 659.7L193.6 659.5L193.8 659.5L194.0 659.9L194.1 659.8L194.3 660.0L194.5 659.8L194.7 659.4L194.8 660.0L195.0 659.9L195.2 659.6L195.4 659.7L195.5 659.9L195.7 659.8L195.9 659.7L196.0 660.1L196.2 660.2L196.4 659.7L196.6 659.8L196.7 659.4L196.9 659.7L197.1 660.0L197.3 660.1L197.4 659.8L197.6 659.8L197.8 659.5L197.9 659.9L198.1 659.4L198.3 659.8L198.5 659.8L198.6 659.5L198.8 659.9L199.0 659.7L199.2 660.0L199.3 659.6L199.5 660.0L199.7 660.3L199.9 659.9L200.0 660.1L200.2 659.6L200.4 659.7L200.5 659.1L200.7 659.7L200.9 659.4L201.1 659.8L201.2 659.1L201.4 659.5L201.6 659.8L201.8 659.9L201.9 659.2L202.1 659.6L202.3 660.7L202.5 660.1L202.6 659.8L202.8 658.8L203.0 659.5L203.1 660.0L203.3 659.9L203.5 659.9L203.7 660.1L203.8 659.8L204.0 660.1L204.2 659.2L204.4 660.6L204.5 659.7L204.7 659.6L204.9 660.3L205.0 660.0L205.2 660.1L205.4 659.6L205.6 659.9L205.7 660.0L205.9 659.4L206.1 659.7L206.3 659.7L206.4 659.7L206.6 659.5L206.8 659.3L207.0 659.9L207.1 659.9L207.3 660.2L207.5 659.8L207.6 659.5L207.8 659.3L208.0 659.8L208.2 659.7L208.3 660.5L208.5 660.6L208.7 660.3L208.9 659.5L209.0 659.3L209.2 659.7L209.4 659.5L209.5 660.3L209.7 659.8L209.9 659.6L210.1 659.8L210.2 660.2L210.4 659.4L210.6 659.9L210.8 659.3L210.9 659.7L211.1 659.5L211.3 659.9L211.5 659.8L211.6 660.2L211.8 660.0L212.0 659.5L212.1 659.3L212.3 659.5L212.5 659.6L212.7 659.7L212.8 659.5L213.0 660.1L213.2 660.1L213.4 659.6L213.5 659.6L213.7 659.7L213.9 659.7L214.1 659.7L214.2 659.2L214.4 659.6L214.6 659.1L214.7 659.7L214.9 659.9L215.1 659.3L215.3 659.8L215.4 659.5L215.6 659.5L215.8 660.4L216.0 660.0L216.1 659.9L216.3 659.5L216.5 659.8L216.6 659.6L216.8 659.8L217.0 659.3L217.2 659.6L217.3 659.5L217.5 659.1L217.7 660.2L217.9 659.9L218.0 659.3L218.2 659.1L218.4 659.3L218.6 659.2L218.7 659.3L218.9 659.0L219.1 659.2L219.2 659.4L219.4 659.5L219.6 658.7L219.8 659.3L219.9 658.9L220.1 658.8L220.3 658.9L220.5 658.7L220.6 659.0L220.8 658.8L221.0 658.2L221.2 657.7L221.3 657.8L221.5 656.7L221.7 654.4L221.8 651.8L222.0 649.0L222.2 645.7L222.4 642.0L222.5 641.4L222.7 641.6L222.9 644.4L223.1 646.3L223.2 648.4L223.4 649.1L223.6 649.3L223.7 649.3L223.9 648.7L224.1 649.9L224.3 651.9L224.4 653.5L224.6 656.0L224.8 656.1L225.0 658.4L225.1 657.9L225.3 658.9L225.5 659.3L225.7 659.1L225.8 658.6L226.0 659.0L226.2 659.3L226.3 659.5L226.5 659.7L226.7 659.8L226.9 659.9L227.0 659.1L227.2 659.8L227.4 658.9L227.6 659.6L227.7 659.2L227.9 659.0L228.1 659.9L228.2 659.6L228.4 660.0L228.6 659.1L228.8 659.2L228.9 659.6L229.1 659.4L229.3 659.7L229.5 659.5L229.6 659.6L229.8 659.3L230.0 660.1L230.2 659.6L230.3 659.3L230.5 659.9L230.7 659.9L230.8 659.8L231.0 659.8L231.2 659.6L231.4 659.7L231.5 659.0L231.7 659.2L231.9 659.3L232.1 659.8L232.2 660.2L232.4 659.7L232.6 659.6L232.8 660.1L232.9 659.6L233.1 660.0L233.3 659.9L233.4 659.3L233.6 659.9L233.8 659.8L234.0 659.3L234.1 659.4L234.3 659.3L234.5 660.2L234.7 660.5L234.8 660.0L235.0 660.3L235.2 659.3L235.3 660.2L235.5 660.4L235.7 660.3L235.9 659.4L236.0 660.1L236.2 659.7L236.4 660.1L236.6 659.5L236.7 659.8L236.9 659.6L237.1 659.9L237.3 659.7L237.4 660.2L237.6 660.1L237.8 659.9L237.9 659.8L238.1 659.7L238.3 659.8L238.5 660.0L238.6 659.8L238.8 659.9L239.0 659.8L239.2 659.7L239.3 659.5L239.5 659.1L239.7 660.0L239.8 660.0L240.0 659.4L240.2 660.4L240.4 659.4L240.5 660.1L240.7 659.9L240.9 659.9L241.1 660.2L241.2 660.1L241.4 659.8L241.6 659.4L241.8 659.3L241.9 659.8L242.1 660.3L242.3 660.1L242.4 659.8L242.6 659.9L242.8 660.0L243.0 660.4L243.1 659.5L243.3 660.0L243.5 659.9L243.7 659.5L243.8 659.4L244.0 660.2L244.2 659.9L244.4 659.7L244.5 659.8L244.7 660.1L244.9 659.8L245.0 660.3L245.2 659.7L245.4 659.5L245.6 659.7L245.7 659.4L245.9 659.6L246.1 660.2L246.3 660.4L246.4 660.0L246.6 659.8L246.8 659.5L246.9 659.4L247.1 659.9L247.3 659.8L247.5 659.6L247.6 659.6L247.8 660.3L248.0 660.1L248.2 659.8L248.3 659.8L248.5 660.2L248.7 659.9L248.9 659.9L249.0 659.2L249.2 659.2L249.4 659.1L249.5 659.0L249.7 659.8L249.9 659.9L250.1 659.5L250.2 659.9L250.4 659.9L250.6 659.7L250.8 659.3L250.9 660.3L251.1 660.2L251.3 659.6L251.5 660.4L251.6 659.8L251.8 659.5L252.0 659.6L252.1 659.1L252.3 659.6L252.5 659.2L252.7 660.2L252.8 659.9L253.0 659.3L253.2 660.0L253.4 659.2L253.5 659.8L253.7 659.9L253.9 659.8L254.0 659.4L254.2 659.7L254.4 659.7L254.6 659.8L254.7 660.3L254.9 660.3L255.1 660.3L255.3 659.5L255.4 659.5L255.6 659.8L255.8 659.9L256.0 659.0L256.1 659.5L256.3 660.4L256.5 659.3L256.6 659.5L256.8 659.5L257.0 659.9L257.2 659.7L257.3 659.6L257.5 659.2L257.7 660.0L257.9 659.7L258.0 659.5L258.2 659.7L258.4 660.0L258.5 659.2L258.7 659.2L258.9 659.4L259.1 659.4L259.2 658.7L259.4 659.5L259.6 660.1L259.8 659.6L259.9 660.1L260.1 658.7L260.3 659.7L260.5 660.2L260.6 660.3L260.8 659.5L261.0 659.4L261.1 659.8L261.3 659.3L261.5 659.6L261.7 659.1L261.8 659.7L262.0 659.7L262.2 660.3L262.4 659.8L262.5 659.4L262.7 659.6L262.9 659.2L263.1 659.7L263.2 659.6L263.4 659.8L263.6 660.0L263.7 658.9L263.9 659.8L264.1 659.9L264.3 659.2L264.4 660.3L264.6 659.4L264.8 660.5L265.0 659.9L265.1 659.9L265.3 659.7L265.5 659.9L265.6 659.2L265.8 659.3L266.0 658.9L266.2 659.7L266.3 659.3L266.5 659.8L266.7 659.7L266.9 659.0L267.0 659.7L267.2 659.5L267.4 659.5L267.6 659.6L267.7 659.4L267.9 659.3L268.1 659.7L268.2 658.9L268.4 658.8L268.6 658.9L268.8 659.5L268.9 659.0L269.1 659.7L269.3 657.9L269.5 658.6L269.6 658.6L269.8 658.7L270.0 659.0L270.1 658.3L270.3 657.8L270.5 658.1L270.7 658.0L270.8 656.0L271.0 656.2L271.2 654.7L271.4 652.1L271.5 649.0L271.7 644.8L271.9 639.5L272.1 634.2L272.2 630.2L272.4 630.3L272.6 632.8L272.7 637.3L272.9 640.8L273.1 643.4L273.3 644.1L273.4 642.6L273.6 640.2L273.8 636.6L274.0 634.8L274.1 633.0L274.3 631.2L274.5 630.4L274.7 630.2L274.8 634.0L275.0 638.1L275.2 641.7L275.3 645.8L275.5 647.2L275.7 647.9L275.9 647.2L276.0 646.6L276.2 646.4L276.4 647.4L276.6 649.7L276.7 652.1L276.9 653.1L277.1 655.5L277.2 656.4L277.4 657.0L277.6 658.4L277.8 658.6L277.9 658.1L278.1 658.3L278.3 659.1L278.5 658.7L278.6 658.9L278.8 658.4L279.0 659.1L279.2 659.6L279.3 659.1L279.5 659.2L279.7 659.9L279.8 659.6L280.0 659.9L280.2 659.6L280.4 659.8L280.5 658.8L280.7 659.2L280.9 658.9L281.1 660.3L281.2 659.6L281.4 659.5L281.6 659.3L281.8 659.2L281.9 658.6L282.1 660.4L282.3 659.5L282.4 659.6L282.6 659.1L282.8 659.6L283.0 659.7L283.1 659.6L283.3 659.8L283.5 659.3L283.7 659.7L283.8 660.0L284.0 659.8L284.2 659.8L284.3 659.6L284.5 659.3L284.7 659.9L284.9 659.5L285.0 659.3L285.2 659.9L285.4 659.1L285.6 659.5L285.7 660.0L285.9 660.0L286.1 659.6L286.3 659.7L286.4 659.9L286.6 659.7L286.8 659.4L286.9 659.9L287.1 659.8L287.3 659.7L287.5 660.1L287.6 659.8L287.8 659.5L288.0 659.8L288.2 660.4L288.3 659.5L288.5 659.6L288.7 659.4L288.8 659.8L289.0 659.3L289.2 659.9L289.4 660.0L289.5 659.4L289.7 659.4L289.9 659.2L290.1 659.7L290.2 659.3L290.4 659.5L290.6 659.6L290.8 659.5L290.9 660.0L291.1 660.3L291.3 659.0L291.4 659.4L291.6 659.8L291.8 659.4L292.0 659.5L292.1 659.8L292.3 660.2L292.5 660.1L292.7 659.6L292.8 659.8L293.0 659.6L293.2 659.7L293.4 659.3L293.5 659.1L293.7 659.6L293.9 660.1L294.0 660.0L294.2 659.1L294.4 659.7L294.6 659.5L294.7 659.8L294.9 659.3L295.1 660.0L295.3 659.6L295.4 659.9L295.6 660.0L295.8 659.0L295.9 659.6L296.1 660.2L296.3 659.7L296.5 660.1L296.6 659.8L296.8 659.5L297.0 659.8L297.2 660.1L297.3 660.1L297.5 660.2L297.7 659.3L297.9 660.0L298.0 659.2L298.2 659.6L298.4 659.6L298.5 659.9L298.7 659.7L298.9 660.1L299.1 659.4L299.2 659.9L299.4 659.7L299.6 659.6L299.8 659.1L299.9 659.7L300.1 659.6L300.3 659.8L300.4 659.4L300.6 659.3L300.8 659.5L301.0 659.5L301.1 659.5L301.3 659.8L301.5 658.8L301.7 659.6L301.8 657.6L302.0 658.6L302.2 657.4L302.4 657.4L302.5 654.9L302.7 653.6L302.9 650.6L303.0 648.2L303.2 647.3L303.4 647.3L303.6 648.1L303.7 651.2L303.9 652.2L304.1 654.2L304.3 653.9L304.4 653.8L304.6 653.6L304.8 652.6L305.0 652.8L305.1 652.4L305.3 654.3L305.5 655.3L305.6 656.3L305.8 657.6L306.0 658.1L306.2 658.5L306.3 659.2L306.5 659.2L306.7 659.4L306.9 659.8L307.0 659.3L307.2 659.7L307.4 659.3L307.5 659.7L307.7 659.7L307.9 659.4L308.1 659.0L308.2 659.1L308.4 659.3L308.6 659.8L308.8 659.6L308.9 659.5L309.1 659.8L309.3 659.9L309.5 660.2L309.6 659.5L309.8 659.9L310.0 659.9L310.1 659.4L310.3 659.7L310.5 659.4L310.7 659.6L310.8 659.9L311.0 659.1L311.2 659.4L311.4 659.4L311.5 659.8L311.7 659.5L311.9 659.9L312.1 659.4L312.2 659.6L312.4 659.9L312.6 659.9L312.7 659.8L312.9 659.7L313.1 660.1L313.3 660.2L313.4 659.6L313.6 659.5L313.8 659.4L314.0 660.4L314.1 659.4L314.3 659.3L314.5 659.9L314.6 660.1L314.8 659.3L315.0 659.7L315.2 659.3L315.3 659.5L315.5 660.3L315.7 659.8L315.9 659.7L316.0 659.8L316.2 659.9L316.4 659.7L316.6 659.4L316.7 659.4L316.9 660.5L317.1 659.5L317.2 660.2L317.4 659.5L317.6 660.2L317.8 660.0L317.9 659.7L318.1 660.5L318.3 659.4L318.5 659.7L318.6 659.5L318.8 659.5L319.0 659.6L319.1 659.4L319.3 659.7L319.5 660.3L319.7 659.2L319.8 659.3L320.0 659.4L320.2 659.6L320.4 660.1L320.5 660.0L320.7 659.9L320.9 659.9L321.1 660.6L321.2 659.4L321.4 659.4" fill="none" stroke="#b83a3a" stroke-width="0.9" stroke-opacity="0.85"/><path d="M330.4 659.3L330.4 659.3L330.5 659.2L330.8 659.2L331.0 659.2L331.3 659.2L331.5 659.2L331.8 659.2L332.1 659.2L332.3 659.2L332.6 659.2L332.8 659.2L333.1 659.2L333.4 659.2L333.6 659.1L333.9 659.1L334.1 659.1L334.4 659.1L334.7 659.1L334.9 659.1L335.2 659.1L335.4 659.1L335.7 659.1L336.0 659.0L336.2 659.0L336.5 659.0L336.7 659.0L337.0 659.0L337.3 659.0L337.5 659.0L337.8 658.9L338.0 658.9L338.3 658.9L338.6 658.9L338.8 658.9L339.1 658.8L339.3 658.8L339.6 658.8L339.9 658.8L340.1 658.7L340.4 658.7L340.6 658.7L340.9 658.7L341.2 658.6L341.4 658.6L341.7 658.6L341.9 658.5L342.2 658.5L342.5 658.4L342.7 658.4L343.0 658.4L343.2 658.3L343.5 658.3L343.8 658.2L344.0 658.2L344.3 658.1L344.5 658.0L344.8 658.0L345.1 657.9L345.3 657.8L345.6 657.7L345.8 657.7L346.1 657.6L346.4 657.5L346.6 657.4L346.9 657.2L347.1 657.1L347.4 657.0L347.7 656.8L347.9 656.7L348.2 656.5L348.4 656.3L348.7 656.1L349.0 655.9L349.2 655.6L349.5 655.3L349.7 654.9L350.0 654.4L350.3 653.8L350.5 653.1L350.8 652.2L351.0 651.1L351.3 649.7L351.6 647.9L351.8 645.7L352.1 643.0L352.3 639.7L352.6 635.7L352.9 630.9L353.1 625.3L353.4 618.9L353.6 611.7L353.9 603.7L354.2 595.1L354.4 585.9L354.7 576.3L354.9 566.7L355.2 557.4L355.5 548.7L355.7 541.0L356.0 534.8L356.2 530.2L356.5 527.5L356.8 526.6L357.0 527.4L357.3 529.7L357.5 533.1L357.8 537.6L358.1 543.0L358.3 549.1L358.6 555.9L358.8 563.2L359.1 571.0L359.4 579.0L359.6 587.1L359.9 595.0L360.1 602.6L360.4 609.7L360.7 616.3L360.9 622.3L361.2 627.7L361.4 632.5L361.7 636.6L362.0 640.2L362.2 643.2L362.5 645.7L362.7 647.8L363.0 649.6L363.3 651.0L363.5 652.1L363.8 653.1L364.0 653.8L364.3 654.4L364.6 654.9L364.8 655.3L365.1 655.7L365.3 655.9L365.6 656.2L365.9 656.4L366.1 656.6L366.4 656.8L366.6 656.9L366.9 657.1L367.2 657.2L367.4 657.3L367.7 657.4L367.9 657.5L368.2 657.6L368.5 657.7L368.7 657.8L369.0 657.9L369.2 657.9L369.5 658.0L369.8 658.1L370.0 658.1L370.3 658.2L370.5 658.2L370.8 658.3L371.1 658.3L371.3 658.4L371.6 658.4L371.8 658.5L372.1 658.5L372.4 658.5L372.6 658.6L372.9 658.6L373.1 658.6L373.4 658.7L373.7 658.7L373.9 658.7L374.2 658.8L374.4 658.8L374.7 658.8L375.0 658.8L375.2 658.9L375.5 658.9L375.7 658.9L376.0 658.9L376.3 658.9L376.5 658.9L376.8 659.0L377.0 659.0L377.3 659.0L377.6 659.0L377.8 659.0" fill="none" stroke="#2a2a2a" stroke-width="0.8"/><path d="M376.2 659.6L376.5 659.6L376.8 659.6L377.1 659.6L377.3 659.6L377.6 659.6L377.9 659.6L378.2 659.6L378.5 659.6L378.8 659.6L379.0 659.6L379.3 659.6L379.6 659.6L379.9 659.6L380.2 659.6L380.5 659.6L380.8 659.6L381.0 659.5L381.3 659.5L381.6 659.5L381.9 659.5L382.2 659.5L382.5 659.5L382.8 659.5L383.0 659.5L383.3 659.5L383.6 659.5L383.9 659.5L384.2 659.5L384.5 659.5L384.7 659.5L385.0 659.5L385.3 659.5L385.6 659.5L385.9 659.5L386.2 659.5L386.5 659.5L386.7 659.5L387.0 659.5L387.3 659.5L387.6 659.5L387.9 659.5L388.2 659.5L388.4 659.5L388.7 659.5L389.0 659.5L389.3 659.5L389.6 659.5L389.9 659.5L390.2 659.5L390.4 659.5L390.7 659.5L391.0 659.5L391.3 659.5L391.6 659.5L391.9 659.5L392.1 659.5L392.4 659.5L392.7 659.5L393.0 659.5L393.3 659.5L393.6 659.5L393.9 659.5L394.1 659.5L394.4 659.5L394.7 659.5L395.0 659.5L395.3 659.5L395.6 659.5L395.9 659.5L396.1 659.5L396.4 659.5L396.7 659.5L397.0 659.5L397.3 659.5L397.6 659.5L397.8 659.5L398.1 659.5L398.4 659.5L398.7 659.5L399.0 659.5L399.3 659.5L399.6 659.5L399.8 659.4L400.1 659.4L400.4 659.4L400.7 659.4L401.0 659.4L401.3 659.4L401.5 659.4L401.8 659.4L402.1 659.4L402.4 659.4L402.7 659.4L403.0 659.4L403.3 659.4L403.5 659.4L403.8 659.4L404.1 659.4L404.4 659.4L404.7 659.4L405.0 659.4L405.2 659.4L405.5 659.3L405.8 659.3L406.1 659.3L406.4 659.3L406.7 659.3L407.0 659.3L407.2 659.3L407.5 659.3L407.8 659.3L408.1 659.3L408.4 659.3L408.7 659.2L409.0 659.2L409.2 659.2L409.5 659.2L409.8 659.2L410.1 659.2L410.4 659.2L410.7 659.1L410.9 659.1L411.2 659.1L411.5 659.1L411.8 659.1L412.1 659.0L412.4 659.0L412.7 659.0L412.9 659.0L413.2 658.9L413.5 658.9L413.8 658.9L414.1 658.8L414.4 658.8L414.6 658.7L414.9 658.7L415.2 658.6L415.5 658.6L415.8 658.5L416.1 658.4L416.4 658.4L416.6 658.3L416.9 658.2L417.2 658.1L417.5 658.0L417.8 657.8L418.1 657.7L418.4 657.5L418.6 657.3L418.9 657.0L419.2 656.6L419.5 656.2L419.8 655.5L420.1 654.7L420.3 653.5L420.6 651.8L420.9 649.7L421.2 646.9L421.5 643.4L421.8 639.1L422.1 633.9L422.3 628.1L422.6 621.7L422.9 615.1L423.2 608.5L423.5 602.6L423.8 597.8L424.0 594.7L424.3 593.6L424.6 594.6L424.9 597.4L425.2 601.4L425.5 606.0L425.8 610.6L426.0 614.8L426.3 618.1L426.6 620.5L426.9 621.9L427.2 622.5L427.5 622.6L427.7 622.4L428.0 622.3L428.3 622.8L428.6 624.1L428.9 626.2L429.2 629.0L429.5 632.2L429.7 635.7L430.0 639.2L430.3 642.5L430.6 645.6L430.9 648.2L431.2 650.5L431.5 652.3L431.7 653.8L432.0 654.9L432.3 655.8L432.6 656.4L432.9 656.9L433.2 657.3L433.4 657.6L433.7 657.8L434.0 657.9L434.3 658.1L434.6 658.2L434.9 658.3L435.2 658.4L435.4 658.5L435.7 658.5L436.0 658.6L436.3 658.6L436.6 658.7L436.9 658.7L437.1 658.8L437.4 658.8L437.7 658.9L438.0 658.9L438.3 658.9L438.6 659.0L438.9 659.0L439.1 659.0L439.4 659.0L439.7 659.1L440.0 659.1L440.3 659.1L440.6 659.1L440.8 659.2L441.1 659.2L441.4 659.2L441.7 659.2L442.0 659.2L442.3 659.2L442.6 659.2L442.8 659.3L443.1 659.3L443.4 659.3L443.7 659.3L444.0 659.3L444.3 659.3L444.6 659.3L444.8 659.3L445.1 659.3L445.4 659.3L445.7 659.3L446.0 659.4L446.3 659.4L446.5 659.4L446.8 659.4L447.1 659.4L447.4 659.4" fill="none" stroke="#2a2a2a" stroke-width="0.8"/><path d="M330.4 659.3L330.4 659.3L330.5 659.2L330.8 659.2L331.0 659.2L331.3 659.2L331.5 659.2L331.8 659.2L332.1 659.2L332.3 659.2L332.6 659.2L332.8 659.2L333.1 659.2L333.4 659.2L333.6 659.1L333.9 659.1L334.1 659.1L334.4 659.1L334.7 659.1L334.9 659.1L335.2 659.1L335.4 659.1L335.7 659.0L336.0 659.0L336.2 659.0L336.5 659.0L336.7 659.0L337.0 659.0L337.3 659.0L337.5 658.9L337.8 658.9L338.0 658.9L338.3 658.9L338.6 658.9L338.8 658.8L339.1 658.8L339.3 658.8L339.6 658.8L339.9 658.8L340.1 658.7L340.4 658.7L340.6 658.7L340.9 658.6L341.2 658.6L341.4 658.6L341.7 658.5L341.9 658.5L342.2 658.5L342.5 658.4L342.7 658.4L343.0 658.3L343.2 658.3L343.5 658.2L343.8 658.2L344.0 658.1L344.3 658.1L344.5 658.0L344.8 657.9L345.1 657.9L345.3 657.8L345.6 657.7L345.8 657.6L346.1 657.5L346.4 657.4L346.6 657.3L346.9 657.2L347.1 657.1L347.4 657.0L347.7 656.8L347.9 656.6L348.2 656.5L348.4 656.3L348.7 656.1L349.0 655.8L349.2 655.5L349.5 655.2L349.7 654.8L350.0 654.3L350.3 653.7L350.5 653.0L350.8 652.1L351.0 651.0L351.3 649.5L351.6 647.8L351.8 645.5L352.1 642.7L352.3 639.4L352.6 635.3L352.9 630.5L353.1 624.8L353.4 618.3L353.6 611.0L353.9 602.9L354.2 594.1L354.4 584.7L354.7 575.1L354.9 565.3L355.2 555.8L355.5 547.0L355.7 539.2L356.0 532.9L356.2 528.2L356.5 525.5L356.8 524.6L357.0 525.4L357.3 527.7L357.5 531.2L357.8 535.8L358.1 541.2L358.3 547.4L358.6 554.3L358.8 561.8L359.1 569.6L359.4 577.8L359.6 586.0L359.9 594.0L360.1 601.7L360.4 609.0L360.7 615.7L360.9 621.8L361.2 627.2L361.4 632.1L361.7 636.3L362.0 639.9L362.2 643.0L362.5 645.5L362.7 647.7L363.0 649.4L363.3 650.9L363.5 652.0L363.8 653.0L364.0 653.7L364.3 654.3L364.6 654.8L364.8 655.3L365.1 655.6L365.3 655.9L365.6 656.1L365.9 656.4L366.1 656.6L366.4 656.7L366.6 656.9L366.9 657.0L367.2 657.2L367.4 657.3L367.7 657.4L367.9 657.5L368.2 657.6L368.5 657.7L368.7 657.8L369.0 657.8L369.2 657.9L369.5 658.0L369.8 658.1L370.0 658.1L370.3 658.2L370.5 658.2L370.8 658.3L371.1 658.3L371.3 658.4L371.6 658.4L371.8 658.5L372.1 658.5L372.4 658.5L372.6 658.6L372.9 658.6L373.1 658.6L373.4 658.7L373.7 658.7L373.9 658.7L374.2 658.7L374.4 658.8L374.7 658.8L375.0 658.8L375.2 658.8L375.5 658.9L375.7 658.9L376.0 658.9L376.3 658.9L376.5 658.9L376.8 659.0L377.0 659.0L377.3 659.0L377.6 659.0L377.8 659.0" fill="none" stroke="#b83a3a" stroke-width="0.9"/><path d="M376.2 659.6L376.5 659.6L376.8 659.6L377.1 659.6L377.3 659.6L377.6 659.6L377.9 659.6L378.2 659.6L378.5 659.6L378.8 659.6L379.0 659.6L379.3 659.6L379.6 659.6L379.9 659.6L380.2 659.6L380.5 659.6L380.8 659.6L381.0 659.5L381.3 659.5L381.6 659.5L381.9 659.5L382.2 659.5L382.5 659.5L382.8 659.5L383.0 659.5L383.3 659.5L383.6 659.5L383.9 659.5L384.2 659.5L384.5 659.5L384.7 659.5L385.0 659.5L385.3 659.5L385.6 659.5L385.9 659.5L386.2 659.5L386.5 659.5L386.7 659.5L387.0 659.5L387.3 659.5L387.6 659.5L387.9 659.5L388.2 659.5L388.4 659.5L388.7 659.5L389.0 659.5L389.3 659.5L389.6 659.5L389.9 659.5L390.2 659.5L390.4 659.5L390.7 659.5L391.0 659.5L391.3 659.5L391.6 659.5L391.9 659.5L392.1 659.5L392.4 659.5L392.7 659.5L393.0 659.5L393.3 659.5L393.6 659.5L393.9 659.5L394.1 659.5L394.4 659.5L394.7 659.5L395.0 659.5L395.3 659.5L395.6 659.5L395.9 659.5L396.1 659.5L396.4 659.5L396.7 659.5L397.0 659.5L397.3 659.5L397.6 659.5L397.8 659.5L398.1 659.5L398.4 659.5L398.7 659.5L399.0 659.5L399.3 659.5L399.6 659.5L399.8 659.4L400.1 659.4L400.4 659.4L400.7 659.4L401.0 659.4L401.3 659.4L401.5 659.4L401.8 659.4L402.1 659.4L402.4 659.4L402.7 659.4L403.0 659.4L403.3 659.4L403.5 659.4L403.8 659.4L404.1 659.4L404.4 659.4L404.7 659.4L405.0 659.4L405.2 659.4L405.5 659.3L405.8 659.3L406.1 659.3L406.4 659.3L406.7 659.3L407.0 659.3L407.2 659.3L407.5 659.3L407.8 659.3L408.1 659.3L408.4 659.3L408.7 659.2L409.0 659.2L409.2 659.2L409.5 659.2L409.8 659.2L410.1 659.2L410.4 659.2L410.7 659.1L410.9 659.1L411.2 659.1L411.5 659.1L411.8 659.1L412.1 659.0L412.4 659.0L412.7 659.0L412.9 659.0L413.2 658.9L413.5 658.9L413.8 658.9L414.1 658.8L414.4 658.8L414.6 658.7L414.9 658.7L415.2 658.6L415.5 658.6L415.8 658.5L416.1 658.4L416.4 658.4L416.6 658.3L416.9 658.2L417.2 658.1L417.5 658.0L417.8 657.8L418.1 657.7L418.4 657.5L418.6 657.3L418.9 657.0L419.2 656.6L419.5 656.2L419.8 655.5L420.1 654.7L420.3 653.5L420.6 651.8L420.9 649.7L421.2 646.9L421.5 643.4L421.8 639.1L422.1 633.9L422.3 628.1L422.6 621.7L422.9 615.1L423.2 608.5L423.5 602.6L423.8 597.8L424.0 594.7L424.3 593.6L424.6 594.6L424.9 597.4L425.2 601.4L425.5 606.0L425.8 610.6L426.0 614.8L426.3 618.1L426.6 620.5L426.9 621.9L427.2 622.5L427.5 622.6L427.7 622.4L428.0 622.3L428.3 622.8L428.6 624.1L428.9 626.2L429.2 629.0L429.5 632.2L429.7 635.7L430.0 639.2L430.3 642.5L430.6 645.6L430.9 648.2L431.2 650.5L431.5 652.3L431.7 653.8L432.0 654.9L432.3 655.8L432.6 656.4L432.9 656.9L433.2 657.3L433.4 657.6L433.7 657.8L434.0 657.9L434.3 658.1L434.6 658.2L434.9 658.3L435.2 658.4L435.4 658.5L435.7 658.5L436.0 658.6L436.3 658.6L436.6 658.7L436.9 658.7L437.1 658.8L437.4 658.8L437.7 658.9L438.0 658.9L438.3 658.9L438.6 659.0L438.9 659.0L439.1 659.0L439.4 659.0L439.7 659.1L440.0 659.1L440.3 659.1L440.6 659.1L440.8 659.2L441.1 659.2L441.4 659.2L441.7 659.2L442.0 659.2L442.3 659.2L442.6 659.2L442.8 659.3L443.1 659.3L443.4 659.3L443.7 659.3L444.0 659.3L444.3 659.3L444.6 659.3L444.8 659.3L445.1 659.3L445.4 659.3L445.7 659.3L446.0 659.4L446.3 659.4L446.5 659.4L446.8 659.4L447.1 659.4L447.4 659.4" fill="none" stroke="#b83a3a" stroke-width="0.9"/><path d="M456.5 620.0L456.7 607.5L457.0 605.6L457.2 611.0L457.4 610.6L457.7 617.1L457.9 603.3L458.1 597.2L458.4 596.3L458.6 623.4L458.8 599.6L459.1 607.5L459.3 601.2L459.6 620.8L459.8 606.5L460.0 624.3L460.3 605.2L460.5 615.1L460.7 619.7L461.0 621.8L461.2 600.4L461.4 608.6L461.7 611.5L461.9 594.2L462.1 619.4L462.4 616.2L462.6 617.4L462.8 598.6L463.1 614.2L463.3 616.7L463.5 622.6L463.8 607.3L464.0 619.2L464.2 631.9L464.5 608.2L464.7 608.5L465.0 609.4L465.2 597.8L465.4 609.0L465.7 628.7L465.9 603.4L466.1 610.7L466.4 624.5L466.6 618.3L466.8 615.0L467.1 609.4L467.3 611.6L467.5 612.9L467.8 619.6L468.0 613.6L468.2 622.1L468.5 594.4L468.7 621.0L468.9 607.7L469.2 613.0L469.4 608.7L469.6 619.3L469.9 611.8L470.1 619.2L470.4 605.1L470.6 614.9L470.8 625.2L471.1 624.1L471.3 609.6L471.5 614.5L471.8 609.5L472.0 612.0L472.2 613.3L472.5 625.2L472.7 619.0L472.9 627.6L473.2 628.4L473.4 600.8L473.6 616.3L473.9 608.9L474.1 597.4L474.3 602.7L474.6 608.4L474.8 629.9L475.0 614.3L475.3 611.6L475.5 613.1L475.8 606.1L476.0 615.2L476.2 612.6L476.5 597.4L476.7 608.3L476.9 646.6L477.2 619.8L477.4 612.6L477.6 620.2L477.9 604.1L478.1 614.5L478.3 622.3L478.6 597.9L478.8 606.5L479.0 609.8L479.3 611.0L479.5 608.7L479.7 616.4L480.0 623.8L480.2 617.2L480.4 623.9L480.7 624.1L480.9 608.0L481.2 616.6L481.4 610.2L481.6 620.4L481.9 610.5L482.1 612.1L482.3 630.6L482.6 612.3L482.8 598.7L483.0 615.2L483.3 617.0L483.5 609.1L483.7 614.8L484.0 624.1L484.2 609.1L484.4 612.3L484.7 607.2L484.9 617.4L485.1 613.0L485.4 605.2L485.6 612.7L485.8 632.2L486.1 597.6L486.3 600.8L486.6 617.6L486.8 600.8L487.0 633.5L487.3 599.8L487.5 601.7L487.7 609.4L488.0 625.0L488.2 622.3L488.4 620.1L488.7 617.4L488.9 627.2L489.1 596.8L489.4 617.3L489.6 628.5L489.8 604.2L490.1 617.7L490.3 626.6L490.5 626.9L490.8 613.3L491.0 632.9L491.3 619.6L491.5 625.2L491.7 604.3L492.0 607.4L492.2 607.4L492.4 632.0L492.7 592.1L492.9 596.9L493.1 622.6L493.4 616.3L493.6 586.0L493.8 611.0L494.1 611.9L494.3 626.7L494.5 596.3L494.8 609.8L495.0 625.4L495.2 622.4L495.5 606.1L495.7 612.3L495.9 600.7L496.2 628.4L496.4 610.9L496.7 627.5L496.9 622.9L497.1 606.6L497.4 613.8L497.6 621.5L497.8 619.5L498.1 630.1L498.3 626.1L498.5 618.5L498.8 622.0L499.0 608.4L499.2 609.6L499.5 621.2L499.7 618.7L499.9 604.7L500.2 614.7L500.4 607.7L500.6 610.1L500.9 628.1L501.1 606.4L501.3 609.2L501.6 621.1L501.8 616.3L502.1 617.2L502.3 601.6L502.5 615.4L502.8 612.1L503.0 607.9L503.2 610.3L503.5 612.9L503.7 623.9L503.9 634.0L504.2 616.9L504.4 630.2L504.6 617.0L504.9 601.5L505.1 616.5L505.3 628.3L505.6 629.5L505.8 607.4L506.0 637.6L506.3 608.9L506.5 609.0L506.7 611.0L507.0 630.1L507.2 620.0L507.5 624.9L507.7 594.6L507.9 615.7L508.2 615.1L508.4 623.0L508.6 611.7L508.9 627.8L509.1 609.6L509.3 602.8L509.6 600.4L509.8 628.6L510.0 623.7L510.3 608.8L510.5 627.1L510.7 614.8L511.0 615.3L511.2 602.3L511.4 611.2L511.7 617.6L511.9 618.5L512.1 611.1L512.4 626.2L512.6 630.5L512.9 608.8L513.1 620.5L513.3 601.9L513.6 620.7L513.8 607.4L514.0 615.2L514.3 618.4L514.5 614.4L514.7 626.9L515.0 609.3L515.2 612.3L515.4 620.0L515.7 616.5L515.9 619.3L516.1 614.9L516.4 609.1L516.6 623.3L516.8 617.7L517.1 625.7L517.3 629.9L517.5 613.6L517.8 609.9L518.0 612.7L518.3 610.8L518.5 597.9L518.7 633.0L519.0 621.1L519.2 639.7L519.4 611.8L519.7 622.9L519.9 619.9L520.1 616.6L520.4 626.7L520.6 617.3L520.8 616.6L521.1 618.9L521.3 595.8L521.5 610.4L521.8 610.3L522.0 633.3L522.2 623.1L522.5 625.0L522.7 623.5L522.9 615.6L523.2 633.4L523.4 615.5L523.7 603.9L523.9 623.6L524.1 628.9L524.4 618.6L524.6 621.1L524.8 626.9L525.1 632.4L525.3 623.3L525.5 633.9L525.8 620.5L526.0 637.9L526.2 604.5L526.5 626.9L526.7 620.6L526.9 619.0L527.2 605.5L527.4 628.2L527.6 616.0L527.9 608.3L528.1 611.8L528.3 615.7L528.6 618.9L528.8 609.2L529.1 609.1L529.3 622.0L529.5 617.3L529.8 637.0L530.0 614.0L530.2 625.2L530.5 634.8L530.7 616.2L530.9 627.6L531.2 621.0L531.4 618.7L531.6 633.6L531.9 608.6L532.1 612.4L532.3 601.2L532.6 617.1L532.8 627.7L533.0 615.8L533.3 626.2L533.5 611.0L533.7 629.3L534.0 617.2L534.2 613.8L534.5 634.1L534.7 618.3L534.9 623.9L535.2 619.6L535.4 625.2L535.6 619.6L535.9 606.9L536.1 621.2L536.3 623.1L536.6 622.2L536.8 616.3L537.0 636.0L537.3 611.6L537.5 619.8L537.7 620.6L538.0 608.2L538.2 607.2L538.4 625.0L538.7 625.1L538.9 620.0L539.1 603.3L539.4 615.9L539.6 621.0L539.9 624.7L540.1 630.2L540.3 623.2L540.6 628.0L540.8 634.8L541.0 596.4L541.3 628.4L541.5 614.7L541.7 623.5L542.0 620.9L542.2 609.1L542.4 610.3L542.7 623.1L542.9 617.2L543.1 626.0L543.4 615.3L543.6 639.6L543.8 616.6L544.1 638.9L544.3 611.8L544.5 624.4L544.8 629.9L545.0 606.5L545.3 609.8L545.5 623.0L545.7 630.1L546.0 632.3L546.2 624.5L546.4 629.2L546.7 608.1L546.9 615.2L547.1 633.1L547.4 614.0L547.6 617.0L547.8 602.6L548.1 617.5L548.3 604.1L548.5 622.8L548.8 633.4L549.0 622.4L549.2 621.0L549.5 615.6L549.7 624.7L550.0 608.8L550.2 615.0L550.4 640.1L550.7 607.0L550.9 614.1L551.1 606.1L551.4 631.3L551.6 617.2L551.8 607.3L552.1 607.5L552.3 630.2L552.5 626.0L552.8 627.2L553.0 619.0L553.2 628.2L553.5 632.2L553.7 626.0L553.9 604.3L554.2 600.8L554.4 605.6L554.6 622.2L554.9 605.3L555.1 609.3L555.4 620.0L555.6 611.2L555.8 607.4L556.1 628.9L556.3 624.4L556.5 627.2L556.8 628.5L557.0 633.5L557.2 619.3L557.5 617.9L557.7 602.8L557.9 617.4L558.2 613.9L558.4 629.7L558.6 626.2L558.9 633.9L559.1 630.2L559.3 631.1L559.6 624.8L559.8 621.1L560.0 616.1L560.3 619.6L560.5 610.6L560.8 623.5L561.0 619.0L561.2 600.3L561.5 593.9L561.7 612.8L561.9 615.3L562.2 616.9L562.4 632.3L562.6 613.8L562.9 607.7L563.1 623.5L563.3 629.5L563.6 635.7L563.8 610.2L564.0 617.5L564.3 615.9L564.5 634.4L564.7 626.7L565.0 620.2L565.2 626.9L565.4 616.6L565.7 618.1L565.9 619.7L566.2 615.2L566.4 617.6L566.6 623.5L566.9 622.4L567.1 634.3L567.3 628.4L567.6 619.4L567.8 599.1L568.0 606.0L568.3 615.3L568.5 616.5L568.7 607.6L569.0 616.6L569.2 621.3L569.4 614.1L569.7 618.8L569.9 619.3L570.1 613.5L570.4 612.0L570.6 619.0L570.8 622.8L571.1 610.3L571.3 600.8L571.6 611.1L571.8 625.1L572.0 604.9L572.3 629.1L572.5 614.7L572.7 621.5L573.0 612.9L573.2 625.9L573.4 620.8L573.7 623.9L573.9 601.8L574.1 627.3L574.4 604.4L574.6 617.2L574.8 625.4L575.1 618.6L575.3 625.2L575.5 622.1L575.8 621.4L576.0 612.8L576.2 630.1L576.5 631.2L576.7 615.4L577.0 612.0L577.2 622.5L577.4 613.4L577.7 621.9L577.9 628.4L578.1 627.0L578.4 634.7L578.6 625.1L578.8 610.8L579.1 612.6L579.3 625.8L579.5 638.8L579.8 617.4L580.0 612.1L580.2 634.0L580.5 619.6L580.7 627.4L580.9 631.1L581.2 611.5L581.4 617.5L581.6 615.6L581.9 625.9L582.1 627.1L582.4 616.2L582.6 626.2L582.8 604.1L583.1 624.3L583.3 624.2L583.5 621.0L583.8 607.3L584.0 620.1L584.2 610.9L584.5 634.8L584.7 618.4L584.9 619.2L585.2 620.1L585.4 626.2L585.6 621.9L585.9 626.2L586.1 612.4L586.3 631.6L586.6 616.6L586.8 628.4L587.0 623.5L587.3 631.4L587.5 620.6L587.8 607.4L588.0 610.5L588.2 619.2L588.5 634.4L588.7 617.4L588.9 621.9L589.2 633.2L589.4 616.1L589.6 624.3L589.9 624.1L590.1 615.8L590.3 623.7L590.6 631.4L590.8 631.4L591.0 618.4L591.3 648.9L591.5 624.9L591.7 619.0L592.0 614.8L592.2 612.4L592.4 629.3L592.7 594.6L592.9 620.3L593.2 608.8L593.4 620.1L593.6 621.4L593.9 609.5L594.1 612.5L594.3 633.7L594.6 616.6L594.8 621.8L595.0 618.9L595.3 629.7L595.5 633.3L595.7 630.5L596.0 627.1L596.2 627.2L596.4 610.8L596.7 634.3L596.9 616.7L597.1 613.7L597.4 618.5L597.6 614.6L597.8 625.9L598.1 628.9L598.3 634.1L598.6 621.2L598.8 616.5L599.0 619.5L599.3 611.2L599.5 615.3L599.7 640.9L600.0 615.0L600.2 617.9L600.4 628.1L600.7 624.7L600.9 629.5L601.1 614.1L601.4 612.3L601.6 634.7L601.8 616.0L602.1 621.4L602.3 624.4L602.5 605.0L602.8 620.6L603.0 616.3L603.2 627.4L603.5 619.5L603.7 601.4L604.0 629.9L604.2 598.5L604.4 618.7L604.7 616.0L604.9 616.8L605.1 622.5L605.4 631.5L605.6 614.4L605.8 616.9L606.1 629.6L606.3 627.4L606.5 629.4L606.8 625.8L607.0 620.4L607.2 618.1L607.5 618.3L607.7 631.3L607.9 636.8L608.2 641.4L608.4 613.1L608.7 620.6L608.9 622.9L609.1 621.3L609.4 612.3L609.6 643.4L609.8 637.1L610.1 621.4L610.3 618.7L610.5 622.9L610.8 611.6L611.0 619.8L611.2 630.3L611.5 638.6L611.7 631.5L611.9 635.3L612.2 613.2L612.4 592.6L612.6 636.1L612.9 624.9L613.1 622.4L613.3 639.0L613.6 614.2L613.8 614.2L614.1 616.3L614.3 638.5L614.5 632.2L614.8 606.5L615.0 639.0L615.2 623.5L615.5 627.4L615.7 616.1L615.9 641.2L616.2 627.6L616.4 635.9L616.6 614.0L616.9 630.1L617.1 624.4L617.3 621.4L617.6 615.8L617.8 616.9L618.0 612.5L618.3 617.3L618.5 623.4L618.7 629.1L619.0 608.8L619.2 613.8L619.5 617.8L619.7 608.1L619.9 621.0L620.2 621.2L620.4 621.9L620.6 627.7L620.9 632.7L621.1 631.4L621.3 626.4L621.6 629.4L621.8 616.3L622.0 614.9L622.3 630.0L622.5 629.2L622.7 644.8L623.0 621.8L623.2 614.5L623.4 626.7L623.7 619.7L623.9 615.5L624.1 637.0L624.4 642.3L624.6 627.6L624.9 617.8L625.1 626.5L625.3 623.6L625.6 610.9L625.8 632.1L626.0 627.4L626.3 636.1L626.5 618.9L626.7 624.1L627.0 623.1L627.2 607.8L627.4 648.2L627.7 604.4L627.9 613.4L628.1 620.9L628.4 609.5L628.6 628.4L628.8 620.0L629.1 625.1L629.3 626.7L629.5 625.2L629.8 625.4L630.0 623.1L630.3 628.6L630.5 632.3L630.7 622.2L631.0 620.4L631.2 620.8L631.4 627.6L631.7 621.2L631.9 621.1L632.1 610.3L632.4 643.2L632.6 613.0" fill="none" stroke="#1a1a1a" stroke-width="0.9" stroke-linejoin="bevel"/><path d="M456.5 623.9L456.7 615.4L457.0 617.6L457.2 610.4L457.4 612.6L457.7 610.7L457.9 613.6L458.1 616.0L458.4 622.6L458.6 598.5L458.8 612.7L459.1 623.6L459.3 621.5L459.6 598.3L459.8 611.2L460.0 610.9L460.3 610.6L460.5 586.6L460.7 616.6L461.0 592.8L461.2 629.4L461.4 614.7L461.7 607.4L461.9 614.5L462.1 609.8L462.4 603.3L462.6 607.6L462.8 611.9L463.1 600.8L463.3 615.4L463.5 619.3L463.8 619.0L464.0 620.0L464.2 621.2L464.5 615.5L464.7 621.4L465.0 609.3L465.2 612.7L465.4 622.5L465.7 627.5L465.9 605.4L466.1 594.8L466.4 629.6L466.6 620.1L466.8 626.6L467.1 617.7L467.3 611.3L467.5 602.8L467.8 599.7L468.0 623.1L468.2 618.6L468.5 612.2L468.7 598.3L468.9 604.0L469.2 603.1L469.4 606.2L469.6 581.2L469.9 611.4L470.1 624.4L470.4 603.9L470.6 609.5L470.8 611.9L471.1 599.6L471.3 613.5L471.5 601.4L471.8 605.1L472.0 611.8L472.2 608.8L472.5 610.3L472.7 600.5L472.9 616.5L473.2 598.9L473.4 617.7L473.6 604.8L473.9 597.9L474.1 608.7L474.3 599.2L474.6 604.4L474.8 608.1L475.0 617.2L475.3 617.4L475.5 614.3L475.8 606.9L476.0 594.8L476.2 607.5L476.5 606.6L476.7 608.4L476.9 604.6L477.2 604.6L477.4 617.6L477.6 596.8L477.9 609.9L478.1 622.1L478.3 602.3L478.6 600.2L478.8 607.7L479.0 606.5L479.3 612.5L479.5 623.1L479.7 608.7L480.0 615.4L480.2 604.3L480.4 605.2L480.7 612.9L480.9 603.5L481.2 621.7L481.4 606.1L481.6 608.5L481.9 599.9L482.1 605.8L482.3 600.3L482.6 605.4L482.8 592.8L483.0 610.0L483.3 627.2L483.5 591.8L483.7 627.2L484.0 609.0L484.2 618.9L484.4 600.4L484.7 630.1L484.9 599.7L485.1 609.5L485.4 625.6L485.6 597.8L485.8 587.4L486.1 609.6L486.3 602.8L486.6 600.8L486.8 601.4L487.0 596.0L487.3 624.2L487.5 622.4L487.7 597.0L488.0 609.4L488.2 606.0L488.4 621.3L488.7 602.3L488.9 626.5L489.1 610.6L489.4 602.8L489.6 609.7L489.8 604.8L490.1 632.9L490.3 612.1L490.5 605.9L490.8 611.6L491.0 625.2L491.3 601.2L491.5 594.1L491.7 623.7L492.0 616.8L492.2 606.3L492.4 610.0L492.7 621.7L492.9 583.8L493.1 623.4L493.4 609.1L493.6 617.5L493.8 610.3L494.1 641.5L494.3 604.7L494.5 621.8L494.8 585.1L495.0 611.3L495.2 618.8L495.5 595.6L495.7 590.8L495.9 611.9L496.2 621.1L496.4 622.8L496.7 604.2L496.9 614.5L497.1 597.0L497.4 628.5L497.6 605.4L497.8 623.8L498.1 608.4L498.3 607.9L498.5 627.3L498.8 602.5L499.0 624.1L499.2 607.6L499.5 602.5L499.7 602.9L499.9 622.5L500.2 610.5L500.4 607.7L500.6 596.2L500.9 623.0L501.1 621.8L501.3 614.6L501.6 619.1L501.8 578.9L502.1 606.1L502.3 613.0L502.5 612.5L502.8 605.7L503.0 613.8L503.2 604.2L503.5 604.9L503.7 599.0L503.9 612.9L504.2 604.3L504.4 606.5L504.6 625.4L504.9 611.1L505.1 611.2L505.3 596.3L505.6 606.4L505.8 621.5L506.0 617.2L506.3 612.2L506.5 609.9L506.7 612.4L507.0 615.7L507.2 608.5L507.5 586.9L507.7 631.4L507.9 623.2L508.2 610.3L508.4 625.9L508.6 598.8L508.9 624.8L509.1 613.8L509.3 620.8L509.6 608.5L509.8 613.4L510.0 617.8L510.3 622.4L510.5 617.1L510.7 616.4L511.0 606.1L511.2 629.2L511.4 614.1L511.7 609.8L511.9 608.8L512.1 600.1L512.4 604.7L512.6 596.9L512.9 614.2L513.1 611.4L513.3 614.4L513.6 599.7L513.8 608.0L514.0 605.8L514.3 622.2L514.5 597.4L514.7 597.1L515.0 625.1L515.2 615.9L515.4 596.7L515.7 625.8L515.9 627.3L516.1 623.8L516.4 591.8L516.6 613.6L516.8 603.8L517.1 609.8L517.3 596.7L517.5 629.8L517.8 605.6L518.0 615.3L518.3 620.6L518.5 618.7L518.7 616.7L519.0 608.7L519.2 614.8L519.4 610.4L519.7 589.9L519.9 622.7L520.1 606.4L520.4 607.5L520.6 608.6L520.8 598.8L521.1 600.6L521.3 594.7L521.5 617.5L521.8 624.6L522.0 613.6L522.2 601.4L522.5 625.9L522.7 609.7L522.9 596.9L523.2 594.1L523.4 614.7L523.7 627.4L523.9 609.1L524.1 606.6L524.4 610.2L524.6 604.5L524.8 607.5L525.1 615.5L525.3 605.8L525.5 622.4L525.8 603.3L526.0 620.2L526.2 616.6L526.5 609.2L526.7 610.2L526.9 609.9L527.2 629.9L527.4 605.1L527.6 625.1L527.9 623.3L528.1 609.8L528.3 629.4L528.6 589.5L528.8 615.7L529.1 614.6L529.3 613.5L529.5 621.7L529.8 609.3L530.0 611.5L530.2 624.9L530.5 612.2L530.7 603.1L530.9 619.1L531.2 612.6L531.4 607.8L531.6 619.0L531.9 605.8L532.1 603.7L532.3 610.9L532.6 611.6L532.8 614.1L533.0 601.5L533.3 630.8L533.5 620.4L533.7 615.1L534.0 615.9L534.2 588.6L534.5 622.9L534.7 603.5L534.9 618.8L535.2 601.8L535.4 623.6L535.6 608.4L535.9 611.7L536.1 629.1L536.3 623.7L536.6 600.1L536.8 606.9L537.0 615.8L537.3 611.6L537.5 622.0L537.7 607.1L538.0 595.2L538.2 604.8L538.4 612.1L538.7 619.5L538.9 621.5L539.1 626.5L539.4 616.4L539.6 612.0L539.9 621.4L540.1 613.1L540.3 609.4L540.6 609.5L540.8 623.4L541.0 629.0L541.3 627.3L541.5 598.2L541.7 625.2L542.0 603.0L542.2 610.8L542.4 620.1L542.7 601.0L542.9 602.0L543.1 606.8L543.4 631.2L543.6 625.1L543.8 605.4L544.1 615.8L544.3 615.8L544.5 617.6L544.8 607.3L545.0 628.9L545.3 610.7L545.5 622.7L545.7 597.7L546.0 618.5L546.2 616.0L546.4 628.2L546.7 588.6L546.9 620.2L547.1 622.8L547.4 612.0L547.6 627.8L547.8 635.7L548.1 623.5L548.3 622.8L548.5 628.2L548.8 619.2L549.0 627.1L549.2 620.8L549.5 608.0L549.7 604.3L550.0 626.6L550.2 620.9L550.4 608.2L550.7 615.2L550.9 629.6L551.1 597.8L551.4 605.9L551.6 622.0L551.8 623.2L552.1 603.3L552.3 605.1L552.5 616.7L552.8 629.1L553.0 615.2L553.2 591.9L553.5 625.4L553.7 614.9L553.9 610.6L554.2 603.6L554.4 627.1L554.6 617.9L554.9 619.3L555.1 618.7L555.4 619.6L555.6 623.7L555.8 632.4L556.1 604.7L556.3 614.6L556.5 610.8L556.8 632.2L557.0 612.5L557.2 599.3L557.5 615.1L557.7 608.1L557.9 608.0L558.2 611.0L558.4 602.4L558.6 596.1L558.9 635.0L559.1 614.3L559.3 606.2L559.6 621.8L559.8 628.9L560.0 598.1L560.3 611.1L560.5 618.4L560.8 607.2L561.0 620.2L561.2 603.3L561.5 609.0L561.7 614.5L561.9 620.0L562.2 616.1L562.4 608.9L562.6 612.1L562.9 594.6L563.1 637.2L563.3 611.7L563.6 612.9L563.8 618.5L564.0 621.6L564.3 619.3L564.5 609.1L564.7 599.3L565.0 614.2L565.2 608.0L565.4 610.4L565.7 616.0L565.9 618.4L566.2 629.0L566.4 614.6L566.6 598.8L566.9 621.9L567.1 625.4L567.3 599.6L567.6 622.2L567.8 618.0L568.0 610.7L568.3 617.9L568.5 620.1L568.7 622.1L569.0 627.7L569.2 616.1L569.4 616.2L569.7 640.5L569.9 605.6L570.1 613.6L570.4 612.8L570.6 624.0L570.8 627.4L571.1 603.1L571.3 628.7L571.6 604.5L571.8 642.6L572.0 609.7L572.3 627.5L572.5 613.8L572.7 623.6L573.0 609.0L573.2 617.9L573.4 616.8L573.7 617.5L573.9 624.5L574.1 612.2L574.4 613.4L574.6 603.5L574.8 615.3L575.1 611.8L575.3 625.5L575.5 623.4L575.8 609.5L576.0 621.2L576.2 629.9L576.5 614.7L576.7 605.1L577.0 641.5L577.2 622.4L577.4 623.9L577.7 642.0L577.9 608.9L578.1 620.0L578.4 598.0L578.6 621.9L578.8 620.9L579.1 609.1L579.3 608.5L579.5 615.3L579.8 614.7L580.0 632.9L580.2 614.6L580.5 615.5L580.7 615.3L580.9 601.1L581.2 612.3L581.4 603.6L581.6 618.4L581.9 595.2L582.1 605.9L582.4 619.8L582.6 596.2L582.8 601.6L583.1 627.2L583.3 603.9L583.5 617.2L583.8 620.4L584.0 606.7L584.2 600.4L584.5 632.7L584.7 611.8L584.9 622.6L585.2 609.8L585.4 621.1L585.6 604.3L585.9 603.7L586.1 607.0L586.3 611.2L586.6 611.2L586.8 614.2L587.0 621.9L587.3 612.2L587.5 626.9L587.8 611.0L588.0 624.3L588.2 630.8L588.5 635.1L588.7 597.8L588.9 635.0L589.2 600.0L589.4 631.9L589.6 617.6L589.9 621.3L590.1 608.3L590.3 627.2L590.6 624.7L590.8 612.3L591.0 611.7L591.3 626.5L591.5 628.2L591.7 625.6L592.0 614.1L592.2 618.0L592.4 627.4L592.7 626.4L592.9 629.3L593.2 619.4L593.4 611.0L593.6 621.0L593.9 622.6L594.1 612.8L594.3 622.6L594.6 609.7L594.8 620.7L595.0 612.1L595.3 639.4L595.5 630.1L595.7 620.8L596.0 605.1L596.2 606.0L596.4 625.3L596.7 616.8L596.9 621.4L597.1 602.6L597.4 603.3L597.6 619.5L597.8 616.3L598.1 605.1L598.3 610.4L598.6 626.3L598.8 614.1L599.0 624.2L599.3 635.0L599.5 621.9L599.7 619.8L600.0 612.6L600.2 630.7L600.4 604.1L600.7 607.6L600.9 618.4L601.1 603.9L601.4 628.4L601.6 612.4L601.8 624.0L602.1 615.6L602.3 616.2L602.5 618.9L602.8 599.1L603.0 607.9L603.2 614.0L603.5 641.0L603.7 626.9L604.0 626.1L604.2 608.5L604.4 627.8L604.7 631.3L604.9 626.4L605.1 645.2L605.4 605.4L605.6 608.2L605.8 616.3L606.1 609.2L606.3 619.5L606.5 624.2L606.8 618.9L607.0 620.0L607.2 623.1L607.5 626.8L607.7 612.5L607.9 612.4L608.2 631.0L608.4 615.7L608.7 610.8L608.9 622.0L609.1 615.7L609.4 620.4L609.6 618.6L609.8 625.5L610.1 628.4L610.3 611.0L610.5 607.1L610.8 635.3L611.0 612.5L611.2 603.8L611.5 600.4L611.7 619.0L611.9 612.9L612.2 601.1L612.4 609.9L612.6 608.8L612.9 629.4L613.1 621.8L613.3 619.3L613.6 606.8L613.8 617.7L614.1 626.1L614.3 621.1L614.5 630.1L614.8 620.3L615.0 626.5L615.2 624.1L615.5 613.9L615.7 633.0L615.9 623.2L616.2 627.9L616.4 609.0L616.6 608.8L616.9 617.9L617.1 611.6L617.3 625.9L617.6 623.8L617.8 632.0L618.0 625.7L618.3 608.5L618.5 629.3L618.7 613.3L619.0 612.5L619.2 620.5L619.5 619.8L619.7 630.3L619.9 648.2L620.2 624.2L620.4 634.5L620.6 617.8L620.9 623.3L621.1 614.8L621.3 615.8L621.6 633.5L621.8 624.6L622.0 624.5L622.3 612.1L622.5 637.2L622.7 618.3L623.0 613.6L623.2 620.0L623.4 626.9L623.7 627.7L623.9 634.9L624.1 609.6L624.4 615.9L624.6 635.8L624.9 643.0L625.1 614.0L625.3 619.4L625.6 604.9L625.8 612.1L626.0 611.6L626.3 619.4L626.5 608.5L626.7 629.7L627.0 619.9L627.2 617.9L627.4 629.7L627.7 617.8L627.9 608.1L628.1 620.8L628.4 642.2L628.6 621.6L628.8 625.8L629.1 618.6L629.3 618.4L629.5 625.7L629.8 594.3L630.0 608.3L630.3 614.8L630.5 618.0L630.7 635.2L631.0 645.2L631.2 627.1L631.4 624.8L631.7 627.6L631.9 635.9L632.1 611.0L632.4 615.9L632.6 622.4" fill="none" stroke="#fa0c0c" stroke-width="1.0" stroke-linejoin="bevel"/><rect x="18.4" y="366.7" width="303.0" height="294.3" fill="none" stroke="#7a7a7a" stroke-width="1.3"/><line x1="18.4" y1="514.0" x2="321.4" y2="514.0" stroke="#3c3c3c" stroke-width="1.2"/><rect x="330.4" y="366.7" width="117.10000000000002" height="294.3" fill="none" stroke="#7a7a7a" stroke-width="1.3"/><line x1="330.4" y1="514.0" x2="447.5" y2="514.0" stroke="#3c3c3c" stroke-width="1.2"/><rect x="456.5" y="366.7" width="176.10000000000002" height="294.3" fill="none" stroke="#7a7a7a" stroke-width="1.3"/><line x1="456.5" y1="514.0" x2="632.6" y2="514.0" stroke="#3c3c3c" stroke-width="1.2"/><path d="M61.7 366.7v5.5 M61.7 514.0v-5.5 M61.7 514.0v5.5 M61.7 661.0v-5.5 M105.0 366.7v5.5 M105.0 514.0v-5.5 M105.0 514.0v5.5 M105.0 661.0v-5.5 M148.3 366.7v5.5 M148.3 514.0v-5.5 M148.3 514.0v5.5 M148.3 661.0v-5.5 M191.5 366.7v5.5 M191.5 514.0v-5.5 M191.5 514.0v5.5 M191.5 661.0v-5.5 M234.8 366.7v5.5 M234.8 514.0v-5.5 M234.8 514.0v5.5 M234.8 661.0v-5.5 M278.1 366.7v5.5 M278.1 514.0v-5.5 M278.1 514.0v5.5 M278.1 661.0v-5.5 M343.5 366.7v5.5 M343.5 514.0v-5.5 M343.5 514.0v5.5 M343.5 661.0v-5.5 M356.5 366.7v5.5 M356.5 514.0v-5.5 M356.5 514.0v5.5 M356.5 661.0v-5.5 M369.5 366.7v5.5 M369.5 514.0v-5.5 M369.5 514.0v5.5 M369.5 661.0v-5.5 M394.0 366.7v5.5 M394.0 514.0v-5.5 M394.0 514.0v5.5 M394.0 661.0v-5.5 M411.8 366.7v5.5 M411.8 514.0v-5.5 M411.8 514.0v5.5 M411.8 661.0v-5.5 M429.6 366.7v5.5 M429.6 514.0v-5.5 M429.6 514.0v5.5 M429.6 661.0v-5.5 M480.0 366.7v5.5 M480.0 514.0v-5.5 M480.0 514.0v5.5 M480.0 661.0v-5.5 M503.5 366.7v5.5 M503.5 514.0v-5.5 M503.5 514.0v5.5 M503.5 661.0v-5.5 M526.9 366.7v5.5 M526.9 514.0v-5.5 M526.9 514.0v5.5 M526.9 661.0v-5.5 M550.4 366.7v5.5 M550.4 514.0v-5.5 M550.4 514.0v5.5 M550.4 661.0v-5.5 M573.9 366.7v5.5 M573.9 514.0v-5.5 M573.9 514.0v5.5 M573.9 661.0v-5.5 M597.4 366.7v5.5 M597.4 514.0v-5.5 M597.4 514.0v5.5 M597.4 661.0v-5.5 M620.9 366.7v5.5 M620.9 514.0v-5.5 M620.9 514.0v5.5 M620.9 661.0v-5.5" stroke="#5a5a5a" stroke-width="1"/><path d="M375.0 359.7L378.0 373.7M376.5 359.7L379.5 373.7" stroke="#555" stroke-width="0.9" fill="none"/><path d="M375.0 507.0L378.0 521.0M376.5 507.0L379.5 521.0" stroke="#555" stroke-width="0.9" fill="none"/><path d="M375.0 654.0L378.0 668.0M376.5 654.0L379.5 668.0" stroke="#555" stroke-width="0.9" fill="none"/><line x1="25.5" y1="33.8" x2="37.4" y2="33.8" stroke="#6a6a6a" stroke-width="1.2"/><line x1="25.5" y1="49.6" x2="37.4" y2="49.6" stroke="#d87878" stroke-width="1.2"/><text x="42.63" y="37.80" font-family="Liberation Sans" font-size="12.0" fill="#222" textLength="35.06" lengthAdjust="spacingAndGlyphs">0.95 Li</text><text x="42.63" y="53.40" font-family="Liberation Sans" font-size="12.0" fill="#222" textLength="41.64" lengthAdjust="spacingAndGlyphs">0.975 Li</text><line x1="25.5" y1="180.8" x2="37.4" y2="180.8" stroke="#6a6a6a" stroke-width="1.2"/><line x1="25.5" y1="196.6" x2="37.4" y2="196.6" stroke="#d87878" stroke-width="1.2"/><text x="42.63" y="184.80" font-family="Liberation Sans" font-size="12.0" fill="#222" textLength="35.06" lengthAdjust="spacingAndGlyphs">0.95 Li</text><text x="42.63" y="200.40" font-family="Liberation Sans" font-size="12.0" fill="#222" textLength="41.64" lengthAdjust="spacingAndGlyphs">0.975 Li</text><text x="53.98" y="334.20" font-family="Liberation Sans" font-size="14.3" font-weight="bold" fill="#111" textLength="16.66" lengthAdjust="spacingAndGlyphs">40</text><text x="140.83" y="334.20" font-family="Liberation Sans" font-size="14.3" font-weight="bold" fill="#111" textLength="16.08" lengthAdjust="spacingAndGlyphs">50</text><text x="227.44" y="334.20" font-family="Liberation Sans" font-size="14.3" font-weight="bold" fill="#111" textLength="16.48" lengthAdjust="spacingAndGlyphs">60</text><text x="313.47" y="334.20" font-family="Liberation Sans" font-size="14.3" font-weight="bold" fill="#111" textLength="45.15" lengthAdjust="spacingAndGlyphs">7018.5</text><text x="361.99" y="334.20" font-family="Liberation Sans" font-size="14.3" font-weight="bold" fill="#111" textLength="16.26" lengthAdjust="spacingAndGlyphs">19</text><text x="404.49" y="334.20" font-family="Liberation Sans" font-size="14.3" font-weight="bold" fill="#111" textLength="15.61" lengthAdjust="spacingAndGlyphs">44</text><text x="439.67" y="334.20" font-family="Liberation Sans" font-size="14.3" font-weight="bold" fill="#111" textLength="16.98" lengthAdjust="spacingAndGlyphs">45</text><text x="494.99" y="334.20" font-family="Liberation Sans" font-size="14.3" font-weight="bold" fill="#111" textLength="16.32" lengthAdjust="spacingAndGlyphs">24</text><text x="541.97" y="334.20" font-family="Liberation Sans" font-size="14.3" font-weight="bold" fill="#111" textLength="16.71" lengthAdjust="spacingAndGlyphs">28</text><text x="589.66" y="334.20" font-family="Liberation Sans" font-size="14.3" font-weight="bold" fill="#111" textLength="16.67" lengthAdjust="spacingAndGlyphs">32</text><text x="249.06" y="350.70" font-family="Liberation Sans" font-size="14.2" font-weight="bold" fill="#111" textLength="159.59" lengthAdjust="spacingAndGlyphs">Scattering Angle (deg.)</text><text transform="translate(12.80,233.39) rotate(-90)" x="0" y="0" font-family="Liberation Sans" font-size="14.4" font-weight="bold" fill="#111" textLength="124.92" lengthAdjust="spacingAndGlyphs">Intensity (Counts)</text><line x1="24.5" y1="379.1" x2="36.4" y2="379.1" stroke="#6a6a6a" stroke-width="1.2"/><line x1="24.5" y1="394.9" x2="36.4" y2="394.9" stroke="#d87878" stroke-width="1.2"/><text x="41.63" y="383.10" font-family="Liberation Sans" font-size="12.0" fill="#222" textLength="35.06" lengthAdjust="spacingAndGlyphs">0.95 Li</text><text x="41.63" y="398.70" font-family="Liberation Sans" font-size="12.0" fill="#222" textLength="41.64" lengthAdjust="spacingAndGlyphs">0.975 Li</text><line x1="24.5" y1="526.4" x2="36.4" y2="526.4" stroke="#6a6a6a" stroke-width="1.2"/><line x1="24.5" y1="542.2" x2="36.4" y2="542.2" stroke="#d87878" stroke-width="1.2"/><text x="41.63" y="530.40" font-family="Liberation Sans" font-size="12.0" fill="#222" textLength="35.06" lengthAdjust="spacingAndGlyphs">0.95 Li</text><text x="41.63" y="546.00" font-family="Liberation Sans" font-size="12.0" fill="#222" textLength="41.64" lengthAdjust="spacingAndGlyphs">0.975 Li</text><text x="53.28" y="679.70" font-family="Liberation Sans" font-size="14.3" font-weight="bold" fill="#111" textLength="16.66" lengthAdjust="spacingAndGlyphs">40</text><text x="140.13" y="679.70" font-family="Liberation Sans" font-size="14.3" font-weight="bold" fill="#111" textLength="16.08" lengthAdjust="spacingAndGlyphs">50</text><text x="226.74" y="679.70" font-family="Liberation Sans" font-size="14.3" font-weight="bold" fill="#111" textLength="16.48" lengthAdjust="spacingAndGlyphs">60</text><text x="312.77" y="679.70" font-family="Liberation Sans" font-size="14.3" font-weight="bold" fill="#111" textLength="45.15" lengthAdjust="spacingAndGlyphs">7018.5</text><text x="361.29" y="679.70" font-family="Liberation Sans" font-size="14.3" font-weight="bold" fill="#111" textLength="16.26" lengthAdjust="spacingAndGlyphs">19</text><text x="403.79" y="679.70" font-family="Liberation Sans" font-size="14.3" font-weight="bold" fill="#111" textLength="15.61" lengthAdjust="spacingAndGlyphs">44</text><text x="438.97" y="679.70" font-family="Liberation Sans" font-size="14.3" font-weight="bold" fill="#111" textLength="16.98" lengthAdjust="spacingAndGlyphs">45</text><text x="494.29" y="679.70" font-family="Liberation Sans" font-size="14.3" font-weight="bold" fill="#111" textLength="16.32" lengthAdjust="spacingAndGlyphs">24</text><text x="541.27" y="679.70" font-family="Liberation Sans" font-size="14.3" font-weight="bold" fill="#111" textLength="16.71" lengthAdjust="spacingAndGlyphs">28</text><text x="588.96" y="679.70" font-family="Liberation Sans" font-size="14.3" font-weight="bold" fill="#111" textLength="16.67" lengthAdjust="spacingAndGlyphs">32</text><text x="248.06" y="696.40" font-family="Liberation Sans" font-size="14.2" font-weight="bold" fill="#111" textLength="159.59" lengthAdjust="spacingAndGlyphs">Scattering Angle (deg.)</text><text transform="translate(12.30,578.89) rotate(-90)" x="0" y="0" font-family="Liberation Sans" font-size="14.4" font-weight="bold" fill="#111" textLength="124.92" lengthAdjust="spacingAndGlyphs">Intensity (Counts)</text><text x="123.11" y="42.90" font-family="Liberation Sans" font-size="14.5" font-weight="bold" fill="#111" textLength="143.67" lengthAdjust="spacingAndGlyphs">NiAl Step 1 850°C 5h</text><text x="124.04" y="59.30" font-family="Liberation Sans" font-size="14.5" font-weight="bold" fill="#111" textLength="87.99" lengthAdjust="spacingAndGlyphs">with given Li</text><text x="123.01" y="190.00" font-family="Liberation Sans" font-size="14.5" font-weight="bold" fill="#111" textLength="197.09" lengthAdjust="spacingAndGlyphs">NiAl Step 2 1.02Li 750°C 12h</text><text x="124.04" y="206.40" font-family="Liberation Sans" font-size="14.5" font-weight="bold" fill="#111" textLength="134.51" lengthAdjust="spacingAndGlyphs">with given step 1 Li</text><text x="119.21" y="388.60" font-family="Liberation Sans" font-size="14.5" font-weight="bold" fill="#111" textLength="149.68" lengthAdjust="spacingAndGlyphs">NiMg Step 1 850°C 5h</text><text x="119.84" y="404.30" font-family="Liberation Sans" font-size="14.5" font-weight="bold" fill="#111" textLength="88.40" lengthAdjust="spacingAndGlyphs">with given Li</text><text x="113.41" y="535.60" font-family="Liberation Sans" font-size="14.5" font-weight="bold" fill="#111" textLength="203.77" lengthAdjust="spacingAndGlyphs">NiMg Step 2 1.02Li 750°C 12h</text><text x="114.04" y="551.75" font-family="Liberation Sans" font-size="14.5" font-weight="bold" fill="#111" textLength="135.01" lengthAdjust="spacingAndGlyphs">with given step 1 Li</text><text x="338.78" y="14.10" font-family="Liberation Sans" font-size="14.0" fill="#111" textLength="101.45" lengthAdjust="spacingAndGlyphs">(003) and (104)</text><text x="491.64" y="13.30" font-family="Liberation Sans" font-size="14.0" fill="#111" textLength="97.13" lengthAdjust="spacingAndGlyphs">Impurity region</text><text x="3.67" y="342.00" font-family="Liberation Sans" font-size="28.0" fill="#111" textLength="32.91" lengthAdjust="spacingAndGlyphs">(a)</text><text x="2.98" y="688.40" font-family="Liberation Sans" font-size="28.0" fill="#111" textLength="33.63" lengthAdjust="spacingAndGlyphs">(b)</text><text transform="translate(35.90,104.13) rotate(-90)" x="0" y="0" font-family="Liberation Sans" font-size="11.4" fill="#111" textLength="27.36" lengthAdjust="spacingAndGlyphs">(101)</text><text transform="translate(51.65,130.89) rotate(-90)" x="0" y="0" font-family="Liberation Sans" font-size="11.4" fill="#111" textLength="54.98" lengthAdjust="spacingAndGlyphs">(006)/(012)</text><text transform="translate(114.85,56.43) rotate(-90)" x="0" y="0" font-family="Liberation Sans" font-size="11.4" fill="#111" textLength="27.15" lengthAdjust="spacingAndGlyphs">(104)</text><text transform="translate(141.35,147.02) rotate(-90)" x="0" y="0" font-family="Liberation Sans" font-size="11.4" fill="#111" textLength="27.04" lengthAdjust="spacingAndGlyphs">(015)</text><text transform="translate(228.50,146.63) rotate(-90)" x="0" y="0" font-family="Liberation Sans" font-size="11.4" fill="#111" textLength="27.36" lengthAdjust="spacingAndGlyphs">(107)</text><text transform="translate(272.35,134.31) rotate(-90)" x="0" y="0" font-family="Liberation Sans" font-size="11.4" fill="#111" textLength="26.46" lengthAdjust="spacingAndGlyphs">(018)</text><text transform="translate(285.15,134.32) rotate(-90)" x="0" y="0" font-family="Liberation Sans" font-size="11.4" fill="#111" textLength="25.94" lengthAdjust="spacingAndGlyphs">(110)</text><text transform="translate(310.25,148.73) rotate(-90)" x="0" y="0" font-family="Liberation Sans" font-size="11.4" fill="#111" textLength="26.47" lengthAdjust="spacingAndGlyphs">(113)</text><path d="M499.40 35.80L499.40 27.00M495.59 33.60L503.21 29.20M495.59 29.20L503.21 33.60" stroke="#111" stroke-width="2.3" stroke-linecap="round" fill="none"/><path d="M620.80 47.90L620.80 39.10M616.99 45.70L624.61 41.30M616.99 41.30L624.61 45.70" stroke="#111" stroke-width="2.3" stroke-linecap="round" fill="none"/><path d="M627.10 34.00L627.10 25.20M623.29 31.80L630.91 27.40M623.29 27.40L630.91 31.80" stroke="#111" stroke-width="2.3" stroke-linecap="round" fill="none"/><path d="M627.00 165.90L627.00 157.10M623.19 163.70L630.81 159.30M623.19 159.30L630.81 163.70" stroke="#111" stroke-width="2.3" stroke-linecap="round" fill="none"/><path d="M500.00 178.60L500.00 169.80M496.19 176.40L503.81 172.00M496.19 172.00L503.81 176.40" stroke="#111" stroke-width="2.3" stroke-linecap="round" fill="none"/><path d="M621.00 201.90L621.00 193.10M617.19 199.70L624.81 195.30M617.19 195.30L624.81 199.70" stroke="#111" stroke-width="2.3" stroke-linecap="round" fill="none"/><path d="M513.90 43.40L513.90 37.00M511.13 41.80L516.67 38.60M511.13 38.60L516.67 41.80" stroke="#111" stroke-width="2.0" stroke-linecap="round" fill="none"/><text x="520.30" y="43.80" font-family="Liberation Sans" font-size="18.0" fill="#111" textLength="12.28" lengthAdjust="spacingAndGlyphs">Li</text><text x="532.64" y="47.60" font-family="Liberation Sans" font-size="11.5" fill="#111" textLength="6.44" lengthAdjust="spacingAndGlyphs">5</text><text x="539.96" y="43.80" font-family="Liberation Sans" font-size="18.0" fill="#111" textLength="28.55" lengthAdjust="spacingAndGlyphs">AlO</text><text x="568.51" y="47.60" font-family="Liberation Sans" font-size="11.5" fill="#111" textLength="7.05" lengthAdjust="spacingAndGlyphs">4</text></svg>
</body></html>
